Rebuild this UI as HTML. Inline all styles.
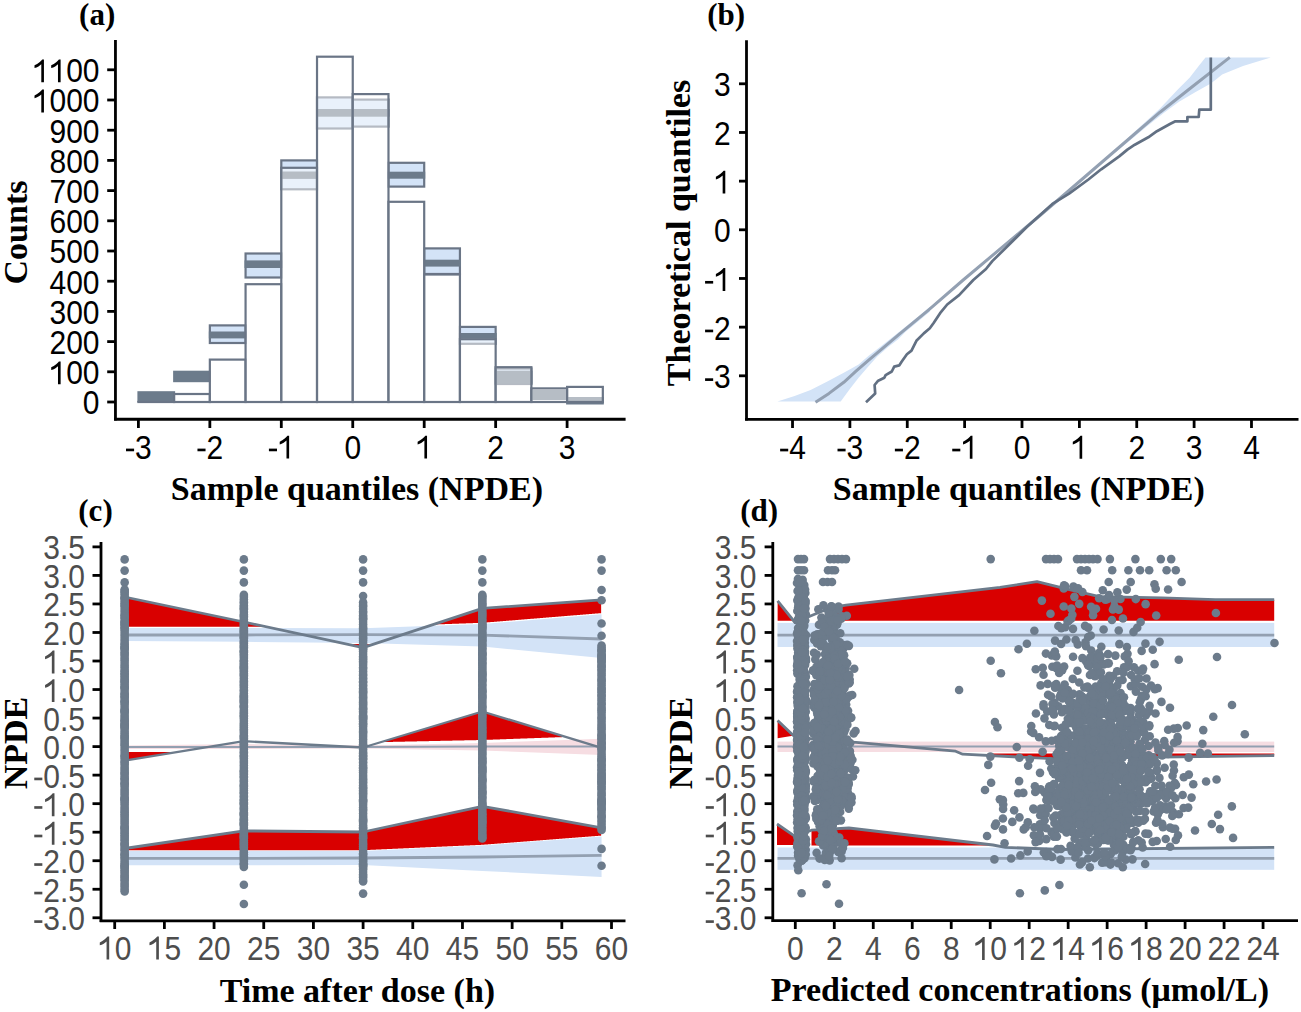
<!DOCTYPE html>
<html><head><meta charset="utf-8"><title>NPDE diagnostics</title>
<style>html,body{margin:0;padding:0;background:#fff;overflow:hidden}svg{display:block}</style>
</head><body>
<svg width="1301" height="1012" viewBox="0 0 1301 1012">
<rect width="1301" height="1012" fill="#fff"/>
<rect x="137.4" y="391.2" width="37.73" height="10.8" fill="#6c7b8b" />
<rect x="173.12" y="370.7" width="37.72" height="11.5" fill="#6c7b8b" />
<rect x="209.85" y="325.4" width="35.72" height="17.6" fill="#d3e3f7" stroke="#6a7586" stroke-width="2.2"/>
<rect x="208.85" y="331.5" width="37.72" height="6.9" fill="#6c7b8b" />
<rect x="245.57" y="253.5" width="35.73" height="24" fill="#d3e3f7" stroke="#6a7586" stroke-width="2.2"/>
<rect x="244.57" y="260.4" width="37.73" height="7.6" fill="#6c7b8b" />
<rect x="281.3" y="160.4" width="35.72" height="28.9" fill="#d3e3f7" stroke="#6a7586" stroke-width="2.2"/>
<rect x="280.3" y="171.5" width="37.72" height="7.4" fill="#6c7b8b" />
<rect x="317.02" y="97.4" width="35.73" height="31.1" fill="#d3e3f7" stroke="#6a7586" stroke-width="2.2"/>
<rect x="316.02" y="109" width="37.73" height="7.7" fill="#6c7b8b" />
<rect x="352.75" y="99.6" width="35.73" height="27" fill="#d3e3f7" stroke="#6a7586" stroke-width="2.2"/>
<rect x="351.75" y="109" width="37.73" height="7.7" fill="#6c7b8b" />
<rect x="388.48" y="162.8" width="35.72" height="23.8" fill="#d3e3f7" stroke="#6a7586" stroke-width="2.2"/>
<rect x="387.48" y="171.7" width="37.72" height="7" fill="#6c7b8b" />
<rect x="424.2" y="248.4" width="35.73" height="25.6" fill="#d3e3f7" stroke="#6a7586" stroke-width="2.2"/>
<rect x="423.2" y="259.7" width="37.73" height="6.9" fill="#6c7b8b" />
<rect x="459.93" y="326.9" width="35.72" height="16.9" fill="#d3e3f7" stroke="#6a7586" stroke-width="2.2"/>
<rect x="458.93" y="333" width="37.72" height="5.4" fill="#6c7b8b" />
<rect x="495.65" y="368.5" width="35.73" height="15.5" fill="#d3e3f7" stroke="#6a7586" stroke-width="2.2"/>
<rect x="494.65" y="370.7" width="37.73" height="13.1" fill="#6c7b8b" />
<rect x="530.38" y="390" width="37.73" height="10" fill="#6c7b8b" />
<rect x="566.1" y="397" width="37.73" height="7.5" fill="#6c7b8b" />
<rect x="138.4" y="402" width="35.73" height="0.01" fill="#fff" fill-opacity="0.5" stroke="#6a7586" stroke-width="2.2"/>
<rect x="174.12" y="394" width="35.72" height="8" fill="#fff" fill-opacity="0.5" stroke="#6a7586" stroke-width="2.2"/>
<rect x="209.85" y="359.6" width="35.72" height="42.4" fill="#fff" fill-opacity="0.5" stroke="#6a7586" stroke-width="2.2"/>
<rect x="245.57" y="284.2" width="35.73" height="117.8" fill="#fff" fill-opacity="0.5" stroke="#6a7586" stroke-width="2.2"/>
<rect x="281.3" y="167.8" width="35.72" height="234.2" fill="#fff" fill-opacity="0.5" stroke="#6a7586" stroke-width="2.2"/>
<rect x="317.02" y="56.7" width="35.73" height="345.3" fill="#fff" fill-opacity="0.5" stroke="#6a7586" stroke-width="2.2"/>
<rect x="352.75" y="94.1" width="35.73" height="307.9" fill="#fff" fill-opacity="0.5" stroke="#6a7586" stroke-width="2.2"/>
<rect x="388.48" y="201.8" width="35.72" height="200.2" fill="#fff" fill-opacity="0.5" stroke="#6a7586" stroke-width="2.2"/>
<rect x="424.2" y="274.5" width="35.73" height="127.5" fill="#fff" fill-opacity="0.5" stroke="#6a7586" stroke-width="2.2"/>
<rect x="459.93" y="339.2" width="35.72" height="62.8" fill="#fff" fill-opacity="0.5" stroke="#6a7586" stroke-width="2.2"/>
<rect x="495.65" y="367.2" width="35.73" height="34.8" fill="#fff" fill-opacity="0.5" stroke="#6a7586" stroke-width="2.2"/>
<rect x="531.38" y="388.4" width="35.73" height="13.6" fill="#fff" fill-opacity="0.5" stroke="#6a7586" stroke-width="2.2"/>
<rect x="567.1" y="386.9" width="35.73" height="15.1" fill="#fff" fill-opacity="0.5" stroke="#6a7586" stroke-width="2.2"/>
<line x1="115.45" y1="40" x2="115.45" y2="420.6" stroke="#000" stroke-width="2.8"/>
<line x1="114.1" y1="419.25" x2="625.6" y2="419.25" stroke="#000" stroke-width="2.8"/>
<line x1="107.2" y1="402" x2="115" y2="402" stroke="#000" stroke-width="2.8"/>
<g transform="translate(82.82,402.7) scale(1,1.1) translate(0,10.7)"><text x="0" y="0" font-family='"Liberation Sans", sans-serif' font-size="30" fill="#000">0</text></g>
<line x1="107.2" y1="371.8" x2="115" y2="371.8" stroke="#000" stroke-width="2.8"/>
<g transform="translate(49.45,372.5) scale(1,1.1) translate(0,10.7)"><path transform="translate(0,0) scale(0.014648,-0.014648)" d="M763,0L583,0L583,1120Q510,1050 390,985Q260,920 120,880L120,1050Q300,1120 460,1250Q590,1360 646,1420L763,1420Z" fill="#000"/><text x="16.68" y="0" font-family='"Liberation Sans", sans-serif' font-size="30" fill="#000">0</text><text x="33.37" y="0" font-family='"Liberation Sans", sans-serif' font-size="30" fill="#000">0</text></g>
<line x1="107.2" y1="341.6" x2="115" y2="341.6" stroke="#000" stroke-width="2.8"/>
<g transform="translate(49.45,342.3) scale(1,1.1) translate(0,10.7)"><text x="0" y="0" font-family='"Liberation Sans", sans-serif' font-size="30" fill="#000">2</text><text x="16.68" y="0" font-family='"Liberation Sans", sans-serif' font-size="30" fill="#000">0</text><text x="33.37" y="0" font-family='"Liberation Sans", sans-serif' font-size="30" fill="#000">0</text></g>
<line x1="107.2" y1="311.4" x2="115" y2="311.4" stroke="#000" stroke-width="2.8"/>
<g transform="translate(49.45,312.1) scale(1,1.1) translate(0,10.7)"><text x="0" y="0" font-family='"Liberation Sans", sans-serif' font-size="30" fill="#000">3</text><text x="16.68" y="0" font-family='"Liberation Sans", sans-serif' font-size="30" fill="#000">0</text><text x="33.37" y="0" font-family='"Liberation Sans", sans-serif' font-size="30" fill="#000">0</text></g>
<line x1="107.2" y1="281.2" x2="115" y2="281.2" stroke="#000" stroke-width="2.8"/>
<g transform="translate(49.45,281.9) scale(1,1.1) translate(0,10.7)"><text x="0" y="0" font-family='"Liberation Sans", sans-serif' font-size="30" fill="#000">4</text><text x="16.68" y="0" font-family='"Liberation Sans", sans-serif' font-size="30" fill="#000">0</text><text x="33.37" y="0" font-family='"Liberation Sans", sans-serif' font-size="30" fill="#000">0</text></g>
<line x1="107.2" y1="251" x2="115" y2="251" stroke="#000" stroke-width="2.8"/>
<g transform="translate(49.45,251.7) scale(1,1.1) translate(0,10.7)"><text x="0" y="0" font-family='"Liberation Sans", sans-serif' font-size="30" fill="#000">5</text><text x="16.68" y="0" font-family='"Liberation Sans", sans-serif' font-size="30" fill="#000">0</text><text x="33.37" y="0" font-family='"Liberation Sans", sans-serif' font-size="30" fill="#000">0</text></g>
<line x1="107.2" y1="220.8" x2="115" y2="220.8" stroke="#000" stroke-width="2.8"/>
<g transform="translate(49.45,221.5) scale(1,1.1) translate(0,10.7)"><text x="0" y="0" font-family='"Liberation Sans", sans-serif' font-size="30" fill="#000">6</text><text x="16.68" y="0" font-family='"Liberation Sans", sans-serif' font-size="30" fill="#000">0</text><text x="33.37" y="0" font-family='"Liberation Sans", sans-serif' font-size="30" fill="#000">0</text></g>
<line x1="107.2" y1="190.6" x2="115" y2="190.6" stroke="#000" stroke-width="2.8"/>
<g transform="translate(49.45,191.3) scale(1,1.1) translate(0,10.7)"><text x="0" y="0" font-family='"Liberation Sans", sans-serif' font-size="30" fill="#000">7</text><text x="16.68" y="0" font-family='"Liberation Sans", sans-serif' font-size="30" fill="#000">0</text><text x="33.37" y="0" font-family='"Liberation Sans", sans-serif' font-size="30" fill="#000">0</text></g>
<line x1="107.2" y1="160.4" x2="115" y2="160.4" stroke="#000" stroke-width="2.8"/>
<g transform="translate(49.45,161.1) scale(1,1.1) translate(0,10.7)"><text x="0" y="0" font-family='"Liberation Sans", sans-serif' font-size="30" fill="#000">8</text><text x="16.68" y="0" font-family='"Liberation Sans", sans-serif' font-size="30" fill="#000">0</text><text x="33.37" y="0" font-family='"Liberation Sans", sans-serif' font-size="30" fill="#000">0</text></g>
<line x1="107.2" y1="130.2" x2="115" y2="130.2" stroke="#000" stroke-width="2.8"/>
<g transform="translate(49.45,130.9) scale(1,1.1) translate(0,10.7)"><text x="0" y="0" font-family='"Liberation Sans", sans-serif' font-size="30" fill="#000">9</text><text x="16.68" y="0" font-family='"Liberation Sans", sans-serif' font-size="30" fill="#000">0</text><text x="33.37" y="0" font-family='"Liberation Sans", sans-serif' font-size="30" fill="#000">0</text></g>
<line x1="107.2" y1="100" x2="115" y2="100" stroke="#000" stroke-width="2.8"/>
<g transform="translate(32.76,100.7) scale(1,1.1) translate(0,10.7)"><path transform="translate(0,0) scale(0.014648,-0.014648)" d="M763,0L583,0L583,1120Q510,1050 390,985Q260,920 120,880L120,1050Q300,1120 460,1250Q590,1360 646,1420L763,1420Z" fill="#000"/><text x="16.68" y="0" font-family='"Liberation Sans", sans-serif' font-size="30" fill="#000">0</text><text x="33.37" y="0" font-family='"Liberation Sans", sans-serif' font-size="30" fill="#000">0</text><text x="50.05" y="0" font-family='"Liberation Sans", sans-serif' font-size="30" fill="#000">0</text></g>
<line x1="107.2" y1="69.8" x2="115" y2="69.8" stroke="#000" stroke-width="2.8"/>
<g transform="translate(32.76,70.5) scale(1,1.1) translate(0,10.7)"><path transform="translate(0,0) scale(0.014648,-0.014648)" d="M763,0L583,0L583,1120Q510,1050 390,985Q260,920 120,880L120,1050Q300,1120 460,1250Q590,1360 646,1420L763,1420Z" fill="#000"/><path transform="translate(16.68,0) scale(0.014648,-0.014648)" d="M763,0L583,0L583,1120Q510,1050 390,985Q260,920 120,880L120,1050Q300,1120 460,1250Q590,1360 646,1420L763,1420Z" fill="#000"/><text x="33.37" y="0" font-family='"Liberation Sans", sans-serif' font-size="30" fill="#000">0</text><text x="50.05" y="0" font-family='"Liberation Sans", sans-serif' font-size="30" fill="#000">0</text></g>
<line x1="138.4" y1="419" x2="138.4" y2="428" stroke="#000" stroke-width="2.8"/>
<g transform="translate(125.06,458.6) scale(1,1.1)"><path transform="translate(0,0) scale(0.014648,-0.014648)" d="M65,455L617,455L617,620L65,620Z" fill="#000"/><text x="9.99" y="0" font-family='"Liberation Sans", sans-serif' font-size="30" fill="#000">3</text></g>
<line x1="209.85" y1="419" x2="209.85" y2="428" stroke="#000" stroke-width="2.8"/>
<g transform="translate(196.51,458.6) scale(1,1.1)"><path transform="translate(0,0) scale(0.014648,-0.014648)" d="M65,455L617,455L617,620L65,620Z" fill="#000"/><text x="9.99" y="0" font-family='"Liberation Sans", sans-serif' font-size="30" fill="#000">2</text></g>
<line x1="281.3" y1="419" x2="281.3" y2="428" stroke="#000" stroke-width="2.8"/>
<g transform="translate(267.96,458.6) scale(1,1.1)"><path transform="translate(0,0) scale(0.014648,-0.014648)" d="M65,455L617,455L617,620L65,620Z" fill="#000"/><path transform="translate(9.99,0) scale(0.014648,-0.014648)" d="M763,0L583,0L583,1120Q510,1050 390,985Q260,920 120,880L120,1050Q300,1120 460,1250Q590,1360 646,1420L763,1420Z" fill="#000"/></g>
<line x1="352.75" y1="419" x2="352.75" y2="428" stroke="#000" stroke-width="2.8"/>
<g transform="translate(344.41,458.6) scale(1,1.1)"><text x="0" y="0" font-family='"Liberation Sans", sans-serif' font-size="30" fill="#000">0</text></g>
<line x1="424.2" y1="419" x2="424.2" y2="428" stroke="#000" stroke-width="2.8"/>
<g transform="translate(415.86,458.6) scale(1,1.1)"><path transform="translate(0,0) scale(0.014648,-0.014648)" d="M763,0L583,0L583,1120Q510,1050 390,985Q260,920 120,880L120,1050Q300,1120 460,1250Q590,1360 646,1420L763,1420Z" fill="#000"/></g>
<line x1="495.65" y1="419" x2="495.65" y2="428" stroke="#000" stroke-width="2.8"/>
<g transform="translate(487.31,458.6) scale(1,1.1)"><text x="0" y="0" font-family='"Liberation Sans", sans-serif' font-size="30" fill="#000">2</text></g>
<line x1="567.1" y1="419" x2="567.1" y2="428" stroke="#000" stroke-width="2.8"/>
<g transform="translate(558.76,458.6) scale(1,1.1)"><text x="0" y="0" font-family='"Liberation Sans", sans-serif' font-size="30" fill="#000">3</text></g>
<text x="356.9" y="499.8" text-anchor="middle" font-family='"Liberation Serif", serif' font-size="34" font-weight="bold" fill="#000">Sample quantiles (NPDE)</text>
<text transform="translate(26.9,232.5) rotate(-90)" text-anchor="middle" font-family='"Liberation Serif", serif' font-size="34" font-weight="bold" fill="#000">Counts</text>
<text x="79.1" y="25" text-anchor="start" font-family='"Liberation Serif", serif' font-size="31" font-weight="bold" fill="#000">(a)</text>
<polygon points="777.4,401.6 794.6,396.1 810.6,390 827.8,381.3 843.8,372.7 858.6,364.4 868.4,356 880.7,346.6 893,336.8 905.3,327 918,316.8 930,306.8 930,311.5 918,321.5 905.3,332 897.9,339.5 888.1,346.9 877,356.7 867.2,367.8 858.6,377.7 850,388.7 840.7,401.6" fill="#d3e3f7" />
<polygon points="1112,152.5 1120,145.5 1134.8,131.5 1150.8,117 1160,108.6 1177.8,89.6 1189.6,77.8 1198.7,66 1205.5,57.4 1270.7,57.4 1243,66 1222.1,74.6 1216,79.5 1210.4,83.7 1195.6,92 1179,101.7 1163,113.5 1147,126.3 1132.3,138.6 1120,148.5 1112,155" fill="#d3e3f7" />
<polyline points="815.5,402.3 829,393.4 843.8,382.3 856,371.2 868.4,360.4 900,333.6 928.7,309.8 962.6,280.5 1040,215.5 1116.6,149.5 1160,112.2 1190,88.5 1229.8,57.4" fill="none" stroke="#93a0b2" stroke-width="3.0" stroke-linejoin="round" />
<polyline points="866,402.3 875.2,393.6 874.6,385 878.2,380.7 884.4,377.7 885.6,375.2 891.8,371.5 894.2,366.6 899.2,365.4 901.6,361.7 906.9,354.3 911.5,350.6 916.4,340.8 923.8,333.4 929.8,328.3 933.8,322.7 940.1,313.2 947.2,304.5 959.1,295.1 973.3,280 986,269 992.3,261.1 1004.9,248.8 1026.8,227 1052.4,203.9 1069.1,193.6 1088.4,179.5 1101.2,169.3 1119.2,156.4 1127.4,149.6 1134.8,144.7 1148.3,137.3 1156.9,131.2 1170.4,123.8 1175.4,121.3 1187.4,121.3 1187.4,117 1198.7,117 1199.3,109.7 1210.8,109.7 1210.8,57.4" fill="none" stroke="#627083" stroke-width="2.7" stroke-linejoin="round" />
<line x1="746.5" y1="40.3" x2="746.5" y2="420.6" stroke="#000" stroke-width="2.8"/>
<line x1="745.1" y1="419.3" x2="1298.5" y2="419.3" stroke="#000" stroke-width="2.7"/>
<line x1="739" y1="375.81" x2="746" y2="375.81" stroke="#000" stroke-width="2.8"/>
<g transform="translate(704.13,376.51) scale(1,1.1) translate(0,10.7)"><path transform="translate(0,0) scale(0.014648,-0.014648)" d="M65,455L617,455L617,620L65,620Z" fill="#000"/><text x="9.99" y="0" font-family='"Liberation Sans", sans-serif' font-size="30" fill="#000">3</text></g>
<line x1="739" y1="327.14" x2="746" y2="327.14" stroke="#000" stroke-width="2.8"/>
<g transform="translate(704.13,327.84) scale(1,1.1) translate(0,10.7)"><path transform="translate(0,0) scale(0.014648,-0.014648)" d="M65,455L617,455L617,620L65,620Z" fill="#000"/><text x="9.99" y="0" font-family='"Liberation Sans", sans-serif' font-size="30" fill="#000">2</text></g>
<line x1="739" y1="278.47" x2="746" y2="278.47" stroke="#000" stroke-width="2.8"/>
<g transform="translate(704.13,279.17) scale(1,1.1) translate(0,10.7)"><path transform="translate(0,0) scale(0.014648,-0.014648)" d="M65,455L617,455L617,620L65,620Z" fill="#000"/><path transform="translate(9.99,0) scale(0.014648,-0.014648)" d="M763,0L583,0L583,1120Q510,1050 390,985Q260,920 120,880L120,1050Q300,1120 460,1250Q590,1360 646,1420L763,1420Z" fill="#000"/></g>
<line x1="739" y1="229.8" x2="746" y2="229.8" stroke="#000" stroke-width="2.8"/>
<g transform="translate(714.12,230.5) scale(1,1.1) translate(0,10.7)"><text x="0" y="0" font-family='"Liberation Sans", sans-serif' font-size="30" fill="#000">0</text></g>
<line x1="739" y1="181.13" x2="746" y2="181.13" stroke="#000" stroke-width="2.8"/>
<g transform="translate(714.12,181.83) scale(1,1.1) translate(0,10.7)"><path transform="translate(0,0) scale(0.014648,-0.014648)" d="M763,0L583,0L583,1120Q510,1050 390,985Q260,920 120,880L120,1050Q300,1120 460,1250Q590,1360 646,1420L763,1420Z" fill="#000"/></g>
<line x1="739" y1="132.46" x2="746" y2="132.46" stroke="#000" stroke-width="2.8"/>
<g transform="translate(714.12,133.16) scale(1,1.1) translate(0,10.7)"><text x="0" y="0" font-family='"Liberation Sans", sans-serif' font-size="30" fill="#000">2</text></g>
<line x1="739" y1="83.79" x2="746" y2="83.79" stroke="#000" stroke-width="2.8"/>
<g transform="translate(714.12,84.49) scale(1,1.1) translate(0,10.7)"><text x="0" y="0" font-family='"Liberation Sans", sans-serif' font-size="30" fill="#000">3</text></g>
<line x1="792.52" y1="419" x2="792.52" y2="428" stroke="#000" stroke-width="2.8"/>
<g transform="translate(779.18,458.7) scale(1,1.1)"><path transform="translate(0,0) scale(0.014648,-0.014648)" d="M65,455L617,455L617,620L65,620Z" fill="#000"/><text x="9.99" y="0" font-family='"Liberation Sans", sans-serif' font-size="30" fill="#000">4</text></g>
<line x1="849.89" y1="419" x2="849.89" y2="428" stroke="#000" stroke-width="2.8"/>
<g transform="translate(836.55,458.7) scale(1,1.1)"><path transform="translate(0,0) scale(0.014648,-0.014648)" d="M65,455L617,455L617,620L65,620Z" fill="#000"/><text x="9.99" y="0" font-family='"Liberation Sans", sans-serif' font-size="30" fill="#000">3</text></g>
<line x1="907.26" y1="419" x2="907.26" y2="428" stroke="#000" stroke-width="2.8"/>
<g transform="translate(893.92,458.7) scale(1,1.1)"><path transform="translate(0,0) scale(0.014648,-0.014648)" d="M65,455L617,455L617,620L65,620Z" fill="#000"/><text x="9.99" y="0" font-family='"Liberation Sans", sans-serif' font-size="30" fill="#000">2</text></g>
<line x1="964.63" y1="419" x2="964.63" y2="428" stroke="#000" stroke-width="2.8"/>
<g transform="translate(951.29,458.7) scale(1,1.1)"><path transform="translate(0,0) scale(0.014648,-0.014648)" d="M65,455L617,455L617,620L65,620Z" fill="#000"/><path transform="translate(9.99,0) scale(0.014648,-0.014648)" d="M763,0L583,0L583,1120Q510,1050 390,985Q260,920 120,880L120,1050Q300,1120 460,1250Q590,1360 646,1420L763,1420Z" fill="#000"/></g>
<line x1="1022" y1="419" x2="1022" y2="428" stroke="#000" stroke-width="2.8"/>
<g transform="translate(1013.66,458.7) scale(1,1.1)"><text x="0" y="0" font-family='"Liberation Sans", sans-serif' font-size="30" fill="#000">0</text></g>
<line x1="1079.37" y1="419" x2="1079.37" y2="428" stroke="#000" stroke-width="2.8"/>
<g transform="translate(1071.03,458.7) scale(1,1.1)"><path transform="translate(0,0) scale(0.014648,-0.014648)" d="M763,0L583,0L583,1120Q510,1050 390,985Q260,920 120,880L120,1050Q300,1120 460,1250Q590,1360 646,1420L763,1420Z" fill="#000"/></g>
<line x1="1136.74" y1="419" x2="1136.74" y2="428" stroke="#000" stroke-width="2.8"/>
<g transform="translate(1128.4,458.7) scale(1,1.1)"><text x="0" y="0" font-family='"Liberation Sans", sans-serif' font-size="30" fill="#000">2</text></g>
<line x1="1194.11" y1="419" x2="1194.11" y2="428" stroke="#000" stroke-width="2.8"/>
<g transform="translate(1185.77,458.7) scale(1,1.1)"><text x="0" y="0" font-family='"Liberation Sans", sans-serif' font-size="30" fill="#000">3</text></g>
<line x1="1251.48" y1="419" x2="1251.48" y2="428" stroke="#000" stroke-width="2.8"/>
<g transform="translate(1243.14,458.7) scale(1,1.1)"><text x="0" y="0" font-family='"Liberation Sans", sans-serif' font-size="30" fill="#000">4</text></g>
<text x="1018.8" y="500" text-anchor="middle" font-family='"Liberation Serif", serif' font-size="34" font-weight="bold" fill="#000">Sample quantiles (NPDE)</text>
<text transform="translate(689.5,233) rotate(-90)" text-anchor="middle" font-family='"Liberation Serif", serif' font-size="34" font-weight="bold" fill="#000">Theoretical quantiles</text>
<text x="707.3" y="24.8" text-anchor="start" font-family='"Liberation Serif", serif' font-size="31" font-weight="bold" fill="#000">(b)</text>
<polygon points="124.64,628 243.87,628 363.1,628.2 482.33,624 601.56,614.3 601.56,658 482.33,646.5 363.1,642.9 243.87,641.8 124.64,641" fill="#d3e3f7" />
<polygon points="124.64,745.5 243.87,744 363.1,745.5 482.33,743 601.56,738.7 601.56,754.9 482.33,750.6 363.1,748.5 243.87,749 124.64,749" fill="#f6dde2" />
<polygon points="124.64,851 243.87,851 363.1,851 482.33,845.6 601.56,836.4 601.56,876.9 482.33,871 363.1,865 243.87,865.3 124.64,865.3" fill="#d3e3f7" />
<polygon points="124.64,597 125.14,597.1 125.64,597.21 126.14,597.31 126.64,597.42 127.14,597.52 127.64,597.63 128.14,597.73 128.64,597.84 129.14,597.94 129.64,598.05 130.14,598.15 130.64,598.26 131.14,598.36 131.64,598.47 132.14,598.57 132.64,598.68 133.14,598.78 133.64,598.89 134.14,598.99 134.64,599.1 135.14,599.2 135.64,599.31 136.14,599.41 136.64,599.52 137.14,599.62 137.64,599.73 138.14,599.83 138.64,599.94 139.14,600.04 139.64,600.15 140.14,600.25 140.64,600.35 141.14,600.46 141.64,600.56 142.14,600.67 142.64,600.77 143.14,600.88 143.64,600.98 144.14,601.09 144.64,601.19 145.14,601.3 145.64,601.4 146.14,601.51 146.64,601.61 147.14,601.72 147.64,601.82 148.14,601.93 148.64,602.03 149.14,602.14 149.64,602.24 150.14,602.35 150.64,602.45 151.14,602.56 151.64,602.66 152.14,602.77 152.64,602.87 153.14,602.98 153.64,603.08 154.14,603.19 154.64,603.29 155.14,603.4 155.64,603.5 156.14,603.6 156.64,603.71 157.14,603.81 157.64,603.92 158.14,604.02 158.64,604.13 159.14,604.23 159.64,604.34 160.14,604.44 160.64,604.55 161.14,604.65 161.64,604.76 162.14,604.86 162.64,604.97 163.14,605.07 163.64,605.18 164.14,605.28 164.64,605.39 165.14,605.49 165.64,605.6 166.14,605.7 166.64,605.81 167.14,605.91 167.64,606.02 168.14,606.12 168.64,606.23 169.14,606.33 169.64,606.44 170.14,606.54 170.64,606.65 171.14,606.75 171.64,606.85 172.14,606.96 172.64,607.06 173.14,607.17 173.64,607.27 174.14,607.38 174.64,607.48 175.14,607.59 175.64,607.69 176.14,607.8 176.64,607.9 177.14,608.01 177.64,608.11 178.14,608.22 178.64,608.32 179.14,608.43 179.64,608.53 180.14,608.64 180.64,608.74 181.14,608.85 181.64,608.95 182.14,609.06 182.64,609.16 183.14,609.27 183.64,609.37 184.14,609.48 184.64,609.58 185.14,609.69 185.64,609.79 186.14,609.9 186.64,610 187.14,610.1 187.64,610.21 188.14,610.31 188.64,610.42 189.14,610.52 189.64,610.63 190.14,610.73 190.64,610.84 191.14,610.94 191.64,611.05 192.14,611.15 192.64,611.26 193.14,611.36 193.64,611.47 194.14,611.57 194.64,611.68 195.14,611.78 195.64,611.89 196.14,611.99 196.64,612.1 197.14,612.2 197.64,612.31 198.14,612.41 198.64,612.52 199.14,612.62 199.64,612.73 200.14,612.83 200.64,612.94 201.14,613.04 201.64,613.14 202.14,613.25 202.64,613.35 203.14,613.46 203.64,613.56 204.14,613.67 204.64,613.77 205.14,613.88 205.64,613.98 206.14,614.09 206.64,614.19 207.14,614.3 207.64,614.4 208.14,614.51 208.64,614.61 209.14,614.72 209.64,614.82 210.14,614.93 210.64,615.03 211.14,615.14 211.64,615.24 212.14,615.35 212.64,615.45 213.14,615.56 213.64,615.66 214.14,615.77 214.64,615.87 215.14,615.98 215.64,616.08 216.14,616.19 216.64,616.29 217.14,616.39 217.64,616.5 218.14,616.6 218.64,616.71 219.14,616.81 219.64,616.92 220.14,617.02 220.64,617.13 221.14,617.23 221.64,617.34 222.14,617.44 222.64,617.55 223.14,617.65 223.64,617.76 224.14,617.86 224.64,617.97 225.14,618.07 225.64,618.18 226.14,618.28 226.64,618.39 227.14,618.49 227.64,618.6 228.14,618.7 228.64,618.81 229.14,618.91 229.64,619.02 230.14,619.12 230.64,619.23 231.14,619.33 231.64,619.44 232.14,619.54 232.64,619.64 233.14,619.75 233.64,619.85 234.14,619.96 234.64,620.06 235.14,620.17 235.64,620.27 236.14,620.38 236.64,620.48 237.14,620.59 237.64,620.69 238.14,620.8 238.64,620.9 239.14,621.01 239.64,621.11 240.14,621.22 240.64,621.32 241.14,621.43 241.64,621.53 242.14,621.64 242.64,621.74 243.14,621.85 243.64,621.95 244.14,622.06 244.64,622.16 245.14,622.27 245.64,622.38 246.14,622.49 246.64,622.59 247.14,622.7 247.64,622.81 248.14,622.92 248.64,623.02 249.14,623.13 249.64,623.24 250.14,623.35 250.64,623.45 251.14,623.56 251.64,623.67 252.14,623.78 252.64,623.88 253.14,623.99 253.64,624.1 254.14,624.2 254.64,624.31 255.14,624.42 255.64,624.53 256.14,624.63 256.64,624.74 257.14,624.85 257.64,624.96 258.14,625.06 258.64,625.17 259.14,625.28 259.64,625.39 260.14,625.49 260.64,625.6 261.14,625.71 261.64,625.81 262.14,625.92 262.64,626.03 263.14,626.14 263.64,626.24 264.14,626.35 264.64,626.46 265.14,626.57 265.64,626.67 266.14,626.78 266.14,626.84 265.64,626.84 265.14,626.84 264.64,626.83 264.14,626.83 263.64,626.83 263.14,626.83 262.64,626.83 262.14,626.83 261.64,626.83 261.14,626.83 260.64,626.83 260.14,626.83 259.64,626.83 259.14,626.83 258.64,626.82 258.14,626.82 257.64,626.82 257.14,626.82 256.64,626.82 256.14,626.82 255.64,626.82 255.14,626.82 254.64,626.82 254.14,626.82 253.64,626.82 253.14,626.82 252.64,626.81 252.14,626.81 251.64,626.81 251.14,626.81 250.64,626.81 250.14,626.81 249.64,626.81 249.14,626.81 248.64,626.81 248.14,626.81 247.64,626.81 247.14,626.81 246.64,626.8 246.14,626.8 245.64,626.8 245.14,626.8 244.64,626.8 244.14,626.8 243.64,626.8 243.14,626.8 242.64,626.8 242.14,626.8 241.64,626.8 241.14,626.8 240.64,626.8 240.14,626.8 239.64,626.8 239.14,626.8 238.64,626.8 238.14,626.8 237.64,626.8 237.14,626.8 236.64,626.8 236.14,626.8 235.64,626.8 235.14,626.8 234.64,626.8 234.14,626.8 233.64,626.8 233.14,626.8 232.64,626.8 232.14,626.8 231.64,626.8 231.14,626.8 230.64,626.8 230.14,626.8 229.64,626.8 229.14,626.8 228.64,626.8 228.14,626.8 227.64,626.8 227.14,626.8 226.64,626.8 226.14,626.8 225.64,626.8 225.14,626.8 224.64,626.8 224.14,626.8 223.64,626.8 223.14,626.8 222.64,626.8 222.14,626.8 221.64,626.8 221.14,626.8 220.64,626.8 220.14,626.8 219.64,626.8 219.14,626.8 218.64,626.8 218.14,626.8 217.64,626.8 217.14,626.8 216.64,626.8 216.14,626.8 215.64,626.8 215.14,626.8 214.64,626.8 214.14,626.8 213.64,626.8 213.14,626.8 212.64,626.8 212.14,626.8 211.64,626.8 211.14,626.8 210.64,626.8 210.14,626.8 209.64,626.8 209.14,626.8 208.64,626.8 208.14,626.8 207.64,626.8 207.14,626.8 206.64,626.8 206.14,626.8 205.64,626.8 205.14,626.8 204.64,626.8 204.14,626.8 203.64,626.8 203.14,626.8 202.64,626.8 202.14,626.8 201.64,626.8 201.14,626.8 200.64,626.8 200.14,626.8 199.64,626.8 199.14,626.8 198.64,626.8 198.14,626.8 197.64,626.8 197.14,626.8 196.64,626.8 196.14,626.8 195.64,626.8 195.14,626.8 194.64,626.8 194.14,626.8 193.64,626.8 193.14,626.8 192.64,626.8 192.14,626.8 191.64,626.8 191.14,626.8 190.64,626.8 190.14,626.8 189.64,626.8 189.14,626.8 188.64,626.8 188.14,626.8 187.64,626.8 187.14,626.8 186.64,626.8 186.14,626.8 185.64,626.8 185.14,626.8 184.64,626.8 184.14,626.8 183.64,626.8 183.14,626.8 182.64,626.8 182.14,626.8 181.64,626.8 181.14,626.8 180.64,626.8 180.14,626.8 179.64,626.8 179.14,626.8 178.64,626.8 178.14,626.8 177.64,626.8 177.14,626.8 176.64,626.8 176.14,626.8 175.64,626.8 175.14,626.8 174.64,626.8 174.14,626.8 173.64,626.8 173.14,626.8 172.64,626.8 172.14,626.8 171.64,626.8 171.14,626.8 170.64,626.8 170.14,626.8 169.64,626.8 169.14,626.8 168.64,626.8 168.14,626.8 167.64,626.8 167.14,626.8 166.64,626.8 166.14,626.8 165.64,626.8 165.14,626.8 164.64,626.8 164.14,626.8 163.64,626.8 163.14,626.8 162.64,626.8 162.14,626.8 161.64,626.8 161.14,626.8 160.64,626.8 160.14,626.8 159.64,626.8 159.14,626.8 158.64,626.8 158.14,626.8 157.64,626.8 157.14,626.8 156.64,626.8 156.14,626.8 155.64,626.8 155.14,626.8 154.64,626.8 154.14,626.8 153.64,626.8 153.14,626.8 152.64,626.8 152.14,626.8 151.64,626.8 151.14,626.8 150.64,626.8 150.14,626.8 149.64,626.8 149.14,626.8 148.64,626.8 148.14,626.8 147.64,626.8 147.14,626.8 146.64,626.8 146.14,626.8 145.64,626.8 145.14,626.8 144.64,626.8 144.14,626.8 143.64,626.8 143.14,626.8 142.64,626.8 142.14,626.8 141.64,626.8 141.14,626.8 140.64,626.8 140.14,626.8 139.64,626.8 139.14,626.8 138.64,626.8 138.14,626.8 137.64,626.8 137.14,626.8 136.64,626.8 136.14,626.8 135.64,626.8 135.14,626.8 134.64,626.8 134.14,626.8 133.64,626.8 133.14,626.8 132.64,626.8 132.14,626.8 131.64,626.8 131.14,626.8 130.64,626.8 130.14,626.8 129.64,626.8 129.14,626.8 128.64,626.8 128.14,626.8 127.64,626.8 127.14,626.8 126.64,626.8 126.14,626.8 125.64,626.8 125.14,626.8 124.64,626.8" fill="#d90000" />
<polygon points="346.14,643.94 346.64,643.95 347.14,643.95 347.64,643.96 348.14,643.96 348.64,643.97 349.14,643.97 349.64,643.98 350.14,643.98 350.64,643.99 351.14,643.99 351.64,643.99 352.14,644 352.64,644 353.14,644.01 353.64,644.01 354.14,644.02 354.64,644.02 355.14,644.03 355.64,644.03 356.14,644.04 356.64,644.04 357.14,644.04 357.64,644.05 358.14,644.05 358.64,644.06 359.14,644.06 359.64,644.07 360.14,644.07 360.64,644.08 361.14,644.08 361.64,644.09 362.14,644.09 362.64,644.1 363.14,644.1 363.64,644.12 364.14,644.13 364.64,644.15 365.14,644.16 365.64,644.18 366.14,644.19 366.64,644.21 367.14,644.22 367.64,644.24 368.14,644.25 368.64,644.27 369.14,644.28 369.64,644.3 370.14,644.31 370.64,644.33 371.14,644.34 371.64,644.36 372.14,644.37 372.64,644.39 372.64,644.46 372.14,644.63 371.64,644.79 371.14,644.96 370.64,645.12 370.14,645.29 369.64,645.45 369.14,645.62 368.64,645.78 368.14,645.94 367.64,646.11 367.14,646.27 366.64,646.44 366.14,646.6 365.64,646.77 365.14,646.93 364.64,647.1 364.14,647.26 363.64,647.42 363.14,647.59 362.64,647.5 362.14,647.39 361.64,647.29 361.14,647.18 360.64,647.07 360.14,646.96 359.64,646.86 359.14,646.75 358.64,646.64 358.14,646.53 357.64,646.43 357.14,646.32 356.64,646.21 356.14,646.1 355.64,646 355.14,645.89 354.64,645.78 354.14,645.68 353.64,645.57 353.14,645.46 352.64,645.35 352.14,645.25 351.64,645.14 351.14,645.03 350.64,644.92 350.14,644.82 349.64,644.71 349.14,644.6 348.64,644.49 348.14,644.39 347.64,644.28 347.14,644.17 346.64,644.07 346.14,643.96" fill="#d90000" />
<polygon points="433.64,624.41 434.14,624.25 434.64,624.08 435.14,623.92 435.64,623.75 436.14,623.59 436.64,623.42 437.14,623.26 437.64,623.09 438.14,622.93 438.64,622.77 439.14,622.6 439.64,622.44 440.14,622.27 440.64,622.11 441.14,621.94 441.64,621.78 442.14,621.62 442.64,621.45 443.14,621.29 443.64,621.12 444.14,620.96 444.64,620.79 445.14,620.63 445.64,620.46 446.14,620.3 446.64,620.14 447.14,619.97 447.64,619.81 448.14,619.64 448.64,619.48 449.14,619.31 449.64,619.15 450.14,618.99 450.64,618.82 451.14,618.66 451.64,618.49 452.14,618.33 452.64,618.16 453.14,618 453.64,617.83 454.14,617.67 454.64,617.51 455.14,617.34 455.64,617.18 456.14,617.01 456.64,616.85 457.14,616.68 457.64,616.52 458.14,616.35 458.64,616.19 459.14,616.03 459.64,615.86 460.14,615.7 460.64,615.53 461.14,615.37 461.64,615.2 462.14,615.04 462.64,614.88 463.14,614.71 463.64,614.55 464.14,614.38 464.64,614.22 465.14,614.05 465.64,613.89 466.14,613.72 466.64,613.56 467.14,613.4 467.64,613.23 468.14,613.07 468.64,612.9 469.14,612.74 469.64,612.57 470.14,612.41 470.64,612.25 471.14,612.08 471.64,611.92 472.14,611.75 472.64,611.59 473.14,611.42 473.64,611.26 474.14,611.09 474.64,610.93 475.14,610.77 475.64,610.6 476.14,610.44 476.64,610.27 477.14,610.11 477.64,609.94 478.14,609.78 478.64,609.62 479.14,609.45 479.64,609.29 480.14,609.12 480.64,608.96 481.14,608.79 481.64,608.63 482.14,608.46 482.64,608.38 483.14,608.34 483.64,608.31 484.14,608.27 484.64,608.23 485.14,608.2 485.64,608.16 486.14,608.13 486.64,608.09 487.14,608.05 487.64,608.02 488.14,607.98 488.64,607.95 489.14,607.91 489.64,607.87 490.14,607.84 490.64,607.8 491.14,607.76 491.64,607.73 492.14,607.69 492.64,607.66 493.14,607.62 493.64,607.58 494.14,607.55 494.64,607.51 495.14,607.48 495.64,607.44 496.14,607.4 496.64,607.37 497.14,607.33 497.64,607.3 498.14,607.26 498.64,607.22 499.14,607.19 499.64,607.15 500.14,607.12 500.64,607.08 501.14,607.04 501.64,607.01 502.14,606.97 502.64,606.94 503.14,606.9 503.64,606.86 504.14,606.83 504.64,606.79 505.14,606.76 505.64,606.72 506.14,606.68 506.64,606.65 507.14,606.61 507.64,606.57 508.14,606.54 508.64,606.5 509.14,606.47 509.64,606.43 510.14,606.39 510.64,606.36 511.14,606.32 511.64,606.29 512.14,606.25 512.64,606.21 513.14,606.18 513.64,606.14 514.14,606.11 514.64,606.07 515.14,606.03 515.64,606 516.14,605.96 516.64,605.93 517.14,605.89 517.64,605.85 518.14,605.82 518.64,605.78 519.14,605.75 519.64,605.71 520.14,605.67 520.64,605.64 521.14,605.6 521.64,605.57 522.14,605.53 522.64,605.49 523.14,605.46 523.64,605.42 524.14,605.38 524.64,605.35 525.14,605.31 525.64,605.28 526.14,605.24 526.64,605.2 527.14,605.17 527.64,605.13 528.14,605.1 528.64,605.06 529.14,605.02 529.64,604.99 530.14,604.95 530.64,604.92 531.14,604.88 531.64,604.84 532.14,604.81 532.64,604.77 533.14,604.74 533.64,604.7 534.14,604.66 534.64,604.63 535.14,604.59 535.64,604.56 536.14,604.52 536.64,604.48 537.14,604.45 537.64,604.41 538.14,604.37 538.64,604.34 539.14,604.3 539.64,604.27 540.14,604.23 540.64,604.19 541.14,604.16 541.64,604.12 542.14,604.09 542.64,604.05 543.14,604.01 543.64,603.98 544.14,603.94 544.64,603.91 545.14,603.87 545.64,603.83 546.14,603.8 546.64,603.76 547.14,603.73 547.64,603.69 548.14,603.65 548.64,603.62 549.14,603.58 549.64,603.55 550.14,603.51 550.64,603.47 551.14,603.44 551.64,603.4 552.14,603.37 552.64,603.33 553.14,603.29 553.64,603.26 554.14,603.22 554.64,603.18 555.14,603.15 555.64,603.11 556.14,603.08 556.64,603.04 557.14,603 557.64,602.97 558.14,602.93 558.64,602.9 559.14,602.86 559.64,602.82 560.14,602.79 560.64,602.75 561.14,602.72 561.64,602.68 562.14,602.64 562.64,602.61 563.14,602.57 563.64,602.54 564.14,602.5 564.64,602.46 565.14,602.43 565.64,602.39 566.14,602.36 566.64,602.32 567.14,602.28 567.64,602.25 568.14,602.21 568.64,602.18 569.14,602.14 569.64,602.1 570.14,602.07 570.64,602.03 571.14,601.99 571.64,601.96 572.14,601.92 572.64,601.89 573.14,601.85 573.64,601.81 574.14,601.78 574.64,601.74 575.14,601.71 575.64,601.67 576.14,601.63 576.64,601.6 577.14,601.56 577.64,601.53 578.14,601.49 578.64,601.45 579.14,601.42 579.64,601.38 580.14,601.35 580.64,601.31 581.14,601.27 581.64,601.24 582.14,601.2 582.64,601.17 583.14,601.13 583.64,601.09 584.14,601.06 584.64,601.02 585.14,600.98 585.64,600.95 586.14,600.91 586.64,600.88 587.14,600.84 587.64,600.8 588.14,600.77 588.64,600.73 589.14,600.7 589.64,600.66 590.14,600.62 590.64,600.59 591.14,600.55 591.64,600.52 592.14,600.48 592.64,600.44 593.14,600.41 593.64,600.37 594.14,600.34 594.64,600.3 595.14,600.26 595.64,600.23 596.14,600.19 596.64,600.16 597.14,600.12 597.64,600.08 598.14,600.05 598.64,600.01 599.14,599.98 599.64,599.94 600.14,599.9 600.64,599.87 601.14,599.83 601.14,613.13 600.64,613.18 600.14,613.22 599.64,613.26 599.14,613.3 598.64,613.34 598.14,613.38 597.64,613.42 597.14,613.46 596.64,613.5 596.14,613.54 595.64,613.58 595.14,613.62 594.64,613.66 594.14,613.7 593.64,613.74 593.14,613.79 592.64,613.83 592.14,613.87 591.64,613.91 591.14,613.95 590.64,613.99 590.14,614.03 589.64,614.07 589.14,614.11 588.64,614.15 588.14,614.19 587.64,614.23 587.14,614.27 586.64,614.31 586.14,614.36 585.64,614.4 585.14,614.44 584.64,614.48 584.14,614.52 583.64,614.56 583.14,614.6 582.64,614.64 582.14,614.68 581.64,614.72 581.14,614.76 580.64,614.8 580.14,614.84 579.64,614.88 579.14,614.92 578.64,614.97 578.14,615.01 577.64,615.05 577.14,615.09 576.64,615.13 576.14,615.17 575.64,615.21 575.14,615.25 574.64,615.29 574.14,615.33 573.64,615.37 573.14,615.41 572.64,615.45 572.14,615.49 571.64,615.53 571.14,615.58 570.64,615.62 570.14,615.66 569.64,615.7 569.14,615.74 568.64,615.78 568.14,615.82 567.64,615.86 567.14,615.9 566.64,615.94 566.14,615.98 565.64,616.02 565.14,616.06 564.64,616.1 564.14,616.14 563.64,616.19 563.14,616.23 562.64,616.27 562.14,616.31 561.64,616.35 561.14,616.39 560.64,616.43 560.14,616.47 559.64,616.51 559.14,616.55 558.64,616.59 558.14,616.63 557.64,616.67 557.14,616.71 556.64,616.76 556.14,616.8 555.64,616.84 555.14,616.88 554.64,616.92 554.14,616.96 553.64,617 553.14,617.04 552.64,617.08 552.14,617.12 551.64,617.16 551.14,617.2 550.64,617.24 550.14,617.28 549.64,617.32 549.14,617.37 548.64,617.41 548.14,617.45 547.64,617.49 547.14,617.53 546.64,617.57 546.14,617.61 545.64,617.65 545.14,617.69 544.64,617.73 544.14,617.77 543.64,617.81 543.14,617.85 542.64,617.89 542.14,617.93 541.64,617.98 541.14,618.02 540.64,618.06 540.14,618.1 539.64,618.14 539.14,618.18 538.64,618.22 538.14,618.26 537.64,618.3 537.14,618.34 536.64,618.38 536.14,618.42 535.64,618.46 535.14,618.5 534.64,618.54 534.14,618.59 533.64,618.63 533.14,618.67 532.64,618.71 532.14,618.75 531.64,618.79 531.14,618.83 530.64,618.87 530.14,618.91 529.64,618.95 529.14,618.99 528.64,619.03 528.14,619.07 527.64,619.11 527.14,619.16 526.64,619.2 526.14,619.24 525.64,619.28 525.14,619.32 524.64,619.36 524.14,619.4 523.64,619.44 523.14,619.48 522.64,619.52 522.14,619.56 521.64,619.6 521.14,619.64 520.64,619.68 520.14,619.72 519.64,619.77 519.14,619.81 518.64,619.85 518.14,619.89 517.64,619.93 517.14,619.97 516.64,620.01 516.14,620.05 515.64,620.09 515.14,620.13 514.64,620.17 514.14,620.21 513.64,620.25 513.14,620.29 512.64,620.33 512.14,620.38 511.64,620.42 511.14,620.46 510.64,620.5 510.14,620.54 509.64,620.58 509.14,620.62 508.64,620.66 508.14,620.7 507.64,620.74 507.14,620.78 506.64,620.82 506.14,620.86 505.64,620.9 505.14,620.94 504.64,620.99 504.14,621.03 503.64,621.07 503.14,621.11 502.64,621.15 502.14,621.19 501.64,621.23 501.14,621.27 500.64,621.31 500.14,621.35 499.64,621.39 499.14,621.43 498.64,621.47 498.14,621.51 497.64,621.55 497.14,621.6 496.64,621.64 496.14,621.68 495.64,621.72 495.14,621.76 494.64,621.8 494.14,621.84 493.64,621.88 493.14,621.92 492.64,621.96 492.14,622 491.64,622.04 491.14,622.08 490.64,622.12 490.14,622.17 489.64,622.21 489.14,622.25 488.64,622.29 488.14,622.33 487.64,622.37 487.14,622.41 486.64,622.45 486.14,622.49 485.64,622.53 485.14,622.57 484.64,622.61 484.14,622.65 483.64,622.69 483.14,622.73 482.64,622.78 482.14,622.81 481.64,622.82 481.14,622.84 480.64,622.86 480.14,622.88 479.64,622.89 479.14,622.91 478.64,622.93 478.14,622.95 477.64,622.97 477.14,622.98 476.64,623 476.14,623.02 475.64,623.04 475.14,623.05 474.64,623.07 474.14,623.09 473.64,623.11 473.14,623.12 472.64,623.14 472.14,623.16 471.64,623.18 471.14,623.19 470.64,623.21 470.14,623.23 469.64,623.25 469.14,623.26 468.64,623.28 468.14,623.3 467.64,623.32 467.14,623.34 466.64,623.35 466.14,623.37 465.64,623.39 465.14,623.41 464.64,623.42 464.14,623.44 463.64,623.46 463.14,623.48 462.64,623.49 462.14,623.51 461.64,623.53 461.14,623.55 460.64,623.56 460.14,623.58 459.64,623.6 459.14,623.62 458.64,623.63 458.14,623.65 457.64,623.67 457.14,623.69 456.64,623.71 456.14,623.72 455.64,623.74 455.14,623.76 454.64,623.78 454.14,623.79 453.64,623.81 453.14,623.83 452.64,623.85 452.14,623.86 451.64,623.88 451.14,623.9 450.64,623.92 450.14,623.93 449.64,623.95 449.14,623.97 448.64,623.99 448.14,624 447.64,624.02 447.14,624.04 446.64,624.06 446.14,624.08 445.64,624.09 445.14,624.11 444.64,624.13 444.14,624.15 443.64,624.16 443.14,624.18 442.64,624.2 442.14,624.22 441.64,624.23 441.14,624.25 440.64,624.27 440.14,624.29 439.64,624.3 439.14,624.32 438.64,624.34 438.14,624.36 437.64,624.37 437.14,624.39 436.64,624.41 436.14,624.43 435.64,624.44 435.14,624.46 434.64,624.48 434.14,624.5 433.64,624.52" fill="#d90000" />
<polygon points="124.64,752 125.14,752 125.64,752 126.14,752 126.64,752 127.14,752 127.64,752 128.14,752 128.64,752 129.14,752 129.64,752 130.14,752 130.64,752 131.14,752 131.64,752 132.14,752 132.64,752 133.14,752 133.64,752 134.14,752 134.64,752 135.14,752 135.64,752 136.14,752 136.64,752 137.14,752 137.64,752 138.14,752 138.64,752 139.14,752 139.64,752 140.14,752 140.64,752 141.14,752 141.64,752 142.14,752 142.64,752 143.14,752 143.64,752 144.14,752 144.64,752 145.14,752 145.64,752 146.14,752 146.64,752 147.14,752 147.64,752 148.14,752 148.64,752 149.14,752 149.64,752 150.14,752 150.64,752 151.14,752 151.64,752 152.14,752 152.64,752 153.14,752 153.64,752 154.14,752 154.64,752 155.14,752 155.64,752 156.14,752 156.64,752 157.14,752 157.64,752 158.14,752 158.64,752 159.14,752 159.64,752 160.14,752 160.64,752 161.14,752 161.64,752 162.14,752 162.64,752 163.14,752 163.64,752 164.14,752 164.64,752 165.14,752 165.64,752 166.14,752 166.64,752 167.14,752 167.64,752 168.14,752 168.64,752 169.14,752 169.64,752 170.14,752 170.64,752 171.14,752 171.64,752 172.14,752 172.64,752 173.14,752 173.64,752 174.14,752 174.64,752 175.14,752 175.64,752 176.14,752 176.64,752 177.14,752 177.14,752.06 176.64,752.14 176.14,752.22 175.64,752.3 175.14,752.38 174.64,752.46 174.14,752.55 173.64,752.63 173.14,752.71 172.64,752.79 172.14,752.87 171.64,752.95 171.14,753.03 170.64,753.12 170.14,753.2 169.64,753.28 169.14,753.36 168.64,753.44 168.14,753.52 167.64,753.6 167.14,753.68 166.64,753.77 166.14,753.85 165.64,753.93 165.14,754.01 164.64,754.09 164.14,754.17 163.64,754.25 163.14,754.34 162.64,754.42 162.14,754.5 161.64,754.58 161.14,754.66 160.64,754.74 160.14,754.82 159.64,754.91 159.14,754.99 158.64,755.07 158.14,755.15 157.64,755.23 157.14,755.31 156.64,755.39 156.14,755.47 155.64,755.56 155.14,755.64 154.64,755.72 154.14,755.8 153.64,755.88 153.14,755.96 152.64,756.04 152.14,756.13 151.64,756.21 151.14,756.29 150.64,756.37 150.14,756.45 149.64,756.53 149.14,756.61 148.64,756.7 148.14,756.78 147.64,756.86 147.14,756.94 146.64,757.02 146.14,757.1 145.64,757.18 145.14,757.26 144.64,757.35 144.14,757.43 143.64,757.51 143.14,757.59 142.64,757.67 142.14,757.75 141.64,757.83 141.14,757.92 140.64,758 140.14,758.08 139.64,758.16 139.14,758.24 138.64,758.32 138.14,758.4 137.64,758.48 137.14,758.57 136.64,758.65 136.14,758.73 135.64,758.81 135.14,758.89 134.64,758.97 134.14,759.05 133.64,759.14 133.14,759.22 132.64,759.3 132.14,759.38 131.64,759.46 131.14,759.54 130.64,759.62 130.14,759.71 129.64,759.79 129.14,759.87 128.64,759.95 128.14,760.03 127.64,760.11 127.14,760.19 126.64,760.27 126.14,760.36 125.64,760.44 125.14,760.52 124.64,760.6" fill="#d90000" />
<polygon points="381.14,742.05 381.64,741.9 382.14,741.75 382.64,741.6 383.14,741.45 383.64,741.3 384.14,741.15 384.64,741 385.14,740.85 385.64,740.7 386.14,740.54 386.64,740.39 387.14,740.24 387.64,740.09 388.14,739.94 388.64,739.79 389.14,739.64 389.64,739.49 390.14,739.34 390.64,739.19 391.14,739.04 391.64,738.88 392.14,738.73 392.64,738.58 393.14,738.43 393.64,738.28 394.14,738.13 394.64,737.98 395.14,737.83 395.64,737.68 396.14,737.53 396.64,737.37 397.14,737.22 397.64,737.07 398.14,736.92 398.64,736.77 399.14,736.62 399.64,736.47 400.14,736.32 400.64,736.17 401.14,736.02 401.64,735.86 402.14,735.71 402.64,735.56 403.14,735.41 403.64,735.26 404.14,735.11 404.64,734.96 405.14,734.81 405.64,734.66 406.14,734.51 406.64,734.36 407.14,734.2 407.64,734.05 408.14,733.9 408.64,733.75 409.14,733.6 409.64,733.45 410.14,733.3 410.64,733.15 411.14,733 411.64,732.85 412.14,732.69 412.64,732.54 413.14,732.39 413.64,732.24 414.14,732.09 414.64,731.94 415.14,731.79 415.64,731.64 416.14,731.49 416.64,731.34 417.14,731.18 417.64,731.03 418.14,730.88 418.64,730.73 419.14,730.58 419.64,730.43 420.14,730.28 420.64,730.13 421.14,729.98 421.64,729.83 422.14,729.68 422.64,729.52 423.14,729.37 423.64,729.22 424.14,729.07 424.64,728.92 425.14,728.77 425.64,728.62 426.14,728.47 426.64,728.32 427.14,728.17 427.64,728.01 428.14,727.86 428.64,727.71 429.14,727.56 429.64,727.41 430.14,727.26 430.64,727.11 431.14,726.96 431.64,726.81 432.14,726.66 432.64,726.5 433.14,726.35 433.64,726.2 434.14,726.05 434.64,725.9 435.14,725.75 435.64,725.6 436.14,725.45 436.64,725.3 437.14,725.15 437.64,725 438.14,724.84 438.64,724.69 439.14,724.54 439.64,724.39 440.14,724.24 440.64,724.09 441.14,723.94 441.64,723.79 442.14,723.64 442.64,723.49 443.14,723.33 443.64,723.18 444.14,723.03 444.64,722.88 445.14,722.73 445.64,722.58 446.14,722.43 446.64,722.28 447.14,722.13 447.64,721.98 448.14,721.82 448.64,721.67 449.14,721.52 449.64,721.37 450.14,721.22 450.64,721.07 451.14,720.92 451.64,720.77 452.14,720.62 452.64,720.47 453.14,720.32 453.64,720.16 454.14,720.01 454.64,719.86 455.14,719.71 455.64,719.56 456.14,719.41 456.64,719.26 457.14,719.11 457.64,718.96 458.14,718.81 458.64,718.65 459.14,718.5 459.64,718.35 460.14,718.2 460.64,718.05 461.14,717.9 461.64,717.75 462.14,717.6 462.64,717.45 463.14,717.3 463.64,717.14 464.14,716.99 464.64,716.84 465.14,716.69 465.64,716.54 466.14,716.39 466.64,716.24 467.14,716.09 467.64,715.94 468.14,715.79 468.64,715.64 469.14,715.48 469.64,715.33 470.14,715.18 470.64,715.03 471.14,714.88 471.64,714.73 472.14,714.58 472.64,714.43 473.14,714.28 473.64,714.13 474.14,713.97 474.64,713.82 475.14,713.67 475.64,713.52 476.14,713.37 476.64,713.22 477.14,713.07 477.64,712.92 478.14,712.77 478.64,712.62 479.14,712.46 479.64,712.31 480.14,712.16 480.64,712.01 481.14,711.86 481.64,711.71 482.14,711.56 482.64,711.59 483.14,711.74 483.64,711.9 484.14,712.05 484.64,712.2 485.14,712.35 485.64,712.51 486.14,712.66 486.64,712.81 487.14,712.96 487.64,713.11 488.14,713.27 488.64,713.42 489.14,713.57 489.64,713.72 490.14,713.88 490.64,714.03 491.14,714.18 491.64,714.33 492.14,714.48 492.64,714.64 493.14,714.79 493.64,714.94 494.14,715.09 494.64,715.25 495.14,715.4 495.64,715.55 496.14,715.7 496.64,715.85 497.14,716.01 497.64,716.16 498.14,716.31 498.64,716.46 499.14,716.62 499.64,716.77 500.14,716.92 500.64,717.07 501.14,717.22 501.64,717.38 502.14,717.53 502.64,717.68 503.14,717.83 503.64,717.99 504.14,718.14 504.64,718.29 505.14,718.44 505.64,718.59 506.14,718.75 506.64,718.9 507.14,719.05 507.64,719.2 508.14,719.36 508.64,719.51 509.14,719.66 509.64,719.81 510.14,719.96 510.64,720.12 511.14,720.27 511.64,720.42 512.14,720.57 512.64,720.73 513.14,720.88 513.64,721.03 514.14,721.18 514.64,721.33 515.14,721.49 515.64,721.64 516.14,721.79 516.64,721.94 517.14,722.1 517.64,722.25 518.14,722.4 518.64,722.55 519.14,722.7 519.64,722.86 520.14,723.01 520.64,723.16 521.14,723.31 521.64,723.47 522.14,723.62 522.64,723.77 523.14,723.92 523.64,724.07 524.14,724.23 524.64,724.38 525.14,724.53 525.64,724.68 526.14,724.84 526.64,724.99 527.14,725.14 527.64,725.29 528.14,725.44 528.64,725.6 529.14,725.75 529.64,725.9 530.14,726.05 530.64,726.21 531.14,726.36 531.64,726.51 532.14,726.66 532.64,726.81 533.14,726.97 533.64,727.12 534.14,727.27 534.64,727.42 535.14,727.58 535.64,727.73 536.14,727.88 536.64,728.03 537.14,728.18 537.64,728.34 538.14,728.49 538.64,728.64 539.14,728.79 539.64,728.95 540.14,729.1 540.64,729.25 541.14,729.4 541.64,729.56 542.14,729.71 542.64,729.86 543.14,730.01 543.64,730.16 544.14,730.32 544.64,730.47 545.14,730.62 545.64,730.77 546.14,730.93 546.64,731.08 547.14,731.23 547.64,731.38 548.14,731.53 548.64,731.69 549.14,731.84 549.64,731.99 550.14,732.14 550.64,732.3 551.14,732.45 551.64,732.6 552.14,732.75 552.64,732.9 553.14,733.06 553.64,733.21 554.14,733.36 554.64,733.51 555.14,733.67 555.64,733.82 556.14,733.97 556.64,734.12 557.14,734.27 557.64,734.43 558.14,734.58 558.64,734.73 559.14,734.88 559.64,735.04 560.14,735.19 560.64,735.34 561.14,735.49 561.64,735.64 562.14,735.8 562.64,735.95 563.14,736.1 563.64,736.25 564.14,736.41 564.64,736.56 565.14,736.71 565.64,736.86 565.64,737 565.14,737.01 564.64,737.03 564.14,737.05 563.64,737.07 563.14,737.09 562.64,737.1 562.14,737.12 561.64,737.14 561.14,737.16 560.64,737.18 560.14,737.19 559.64,737.21 559.14,737.23 558.64,737.25 558.14,737.27 557.64,737.28 557.14,737.3 556.64,737.32 556.14,737.34 555.64,737.36 555.14,737.37 554.64,737.39 554.14,737.41 553.64,737.43 553.14,737.45 552.64,737.46 552.14,737.48 551.64,737.5 551.14,737.52 550.64,737.54 550.14,737.55 549.64,737.57 549.14,737.59 548.64,737.61 548.14,737.63 547.64,737.64 547.14,737.66 546.64,737.68 546.14,737.7 545.64,737.72 545.14,737.74 544.64,737.75 544.14,737.77 543.64,737.79 543.14,737.81 542.64,737.83 542.14,737.84 541.64,737.86 541.14,737.88 540.64,737.9 540.14,737.92 539.64,737.93 539.14,737.95 538.64,737.97 538.14,737.99 537.64,738.01 537.14,738.02 536.64,738.04 536.14,738.06 535.64,738.08 535.14,738.1 534.64,738.11 534.14,738.13 533.64,738.15 533.14,738.17 532.64,738.19 532.14,738.2 531.64,738.22 531.14,738.24 530.64,738.26 530.14,738.28 529.64,738.29 529.14,738.31 528.64,738.33 528.14,738.35 527.64,738.37 527.14,738.38 526.64,738.4 526.14,738.42 525.64,738.44 525.14,738.46 524.64,738.47 524.14,738.49 523.64,738.51 523.14,738.53 522.64,738.55 522.14,738.56 521.64,738.58 521.14,738.6 520.64,738.62 520.14,738.64 519.64,738.65 519.14,738.67 518.64,738.69 518.14,738.71 517.64,738.73 517.14,738.74 516.64,738.76 516.14,738.78 515.64,738.8 515.14,738.82 514.64,738.83 514.14,738.85 513.64,738.87 513.14,738.89 512.64,738.91 512.14,738.93 511.64,738.94 511.14,738.96 510.64,738.98 510.14,739 509.64,739.02 509.14,739.03 508.64,739.05 508.14,739.07 507.64,739.09 507.14,739.11 506.64,739.12 506.14,739.14 505.64,739.16 505.14,739.18 504.64,739.2 504.14,739.21 503.64,739.23 503.14,739.25 502.64,739.27 502.14,739.29 501.64,739.3 501.14,739.32 500.64,739.34 500.14,739.36 499.64,739.38 499.14,739.39 498.64,739.41 498.14,739.43 497.64,739.45 497.14,739.47 496.64,739.48 496.14,739.5 495.64,739.52 495.14,739.54 494.64,739.56 494.14,739.57 493.64,739.59 493.14,739.61 492.64,739.63 492.14,739.65 491.64,739.66 491.14,739.68 490.64,739.7 490.14,739.72 489.64,739.74 489.14,739.75 488.64,739.77 488.14,739.79 487.64,739.81 487.14,739.83 486.64,739.84 486.14,739.86 485.64,739.88 485.14,739.9 484.64,739.92 484.14,739.93 483.64,739.95 483.14,739.97 482.64,739.99 482.14,740 481.64,740.01 481.14,740.03 480.64,740.04 480.14,740.05 479.64,740.06 479.14,740.07 478.64,740.08 478.14,740.09 477.64,740.1 477.14,740.11 476.64,740.12 476.14,740.13 475.64,740.14 475.14,740.15 474.64,740.16 474.14,740.17 473.64,740.18 473.14,740.19 472.64,740.2 472.14,740.21 471.64,740.22 471.14,740.23 470.64,740.25 470.14,740.26 469.64,740.27 469.14,740.28 468.64,740.29 468.14,740.3 467.64,740.31 467.14,740.32 466.64,740.33 466.14,740.34 465.64,740.35 465.14,740.36 464.64,740.37 464.14,740.38 463.64,740.39 463.14,740.4 462.64,740.41 462.14,740.42 461.64,740.43 461.14,740.44 460.64,740.45 460.14,740.47 459.64,740.48 459.14,740.49 458.64,740.5 458.14,740.51 457.64,740.52 457.14,740.53 456.64,740.54 456.14,740.55 455.64,740.56 455.14,740.57 454.64,740.58 454.14,740.59 453.64,740.6 453.14,740.61 452.64,740.62 452.14,740.63 451.64,740.64 451.14,740.65 450.64,740.66 450.14,740.68 449.64,740.69 449.14,740.7 448.64,740.71 448.14,740.72 447.64,740.73 447.14,740.74 446.64,740.75 446.14,740.76 445.64,740.77 445.14,740.78 444.64,740.79 444.14,740.8 443.64,740.81 443.14,740.82 442.64,740.83 442.14,740.84 441.64,740.85 441.14,740.86 440.64,740.87 440.14,740.88 439.64,740.9 439.14,740.91 438.64,740.92 438.14,740.93 437.64,740.94 437.14,740.95 436.64,740.96 436.14,740.97 435.64,740.98 435.14,740.99 434.64,741 434.14,741.01 433.64,741.02 433.14,741.03 432.64,741.04 432.14,741.05 431.64,741.06 431.14,741.07 430.64,741.08 430.14,741.09 429.64,741.1 429.14,741.12 428.64,741.13 428.14,741.14 427.64,741.15 427.14,741.16 426.64,741.17 426.14,741.18 425.64,741.19 425.14,741.2 424.64,741.21 424.14,741.22 423.64,741.23 423.14,741.24 422.64,741.25 422.14,741.26 421.64,741.27 421.14,741.28 420.64,741.29 420.14,741.3 419.64,741.31 419.14,741.33 418.64,741.34 418.14,741.35 417.64,741.36 417.14,741.37 416.64,741.38 416.14,741.39 415.64,741.4 415.14,741.41 414.64,741.42 414.14,741.43 413.64,741.44 413.14,741.45 412.64,741.46 412.14,741.47 411.64,741.48 411.14,741.49 410.64,741.5 410.14,741.51 409.64,741.52 409.14,741.53 408.64,741.55 408.14,741.56 407.64,741.57 407.14,741.58 406.64,741.59 406.14,741.6 405.64,741.61 405.14,741.62 404.64,741.63 404.14,741.64 403.64,741.65 403.14,741.66 402.64,741.67 402.14,741.68 401.64,741.69 401.14,741.7 400.64,741.71 400.14,741.72 399.64,741.73 399.14,741.74 398.64,741.75 398.14,741.77 397.64,741.78 397.14,741.79 396.64,741.8 396.14,741.81 395.64,741.82 395.14,741.83 394.64,741.84 394.14,741.85 393.64,741.86 393.14,741.87 392.64,741.88 392.14,741.89 391.64,741.9 391.14,741.91 390.64,741.92 390.14,741.93 389.64,741.94 389.14,741.95 388.64,741.96 388.14,741.98 387.64,741.99 387.14,742 386.64,742.01 386.14,742.02 385.64,742.03 385.14,742.04 384.64,742.05 384.14,742.06 383.64,742.07 383.14,742.08 382.64,742.09 382.14,742.1 381.64,742.11 381.14,742.12" fill="#d90000" />
<polygon points="124.64,848.5 125.14,848.43 125.64,848.35 126.14,848.28 126.64,848.2 127.14,848.13 127.64,848.06 128.14,847.98 128.64,847.91 129.14,847.84 129.64,847.76 130.14,847.69 130.64,847.61 131.14,847.54 131.64,847.47 132.14,847.39 132.64,847.32 133.14,847.25 133.64,847.17 134.14,847.1 134.64,847.02 135.14,846.95 135.64,846.88 136.14,846.8 136.64,846.73 137.14,846.65 137.64,846.58 138.14,846.51 138.64,846.43 139.14,846.36 139.64,846.29 140.14,846.21 140.64,846.14 141.14,846.06 141.64,845.99 142.14,845.92 142.64,845.84 143.14,845.77 143.64,845.7 144.14,845.62 144.64,845.55 145.14,845.47 145.64,845.4 146.14,845.33 146.64,845.25 147.14,845.18 147.64,845.1 148.14,845.03 148.64,844.96 149.14,844.88 149.64,844.81 150.14,844.74 150.64,844.66 151.14,844.59 151.64,844.51 152.14,844.44 152.64,844.37 153.14,844.29 153.64,844.22 154.14,844.15 154.64,844.07 155.14,844 155.64,843.92 156.14,843.85 156.64,843.78 157.14,843.7 157.64,843.63 158.14,843.56 158.64,843.48 159.14,843.41 159.64,843.33 160.14,843.26 160.64,843.19 161.14,843.11 161.64,843.04 162.14,842.96 162.64,842.89 163.14,842.82 163.64,842.74 164.14,842.67 164.64,842.6 165.14,842.52 165.64,842.45 166.14,842.37 166.64,842.3 167.14,842.23 167.64,842.15 168.14,842.08 168.64,842.01 169.14,841.93 169.64,841.86 170.14,841.78 170.64,841.71 171.14,841.64 171.64,841.56 172.14,841.49 172.64,841.41 173.14,841.34 173.64,841.27 174.14,841.19 174.64,841.12 175.14,841.05 175.64,840.97 176.14,840.9 176.64,840.82 177.14,840.75 177.64,840.68 178.14,840.6 178.64,840.53 179.14,840.46 179.64,840.38 180.14,840.31 180.64,840.23 181.14,840.16 181.64,840.09 182.14,840.01 182.64,839.94 183.14,839.86 183.64,839.79 184.14,839.72 184.64,839.64 185.14,839.57 185.64,839.5 186.14,839.42 186.64,839.35 187.14,839.27 187.64,839.2 188.14,839.13 188.64,839.05 189.14,838.98 189.64,838.91 190.14,838.83 190.64,838.76 191.14,838.68 191.64,838.61 192.14,838.54 192.64,838.46 193.14,838.39 193.64,838.31 194.14,838.24 194.64,838.17 195.14,838.09 195.64,838.02 196.14,837.95 196.64,837.87 197.14,837.8 197.64,837.72 198.14,837.65 198.64,837.58 199.14,837.5 199.64,837.43 200.14,837.36 200.64,837.28 201.14,837.21 201.64,837.13 202.14,837.06 202.64,836.99 203.14,836.91 203.64,836.84 204.14,836.76 204.64,836.69 205.14,836.62 205.64,836.54 206.14,836.47 206.64,836.4 207.14,836.32 207.64,836.25 208.14,836.17 208.64,836.1 209.14,836.03 209.64,835.95 210.14,835.88 210.64,835.81 211.14,835.73 211.64,835.66 212.14,835.58 212.64,835.51 213.14,835.44 213.64,835.36 214.14,835.29 214.64,835.21 215.14,835.14 215.64,835.07 216.14,834.99 216.64,834.92 217.14,834.85 217.64,834.77 218.14,834.7 218.64,834.62 219.14,834.55 219.64,834.48 220.14,834.4 220.64,834.33 221.14,834.26 221.64,834.18 222.14,834.11 222.64,834.03 223.14,833.96 223.64,833.89 224.14,833.81 224.64,833.74 225.14,833.67 225.64,833.59 226.14,833.52 226.64,833.44 227.14,833.37 227.64,833.3 228.14,833.22 228.64,833.15 229.14,833.07 229.64,833 230.14,832.93 230.64,832.85 231.14,832.78 231.64,832.71 232.14,832.63 232.64,832.56 233.14,832.48 233.64,832.41 234.14,832.34 234.64,832.26 235.14,832.19 235.64,832.12 236.14,832.04 236.64,831.97 237.14,831.89 237.64,831.82 238.14,831.75 238.64,831.67 239.14,831.6 239.64,831.52 240.14,831.45 240.64,831.38 241.14,831.3 241.64,831.23 242.14,831.16 242.64,831.08 243.14,831.01 243.64,830.93 244.14,830.9 244.64,830.91 245.14,830.91 245.64,830.92 246.14,830.92 246.64,830.93 247.14,830.93 247.64,830.93 248.14,830.94 248.64,830.94 249.14,830.95 249.64,830.95 250.14,830.96 250.64,830.96 251.14,830.97 251.64,830.97 252.14,830.98 252.64,830.98 253.14,830.99 253.64,830.99 254.14,830.99 254.64,831 255.14,831 255.64,831.01 256.14,831.01 256.64,831.02 257.14,831.02 257.64,831.03 258.14,831.03 258.64,831.04 259.14,831.04 259.64,831.05 260.14,831.05 260.64,831.05 261.14,831.06 261.64,831.06 262.14,831.07 262.64,831.07 263.14,831.08 263.64,831.08 264.14,831.09 264.64,831.09 265.14,831.1 265.64,831.1 266.14,831.11 266.64,831.11 267.14,831.11 267.64,831.12 268.14,831.12 268.64,831.13 269.14,831.13 269.64,831.14 270.14,831.14 270.64,831.15 271.14,831.15 271.64,831.16 272.14,831.16 272.64,831.17 273.14,831.17 273.64,831.17 274.14,831.18 274.64,831.18 275.14,831.19 275.64,831.19 276.14,831.2 276.64,831.2 277.14,831.21 277.64,831.21 278.14,831.22 278.64,831.22 279.14,831.23 279.64,831.23 280.14,831.23 280.64,831.24 281.14,831.24 281.64,831.25 282.14,831.25 282.64,831.26 283.14,831.26 283.64,831.27 284.14,831.27 284.64,831.28 285.14,831.28 285.64,831.29 286.14,831.29 286.64,831.29 287.14,831.3 287.64,831.3 288.14,831.31 288.64,831.31 289.14,831.32 289.64,831.32 290.14,831.33 290.64,831.33 291.14,831.34 291.64,831.34 292.14,831.35 292.64,831.35 293.14,831.35 293.64,831.36 294.14,831.36 294.64,831.37 295.14,831.37 295.64,831.38 296.14,831.38 296.64,831.39 297.14,831.39 297.64,831.4 298.14,831.4 298.64,831.41 299.14,831.41 299.64,831.41 300.14,831.42 300.64,831.42 301.14,831.43 301.64,831.43 302.14,831.44 302.64,831.44 303.14,831.45 303.64,831.45 304.14,831.46 304.64,831.46 305.14,831.47 305.64,831.47 306.14,831.47 306.64,831.48 307.14,831.48 307.64,831.49 308.14,831.49 308.64,831.5 309.14,831.5 309.64,831.51 310.14,831.51 310.64,831.52 311.14,831.52 311.64,831.53 312.14,831.53 312.64,831.53 313.14,831.54 313.64,831.54 314.14,831.55 314.64,831.55 315.14,831.56 315.64,831.56 316.14,831.57 316.64,831.57 317.14,831.58 317.64,831.58 318.14,831.59 318.64,831.59 319.14,831.59 319.64,831.6 320.14,831.6 320.64,831.61 321.14,831.61 321.64,831.62 322.14,831.62 322.64,831.63 323.14,831.63 323.64,831.64 324.14,831.64 324.64,831.65 325.14,831.65 325.64,831.65 326.14,831.66 326.64,831.66 327.14,831.67 327.64,831.67 328.14,831.68 328.64,831.68 329.14,831.69 329.64,831.69 330.14,831.7 330.64,831.7 331.14,831.71 331.64,831.71 332.14,831.71 332.64,831.72 333.14,831.72 333.64,831.73 334.14,831.73 334.64,831.74 335.14,831.74 335.64,831.75 336.14,831.75 336.64,831.76 337.14,831.76 337.64,831.77 338.14,831.77 338.64,831.77 339.14,831.78 339.64,831.78 340.14,831.79 340.64,831.79 341.14,831.8 341.64,831.8 342.14,831.81 342.64,831.81 343.14,831.82 343.64,831.82 344.14,831.83 344.64,831.83 345.14,831.83 345.64,831.84 346.14,831.84 346.64,831.85 347.14,831.85 347.64,831.86 348.14,831.86 348.64,831.87 349.14,831.87 349.64,831.88 350.14,831.88 350.64,831.89 351.14,831.89 351.64,831.89 352.14,831.9 352.64,831.9 353.14,831.91 353.64,831.91 354.14,831.92 354.64,831.92 355.14,831.93 355.64,831.93 356.14,831.94 356.64,831.94 357.14,831.94 357.64,831.95 358.14,831.95 358.64,831.96 359.14,831.96 359.64,831.97 360.14,831.97 360.64,831.98 361.14,831.98 361.64,831.99 362.14,831.99 362.64,832 363.14,831.99 363.64,831.88 364.14,831.78 364.64,831.67 365.14,831.56 365.64,831.45 366.14,831.35 366.64,831.24 367.14,831.13 367.64,831.02 368.14,830.91 368.64,830.81 369.14,830.7 369.64,830.59 370.14,830.48 370.64,830.38 371.14,830.27 371.64,830.16 372.14,830.05 372.64,829.94 373.14,829.84 373.64,829.73 374.14,829.62 374.64,829.51 375.14,829.41 375.64,829.3 376.14,829.19 376.64,829.08 377.14,828.97 377.64,828.87 378.14,828.76 378.64,828.65 379.14,828.54 379.64,828.44 380.14,828.33 380.64,828.22 381.14,828.11 381.64,828 382.14,827.9 382.64,827.79 383.14,827.68 383.64,827.57 384.14,827.47 384.64,827.36 385.14,827.25 385.64,827.14 386.14,827.03 386.64,826.93 387.14,826.82 387.64,826.71 388.14,826.6 388.64,826.5 389.14,826.39 389.64,826.28 390.14,826.17 390.64,826.06 391.14,825.96 391.64,825.85 392.14,825.74 392.64,825.63 393.14,825.53 393.64,825.42 394.14,825.31 394.64,825.2 395.14,825.09 395.64,824.99 396.14,824.88 396.64,824.77 397.14,824.66 397.64,824.56 398.14,824.45 398.64,824.34 399.14,824.23 399.64,824.12 400.14,824.02 400.64,823.91 401.14,823.8 401.64,823.69 402.14,823.59 402.64,823.48 403.14,823.37 403.64,823.26 404.14,823.15 404.64,823.05 405.14,822.94 405.64,822.83 406.14,822.72 406.64,822.62 407.14,822.51 407.64,822.4 408.14,822.29 408.64,822.18 409.14,822.08 409.64,821.97 410.14,821.86 410.64,821.75 411.14,821.65 411.64,821.54 412.14,821.43 412.64,821.32 413.14,821.21 413.64,821.11 414.14,821 414.64,820.89 415.14,820.78 415.64,820.68 416.14,820.57 416.64,820.46 417.14,820.35 417.64,820.24 418.14,820.14 418.64,820.03 419.14,819.92 419.64,819.81 420.14,819.71 420.64,819.6 421.14,819.49 421.64,819.38 422.14,819.28 422.64,819.17 423.14,819.06 423.64,818.95 424.14,818.84 424.64,818.74 425.14,818.63 425.64,818.52 426.14,818.41 426.64,818.31 427.14,818.2 427.64,818.09 428.14,817.98 428.64,817.87 429.14,817.77 429.64,817.66 430.14,817.55 430.64,817.44 431.14,817.34 431.64,817.23 432.14,817.12 432.64,817.01 433.14,816.9 433.64,816.8 434.14,816.69 434.64,816.58 435.14,816.47 435.64,816.37 436.14,816.26 436.64,816.15 437.14,816.04 437.64,815.93 438.14,815.83 438.64,815.72 439.14,815.61 439.64,815.5 440.14,815.4 440.64,815.29 441.14,815.18 441.64,815.07 442.14,814.96 442.64,814.86 443.14,814.75 443.64,814.64 444.14,814.53 444.64,814.43 445.14,814.32 445.64,814.21 446.14,814.1 446.64,813.99 447.14,813.89 447.64,813.78 448.14,813.67 448.64,813.56 449.14,813.46 449.64,813.35 450.14,813.24 450.64,813.13 451.14,813.02 451.64,812.92 452.14,812.81 452.64,812.7 453.14,812.59 453.64,812.49 454.14,812.38 454.64,812.27 455.14,812.16 455.64,812.05 456.14,811.95 456.64,811.84 457.14,811.73 457.64,811.62 458.14,811.52 458.64,811.41 459.14,811.3 459.64,811.19 460.14,811.08 460.64,810.98 461.14,810.87 461.64,810.76 462.14,810.65 462.64,810.55 463.14,810.44 463.64,810.33 464.14,810.22 464.64,810.11 465.14,810.01 465.64,809.9 466.14,809.79 466.64,809.68 467.14,809.58 467.64,809.47 468.14,809.36 468.64,809.25 469.14,809.14 469.64,809.04 470.14,808.93 470.64,808.82 471.14,808.71 471.64,808.61 472.14,808.5 472.64,808.39 473.14,808.28 473.64,808.17 474.14,808.07 474.64,807.96 475.14,807.85 475.64,807.74 476.14,807.64 476.64,807.53 477.14,807.42 477.64,807.31 478.14,807.2 478.64,807.1 479.14,806.99 479.64,806.88 480.14,806.77 480.64,806.67 481.14,806.56 481.64,806.45 482.14,806.34 482.64,806.35 483.14,806.44 483.64,806.54 484.14,806.63 484.64,806.72 485.14,806.81 485.64,806.9 486.14,806.99 486.64,807.08 487.14,807.17 487.64,807.26 488.14,807.35 488.64,807.44 489.14,807.53 489.64,807.62 490.14,807.71 490.64,807.8 491.14,807.89 491.64,807.98 492.14,808.07 492.64,808.16 493.14,808.25 493.64,808.34 494.14,808.43 494.64,808.52 495.14,808.61 495.64,808.7 496.14,808.79 496.64,808.88 497.14,808.97 497.64,809.06 498.14,809.15 498.64,809.24 499.14,809.33 499.64,809.42 500.14,809.51 500.64,809.6 501.14,809.69 501.64,809.78 502.14,809.87 502.64,809.96 503.14,810.05 503.64,810.14 504.14,810.23 504.64,810.32 505.14,810.41 505.64,810.5 506.14,810.59 506.64,810.68 507.14,810.77 507.64,810.86 508.14,810.95 508.64,811.04 509.14,811.13 509.64,811.22 510.14,811.31 510.64,811.4 511.14,811.49 511.64,811.58 512.14,811.67 512.64,811.76 513.14,811.85 513.64,811.94 514.14,812.03 514.64,812.13 515.14,812.22 515.64,812.31 516.14,812.4 516.64,812.49 517.14,812.58 517.64,812.67 518.14,812.76 518.64,812.85 519.14,812.94 519.64,813.03 520.14,813.12 520.64,813.21 521.14,813.3 521.64,813.39 522.14,813.48 522.64,813.57 523.14,813.66 523.64,813.75 524.14,813.84 524.64,813.93 525.14,814.02 525.64,814.11 526.14,814.2 526.64,814.29 527.14,814.38 527.64,814.47 528.14,814.56 528.64,814.65 529.14,814.74 529.64,814.83 530.14,814.92 530.64,815.01 531.14,815.1 531.64,815.19 532.14,815.28 532.64,815.37 533.14,815.46 533.64,815.55 534.14,815.64 534.64,815.73 535.14,815.82 535.64,815.91 536.14,816 536.64,816.09 537.14,816.18 537.64,816.27 538.14,816.36 538.64,816.45 539.14,816.54 539.64,816.63 540.14,816.72 540.64,816.81 541.14,816.9 541.64,816.99 542.14,817.08 542.64,817.17 543.14,817.26 543.64,817.35 544.14,817.44 544.64,817.53 545.14,817.62 545.64,817.72 546.14,817.81 546.64,817.9 547.14,817.99 547.64,818.08 548.14,818.17 548.64,818.26 549.14,818.35 549.64,818.44 550.14,818.53 550.64,818.62 551.14,818.71 551.64,818.8 552.14,818.89 552.64,818.98 553.14,819.07 553.64,819.16 554.14,819.25 554.64,819.34 555.14,819.43 555.64,819.52 556.14,819.61 556.64,819.7 557.14,819.79 557.64,819.88 558.14,819.97 558.64,820.06 559.14,820.15 559.64,820.24 560.14,820.33 560.64,820.42 561.14,820.51 561.64,820.6 562.14,820.69 562.64,820.78 563.14,820.87 563.64,820.96 564.14,821.05 564.64,821.14 565.14,821.23 565.64,821.32 566.14,821.41 566.64,821.5 567.14,821.59 567.64,821.68 568.14,821.77 568.64,821.86 569.14,821.95 569.64,822.04 570.14,822.13 570.64,822.22 571.14,822.31 571.64,822.4 572.14,822.49 572.64,822.58 573.14,822.67 573.64,822.76 574.14,822.85 574.64,822.94 575.14,823.03 575.64,823.12 576.14,823.21 576.64,823.3 577.14,823.4 577.64,823.49 578.14,823.58 578.64,823.67 579.14,823.76 579.64,823.85 580.14,823.94 580.64,824.03 581.14,824.12 581.64,824.21 582.14,824.3 582.64,824.39 583.14,824.48 583.64,824.57 584.14,824.66 584.64,824.75 585.14,824.84 585.64,824.93 586.14,825.02 586.64,825.11 587.14,825.2 587.64,825.29 588.14,825.38 588.64,825.47 589.14,825.56 589.64,825.65 590.14,825.74 590.64,825.83 591.14,825.92 591.64,826.01 592.14,826.1 592.64,826.19 593.14,826.28 593.64,826.37 594.14,826.46 594.64,826.55 595.14,826.64 595.64,826.73 596.14,826.82 596.64,826.91 597.14,827 597.64,827.09 598.14,827.18 598.64,827.27 599.14,827.36 599.64,827.45 600.14,827.54 600.64,827.63 601.14,827.72 601.14,835.63 600.64,835.67 600.14,835.71 599.64,835.75 599.14,835.79 598.64,835.83 598.14,835.86 597.64,835.9 597.14,835.94 596.64,835.98 596.14,836.02 595.64,836.06 595.14,836.1 594.64,836.13 594.14,836.17 593.64,836.21 593.14,836.25 592.64,836.29 592.14,836.33 591.64,836.37 591.14,836.4 590.64,836.44 590.14,836.48 589.64,836.52 589.14,836.56 588.64,836.6 588.14,836.64 587.64,836.67 587.14,836.71 586.64,836.75 586.14,836.79 585.64,836.83 585.14,836.87 584.64,836.91 584.14,836.94 583.64,836.98 583.14,837.02 582.64,837.06 582.14,837.1 581.64,837.14 581.14,837.18 580.64,837.21 580.14,837.25 579.64,837.29 579.14,837.33 578.64,837.37 578.14,837.41 577.64,837.45 577.14,837.48 576.64,837.52 576.14,837.56 575.64,837.6 575.14,837.64 574.64,837.68 574.14,837.72 573.64,837.75 573.14,837.79 572.64,837.83 572.14,837.87 571.64,837.91 571.14,837.95 570.64,837.99 570.14,838.03 569.64,838.06 569.14,838.1 568.64,838.14 568.14,838.18 567.64,838.22 567.14,838.26 566.64,838.3 566.14,838.33 565.64,838.37 565.14,838.41 564.64,838.45 564.14,838.49 563.64,838.53 563.14,838.57 562.64,838.6 562.14,838.64 561.64,838.68 561.14,838.72 560.64,838.76 560.14,838.8 559.64,838.84 559.14,838.87 558.64,838.91 558.14,838.95 557.64,838.99 557.14,839.03 556.64,839.07 556.14,839.11 555.64,839.14 555.14,839.18 554.64,839.22 554.14,839.26 553.64,839.3 553.14,839.34 552.64,839.38 552.14,839.41 551.64,839.45 551.14,839.49 550.64,839.53 550.14,839.57 549.64,839.61 549.14,839.65 548.64,839.68 548.14,839.72 547.64,839.76 547.14,839.8 546.64,839.84 546.14,839.88 545.64,839.92 545.14,839.95 544.64,839.99 544.14,840.03 543.64,840.07 543.14,840.11 542.64,840.15 542.14,840.19 541.64,840.22 541.14,840.26 540.64,840.3 540.14,840.34 539.64,840.38 539.14,840.42 538.64,840.46 538.14,840.49 537.64,840.53 537.14,840.57 536.64,840.61 536.14,840.65 535.64,840.69 535.14,840.73 534.64,840.76 534.14,840.8 533.64,840.84 533.14,840.88 532.64,840.92 532.14,840.96 531.64,841 531.14,841.03 530.64,841.07 530.14,841.11 529.64,841.15 529.14,841.19 528.64,841.23 528.14,841.27 527.64,841.3 527.14,841.34 526.64,841.38 526.14,841.42 525.64,841.46 525.14,841.5 524.64,841.54 524.14,841.57 523.64,841.61 523.14,841.65 522.64,841.69 522.14,841.73 521.64,841.77 521.14,841.81 520.64,841.84 520.14,841.88 519.64,841.92 519.14,841.96 518.64,842 518.14,842.04 517.64,842.08 517.14,842.11 516.64,842.15 516.14,842.19 515.64,842.23 515.14,842.27 514.64,842.31 514.14,842.35 513.64,842.38 513.14,842.42 512.64,842.46 512.14,842.5 511.64,842.54 511.14,842.58 510.64,842.62 510.14,842.65 509.64,842.69 509.14,842.73 508.64,842.77 508.14,842.81 507.64,842.85 507.14,842.89 506.64,842.92 506.14,842.96 505.64,843 505.14,843.04 504.64,843.08 504.14,843.12 503.64,843.16 503.14,843.19 502.64,843.23 502.14,843.27 501.64,843.31 501.14,843.35 500.64,843.39 500.14,843.43 499.64,843.46 499.14,843.5 498.64,843.54 498.14,843.58 497.64,843.62 497.14,843.66 496.64,843.7 496.14,843.73 495.64,843.77 495.14,843.81 494.64,843.85 494.14,843.89 493.64,843.93 493.14,843.97 492.64,844 492.14,844.04 491.64,844.08 491.14,844.12 490.64,844.16 490.14,844.2 489.64,844.24 489.14,844.28 488.64,844.31 488.14,844.35 487.64,844.39 487.14,844.43 486.64,844.47 486.14,844.51 485.64,844.55 485.14,844.58 484.64,844.62 484.14,844.66 483.64,844.7 483.14,844.74 482.64,844.78 482.14,844.81 481.64,844.83 481.14,844.85 480.64,844.88 480.14,844.9 479.64,844.92 479.14,844.94 478.64,844.97 478.14,844.99 477.64,845.01 477.14,845.04 476.64,845.06 476.14,845.08 475.64,845.1 475.14,845.13 474.64,845.15 474.14,845.17 473.64,845.19 473.14,845.22 472.64,845.24 472.14,845.26 471.64,845.28 471.14,845.31 470.64,845.33 470.14,845.35 469.64,845.38 469.14,845.4 468.64,845.42 468.14,845.44 467.64,845.47 467.14,845.49 466.64,845.51 466.14,845.53 465.64,845.56 465.14,845.58 464.64,845.6 464.14,845.62 463.64,845.65 463.14,845.67 462.64,845.69 462.14,845.71 461.64,845.74 461.14,845.76 460.64,845.78 460.14,845.81 459.64,845.83 459.14,845.85 458.64,845.87 458.14,845.9 457.64,845.92 457.14,845.94 456.64,845.96 456.14,845.99 455.64,846.01 455.14,846.03 454.64,846.05 454.14,846.08 453.64,846.1 453.14,846.12 452.64,846.14 452.14,846.17 451.64,846.19 451.14,846.21 450.64,846.24 450.14,846.26 449.64,846.28 449.14,846.3 448.64,846.33 448.14,846.35 447.64,846.37 447.14,846.39 446.64,846.42 446.14,846.44 445.64,846.46 445.14,846.48 444.64,846.51 444.14,846.53 443.64,846.55 443.14,846.58 442.64,846.6 442.14,846.62 441.64,846.64 441.14,846.67 440.64,846.69 440.14,846.71 439.64,846.73 439.14,846.76 438.64,846.78 438.14,846.8 437.64,846.82 437.14,846.85 436.64,846.87 436.14,846.89 435.64,846.91 435.14,846.94 434.64,846.96 434.14,846.98 433.64,847.01 433.14,847.03 432.64,847.05 432.14,847.07 431.64,847.1 431.14,847.12 430.64,847.14 430.14,847.16 429.64,847.19 429.14,847.21 428.64,847.23 428.14,847.25 427.64,847.28 427.14,847.3 426.64,847.32 426.14,847.35 425.64,847.37 425.14,847.39 424.64,847.41 424.14,847.44 423.64,847.46 423.14,847.48 422.64,847.5 422.14,847.53 421.64,847.55 421.14,847.57 420.64,847.59 420.14,847.62 419.64,847.64 419.14,847.66 418.64,847.68 418.14,847.71 417.64,847.73 417.14,847.75 416.64,847.78 416.14,847.8 415.64,847.82 415.14,847.84 414.64,847.87 414.14,847.89 413.64,847.91 413.14,847.93 412.64,847.96 412.14,847.98 411.64,848 411.14,848.02 410.64,848.05 410.14,848.07 409.64,848.09 409.14,848.12 408.64,848.14 408.14,848.16 407.64,848.18 407.14,848.21 406.64,848.23 406.14,848.25 405.64,848.27 405.14,848.3 404.64,848.32 404.14,848.34 403.64,848.36 403.14,848.39 402.64,848.41 402.14,848.43 401.64,848.45 401.14,848.48 400.64,848.5 400.14,848.52 399.64,848.55 399.14,848.57 398.64,848.59 398.14,848.61 397.64,848.64 397.14,848.66 396.64,848.68 396.14,848.7 395.64,848.73 395.14,848.75 394.64,848.77 394.14,848.79 393.64,848.82 393.14,848.84 392.64,848.86 392.14,848.88 391.64,848.91 391.14,848.93 390.64,848.95 390.14,848.98 389.64,849 389.14,849.02 388.64,849.04 388.14,849.07 387.64,849.09 387.14,849.11 386.64,849.13 386.14,849.16 385.64,849.18 385.14,849.2 384.64,849.22 384.14,849.25 383.64,849.27 383.14,849.29 382.64,849.32 382.14,849.34 381.64,849.36 381.14,849.38 380.64,849.41 380.14,849.43 379.64,849.45 379.14,849.47 378.64,849.5 378.14,849.52 377.64,849.54 377.14,849.56 376.64,849.59 376.14,849.61 375.64,849.63 375.14,849.65 374.64,849.68 374.14,849.7 373.64,849.72 373.14,849.75 372.64,849.77 372.14,849.79 371.64,849.81 371.14,849.84 370.64,849.86 370.14,849.88 369.64,849.9 369.14,849.93 368.64,849.95 368.14,849.97 367.64,849.99 367.14,850.02 366.64,850.04 366.14,850.06 365.64,850.09 365.14,850.11 364.64,850.13 364.14,850.15 363.64,850.18 363.14,850.2 362.64,850.2 362.14,850.2 361.64,850.2 361.14,850.2 360.64,850.2 360.14,850.2 359.64,850.2 359.14,850.2 358.64,850.2 358.14,850.2 357.64,850.2 357.14,850.2 356.64,850.2 356.14,850.2 355.64,850.2 355.14,850.2 354.64,850.2 354.14,850.2 353.64,850.2 353.14,850.2 352.64,850.2 352.14,850.2 351.64,850.2 351.14,850.2 350.64,850.2 350.14,850.2 349.64,850.2 349.14,850.2 348.64,850.2 348.14,850.2 347.64,850.2 347.14,850.2 346.64,850.2 346.14,850.2 345.64,850.2 345.14,850.2 344.64,850.2 344.14,850.2 343.64,850.2 343.14,850.2 342.64,850.2 342.14,850.2 341.64,850.2 341.14,850.2 340.64,850.2 340.14,850.2 339.64,850.2 339.14,850.2 338.64,850.2 338.14,850.2 337.64,850.2 337.14,850.2 336.64,850.2 336.14,850.2 335.64,850.2 335.14,850.2 334.64,850.2 334.14,850.2 333.64,850.2 333.14,850.2 332.64,850.2 332.14,850.2 331.64,850.2 331.14,850.2 330.64,850.2 330.14,850.2 329.64,850.2 329.14,850.2 328.64,850.2 328.14,850.2 327.64,850.2 327.14,850.2 326.64,850.2 326.14,850.2 325.64,850.2 325.14,850.2 324.64,850.2 324.14,850.2 323.64,850.2 323.14,850.2 322.64,850.2 322.14,850.2 321.64,850.2 321.14,850.2 320.64,850.2 320.14,850.2 319.64,850.2 319.14,850.2 318.64,850.2 318.14,850.2 317.64,850.2 317.14,850.2 316.64,850.2 316.14,850.2 315.64,850.2 315.14,850.2 314.64,850.2 314.14,850.2 313.64,850.2 313.14,850.2 312.64,850.2 312.14,850.2 311.64,850.2 311.14,850.2 310.64,850.2 310.14,850.2 309.64,850.2 309.14,850.2 308.64,850.2 308.14,850.2 307.64,850.2 307.14,850.2 306.64,850.2 306.14,850.2 305.64,850.2 305.14,850.2 304.64,850.2 304.14,850.2 303.64,850.2 303.14,850.2 302.64,850.2 302.14,850.2 301.64,850.2 301.14,850.2 300.64,850.2 300.14,850.2 299.64,850.2 299.14,850.2 298.64,850.2 298.14,850.2 297.64,850.2 297.14,850.2 296.64,850.2 296.14,850.2 295.64,850.2 295.14,850.2 294.64,850.2 294.14,850.2 293.64,850.2 293.14,850.2 292.64,850.2 292.14,850.2 291.64,850.2 291.14,850.2 290.64,850.2 290.14,850.2 289.64,850.2 289.14,850.2 288.64,850.2 288.14,850.2 287.64,850.2 287.14,850.2 286.64,850.2 286.14,850.2 285.64,850.2 285.14,850.2 284.64,850.2 284.14,850.2 283.64,850.2 283.14,850.2 282.64,850.2 282.14,850.2 281.64,850.2 281.14,850.2 280.64,850.2 280.14,850.2 279.64,850.2 279.14,850.2 278.64,850.2 278.14,850.2 277.64,850.2 277.14,850.2 276.64,850.2 276.14,850.2 275.64,850.2 275.14,850.2 274.64,850.2 274.14,850.2 273.64,850.2 273.14,850.2 272.64,850.2 272.14,850.2 271.64,850.2 271.14,850.2 270.64,850.2 270.14,850.2 269.64,850.2 269.14,850.2 268.64,850.2 268.14,850.2 267.64,850.2 267.14,850.2 266.64,850.2 266.14,850.2 265.64,850.2 265.14,850.2 264.64,850.2 264.14,850.2 263.64,850.2 263.14,850.2 262.64,850.2 262.14,850.2 261.64,850.2 261.14,850.2 260.64,850.2 260.14,850.2 259.64,850.2 259.14,850.2 258.64,850.2 258.14,850.2 257.64,850.2 257.14,850.2 256.64,850.2 256.14,850.2 255.64,850.2 255.14,850.2 254.64,850.2 254.14,850.2 253.64,850.2 253.14,850.2 252.64,850.2 252.14,850.2 251.64,850.2 251.14,850.2 250.64,850.2 250.14,850.2 249.64,850.2 249.14,850.2 248.64,850.2 248.14,850.2 247.64,850.2 247.14,850.2 246.64,850.2 246.14,850.2 245.64,850.2 245.14,850.2 244.64,850.2 244.14,850.2 243.64,850.2 243.14,850.2 242.64,850.2 242.14,850.2 241.64,850.2 241.14,850.2 240.64,850.2 240.14,850.2 239.64,850.2 239.14,850.2 238.64,850.2 238.14,850.2 237.64,850.2 237.14,850.2 236.64,850.2 236.14,850.2 235.64,850.2 235.14,850.2 234.64,850.2 234.14,850.2 233.64,850.2 233.14,850.2 232.64,850.2 232.14,850.2 231.64,850.2 231.14,850.2 230.64,850.2 230.14,850.2 229.64,850.2 229.14,850.2 228.64,850.2 228.14,850.2 227.64,850.2 227.14,850.2 226.64,850.2 226.14,850.2 225.64,850.2 225.14,850.2 224.64,850.2 224.14,850.2 223.64,850.2 223.14,850.2 222.64,850.2 222.14,850.2 221.64,850.2 221.14,850.2 220.64,850.2 220.14,850.2 219.64,850.2 219.14,850.2 218.64,850.2 218.14,850.2 217.64,850.2 217.14,850.2 216.64,850.2 216.14,850.2 215.64,850.2 215.14,850.2 214.64,850.2 214.14,850.2 213.64,850.2 213.14,850.2 212.64,850.2 212.14,850.2 211.64,850.2 211.14,850.2 210.64,850.2 210.14,850.2 209.64,850.2 209.14,850.2 208.64,850.2 208.14,850.2 207.64,850.2 207.14,850.2 206.64,850.2 206.14,850.2 205.64,850.2 205.14,850.2 204.64,850.2 204.14,850.2 203.64,850.2 203.14,850.2 202.64,850.2 202.14,850.2 201.64,850.2 201.14,850.2 200.64,850.2 200.14,850.2 199.64,850.2 199.14,850.2 198.64,850.2 198.14,850.2 197.64,850.2 197.14,850.2 196.64,850.2 196.14,850.2 195.64,850.2 195.14,850.2 194.64,850.2 194.14,850.2 193.64,850.2 193.14,850.2 192.64,850.2 192.14,850.2 191.64,850.2 191.14,850.2 190.64,850.2 190.14,850.2 189.64,850.2 189.14,850.2 188.64,850.2 188.14,850.2 187.64,850.2 187.14,850.2 186.64,850.2 186.14,850.2 185.64,850.2 185.14,850.2 184.64,850.2 184.14,850.2 183.64,850.2 183.14,850.2 182.64,850.2 182.14,850.2 181.64,850.2 181.14,850.2 180.64,850.2 180.14,850.2 179.64,850.2 179.14,850.2 178.64,850.2 178.14,850.2 177.64,850.2 177.14,850.2 176.64,850.2 176.14,850.2 175.64,850.2 175.14,850.2 174.64,850.2 174.14,850.2 173.64,850.2 173.14,850.2 172.64,850.2 172.14,850.2 171.64,850.2 171.14,850.2 170.64,850.2 170.14,850.2 169.64,850.2 169.14,850.2 168.64,850.2 168.14,850.2 167.64,850.2 167.14,850.2 166.64,850.2 166.14,850.2 165.64,850.2 165.14,850.2 164.64,850.2 164.14,850.2 163.64,850.2 163.14,850.2 162.64,850.2 162.14,850.2 161.64,850.2 161.14,850.2 160.64,850.2 160.14,850.2 159.64,850.2 159.14,850.2 158.64,850.2 158.14,850.2 157.64,850.2 157.14,850.2 156.64,850.2 156.14,850.2 155.64,850.2 155.14,850.2 154.64,850.2 154.14,850.2 153.64,850.2 153.14,850.2 152.64,850.2 152.14,850.2 151.64,850.2 151.14,850.2 150.64,850.2 150.14,850.2 149.64,850.2 149.14,850.2 148.64,850.2 148.14,850.2 147.64,850.2 147.14,850.2 146.64,850.2 146.14,850.2 145.64,850.2 145.14,850.2 144.64,850.2 144.14,850.2 143.64,850.2 143.14,850.2 142.64,850.2 142.14,850.2 141.64,850.2 141.14,850.2 140.64,850.2 140.14,850.2 139.64,850.2 139.14,850.2 138.64,850.2 138.14,850.2 137.64,850.2 137.14,850.2 136.64,850.2 136.14,850.2 135.64,850.2 135.14,850.2 134.64,850.2 134.14,850.2 133.64,850.2 133.14,850.2 132.64,850.2 132.14,850.2 131.64,850.2 131.14,850.2 130.64,850.2 130.14,850.2 129.64,850.2 129.14,850.2 128.64,850.2 128.14,850.2 127.64,850.2 127.14,850.2 126.64,850.2 126.14,850.2 125.64,850.2 125.14,850.2 124.64,850.2" fill="#d90000" />
<polyline points="124.64,635 243.87,635 363.1,634.7 482.33,635.1 601.56,639" fill="none" stroke="#93a0b1" stroke-width="2.8" stroke-linejoin="round" />
<polyline points="124.64,747 243.87,747 363.1,747 482.33,746.5 601.56,746.5" fill="none" stroke="#93a0b1" stroke-width="2.0" stroke-linejoin="round" />
<polyline points="124.64,858.4 243.87,858.4 363.1,858 482.33,857 601.56,855.3" fill="none" stroke="#93a0b1" stroke-width="2.8" stroke-linejoin="round" />
<polyline points="124.64,597 243.87,622 363.1,647.6 482.33,608.4 601.56,599.8" fill="none" stroke="#6c7b8b" stroke-width="2.8" stroke-linejoin="round" />
<polyline points="124.64,760.6 243.87,741.2 363.1,747.5 482.33,711.5 601.56,747.8" fill="none" stroke="#6c7b8b" stroke-width="2.3" stroke-linejoin="round" />
<polyline points="124.64,848.5 243.87,830.9 363.1,832 482.33,806.3 601.56,827.8" fill="none" stroke="#6c7b8b" stroke-width="2.8" stroke-linejoin="round" />
<g fill="#6c7b8b">
<circle cx="124.64" cy="559.4" r="4.3"/>
<circle cx="124.64" cy="570.6" r="4.3"/>
<circle cx="124.64" cy="582.4" r="4.3"/>
<circle cx="124.64" cy="589.5" r="4.3"/>
<circle cx="124.64" cy="591" r="4.3"/>
<circle cx="124.64" cy="592.5" r="4.3"/>
<circle cx="124.64" cy="594.5" r="4.3"/>
<circle cx="124.64" cy="597" r="4.3"/>
<circle cx="124.64" cy="598" r="4.3"/>
<circle cx="124.64" cy="599" r="4.3"/>
<circle cx="124.64" cy="601.5" r="4.3"/>
<circle cx="124.64" cy="603.5" r="4.3"/>
<circle cx="124.64" cy="605" r="4.3"/>
<circle cx="124.64" cy="606.5" r="4.3"/>
<circle cx="124.64" cy="609" r="4.3"/>
<circle cx="124.64" cy="611.5" r="4.3"/>
<circle cx="124.64" cy="614" r="4.3"/>
<circle cx="124.64" cy="615.5" r="4.3"/>
<circle cx="124.64" cy="617" r="4.3"/>
<circle cx="124.64" cy="618.5" r="4.3"/>
<circle cx="124.64" cy="621" r="4.3"/>
<circle cx="124.64" cy="622" r="4.3"/>
<circle cx="124.64" cy="623" r="4.3"/>
<circle cx="124.64" cy="624.5" r="4.3"/>
<circle cx="124.64" cy="625.5" r="4.3"/>
<circle cx="124.64" cy="627.5" r="4.3"/>
<circle cx="124.64" cy="628.5" r="4.3"/>
<circle cx="124.64" cy="630.5" r="4.3"/>
<circle cx="124.64" cy="633" r="4.3"/>
<circle cx="124.64" cy="635.5" r="4.3"/>
<circle cx="124.64" cy="638" r="4.3"/>
<circle cx="124.64" cy="640.5" r="4.3"/>
<circle cx="124.64" cy="643" r="4.3"/>
<circle cx="124.64" cy="644.5" r="4.3"/>
<circle cx="124.64" cy="646.5" r="4.3"/>
<circle cx="124.64" cy="647.5" r="4.3"/>
<circle cx="124.64" cy="648.5" r="4.3"/>
<circle cx="124.64" cy="650" r="4.3"/>
<circle cx="124.64" cy="652.5" r="4.3"/>
<circle cx="124.64" cy="654" r="4.3"/>
<circle cx="124.64" cy="656" r="4.3"/>
<circle cx="124.64" cy="658.5" r="4.3"/>
<circle cx="124.64" cy="660.5" r="4.3"/>
<circle cx="124.64" cy="663" r="4.3"/>
<circle cx="124.64" cy="665.5" r="4.3"/>
<circle cx="124.64" cy="667.5" r="4.3"/>
<circle cx="124.64" cy="670" r="4.3"/>
<circle cx="124.64" cy="671.5" r="4.3"/>
<circle cx="124.64" cy="673.5" r="4.3"/>
<circle cx="124.64" cy="674.5" r="4.3"/>
<circle cx="124.64" cy="676.5" r="4.3"/>
<circle cx="124.64" cy="678" r="4.3"/>
<circle cx="124.64" cy="680" r="4.3"/>
<circle cx="124.64" cy="681" r="4.3"/>
<circle cx="124.64" cy="682.5" r="4.3"/>
<circle cx="124.64" cy="684.5" r="4.3"/>
<circle cx="124.64" cy="686.5" r="4.3"/>
<circle cx="124.64" cy="687.5" r="4.3"/>
<circle cx="124.64" cy="688.5" r="4.3"/>
<circle cx="124.64" cy="691" r="4.3"/>
<circle cx="124.64" cy="693.5" r="4.3"/>
<circle cx="124.64" cy="694.5" r="4.3"/>
<circle cx="124.64" cy="696.5" r="4.3"/>
<circle cx="124.64" cy="697.5" r="4.3"/>
<circle cx="124.64" cy="700" r="4.3"/>
<circle cx="124.64" cy="701.5" r="4.3"/>
<circle cx="124.64" cy="702.5" r="4.3"/>
<circle cx="124.64" cy="704.5" r="4.3"/>
<circle cx="124.64" cy="707" r="4.3"/>
<circle cx="124.64" cy="709.5" r="4.3"/>
<circle cx="124.64" cy="710.5" r="4.3"/>
<circle cx="124.64" cy="711.5" r="4.3"/>
<circle cx="124.64" cy="712.5" r="4.3"/>
<circle cx="124.64" cy="715" r="4.3"/>
<circle cx="124.64" cy="717" r="4.3"/>
<circle cx="124.64" cy="719" r="4.3"/>
<circle cx="124.64" cy="720.5" r="4.3"/>
<circle cx="124.64" cy="721.5" r="4.3"/>
<circle cx="124.64" cy="723.5" r="4.3"/>
<circle cx="124.64" cy="724.5" r="4.3"/>
<circle cx="124.64" cy="725.5" r="4.3"/>
<circle cx="124.64" cy="726.5" r="4.3"/>
<circle cx="124.64" cy="727.5" r="4.3"/>
<circle cx="124.64" cy="729" r="4.3"/>
<circle cx="124.64" cy="731.5" r="4.3"/>
<circle cx="124.64" cy="733.5" r="4.3"/>
<circle cx="124.64" cy="735.5" r="4.3"/>
<circle cx="124.64" cy="737" r="4.3"/>
<circle cx="124.64" cy="738" r="4.3"/>
<circle cx="124.64" cy="740" r="4.3"/>
<circle cx="124.64" cy="742" r="4.3"/>
<circle cx="124.64" cy="744" r="4.3"/>
<circle cx="124.64" cy="745.5" r="4.3"/>
<circle cx="124.64" cy="748" r="4.3"/>
<circle cx="124.64" cy="750.5" r="4.3"/>
<circle cx="124.64" cy="753" r="4.3"/>
<circle cx="124.64" cy="755.5" r="4.3"/>
<circle cx="124.64" cy="756.5" r="4.3"/>
<circle cx="124.64" cy="758.5" r="4.3"/>
<circle cx="124.64" cy="761" r="4.3"/>
<circle cx="124.64" cy="762.5" r="4.3"/>
<circle cx="124.64" cy="764.5" r="4.3"/>
<circle cx="124.64" cy="767" r="4.3"/>
<circle cx="124.64" cy="769" r="4.3"/>
<circle cx="124.64" cy="771" r="4.3"/>
<circle cx="124.64" cy="773" r="4.3"/>
<circle cx="124.64" cy="774" r="4.3"/>
<circle cx="124.64" cy="776.5" r="4.3"/>
<circle cx="124.64" cy="778.5" r="4.3"/>
<circle cx="124.64" cy="779.5" r="4.3"/>
<circle cx="124.64" cy="782" r="4.3"/>
<circle cx="124.64" cy="783.5" r="4.3"/>
<circle cx="124.64" cy="784.5" r="4.3"/>
<circle cx="124.64" cy="786.5" r="4.3"/>
<circle cx="124.64" cy="789" r="4.3"/>
<circle cx="124.64" cy="791" r="4.3"/>
<circle cx="124.64" cy="793" r="4.3"/>
<circle cx="124.64" cy="795" r="4.3"/>
<circle cx="124.64" cy="797.5" r="4.3"/>
<circle cx="124.64" cy="798.5" r="4.3"/>
<circle cx="124.64" cy="799.5" r="4.3"/>
<circle cx="124.64" cy="800.5" r="4.3"/>
<circle cx="124.64" cy="802.5" r="4.3"/>
<circle cx="124.64" cy="804.5" r="4.3"/>
<circle cx="124.64" cy="807" r="4.3"/>
<circle cx="124.64" cy="809" r="4.3"/>
<circle cx="124.64" cy="811" r="4.3"/>
<circle cx="124.64" cy="812.5" r="4.3"/>
<circle cx="124.64" cy="814.5" r="4.3"/>
<circle cx="124.64" cy="816" r="4.3"/>
<circle cx="124.64" cy="818" r="4.3"/>
<circle cx="124.64" cy="820" r="4.3"/>
<circle cx="124.64" cy="822" r="4.3"/>
<circle cx="124.64" cy="824" r="4.3"/>
<circle cx="124.64" cy="826.5" r="4.3"/>
<circle cx="124.64" cy="827.5" r="4.3"/>
<circle cx="124.64" cy="828.5" r="4.3"/>
<circle cx="124.64" cy="830" r="4.3"/>
<circle cx="124.64" cy="832" r="4.3"/>
<circle cx="124.64" cy="833.5" r="4.3"/>
<circle cx="124.64" cy="835.5" r="4.3"/>
<circle cx="124.64" cy="837" r="4.3"/>
<circle cx="124.64" cy="839" r="4.3"/>
<circle cx="124.64" cy="840.5" r="4.3"/>
<circle cx="124.64" cy="843" r="4.3"/>
<circle cx="124.64" cy="844" r="4.3"/>
<circle cx="124.64" cy="845" r="4.3"/>
<circle cx="124.64" cy="847" r="4.3"/>
<circle cx="124.64" cy="849" r="4.3"/>
<circle cx="124.64" cy="850.5" r="4.3"/>
<circle cx="124.64" cy="853" r="4.3"/>
<circle cx="124.64" cy="854.5" r="4.3"/>
<circle cx="124.64" cy="855.5" r="4.3"/>
<circle cx="124.64" cy="857.5" r="4.3"/>
<circle cx="124.64" cy="859" r="4.3"/>
<circle cx="124.64" cy="861.5" r="4.3"/>
<circle cx="124.64" cy="863.5" r="4.3"/>
<circle cx="124.64" cy="865" r="4.3"/>
<circle cx="124.64" cy="866" r="4.3"/>
<circle cx="124.64" cy="867" r="4.3"/>
<circle cx="124.64" cy="868.5" r="4.3"/>
<circle cx="124.64" cy="870.5" r="4.3"/>
<circle cx="124.64" cy="872" r="4.3"/>
<circle cx="124.64" cy="874" r="4.3"/>
<circle cx="124.64" cy="876" r="4.3"/>
<circle cx="124.64" cy="877" r="4.3"/>
<circle cx="124.64" cy="879" r="4.3"/>
<circle cx="124.64" cy="880.5" r="4.3"/>
<circle cx="124.64" cy="883" r="4.3"/>
<circle cx="124.64" cy="885" r="4.3"/>
<circle cx="124.64" cy="887" r="4.3"/>
<circle cx="124.64" cy="889.5" r="4.3"/>
<circle cx="124.64" cy="891.5" r="4.3"/>
<circle cx="243.87" cy="559.4" r="4.3"/>
<circle cx="243.87" cy="570.6" r="4.3"/>
<circle cx="243.87" cy="582.4" r="4.3"/>
<circle cx="243.87" cy="884.7" r="4.3"/>
<circle cx="243.87" cy="904" r="4.3"/>
<circle cx="243.87" cy="594.9" r="4.3"/>
<circle cx="243.87" cy="596.9" r="4.3"/>
<circle cx="243.87" cy="599.4" r="4.3"/>
<circle cx="243.87" cy="601.9" r="4.3"/>
<circle cx="243.87" cy="602.9" r="4.3"/>
<circle cx="243.87" cy="605.4" r="4.3"/>
<circle cx="243.87" cy="606.9" r="4.3"/>
<circle cx="243.87" cy="608.4" r="4.3"/>
<circle cx="243.87" cy="609.4" r="4.3"/>
<circle cx="243.87" cy="611.9" r="4.3"/>
<circle cx="243.87" cy="614.4" r="4.3"/>
<circle cx="243.87" cy="615.9" r="4.3"/>
<circle cx="243.87" cy="616.9" r="4.3"/>
<circle cx="243.87" cy="619.4" r="4.3"/>
<circle cx="243.87" cy="621.4" r="4.3"/>
<circle cx="243.87" cy="623.4" r="4.3"/>
<circle cx="243.87" cy="624.9" r="4.3"/>
<circle cx="243.87" cy="625.9" r="4.3"/>
<circle cx="243.87" cy="627.9" r="4.3"/>
<circle cx="243.87" cy="628.9" r="4.3"/>
<circle cx="243.87" cy="630.4" r="4.3"/>
<circle cx="243.87" cy="631.4" r="4.3"/>
<circle cx="243.87" cy="632.4" r="4.3"/>
<circle cx="243.87" cy="633.9" r="4.3"/>
<circle cx="243.87" cy="636.4" r="4.3"/>
<circle cx="243.87" cy="637.4" r="4.3"/>
<circle cx="243.87" cy="638.4" r="4.3"/>
<circle cx="243.87" cy="640.9" r="4.3"/>
<circle cx="243.87" cy="641.9" r="4.3"/>
<circle cx="243.87" cy="643.4" r="4.3"/>
<circle cx="243.87" cy="645.4" r="4.3"/>
<circle cx="243.87" cy="646.9" r="4.3"/>
<circle cx="243.87" cy="647.9" r="4.3"/>
<circle cx="243.87" cy="650.4" r="4.3"/>
<circle cx="243.87" cy="651.4" r="4.3"/>
<circle cx="243.87" cy="652.4" r="4.3"/>
<circle cx="243.87" cy="654.4" r="4.3"/>
<circle cx="243.87" cy="655.9" r="4.3"/>
<circle cx="243.87" cy="657.9" r="4.3"/>
<circle cx="243.87" cy="660.4" r="4.3"/>
<circle cx="243.87" cy="661.4" r="4.3"/>
<circle cx="243.87" cy="663.4" r="4.3"/>
<circle cx="243.87" cy="664.9" r="4.3"/>
<circle cx="243.87" cy="666.4" r="4.3"/>
<circle cx="243.87" cy="667.4" r="4.3"/>
<circle cx="243.87" cy="668.4" r="4.3"/>
<circle cx="243.87" cy="669.9" r="4.3"/>
<circle cx="243.87" cy="671.4" r="4.3"/>
<circle cx="243.87" cy="673.4" r="4.3"/>
<circle cx="243.87" cy="674.9" r="4.3"/>
<circle cx="243.87" cy="675.9" r="4.3"/>
<circle cx="243.87" cy="678.4" r="4.3"/>
<circle cx="243.87" cy="680.9" r="4.3"/>
<circle cx="243.87" cy="681.9" r="4.3"/>
<circle cx="243.87" cy="683.9" r="4.3"/>
<circle cx="243.87" cy="685.4" r="4.3"/>
<circle cx="243.87" cy="687.4" r="4.3"/>
<circle cx="243.87" cy="689.9" r="4.3"/>
<circle cx="243.87" cy="690.9" r="4.3"/>
<circle cx="243.87" cy="693.4" r="4.3"/>
<circle cx="243.87" cy="695.4" r="4.3"/>
<circle cx="243.87" cy="696.4" r="4.3"/>
<circle cx="243.87" cy="697.4" r="4.3"/>
<circle cx="243.87" cy="698.9" r="4.3"/>
<circle cx="243.87" cy="699.9" r="4.3"/>
<circle cx="243.87" cy="700.9" r="4.3"/>
<circle cx="243.87" cy="701.9" r="4.3"/>
<circle cx="243.87" cy="702.9" r="4.3"/>
<circle cx="243.87" cy="705.4" r="4.3"/>
<circle cx="243.87" cy="706.4" r="4.3"/>
<circle cx="243.87" cy="707.4" r="4.3"/>
<circle cx="243.87" cy="709.9" r="4.3"/>
<circle cx="243.87" cy="711.9" r="4.3"/>
<circle cx="243.87" cy="713.4" r="4.3"/>
<circle cx="243.87" cy="715.4" r="4.3"/>
<circle cx="243.87" cy="716.4" r="4.3"/>
<circle cx="243.87" cy="718.4" r="4.3"/>
<circle cx="243.87" cy="720.9" r="4.3"/>
<circle cx="243.87" cy="723.4" r="4.3"/>
<circle cx="243.87" cy="725.4" r="4.3"/>
<circle cx="243.87" cy="727.4" r="4.3"/>
<circle cx="243.87" cy="729.4" r="4.3"/>
<circle cx="243.87" cy="730.9" r="4.3"/>
<circle cx="243.87" cy="732.9" r="4.3"/>
<circle cx="243.87" cy="735.4" r="4.3"/>
<circle cx="243.87" cy="736.4" r="4.3"/>
<circle cx="243.87" cy="737.9" r="4.3"/>
<circle cx="243.87" cy="738.9" r="4.3"/>
<circle cx="243.87" cy="741.4" r="4.3"/>
<circle cx="243.87" cy="742.4" r="4.3"/>
<circle cx="243.87" cy="743.9" r="4.3"/>
<circle cx="243.87" cy="744.9" r="4.3"/>
<circle cx="243.87" cy="746.9" r="4.3"/>
<circle cx="243.87" cy="749.4" r="4.3"/>
<circle cx="243.87" cy="751.9" r="4.3"/>
<circle cx="243.87" cy="752.9" r="4.3"/>
<circle cx="243.87" cy="755.4" r="4.3"/>
<circle cx="243.87" cy="756.4" r="4.3"/>
<circle cx="243.87" cy="758.4" r="4.3"/>
<circle cx="243.87" cy="760.9" r="4.3"/>
<circle cx="243.87" cy="762.9" r="4.3"/>
<circle cx="243.87" cy="765.4" r="4.3"/>
<circle cx="243.87" cy="767.9" r="4.3"/>
<circle cx="243.87" cy="770.4" r="4.3"/>
<circle cx="243.87" cy="771.4" r="4.3"/>
<circle cx="243.87" cy="772.9" r="4.3"/>
<circle cx="243.87" cy="774.4" r="4.3"/>
<circle cx="243.87" cy="776.4" r="4.3"/>
<circle cx="243.87" cy="777.4" r="4.3"/>
<circle cx="243.87" cy="779.9" r="4.3"/>
<circle cx="243.87" cy="781.4" r="4.3"/>
<circle cx="243.87" cy="783.9" r="4.3"/>
<circle cx="243.87" cy="785.4" r="4.3"/>
<circle cx="243.87" cy="786.4" r="4.3"/>
<circle cx="243.87" cy="788.4" r="4.3"/>
<circle cx="243.87" cy="790.4" r="4.3"/>
<circle cx="243.87" cy="792.4" r="4.3"/>
<circle cx="243.87" cy="793.4" r="4.3"/>
<circle cx="243.87" cy="795.9" r="4.3"/>
<circle cx="243.87" cy="796.9" r="4.3"/>
<circle cx="243.87" cy="799.4" r="4.3"/>
<circle cx="243.87" cy="800.4" r="4.3"/>
<circle cx="243.87" cy="802.4" r="4.3"/>
<circle cx="243.87" cy="803.4" r="4.3"/>
<circle cx="243.87" cy="804.4" r="4.3"/>
<circle cx="243.87" cy="806.9" r="4.3"/>
<circle cx="243.87" cy="808.4" r="4.3"/>
<circle cx="243.87" cy="809.9" r="4.3"/>
<circle cx="243.87" cy="812.4" r="4.3"/>
<circle cx="243.87" cy="813.4" r="4.3"/>
<circle cx="243.87" cy="814.4" r="4.3"/>
<circle cx="243.87" cy="815.4" r="4.3"/>
<circle cx="243.87" cy="817.9" r="4.3"/>
<circle cx="243.87" cy="819.4" r="4.3"/>
<circle cx="243.87" cy="820.4" r="4.3"/>
<circle cx="243.87" cy="822.4" r="4.3"/>
<circle cx="243.87" cy="823.4" r="4.3"/>
<circle cx="243.87" cy="824.4" r="4.3"/>
<circle cx="243.87" cy="825.4" r="4.3"/>
<circle cx="243.87" cy="827.9" r="4.3"/>
<circle cx="243.87" cy="829.9" r="4.3"/>
<circle cx="243.87" cy="831.9" r="4.3"/>
<circle cx="243.87" cy="832.9" r="4.3"/>
<circle cx="243.87" cy="833.9" r="4.3"/>
<circle cx="243.87" cy="835.4" r="4.3"/>
<circle cx="243.87" cy="836.4" r="4.3"/>
<circle cx="243.87" cy="837.4" r="4.3"/>
<circle cx="243.87" cy="838.4" r="4.3"/>
<circle cx="243.87" cy="840.4" r="4.3"/>
<circle cx="243.87" cy="841.9" r="4.3"/>
<circle cx="243.87" cy="842.9" r="4.3"/>
<circle cx="243.87" cy="844.4" r="4.3"/>
<circle cx="243.87" cy="845.9" r="4.3"/>
<circle cx="243.87" cy="847.4" r="4.3"/>
<circle cx="243.87" cy="849.9" r="4.3"/>
<circle cx="243.87" cy="852.4" r="4.3"/>
<circle cx="243.87" cy="854.4" r="4.3"/>
<circle cx="243.87" cy="856.4" r="4.3"/>
<circle cx="243.87" cy="858.9" r="4.3"/>
<circle cx="243.87" cy="860.9" r="4.3"/>
<circle cx="243.87" cy="863.4" r="4.3"/>
<circle cx="243.87" cy="864.4" r="4.3"/>
<circle cx="243.87" cy="866.9" r="4.3"/>
<circle cx="363.1" cy="559.4" r="4.3"/>
<circle cx="363.1" cy="570.6" r="4.3"/>
<circle cx="363.1" cy="582.4" r="4.3"/>
<circle cx="363.1" cy="596" r="4.3"/>
<circle cx="363.1" cy="893.6" r="4.3"/>
<circle cx="363.1" cy="602.4" r="4.3"/>
<circle cx="363.1" cy="604.9" r="4.3"/>
<circle cx="363.1" cy="606.4" r="4.3"/>
<circle cx="363.1" cy="608.9" r="4.3"/>
<circle cx="363.1" cy="611.4" r="4.3"/>
<circle cx="363.1" cy="612.9" r="4.3"/>
<circle cx="363.1" cy="615.4" r="4.3"/>
<circle cx="363.1" cy="616.9" r="4.3"/>
<circle cx="363.1" cy="618.4" r="4.3"/>
<circle cx="363.1" cy="619.4" r="4.3"/>
<circle cx="363.1" cy="621.9" r="4.3"/>
<circle cx="363.1" cy="624.4" r="4.3"/>
<circle cx="363.1" cy="626.9" r="4.3"/>
<circle cx="363.1" cy="628.4" r="4.3"/>
<circle cx="363.1" cy="629.9" r="4.3"/>
<circle cx="363.1" cy="631.9" r="4.3"/>
<circle cx="363.1" cy="633.4" r="4.3"/>
<circle cx="363.1" cy="634.9" r="4.3"/>
<circle cx="363.1" cy="636.9" r="4.3"/>
<circle cx="363.1" cy="638.4" r="4.3"/>
<circle cx="363.1" cy="640.4" r="4.3"/>
<circle cx="363.1" cy="642.9" r="4.3"/>
<circle cx="363.1" cy="644.9" r="4.3"/>
<circle cx="363.1" cy="646.4" r="4.3"/>
<circle cx="363.1" cy="648.4" r="4.3"/>
<circle cx="363.1" cy="649.4" r="4.3"/>
<circle cx="363.1" cy="651.4" r="4.3"/>
<circle cx="363.1" cy="653.9" r="4.3"/>
<circle cx="363.1" cy="656.4" r="4.3"/>
<circle cx="363.1" cy="657.9" r="4.3"/>
<circle cx="363.1" cy="659.4" r="4.3"/>
<circle cx="363.1" cy="661.4" r="4.3"/>
<circle cx="363.1" cy="662.9" r="4.3"/>
<circle cx="363.1" cy="664.9" r="4.3"/>
<circle cx="363.1" cy="667.4" r="4.3"/>
<circle cx="363.1" cy="668.9" r="4.3"/>
<circle cx="363.1" cy="671.4" r="4.3"/>
<circle cx="363.1" cy="673.9" r="4.3"/>
<circle cx="363.1" cy="675.4" r="4.3"/>
<circle cx="363.1" cy="677.9" r="4.3"/>
<circle cx="363.1" cy="678.9" r="4.3"/>
<circle cx="363.1" cy="681.4" r="4.3"/>
<circle cx="363.1" cy="682.4" r="4.3"/>
<circle cx="363.1" cy="684.9" r="4.3"/>
<circle cx="363.1" cy="685.9" r="4.3"/>
<circle cx="363.1" cy="688.4" r="4.3"/>
<circle cx="363.1" cy="689.9" r="4.3"/>
<circle cx="363.1" cy="691.4" r="4.3"/>
<circle cx="363.1" cy="692.4" r="4.3"/>
<circle cx="363.1" cy="693.9" r="4.3"/>
<circle cx="363.1" cy="695.9" r="4.3"/>
<circle cx="363.1" cy="697.4" r="4.3"/>
<circle cx="363.1" cy="698.9" r="4.3"/>
<circle cx="363.1" cy="700.9" r="4.3"/>
<circle cx="363.1" cy="702.4" r="4.3"/>
<circle cx="363.1" cy="703.9" r="4.3"/>
<circle cx="363.1" cy="704.9" r="4.3"/>
<circle cx="363.1" cy="706.9" r="4.3"/>
<circle cx="363.1" cy="708.4" r="4.3"/>
<circle cx="363.1" cy="709.4" r="4.3"/>
<circle cx="363.1" cy="711.4" r="4.3"/>
<circle cx="363.1" cy="712.9" r="4.3"/>
<circle cx="363.1" cy="715.4" r="4.3"/>
<circle cx="363.1" cy="716.4" r="4.3"/>
<circle cx="363.1" cy="717.4" r="4.3"/>
<circle cx="363.1" cy="718.4" r="4.3"/>
<circle cx="363.1" cy="719.4" r="4.3"/>
<circle cx="363.1" cy="721.4" r="4.3"/>
<circle cx="363.1" cy="723.4" r="4.3"/>
<circle cx="363.1" cy="724.4" r="4.3"/>
<circle cx="363.1" cy="726.4" r="4.3"/>
<circle cx="363.1" cy="728.9" r="4.3"/>
<circle cx="363.1" cy="730.9" r="4.3"/>
<circle cx="363.1" cy="731.9" r="4.3"/>
<circle cx="363.1" cy="732.9" r="4.3"/>
<circle cx="363.1" cy="734.9" r="4.3"/>
<circle cx="363.1" cy="736.9" r="4.3"/>
<circle cx="363.1" cy="739.4" r="4.3"/>
<circle cx="363.1" cy="741.9" r="4.3"/>
<circle cx="363.1" cy="744.4" r="4.3"/>
<circle cx="363.1" cy="745.4" r="4.3"/>
<circle cx="363.1" cy="746.9" r="4.3"/>
<circle cx="363.1" cy="749.4" r="4.3"/>
<circle cx="363.1" cy="751.9" r="4.3"/>
<circle cx="363.1" cy="753.4" r="4.3"/>
<circle cx="363.1" cy="755.4" r="4.3"/>
<circle cx="363.1" cy="756.4" r="4.3"/>
<circle cx="363.1" cy="758.4" r="4.3"/>
<circle cx="363.1" cy="759.4" r="4.3"/>
<circle cx="363.1" cy="761.9" r="4.3"/>
<circle cx="363.1" cy="762.9" r="4.3"/>
<circle cx="363.1" cy="765.4" r="4.3"/>
<circle cx="363.1" cy="767.4" r="4.3"/>
<circle cx="363.1" cy="768.4" r="4.3"/>
<circle cx="363.1" cy="770.4" r="4.3"/>
<circle cx="363.1" cy="772.4" r="4.3"/>
<circle cx="363.1" cy="774.9" r="4.3"/>
<circle cx="363.1" cy="776.9" r="4.3"/>
<circle cx="363.1" cy="778.9" r="4.3"/>
<circle cx="363.1" cy="779.9" r="4.3"/>
<circle cx="363.1" cy="781.9" r="4.3"/>
<circle cx="363.1" cy="782.9" r="4.3"/>
<circle cx="363.1" cy="785.4" r="4.3"/>
<circle cx="363.1" cy="787.4" r="4.3"/>
<circle cx="363.1" cy="788.4" r="4.3"/>
<circle cx="363.1" cy="790.4" r="4.3"/>
<circle cx="363.1" cy="791.9" r="4.3"/>
<circle cx="363.1" cy="793.4" r="4.3"/>
<circle cx="363.1" cy="794.9" r="4.3"/>
<circle cx="363.1" cy="796.9" r="4.3"/>
<circle cx="363.1" cy="799.4" r="4.3"/>
<circle cx="363.1" cy="800.4" r="4.3"/>
<circle cx="363.1" cy="801.4" r="4.3"/>
<circle cx="363.1" cy="802.9" r="4.3"/>
<circle cx="363.1" cy="804.9" r="4.3"/>
<circle cx="363.1" cy="807.4" r="4.3"/>
<circle cx="363.1" cy="809.4" r="4.3"/>
<circle cx="363.1" cy="810.9" r="4.3"/>
<circle cx="363.1" cy="813.4" r="4.3"/>
<circle cx="363.1" cy="815.9" r="4.3"/>
<circle cx="363.1" cy="817.9" r="4.3"/>
<circle cx="363.1" cy="819.4" r="4.3"/>
<circle cx="363.1" cy="820.4" r="4.3"/>
<circle cx="363.1" cy="821.4" r="4.3"/>
<circle cx="363.1" cy="822.9" r="4.3"/>
<circle cx="363.1" cy="825.4" r="4.3"/>
<circle cx="363.1" cy="827.4" r="4.3"/>
<circle cx="363.1" cy="828.4" r="4.3"/>
<circle cx="363.1" cy="830.4" r="4.3"/>
<circle cx="363.1" cy="832.4" r="4.3"/>
<circle cx="363.1" cy="834.9" r="4.3"/>
<circle cx="363.1" cy="835.9" r="4.3"/>
<circle cx="363.1" cy="837.4" r="4.3"/>
<circle cx="363.1" cy="838.4" r="4.3"/>
<circle cx="363.1" cy="840.9" r="4.3"/>
<circle cx="363.1" cy="842.9" r="4.3"/>
<circle cx="363.1" cy="844.4" r="4.3"/>
<circle cx="363.1" cy="846.4" r="4.3"/>
<circle cx="363.1" cy="848.4" r="4.3"/>
<circle cx="363.1" cy="850.9" r="4.3"/>
<circle cx="363.1" cy="853.4" r="4.3"/>
<circle cx="363.1" cy="854.4" r="4.3"/>
<circle cx="363.1" cy="856.4" r="4.3"/>
<circle cx="363.1" cy="858.9" r="4.3"/>
<circle cx="363.1" cy="859.9" r="4.3"/>
<circle cx="363.1" cy="861.4" r="4.3"/>
<circle cx="363.1" cy="863.4" r="4.3"/>
<circle cx="363.1" cy="864.4" r="4.3"/>
<circle cx="363.1" cy="865.4" r="4.3"/>
<circle cx="363.1" cy="866.4" r="4.3"/>
<circle cx="363.1" cy="867.9" r="4.3"/>
<circle cx="363.1" cy="869.4" r="4.3"/>
<circle cx="363.1" cy="871.9" r="4.3"/>
<circle cx="363.1" cy="874.4" r="4.3"/>
<circle cx="363.1" cy="875.9" r="4.3"/>
<circle cx="363.1" cy="877.4" r="4.3"/>
<circle cx="363.1" cy="879.9" r="4.3"/>
<circle cx="363.1" cy="881.4" r="4.3"/>
<circle cx="482.33" cy="559.4" r="4.3"/>
<circle cx="482.33" cy="570.6" r="4.3"/>
<circle cx="482.33" cy="582.4" r="4.3"/>
<circle cx="482.33" cy="594.9" r="4.3"/>
<circle cx="482.33" cy="596.4" r="4.3"/>
<circle cx="482.33" cy="597.9" r="4.3"/>
<circle cx="482.33" cy="599.9" r="4.3"/>
<circle cx="482.33" cy="601.9" r="4.3"/>
<circle cx="482.33" cy="603.9" r="4.3"/>
<circle cx="482.33" cy="604.9" r="4.3"/>
<circle cx="482.33" cy="607.4" r="4.3"/>
<circle cx="482.33" cy="609.9" r="4.3"/>
<circle cx="482.33" cy="612.4" r="4.3"/>
<circle cx="482.33" cy="614.4" r="4.3"/>
<circle cx="482.33" cy="616.4" r="4.3"/>
<circle cx="482.33" cy="618.9" r="4.3"/>
<circle cx="482.33" cy="620.9" r="4.3"/>
<circle cx="482.33" cy="623.4" r="4.3"/>
<circle cx="482.33" cy="624.4" r="4.3"/>
<circle cx="482.33" cy="625.9" r="4.3"/>
<circle cx="482.33" cy="626.9" r="4.3"/>
<circle cx="482.33" cy="627.9" r="4.3"/>
<circle cx="482.33" cy="629.4" r="4.3"/>
<circle cx="482.33" cy="631.9" r="4.3"/>
<circle cx="482.33" cy="633.4" r="4.3"/>
<circle cx="482.33" cy="635.9" r="4.3"/>
<circle cx="482.33" cy="637.4" r="4.3"/>
<circle cx="482.33" cy="638.9" r="4.3"/>
<circle cx="482.33" cy="640.4" r="4.3"/>
<circle cx="482.33" cy="641.4" r="4.3"/>
<circle cx="482.33" cy="643.9" r="4.3"/>
<circle cx="482.33" cy="644.9" r="4.3"/>
<circle cx="482.33" cy="646.9" r="4.3"/>
<circle cx="482.33" cy="648.4" r="4.3"/>
<circle cx="482.33" cy="649.9" r="4.3"/>
<circle cx="482.33" cy="652.4" r="4.3"/>
<circle cx="482.33" cy="653.4" r="4.3"/>
<circle cx="482.33" cy="654.4" r="4.3"/>
<circle cx="482.33" cy="655.4" r="4.3"/>
<circle cx="482.33" cy="657.4" r="4.3"/>
<circle cx="482.33" cy="658.9" r="4.3"/>
<circle cx="482.33" cy="659.9" r="4.3"/>
<circle cx="482.33" cy="662.4" r="4.3"/>
<circle cx="482.33" cy="663.4" r="4.3"/>
<circle cx="482.33" cy="665.4" r="4.3"/>
<circle cx="482.33" cy="667.4" r="4.3"/>
<circle cx="482.33" cy="669.4" r="4.3"/>
<circle cx="482.33" cy="671.4" r="4.3"/>
<circle cx="482.33" cy="672.9" r="4.3"/>
<circle cx="482.33" cy="673.9" r="4.3"/>
<circle cx="482.33" cy="674.9" r="4.3"/>
<circle cx="482.33" cy="675.9" r="4.3"/>
<circle cx="482.33" cy="677.9" r="4.3"/>
<circle cx="482.33" cy="679.4" r="4.3"/>
<circle cx="482.33" cy="680.4" r="4.3"/>
<circle cx="482.33" cy="681.9" r="4.3"/>
<circle cx="482.33" cy="684.4" r="4.3"/>
<circle cx="482.33" cy="685.9" r="4.3"/>
<circle cx="482.33" cy="688.4" r="4.3"/>
<circle cx="482.33" cy="690.4" r="4.3"/>
<circle cx="482.33" cy="691.4" r="4.3"/>
<circle cx="482.33" cy="692.4" r="4.3"/>
<circle cx="482.33" cy="694.9" r="4.3"/>
<circle cx="482.33" cy="695.9" r="4.3"/>
<circle cx="482.33" cy="697.4" r="4.3"/>
<circle cx="482.33" cy="698.9" r="4.3"/>
<circle cx="482.33" cy="701.4" r="4.3"/>
<circle cx="482.33" cy="703.9" r="4.3"/>
<circle cx="482.33" cy="706.4" r="4.3"/>
<circle cx="482.33" cy="707.4" r="4.3"/>
<circle cx="482.33" cy="709.9" r="4.3"/>
<circle cx="482.33" cy="711.4" r="4.3"/>
<circle cx="482.33" cy="713.9" r="4.3"/>
<circle cx="482.33" cy="715.9" r="4.3"/>
<circle cx="482.33" cy="716.9" r="4.3"/>
<circle cx="482.33" cy="719.4" r="4.3"/>
<circle cx="482.33" cy="721.9" r="4.3"/>
<circle cx="482.33" cy="724.4" r="4.3"/>
<circle cx="482.33" cy="726.9" r="4.3"/>
<circle cx="482.33" cy="728.4" r="4.3"/>
<circle cx="482.33" cy="730.9" r="4.3"/>
<circle cx="482.33" cy="731.9" r="4.3"/>
<circle cx="482.33" cy="733.9" r="4.3"/>
<circle cx="482.33" cy="735.9" r="4.3"/>
<circle cx="482.33" cy="737.9" r="4.3"/>
<circle cx="482.33" cy="740.4" r="4.3"/>
<circle cx="482.33" cy="742.4" r="4.3"/>
<circle cx="482.33" cy="744.9" r="4.3"/>
<circle cx="482.33" cy="746.4" r="4.3"/>
<circle cx="482.33" cy="747.4" r="4.3"/>
<circle cx="482.33" cy="748.9" r="4.3"/>
<circle cx="482.33" cy="750.9" r="4.3"/>
<circle cx="482.33" cy="752.9" r="4.3"/>
<circle cx="482.33" cy="754.4" r="4.3"/>
<circle cx="482.33" cy="756.9" r="4.3"/>
<circle cx="482.33" cy="758.4" r="4.3"/>
<circle cx="482.33" cy="759.9" r="4.3"/>
<circle cx="482.33" cy="761.4" r="4.3"/>
<circle cx="482.33" cy="762.4" r="4.3"/>
<circle cx="482.33" cy="763.9" r="4.3"/>
<circle cx="482.33" cy="766.4" r="4.3"/>
<circle cx="482.33" cy="767.9" r="4.3"/>
<circle cx="482.33" cy="768.9" r="4.3"/>
<circle cx="482.33" cy="770.4" r="4.3"/>
<circle cx="482.33" cy="771.4" r="4.3"/>
<circle cx="482.33" cy="772.9" r="4.3"/>
<circle cx="482.33" cy="775.4" r="4.3"/>
<circle cx="482.33" cy="777.9" r="4.3"/>
<circle cx="482.33" cy="779.4" r="4.3"/>
<circle cx="482.33" cy="780.4" r="4.3"/>
<circle cx="482.33" cy="781.4" r="4.3"/>
<circle cx="482.33" cy="783.9" r="4.3"/>
<circle cx="482.33" cy="786.4" r="4.3"/>
<circle cx="482.33" cy="788.4" r="4.3"/>
<circle cx="482.33" cy="790.9" r="4.3"/>
<circle cx="482.33" cy="791.9" r="4.3"/>
<circle cx="482.33" cy="792.9" r="4.3"/>
<circle cx="482.33" cy="794.4" r="4.3"/>
<circle cx="482.33" cy="796.9" r="4.3"/>
<circle cx="482.33" cy="797.9" r="4.3"/>
<circle cx="482.33" cy="800.4" r="4.3"/>
<circle cx="482.33" cy="802.9" r="4.3"/>
<circle cx="482.33" cy="803.9" r="4.3"/>
<circle cx="482.33" cy="805.4" r="4.3"/>
<circle cx="482.33" cy="806.9" r="4.3"/>
<circle cx="482.33" cy="807.9" r="4.3"/>
<circle cx="482.33" cy="810.4" r="4.3"/>
<circle cx="482.33" cy="812.9" r="4.3"/>
<circle cx="482.33" cy="814.4" r="4.3"/>
<circle cx="482.33" cy="815.9" r="4.3"/>
<circle cx="482.33" cy="817.9" r="4.3"/>
<circle cx="482.33" cy="818.9" r="4.3"/>
<circle cx="482.33" cy="820.9" r="4.3"/>
<circle cx="482.33" cy="821.9" r="4.3"/>
<circle cx="482.33" cy="822.9" r="4.3"/>
<circle cx="482.33" cy="824.9" r="4.3"/>
<circle cx="482.33" cy="826.9" r="4.3"/>
<circle cx="482.33" cy="829.4" r="4.3"/>
<circle cx="482.33" cy="831.4" r="4.3"/>
<circle cx="482.33" cy="833.9" r="4.3"/>
<circle cx="482.33" cy="835.4" r="4.3"/>
<circle cx="482.33" cy="837.4" r="4.3"/>
<circle cx="482.33" cy="838.4" r="4.3"/>
<circle cx="601.56" cy="559.4" r="4.3"/>
<circle cx="601.56" cy="570.6" r="4.3"/>
<circle cx="601.56" cy="590" r="4.3"/>
<circle cx="601.56" cy="600.3" r="4.3"/>
<circle cx="601.56" cy="623.5" r="4.3"/>
<circle cx="601.56" cy="635.8" r="4.3"/>
<circle cx="601.56" cy="848.9" r="4.3"/>
<circle cx="601.56" cy="865.7" r="4.3"/>
<circle cx="601.56" cy="645.5" r="4.3"/>
<circle cx="601.56" cy="647.5" r="4.3"/>
<circle cx="601.56" cy="649.5" r="4.3"/>
<circle cx="601.56" cy="650.5" r="4.3"/>
<circle cx="601.56" cy="651.5" r="4.3"/>
<circle cx="601.56" cy="654" r="4.3"/>
<circle cx="601.56" cy="655" r="4.3"/>
<circle cx="601.56" cy="656" r="4.3"/>
<circle cx="601.56" cy="657" r="4.3"/>
<circle cx="601.56" cy="658" r="4.3"/>
<circle cx="601.56" cy="659" r="4.3"/>
<circle cx="601.56" cy="660" r="4.3"/>
<circle cx="601.56" cy="661.5" r="4.3"/>
<circle cx="601.56" cy="662.5" r="4.3"/>
<circle cx="601.56" cy="665" r="4.3"/>
<circle cx="601.56" cy="666" r="4.3"/>
<circle cx="601.56" cy="667.5" r="4.3"/>
<circle cx="601.56" cy="669.5" r="4.3"/>
<circle cx="601.56" cy="671" r="4.3"/>
<circle cx="601.56" cy="673.5" r="4.3"/>
<circle cx="601.56" cy="675.5" r="4.3"/>
<circle cx="601.56" cy="678" r="4.3"/>
<circle cx="601.56" cy="680" r="4.3"/>
<circle cx="601.56" cy="681" r="4.3"/>
<circle cx="601.56" cy="683.5" r="4.3"/>
<circle cx="601.56" cy="685.5" r="4.3"/>
<circle cx="601.56" cy="688" r="4.3"/>
<circle cx="601.56" cy="689" r="4.3"/>
<circle cx="601.56" cy="691" r="4.3"/>
<circle cx="601.56" cy="692.5" r="4.3"/>
<circle cx="601.56" cy="695" r="4.3"/>
<circle cx="601.56" cy="696" r="4.3"/>
<circle cx="601.56" cy="698.5" r="4.3"/>
<circle cx="601.56" cy="700.5" r="4.3"/>
<circle cx="601.56" cy="703" r="4.3"/>
<circle cx="601.56" cy="704.5" r="4.3"/>
<circle cx="601.56" cy="707" r="4.3"/>
<circle cx="601.56" cy="709" r="4.3"/>
<circle cx="601.56" cy="710.5" r="4.3"/>
<circle cx="601.56" cy="712.5" r="4.3"/>
<circle cx="601.56" cy="715" r="4.3"/>
<circle cx="601.56" cy="717.5" r="4.3"/>
<circle cx="601.56" cy="719" r="4.3"/>
<circle cx="601.56" cy="721.5" r="4.3"/>
<circle cx="601.56" cy="724" r="4.3"/>
<circle cx="601.56" cy="726" r="4.3"/>
<circle cx="601.56" cy="728" r="4.3"/>
<circle cx="601.56" cy="729.5" r="4.3"/>
<circle cx="601.56" cy="732" r="4.3"/>
<circle cx="601.56" cy="734.5" r="4.3"/>
<circle cx="601.56" cy="735.5" r="4.3"/>
<circle cx="601.56" cy="737" r="4.3"/>
<circle cx="601.56" cy="738.5" r="4.3"/>
<circle cx="601.56" cy="739.5" r="4.3"/>
<circle cx="601.56" cy="742" r="4.3"/>
<circle cx="601.56" cy="743" r="4.3"/>
<circle cx="601.56" cy="744" r="4.3"/>
<circle cx="601.56" cy="746" r="4.3"/>
<circle cx="601.56" cy="747.5" r="4.3"/>
<circle cx="601.56" cy="748.5" r="4.3"/>
<circle cx="601.56" cy="749.5" r="4.3"/>
<circle cx="601.56" cy="752" r="4.3"/>
<circle cx="601.56" cy="754.5" r="4.3"/>
<circle cx="601.56" cy="756.5" r="4.3"/>
<circle cx="601.56" cy="758.5" r="4.3"/>
<circle cx="601.56" cy="759.5" r="4.3"/>
<circle cx="601.56" cy="760.5" r="4.3"/>
<circle cx="601.56" cy="762" r="4.3"/>
<circle cx="601.56" cy="764.5" r="4.3"/>
<circle cx="601.56" cy="765.5" r="4.3"/>
<circle cx="601.56" cy="767.5" r="4.3"/>
<circle cx="601.56" cy="769.5" r="4.3"/>
<circle cx="601.56" cy="770.5" r="4.3"/>
<circle cx="601.56" cy="773" r="4.3"/>
<circle cx="601.56" cy="774" r="4.3"/>
<circle cx="601.56" cy="775.5" r="4.3"/>
<circle cx="601.56" cy="777" r="4.3"/>
<circle cx="601.56" cy="778" r="4.3"/>
<circle cx="601.56" cy="779.5" r="4.3"/>
<circle cx="601.56" cy="781" r="4.3"/>
<circle cx="601.56" cy="782" r="4.3"/>
<circle cx="601.56" cy="783" r="4.3"/>
<circle cx="601.56" cy="784.5" r="4.3"/>
<circle cx="601.56" cy="786.5" r="4.3"/>
<circle cx="601.56" cy="788" r="4.3"/>
<circle cx="601.56" cy="789.5" r="4.3"/>
<circle cx="601.56" cy="792" r="4.3"/>
<circle cx="601.56" cy="794" r="4.3"/>
<circle cx="601.56" cy="795.5" r="4.3"/>
<circle cx="601.56" cy="798" r="4.3"/>
<circle cx="601.56" cy="799.5" r="4.3"/>
<circle cx="601.56" cy="800.5" r="4.3"/>
<circle cx="601.56" cy="801.5" r="4.3"/>
<circle cx="601.56" cy="802.5" r="4.3"/>
<circle cx="601.56" cy="803.5" r="4.3"/>
<circle cx="601.56" cy="804.5" r="4.3"/>
<circle cx="601.56" cy="806" r="4.3"/>
<circle cx="601.56" cy="808" r="4.3"/>
<circle cx="601.56" cy="809" r="4.3"/>
<circle cx="601.56" cy="810" r="4.3"/>
<circle cx="601.56" cy="812.5" r="4.3"/>
<circle cx="601.56" cy="815" r="4.3"/>
<circle cx="601.56" cy="816.5" r="4.3"/>
<circle cx="601.56" cy="817.5" r="4.3"/>
<circle cx="601.56" cy="820" r="4.3"/>
<circle cx="601.56" cy="822" r="4.3"/>
<circle cx="601.56" cy="824.5" r="4.3"/>
<circle cx="601.56" cy="827" r="4.3"/>
<circle cx="601.56" cy="828" r="4.3"/>
<circle cx="601.56" cy="830" r="4.3"/>
</g>
<line x1="101" y1="541.9" x2="101" y2="922" stroke="#000" stroke-width="2.8"/>
<line x1="99.7" y1="920.8" x2="625.5" y2="920.8" stroke="#000" stroke-width="2.8"/>
<line x1="92.5" y1="917.78" x2="100" y2="917.78" stroke="#000" stroke-width="2.8"/>
<g transform="translate(33.31,918.48) scale(1,1.1) translate(0,10.7)"><path transform="translate(0,0) scale(0.014648,-0.014648)" d="M65,455L617,455L617,620L65,620Z" fill="#4d4d4d"/><text x="9.99" y="0" font-family='"Liberation Sans", sans-serif' font-size="30" fill="#4d4d4d">3</text><text x="26.67" y="0" font-family='"Liberation Sans", sans-serif' font-size="30" fill="#4d4d4d">.</text><text x="35.01" y="0" font-family='"Liberation Sans", sans-serif' font-size="30" fill="#4d4d4d">0</text></g>
<line x1="92.5" y1="889.25" x2="100" y2="889.25" stroke="#000" stroke-width="2.8"/>
<g transform="translate(33.31,889.95) scale(1,1.1) translate(0,10.7)"><path transform="translate(0,0) scale(0.014648,-0.014648)" d="M65,455L617,455L617,620L65,620Z" fill="#4d4d4d"/><text x="9.99" y="0" font-family='"Liberation Sans", sans-serif' font-size="30" fill="#4d4d4d">2</text><text x="26.67" y="0" font-family='"Liberation Sans", sans-serif' font-size="30" fill="#4d4d4d">.</text><text x="35.01" y="0" font-family='"Liberation Sans", sans-serif' font-size="30" fill="#4d4d4d">5</text></g>
<line x1="92.5" y1="860.72" x2="100" y2="860.72" stroke="#000" stroke-width="2.8"/>
<g transform="translate(33.31,861.42) scale(1,1.1) translate(0,10.7)"><path transform="translate(0,0) scale(0.014648,-0.014648)" d="M65,455L617,455L617,620L65,620Z" fill="#4d4d4d"/><text x="9.99" y="0" font-family='"Liberation Sans", sans-serif' font-size="30" fill="#4d4d4d">2</text><text x="26.67" y="0" font-family='"Liberation Sans", sans-serif' font-size="30" fill="#4d4d4d">.</text><text x="35.01" y="0" font-family='"Liberation Sans", sans-serif' font-size="30" fill="#4d4d4d">0</text></g>
<line x1="92.5" y1="832.19" x2="100" y2="832.19" stroke="#000" stroke-width="2.8"/>
<g transform="translate(33.31,832.89) scale(1,1.1) translate(0,10.7)"><path transform="translate(0,0) scale(0.014648,-0.014648)" d="M65,455L617,455L617,620L65,620Z" fill="#4d4d4d"/><path transform="translate(9.99,0) scale(0.014648,-0.014648)" d="M763,0L583,0L583,1120Q510,1050 390,985Q260,920 120,880L120,1050Q300,1120 460,1250Q590,1360 646,1420L763,1420Z" fill="#4d4d4d"/><text x="26.67" y="0" font-family='"Liberation Sans", sans-serif' font-size="30" fill="#4d4d4d">.</text><text x="35.01" y="0" font-family='"Liberation Sans", sans-serif' font-size="30" fill="#4d4d4d">5</text></g>
<line x1="92.5" y1="803.66" x2="100" y2="803.66" stroke="#000" stroke-width="2.8"/>
<g transform="translate(33.31,804.36) scale(1,1.1) translate(0,10.7)"><path transform="translate(0,0) scale(0.014648,-0.014648)" d="M65,455L617,455L617,620L65,620Z" fill="#4d4d4d"/><path transform="translate(9.99,0) scale(0.014648,-0.014648)" d="M763,0L583,0L583,1120Q510,1050 390,985Q260,920 120,880L120,1050Q300,1120 460,1250Q590,1360 646,1420L763,1420Z" fill="#4d4d4d"/><text x="26.67" y="0" font-family='"Liberation Sans", sans-serif' font-size="30" fill="#4d4d4d">.</text><text x="35.01" y="0" font-family='"Liberation Sans", sans-serif' font-size="30" fill="#4d4d4d">0</text></g>
<line x1="92.5" y1="775.13" x2="100" y2="775.13" stroke="#000" stroke-width="2.8"/>
<g transform="translate(33.31,775.83) scale(1,1.1) translate(0,10.7)"><path transform="translate(0,0) scale(0.014648,-0.014648)" d="M65,455L617,455L617,620L65,620Z" fill="#4d4d4d"/><text x="9.99" y="0" font-family='"Liberation Sans", sans-serif' font-size="30" fill="#4d4d4d">0</text><text x="26.67" y="0" font-family='"Liberation Sans", sans-serif' font-size="30" fill="#4d4d4d">.</text><text x="35.01" y="0" font-family='"Liberation Sans", sans-serif' font-size="30" fill="#4d4d4d">5</text></g>
<line x1="92.5" y1="746.6" x2="100" y2="746.6" stroke="#000" stroke-width="2.8"/>
<g transform="translate(43.3,747.3) scale(1,1.1) translate(0,10.7)"><text x="0" y="0" font-family='"Liberation Sans", sans-serif' font-size="30" fill="#4d4d4d">0</text><text x="16.68" y="0" font-family='"Liberation Sans", sans-serif' font-size="30" fill="#4d4d4d">.</text><text x="25.02" y="0" font-family='"Liberation Sans", sans-serif' font-size="30" fill="#4d4d4d">0</text></g>
<line x1="92.5" y1="718.07" x2="100" y2="718.07" stroke="#000" stroke-width="2.8"/>
<g transform="translate(43.3,718.77) scale(1,1.1) translate(0,10.7)"><text x="0" y="0" font-family='"Liberation Sans", sans-serif' font-size="30" fill="#4d4d4d">0</text><text x="16.68" y="0" font-family='"Liberation Sans", sans-serif' font-size="30" fill="#4d4d4d">.</text><text x="25.02" y="0" font-family='"Liberation Sans", sans-serif' font-size="30" fill="#4d4d4d">5</text></g>
<line x1="92.5" y1="689.54" x2="100" y2="689.54" stroke="#000" stroke-width="2.8"/>
<g transform="translate(43.3,690.24) scale(1,1.1) translate(0,10.7)"><path transform="translate(0,0) scale(0.014648,-0.014648)" d="M763,0L583,0L583,1120Q510,1050 390,985Q260,920 120,880L120,1050Q300,1120 460,1250Q590,1360 646,1420L763,1420Z" fill="#4d4d4d"/><text x="16.68" y="0" font-family='"Liberation Sans", sans-serif' font-size="30" fill="#4d4d4d">.</text><text x="25.02" y="0" font-family='"Liberation Sans", sans-serif' font-size="30" fill="#4d4d4d">0</text></g>
<line x1="92.5" y1="661.01" x2="100" y2="661.01" stroke="#000" stroke-width="2.8"/>
<g transform="translate(43.3,661.71) scale(1,1.1) translate(0,10.7)"><path transform="translate(0,0) scale(0.014648,-0.014648)" d="M763,0L583,0L583,1120Q510,1050 390,985Q260,920 120,880L120,1050Q300,1120 460,1250Q590,1360 646,1420L763,1420Z" fill="#4d4d4d"/><text x="16.68" y="0" font-family='"Liberation Sans", sans-serif' font-size="30" fill="#4d4d4d">.</text><text x="25.02" y="0" font-family='"Liberation Sans", sans-serif' font-size="30" fill="#4d4d4d">5</text></g>
<line x1="92.5" y1="632.48" x2="100" y2="632.48" stroke="#000" stroke-width="2.8"/>
<g transform="translate(43.3,633.18) scale(1,1.1) translate(0,10.7)"><text x="0" y="0" font-family='"Liberation Sans", sans-serif' font-size="30" fill="#4d4d4d">2</text><text x="16.68" y="0" font-family='"Liberation Sans", sans-serif' font-size="30" fill="#4d4d4d">.</text><text x="25.02" y="0" font-family='"Liberation Sans", sans-serif' font-size="30" fill="#4d4d4d">0</text></g>
<line x1="92.5" y1="603.95" x2="100" y2="603.95" stroke="#000" stroke-width="2.8"/>
<g transform="translate(43.3,604.65) scale(1,1.1) translate(0,10.7)"><text x="0" y="0" font-family='"Liberation Sans", sans-serif' font-size="30" fill="#4d4d4d">2</text><text x="16.68" y="0" font-family='"Liberation Sans", sans-serif' font-size="30" fill="#4d4d4d">.</text><text x="25.02" y="0" font-family='"Liberation Sans", sans-serif' font-size="30" fill="#4d4d4d">5</text></g>
<line x1="92.5" y1="575.42" x2="100" y2="575.42" stroke="#000" stroke-width="2.8"/>
<g transform="translate(43.3,576.12) scale(1,1.1) translate(0,10.7)"><text x="0" y="0" font-family='"Liberation Sans", sans-serif' font-size="30" fill="#4d4d4d">3</text><text x="16.68" y="0" font-family='"Liberation Sans", sans-serif' font-size="30" fill="#4d4d4d">.</text><text x="25.02" y="0" font-family='"Liberation Sans", sans-serif' font-size="30" fill="#4d4d4d">0</text></g>
<line x1="92.5" y1="546.89" x2="100" y2="546.89" stroke="#000" stroke-width="2.8"/>
<g transform="translate(43.3,547.59) scale(1,1.1) translate(0,10.7)"><text x="0" y="0" font-family='"Liberation Sans", sans-serif' font-size="30" fill="#4d4d4d">3</text><text x="16.68" y="0" font-family='"Liberation Sans", sans-serif' font-size="30" fill="#4d4d4d">.</text><text x="25.02" y="0" font-family='"Liberation Sans", sans-serif' font-size="30" fill="#4d4d4d">5</text></g>
<line x1="114.7" y1="920" x2="114.7" y2="929" stroke="#000" stroke-width="2.8"/>
<g transform="translate(98.02,959.5) scale(1,1.1)"><path transform="translate(0,0) scale(0.014648,-0.014648)" d="M763,0L583,0L583,1120Q510,1050 390,985Q260,920 120,880L120,1050Q300,1120 460,1250Q590,1360 646,1420L763,1420Z" fill="#4d4d4d"/><text x="16.68" y="0" font-family='"Liberation Sans", sans-serif' font-size="30" fill="#4d4d4d">0</text></g>
<line x1="164.38" y1="920" x2="164.38" y2="929" stroke="#000" stroke-width="2.8"/>
<g transform="translate(147.7,959.5) scale(1,1.1)"><path transform="translate(0,0) scale(0.014648,-0.014648)" d="M763,0L583,0L583,1120Q510,1050 390,985Q260,920 120,880L120,1050Q300,1120 460,1250Q590,1360 646,1420L763,1420Z" fill="#4d4d4d"/><text x="16.68" y="0" font-family='"Liberation Sans", sans-serif' font-size="30" fill="#4d4d4d">5</text></g>
<line x1="214.06" y1="920" x2="214.06" y2="929" stroke="#000" stroke-width="2.8"/>
<g transform="translate(197.38,959.5) scale(1,1.1)"><text x="0" y="0" font-family='"Liberation Sans", sans-serif' font-size="30" fill="#4d4d4d">2</text><text x="16.68" y="0" font-family='"Liberation Sans", sans-serif' font-size="30" fill="#4d4d4d">0</text></g>
<line x1="263.74" y1="920" x2="263.74" y2="929" stroke="#000" stroke-width="2.8"/>
<g transform="translate(247.06,959.5) scale(1,1.1)"><text x="0" y="0" font-family='"Liberation Sans", sans-serif' font-size="30" fill="#4d4d4d">2</text><text x="16.68" y="0" font-family='"Liberation Sans", sans-serif' font-size="30" fill="#4d4d4d">5</text></g>
<line x1="313.42" y1="920" x2="313.42" y2="929" stroke="#000" stroke-width="2.8"/>
<g transform="translate(296.74,959.5) scale(1,1.1)"><text x="0" y="0" font-family='"Liberation Sans", sans-serif' font-size="30" fill="#4d4d4d">3</text><text x="16.68" y="0" font-family='"Liberation Sans", sans-serif' font-size="30" fill="#4d4d4d">0</text></g>
<line x1="363.1" y1="920" x2="363.1" y2="929" stroke="#000" stroke-width="2.8"/>
<g transform="translate(346.42,959.5) scale(1,1.1)"><text x="0" y="0" font-family='"Liberation Sans", sans-serif' font-size="30" fill="#4d4d4d">3</text><text x="16.68" y="0" font-family='"Liberation Sans", sans-serif' font-size="30" fill="#4d4d4d">5</text></g>
<line x1="412.78" y1="920" x2="412.78" y2="929" stroke="#000" stroke-width="2.8"/>
<g transform="translate(396.1,959.5) scale(1,1.1)"><text x="0" y="0" font-family='"Liberation Sans", sans-serif' font-size="30" fill="#4d4d4d">4</text><text x="16.68" y="0" font-family='"Liberation Sans", sans-serif' font-size="30" fill="#4d4d4d">0</text></g>
<line x1="462.46" y1="920" x2="462.46" y2="929" stroke="#000" stroke-width="2.8"/>
<g transform="translate(445.78,959.5) scale(1,1.1)"><text x="0" y="0" font-family='"Liberation Sans", sans-serif' font-size="30" fill="#4d4d4d">4</text><text x="16.68" y="0" font-family='"Liberation Sans", sans-serif' font-size="30" fill="#4d4d4d">5</text></g>
<line x1="512.14" y1="920" x2="512.14" y2="929" stroke="#000" stroke-width="2.8"/>
<g transform="translate(495.46,959.5) scale(1,1.1)"><text x="0" y="0" font-family='"Liberation Sans", sans-serif' font-size="30" fill="#4d4d4d">5</text><text x="16.68" y="0" font-family='"Liberation Sans", sans-serif' font-size="30" fill="#4d4d4d">0</text></g>
<line x1="561.82" y1="920" x2="561.82" y2="929" stroke="#000" stroke-width="2.8"/>
<g transform="translate(545.14,959.5) scale(1,1.1)"><text x="0" y="0" font-family='"Liberation Sans", sans-serif' font-size="30" fill="#4d4d4d">5</text><text x="16.68" y="0" font-family='"Liberation Sans", sans-serif' font-size="30" fill="#4d4d4d">5</text></g>
<line x1="611.5" y1="920" x2="611.5" y2="929" stroke="#000" stroke-width="2.8"/>
<g transform="translate(594.82,959.5) scale(1,1.1)"><text x="0" y="0" font-family='"Liberation Sans", sans-serif' font-size="30" fill="#4d4d4d">6</text><text x="16.68" y="0" font-family='"Liberation Sans", sans-serif' font-size="30" fill="#4d4d4d">0</text></g>
<text x="357.4" y="1002" text-anchor="middle" font-family='"Liberation Serif", serif' font-size="34" font-weight="bold" fill="#000">Time after dose (h)</text>
<text transform="translate(26.8,743) rotate(-90)" text-anchor="middle" font-family='"Liberation Serif", serif' font-size="34" font-weight="bold" fill="#000">NPDE</text>
<text x="78.3" y="521" text-anchor="start" font-family='"Liberation Serif", serif' font-size="31" font-weight="bold" fill="#000">(c)</text>
<rect x="777.5" y="622.9" width="496.7" height="24.1" fill="#d3e3f7" />
<rect x="777.5" y="741.6" width="496.7" height="10.4" fill="#f6dde2" />
<rect x="777.5" y="847.5" width="496.7" height="22.3" fill="#d3e3f7" />
<polygon points="777.6,600.9 792.8,620.8 777.6,620.8" fill="#d90000" />
<polygon points="835,606.8 846,605.2 1000,587.4 1037,581.6 1069.4,589.7 1099.5,596.7 1162,597.8 1215.2,599.7 1274.2,599.7 1274.2,620.8 835,620.8" fill="#d90000" />
<polygon points="777.6,720.4 792.8,735.7 777.6,738.3" fill="#d90000" />
<polygon points="987.6,754.8 1051.6,758.7 1274.2,755.5 1274.2,753.6 987.6,753.6" fill="#d90000" />
<polygon points="777,824 795,836.4 795,844.9 777,844.9" fill="#d90000" />
<polygon points="811.5,830.2 848.9,828 993,845 993,845.6 811.5,845.6" fill="#d90000" />
<polyline points="777.5,635.2 1274.2,635.2" fill="none" stroke="#93a0b1" stroke-width="2.8" stroke-linejoin="round" />
<polyline points="777.5,746.6 1274.2,746.6" fill="none" stroke="#93a0b1" stroke-width="2.0" stroke-linejoin="round" />
<polyline points="777.5,858.3 1274.2,858.3" fill="none" stroke="#93a0b1" stroke-width="2.8" stroke-linejoin="round" />
<polyline points="777.6,600.9 795,622.5 820,612 835,606.8 835,606.8 846,605.2 1000,587.4 1037,581.6 1069.4,589.7 1099.5,596.7 1162,597.8 1215.2,599.7 1274.2,599.7" fill="none" stroke="#6c7b8b" stroke-width="2.8" stroke-linejoin="round" />
<polyline points="777.6,720.4 795,737 830,741 856,742.3 955.6,751.2 962.7,754.2 1051.6,758.7 1274.2,755.5" fill="none" stroke="#6c7b8b" stroke-width="2.8" stroke-linejoin="round" />
<polyline points="777,824 795,836.4 811.5,830.2 848.9,828 993,845 1005.4,847.3 1060,849.5 1274.2,847.4" fill="none" stroke="#6c7b8b" stroke-width="2.8" stroke-linejoin="round" />
<g fill="#6c7b8b">
<circle cx="799.91" cy="792.72" r="4.3"/>
<circle cx="797.65" cy="819.26" r="4.3"/>
<circle cx="801.82" cy="706.62" r="4.3"/>
<circle cx="801.57" cy="745.66" r="4.3"/>
<circle cx="797.34" cy="697.16" r="4.3"/>
<circle cx="797.82" cy="737.33" r="4.3"/>
<circle cx="800.82" cy="744.1" r="4.3"/>
<circle cx="799.01" cy="688.57" r="4.3"/>
<circle cx="802.65" cy="824.34" r="4.3"/>
<circle cx="800.57" cy="691.13" r="4.3"/>
<circle cx="805.79" cy="770.64" r="4.3"/>
<circle cx="799.61" cy="749.7" r="4.3"/>
<circle cx="799.78" cy="756.53" r="4.3"/>
<circle cx="804.35" cy="769.53" r="4.3"/>
<circle cx="802.75" cy="820.76" r="4.3"/>
<circle cx="800.35" cy="697.48" r="4.3"/>
<circle cx="797.54" cy="716.49" r="4.3"/>
<circle cx="798.85" cy="689.21" r="4.3"/>
<circle cx="799.83" cy="648.45" r="4.3"/>
<circle cx="802.27" cy="660.36" r="4.3"/>
<circle cx="804.15" cy="744.58" r="4.3"/>
<circle cx="803.29" cy="728.88" r="4.3"/>
<circle cx="801.73" cy="829.5" r="4.3"/>
<circle cx="804.88" cy="716.51" r="4.3"/>
<circle cx="805.82" cy="659.62" r="4.3"/>
<circle cx="798.06" cy="607.83" r="4.3"/>
<circle cx="798.37" cy="791.23" r="4.3"/>
<circle cx="801.4" cy="840.25" r="4.3"/>
<circle cx="803.88" cy="753.98" r="4.3"/>
<circle cx="802.16" cy="774.24" r="4.3"/>
<circle cx="803.26" cy="676.06" r="4.3"/>
<circle cx="802.35" cy="647.59" r="4.3"/>
<circle cx="804.56" cy="682.51" r="4.3"/>
<circle cx="805.5" cy="608.38" r="4.3"/>
<circle cx="797.55" cy="744.15" r="4.3"/>
<circle cx="803.31" cy="753.59" r="4.3"/>
<circle cx="800.47" cy="666.1" r="4.3"/>
<circle cx="803.02" cy="813.14" r="4.3"/>
<circle cx="798.51" cy="737.58" r="4.3"/>
<circle cx="798.05" cy="852.52" r="4.3"/>
<circle cx="798.16" cy="774.52" r="4.3"/>
<circle cx="799.23" cy="599.54" r="4.3"/>
<circle cx="797.73" cy="827.54" r="4.3"/>
<circle cx="801.04" cy="674.31" r="4.3"/>
<circle cx="804.37" cy="767.43" r="4.3"/>
<circle cx="800.74" cy="676.25" r="4.3"/>
<circle cx="800.23" cy="591.16" r="4.3"/>
<circle cx="798.36" cy="750.99" r="4.3"/>
<circle cx="799.1" cy="776.99" r="4.3"/>
<circle cx="801.36" cy="672.08" r="4.3"/>
<circle cx="797.04" cy="691.82" r="4.3"/>
<circle cx="800.77" cy="654.56" r="4.3"/>
<circle cx="805.58" cy="800.72" r="4.3"/>
<circle cx="803.21" cy="614.6" r="4.3"/>
<circle cx="803.09" cy="714.22" r="4.3"/>
<circle cx="797.49" cy="837.38" r="4.3"/>
<circle cx="804.87" cy="642.85" r="4.3"/>
<circle cx="804.18" cy="662.04" r="4.3"/>
<circle cx="797.93" cy="775.52" r="4.3"/>
<circle cx="802.71" cy="752.62" r="4.3"/>
<circle cx="798.88" cy="736.39" r="4.3"/>
<circle cx="798.46" cy="710.9" r="4.3"/>
<circle cx="797" cy="747.19" r="4.3"/>
<circle cx="798.36" cy="786.12" r="4.3"/>
<circle cx="797.23" cy="770.27" r="4.3"/>
<circle cx="804.87" cy="690.79" r="4.3"/>
<circle cx="799.27" cy="695.2" r="4.3"/>
<circle cx="800.13" cy="698.07" r="4.3"/>
<circle cx="804.64" cy="755.87" r="4.3"/>
<circle cx="805.94" cy="635.09" r="4.3"/>
<circle cx="797.77" cy="744.51" r="4.3"/>
<circle cx="797.92" cy="690.51" r="4.3"/>
<circle cx="804.46" cy="777.41" r="4.3"/>
<circle cx="798.45" cy="753.41" r="4.3"/>
<circle cx="801.75" cy="785.58" r="4.3"/>
<circle cx="797.24" cy="804.74" r="4.3"/>
<circle cx="801.75" cy="703.51" r="4.3"/>
<circle cx="803.27" cy="719.66" r="4.3"/>
<circle cx="798.5" cy="801.28" r="4.3"/>
<circle cx="803.95" cy="588.89" r="4.3"/>
<circle cx="799.97" cy="696.73" r="4.3"/>
<circle cx="799.01" cy="812.34" r="4.3"/>
<circle cx="804.67" cy="775.99" r="4.3"/>
<circle cx="803.66" cy="586.32" r="4.3"/>
<circle cx="799.04" cy="650.47" r="4.3"/>
<circle cx="797.26" cy="716.71" r="4.3"/>
<circle cx="797.25" cy="713.61" r="4.3"/>
<circle cx="803.23" cy="785.91" r="4.3"/>
<circle cx="805.61" cy="786.24" r="4.3"/>
<circle cx="805.89" cy="798.17" r="4.3"/>
<circle cx="798.98" cy="703.74" r="4.3"/>
<circle cx="799.04" cy="742.78" r="4.3"/>
<circle cx="802.62" cy="776.09" r="4.3"/>
<circle cx="805.1" cy="774.2" r="4.3"/>
<circle cx="802.88" cy="647.95" r="4.3"/>
<circle cx="804.2" cy="826.31" r="4.3"/>
<circle cx="805.19" cy="784.72" r="4.3"/>
<circle cx="804.04" cy="725.08" r="4.3"/>
<circle cx="798.61" cy="633.78" r="4.3"/>
<circle cx="804.1" cy="653.78" r="4.3"/>
<circle cx="805.74" cy="849.83" r="4.3"/>
<circle cx="800.56" cy="837.53" r="4.3"/>
<circle cx="803.52" cy="745.09" r="4.3"/>
<circle cx="798.36" cy="761.54" r="4.3"/>
<circle cx="805.14" cy="740.63" r="4.3"/>
<circle cx="804.44" cy="682.83" r="4.3"/>
<circle cx="805.82" cy="684.11" r="4.3"/>
<circle cx="801.94" cy="662.95" r="4.3"/>
<circle cx="798.18" cy="744.02" r="4.3"/>
<circle cx="802.85" cy="694.02" r="4.3"/>
<circle cx="800.9" cy="828.63" r="4.3"/>
<circle cx="798.9" cy="617.04" r="4.3"/>
<circle cx="799.27" cy="709.17" r="4.3"/>
<circle cx="802.28" cy="782.2" r="4.3"/>
<circle cx="799.33" cy="687.97" r="4.3"/>
<circle cx="805.19" cy="745.66" r="4.3"/>
<circle cx="800.18" cy="622.78" r="4.3"/>
<circle cx="805.14" cy="752.51" r="4.3"/>
<circle cx="800.79" cy="807.08" r="4.3"/>
<circle cx="801.79" cy="678.33" r="4.3"/>
<circle cx="801.71" cy="810.57" r="4.3"/>
<circle cx="798.65" cy="735.1" r="4.3"/>
<circle cx="797.04" cy="739.96" r="4.3"/>
<circle cx="801.26" cy="678.12" r="4.3"/>
<circle cx="803.53" cy="658.37" r="4.3"/>
<circle cx="801.67" cy="700.31" r="4.3"/>
<circle cx="802" cy="733.1" r="4.3"/>
<circle cx="802.04" cy="687.98" r="4.3"/>
<circle cx="799.24" cy="701.84" r="4.3"/>
<circle cx="801.57" cy="860.65" r="4.3"/>
<circle cx="802.06" cy="736.08" r="4.3"/>
<circle cx="800.99" cy="652.81" r="4.3"/>
<circle cx="801.61" cy="663.32" r="4.3"/>
<circle cx="803.23" cy="630.63" r="4.3"/>
<circle cx="801.3" cy="754.13" r="4.3"/>
<circle cx="805.47" cy="673.67" r="4.3"/>
<circle cx="805.48" cy="718.83" r="4.3"/>
<circle cx="805.49" cy="827.26" r="4.3"/>
<circle cx="804.56" cy="751.53" r="4.3"/>
<circle cx="800.98" cy="755.92" r="4.3"/>
<circle cx="797.65" cy="726.83" r="4.3"/>
<circle cx="803.03" cy="756.12" r="4.3"/>
<circle cx="804.06" cy="761.97" r="4.3"/>
<circle cx="803.45" cy="697.07" r="4.3"/>
<circle cx="802.94" cy="828.19" r="4.3"/>
<circle cx="805.71" cy="854.6" r="4.3"/>
<circle cx="798.98" cy="802.07" r="4.3"/>
<circle cx="801.39" cy="701.29" r="4.3"/>
<circle cx="805.91" cy="748.51" r="4.3"/>
<circle cx="800.88" cy="683.75" r="4.3"/>
<circle cx="801.64" cy="696.95" r="4.3"/>
<circle cx="799.87" cy="769.74" r="4.3"/>
<circle cx="803.5" cy="825.91" r="4.3"/>
<circle cx="800.96" cy="737.41" r="4.3"/>
<circle cx="797.16" cy="670.18" r="4.3"/>
<circle cx="801.61" cy="822.53" r="4.3"/>
<circle cx="797.58" cy="865.37" r="4.3"/>
<circle cx="805.75" cy="711.81" r="4.3"/>
<circle cx="797.94" cy="722.78" r="4.3"/>
<circle cx="804.01" cy="747.63" r="4.3"/>
<circle cx="799.43" cy="782.54" r="4.3"/>
<circle cx="805.2" cy="785.93" r="4.3"/>
<circle cx="804.37" cy="722.54" r="4.3"/>
<circle cx="805.27" cy="770.44" r="4.3"/>
<circle cx="802.14" cy="714.38" r="4.3"/>
<circle cx="797.52" cy="692.03" r="4.3"/>
<circle cx="803.19" cy="697.33" r="4.3"/>
<circle cx="805.45" cy="739.03" r="4.3"/>
<circle cx="802.71" cy="735.66" r="4.3"/>
<circle cx="804.71" cy="693.29" r="4.3"/>
<circle cx="797.6" cy="782.25" r="4.3"/>
<circle cx="800.05" cy="658.2" r="4.3"/>
<circle cx="801.98" cy="781.59" r="4.3"/>
<circle cx="798.16" cy="696.91" r="4.3"/>
<circle cx="801.74" cy="727.8" r="4.3"/>
<circle cx="798.45" cy="763.42" r="4.3"/>
<circle cx="797.45" cy="745.65" r="4.3"/>
<circle cx="799.75" cy="791.03" r="4.3"/>
<circle cx="803.84" cy="701.59" r="4.3"/>
<circle cx="798.6" cy="816.25" r="4.3"/>
<circle cx="800.12" cy="785.35" r="4.3"/>
<circle cx="797.14" cy="731.92" r="4.3"/>
<circle cx="803.6" cy="675.79" r="4.3"/>
<circle cx="801.27" cy="708.65" r="4.3"/>
<circle cx="805.41" cy="841.13" r="4.3"/>
<circle cx="800.89" cy="816.58" r="4.3"/>
<circle cx="801.46" cy="765.53" r="4.3"/>
<circle cx="801.56" cy="656.09" r="4.3"/>
<circle cx="803.19" cy="797.84" r="4.3"/>
<circle cx="804.49" cy="716.93" r="4.3"/>
<circle cx="803.36" cy="671.49" r="4.3"/>
<circle cx="800.13" cy="663.55" r="4.3"/>
<circle cx="797.49" cy="746" r="4.3"/>
<circle cx="803.67" cy="747.31" r="4.3"/>
<circle cx="799.3" cy="742.43" r="4.3"/>
<circle cx="804.57" cy="753.74" r="4.3"/>
<circle cx="804.83" cy="693.83" r="4.3"/>
<circle cx="799.18" cy="667.84" r="4.3"/>
<circle cx="799.64" cy="679.67" r="4.3"/>
<circle cx="801.01" cy="736.81" r="4.3"/>
<circle cx="799.37" cy="673.97" r="4.3"/>
<circle cx="801.92" cy="732.25" r="4.3"/>
<circle cx="799.79" cy="722.7" r="4.3"/>
<circle cx="800.43" cy="727.9" r="4.3"/>
<circle cx="801.27" cy="671.42" r="4.3"/>
<circle cx="801.54" cy="724.07" r="4.3"/>
<circle cx="797.04" cy="721.92" r="4.3"/>
<circle cx="800.6" cy="759.56" r="4.3"/>
<circle cx="797.38" cy="792.46" r="4.3"/>
<circle cx="799.1" cy="734.6" r="4.3"/>
<circle cx="802.27" cy="593.92" r="4.3"/>
<circle cx="802.92" cy="700.69" r="4.3"/>
<circle cx="803.44" cy="782.63" r="4.3"/>
<circle cx="799.94" cy="670.26" r="4.3"/>
<circle cx="805.86" cy="800.82" r="4.3"/>
<circle cx="802.79" cy="828.62" r="4.3"/>
<circle cx="797.39" cy="811.17" r="4.3"/>
<circle cx="802.65" cy="579.89" r="4.3"/>
<circle cx="803.6" cy="741.7" r="4.3"/>
<circle cx="801.71" cy="684.49" r="4.3"/>
<circle cx="801.54" cy="798.55" r="4.3"/>
<circle cx="804.44" cy="600.52" r="4.3"/>
<circle cx="802.26" cy="819.78" r="4.3"/>
<circle cx="803.24" cy="649.39" r="4.3"/>
<circle cx="799.07" cy="766.94" r="4.3"/>
<circle cx="800.25" cy="733.32" r="4.3"/>
<circle cx="797.94" cy="777.53" r="4.3"/>
<circle cx="802.65" cy="637.21" r="4.3"/>
<circle cx="802.64" cy="685.86" r="4.3"/>
<circle cx="797.03" cy="640.92" r="4.3"/>
<circle cx="804.18" cy="723.97" r="4.3"/>
<circle cx="801.82" cy="630.41" r="4.3"/>
<circle cx="802.93" cy="844.62" r="4.3"/>
<circle cx="799.27" cy="777.7" r="4.3"/>
<circle cx="797.67" cy="712.38" r="4.3"/>
<circle cx="798.85" cy="853.72" r="4.3"/>
<circle cx="803.66" cy="817.29" r="4.3"/>
<circle cx="800.44" cy="710.82" r="4.3"/>
<circle cx="801.31" cy="669.75" r="4.3"/>
<circle cx="802.55" cy="600.13" r="4.3"/>
<circle cx="802.78" cy="764.94" r="4.3"/>
<circle cx="799.29" cy="746.14" r="4.3"/>
<circle cx="803.69" cy="690.26" r="4.3"/>
<circle cx="797.11" cy="822.62" r="4.3"/>
<circle cx="797.55" cy="710.94" r="4.3"/>
<circle cx="803.23" cy="843.62" r="4.3"/>
<circle cx="803.08" cy="700.51" r="4.3"/>
<circle cx="801.18" cy="818.29" r="4.3"/>
<circle cx="801.2" cy="849.55" r="4.3"/>
<circle cx="798.79" cy="839.78" r="4.3"/>
<circle cx="805.8" cy="738.84" r="4.3"/>
<circle cx="801.13" cy="719.14" r="4.3"/>
<circle cx="804.38" cy="810.66" r="4.3"/>
<circle cx="799.42" cy="707.6" r="4.3"/>
<circle cx="798.89" cy="776.85" r="4.3"/>
<circle cx="802.23" cy="706.55" r="4.3"/>
<circle cx="798.28" cy="695.23" r="4.3"/>
<circle cx="798.19" cy="765.73" r="4.3"/>
<circle cx="804.98" cy="638.75" r="4.3"/>
<circle cx="803.33" cy="744.94" r="4.3"/>
<circle cx="801.38" cy="731.7" r="4.3"/>
<circle cx="801.43" cy="726.05" r="4.3"/>
<circle cx="801.06" cy="710.87" r="4.3"/>
<circle cx="800.1" cy="766.73" r="4.3"/>
<circle cx="799.84" cy="727.54" r="4.3"/>
<circle cx="803.76" cy="721.02" r="4.3"/>
<circle cx="804.55" cy="858.18" r="4.3"/>
<circle cx="803.42" cy="850.13" r="4.3"/>
<circle cx="805.11" cy="705.88" r="4.3"/>
<circle cx="800.54" cy="799.79" r="4.3"/>
<circle cx="805.99" cy="660.9" r="4.3"/>
<circle cx="800.85" cy="684.78" r="4.3"/>
<circle cx="799.48" cy="760.36" r="4.3"/>
<circle cx="804.51" cy="736.07" r="4.3"/>
<circle cx="799.57" cy="780.69" r="4.3"/>
<circle cx="799.39" cy="701.14" r="4.3"/>
<circle cx="801.6" cy="753.54" r="4.3"/>
<circle cx="805.61" cy="796.89" r="4.3"/>
<circle cx="804.96" cy="767.87" r="4.3"/>
<circle cx="805.22" cy="620.5" r="4.3"/>
<circle cx="805.47" cy="603.48" r="4.3"/>
<circle cx="797.45" cy="686.17" r="4.3"/>
<circle cx="803.59" cy="597.6" r="4.3"/>
<circle cx="802.8" cy="765.63" r="4.3"/>
<circle cx="799.58" cy="780.41" r="4.3"/>
<circle cx="798.15" cy="652.7" r="4.3"/>
<circle cx="799.68" cy="737.77" r="4.3"/>
<circle cx="803.65" cy="786.42" r="4.3"/>
<circle cx="802.9" cy="715.78" r="4.3"/>
<circle cx="799.71" cy="650.02" r="4.3"/>
<circle cx="798.51" cy="696.76" r="4.3"/>
<circle cx="798.45" cy="770.51" r="4.3"/>
<circle cx="801.47" cy="757.59" r="4.3"/>
<circle cx="805.97" cy="683.28" r="4.3"/>
<circle cx="798.73" cy="738.57" r="4.3"/>
<circle cx="797.82" cy="705.9" r="4.3"/>
<circle cx="799.15" cy="754.29" r="4.3"/>
<circle cx="799.33" cy="654.2" r="4.3"/>
<circle cx="803.75" cy="654.42" r="4.3"/>
<circle cx="801.72" cy="768.08" r="4.3"/>
<circle cx="800.39" cy="709.93" r="4.3"/>
<circle cx="799.5" cy="749.35" r="4.3"/>
<circle cx="805.71" cy="791.56" r="4.3"/>
<circle cx="802.67" cy="792.3" r="4.3"/>
<circle cx="804.77" cy="738.5" r="4.3"/>
<circle cx="799.24" cy="787.16" r="4.3"/>
<circle cx="800.6" cy="791.23" r="4.3"/>
<circle cx="804.64" cy="736.72" r="4.3"/>
<circle cx="797.29" cy="712.96" r="4.3"/>
<circle cx="803.39" cy="796.82" r="4.3"/>
<circle cx="802.28" cy="669.79" r="4.3"/>
<circle cx="797" cy="582.93" r="4.3"/>
<circle cx="804.43" cy="840.26" r="4.3"/>
<circle cx="804.7" cy="784.55" r="4.3"/>
<circle cx="797.98" cy="714.51" r="4.3"/>
<circle cx="798.39" cy="605.08" r="4.3"/>
<circle cx="805.47" cy="708.04" r="4.3"/>
<circle cx="803.5" cy="643.17" r="4.3"/>
<circle cx="801.12" cy="616.23" r="4.3"/>
<circle cx="801.96" cy="860.41" r="4.3"/>
<circle cx="799.09" cy="759.36" r="4.3"/>
<circle cx="805.28" cy="683.44" r="4.3"/>
<circle cx="798.15" cy="671.07" r="4.3"/>
<circle cx="799.27" cy="643.82" r="4.3"/>
<circle cx="798.01" cy="631.4" r="4.3"/>
<circle cx="797.63" cy="620.45" r="4.3"/>
<circle cx="800.49" cy="708.82" r="4.3"/>
<circle cx="799.01" cy="715.66" r="4.3"/>
<circle cx="799.71" cy="718.12" r="4.3"/>
<circle cx="801.15" cy="836.26" r="4.3"/>
<circle cx="804.95" cy="695.64" r="4.3"/>
<circle cx="801.28" cy="730.76" r="4.3"/>
<circle cx="805.65" cy="784.99" r="4.3"/>
<circle cx="803.34" cy="719.07" r="4.3"/>
<circle cx="801.48" cy="740.71" r="4.3"/>
<circle cx="803.07" cy="670.93" r="4.3"/>
<circle cx="803.01" cy="754.72" r="4.3"/>
<circle cx="805.33" cy="728.06" r="4.3"/>
<circle cx="800.04" cy="745.85" r="4.3"/>
<circle cx="800.79" cy="703.15" r="4.3"/>
<circle cx="804.17" cy="676.54" r="4.3"/>
<circle cx="803.65" cy="670.8" r="4.3"/>
<circle cx="805.73" cy="723.34" r="4.3"/>
<circle cx="799.81" cy="749.68" r="4.3"/>
<circle cx="798.99" cy="672.56" r="4.3"/>
<circle cx="803.84" cy="670.09" r="4.3"/>
<circle cx="801.46" cy="746.83" r="4.3"/>
<circle cx="800.75" cy="777.52" r="4.3"/>
<circle cx="802.99" cy="767.7" r="4.3"/>
<circle cx="800.54" cy="710.76" r="4.3"/>
<circle cx="798.92" cy="768.68" r="4.3"/>
<circle cx="797.47" cy="717.83" r="4.3"/>
<circle cx="797.54" cy="591" r="4.3"/>
<circle cx="804.95" cy="831.23" r="4.3"/>
<circle cx="803.59" cy="722.12" r="4.3"/>
<circle cx="799.96" cy="798.92" r="4.3"/>
<circle cx="803.72" cy="840.86" r="4.3"/>
<circle cx="800.41" cy="748.53" r="4.3"/>
<circle cx="800.36" cy="701.08" r="4.3"/>
<circle cx="797.03" cy="767.44" r="4.3"/>
<circle cx="799.52" cy="606.19" r="4.3"/>
<circle cx="798.11" cy="778.18" r="4.3"/>
<circle cx="800.21" cy="712.86" r="4.3"/>
<circle cx="804.39" cy="762.22" r="4.3"/>
<circle cx="797.44" cy="648.42" r="4.3"/>
<circle cx="801.26" cy="599.85" r="4.3"/>
<circle cx="798.74" cy="853.8" r="4.3"/>
<circle cx="800.28" cy="740.83" r="4.3"/>
<circle cx="800.7" cy="713.04" r="4.3"/>
<circle cx="804.31" cy="727.41" r="4.3"/>
<circle cx="797.31" cy="702.08" r="4.3"/>
<circle cx="797.56" cy="779.05" r="4.3"/>
<circle cx="803.73" cy="695.32" r="4.3"/>
<circle cx="805.09" cy="691.14" r="4.3"/>
<circle cx="805.62" cy="779.06" r="4.3"/>
<circle cx="802.55" cy="715.29" r="4.3"/>
<circle cx="799.85" cy="851.68" r="4.3"/>
<circle cx="799.48" cy="859.27" r="4.3"/>
<circle cx="805.25" cy="728.18" r="4.3"/>
<circle cx="802.71" cy="741.61" r="4.3"/>
<circle cx="799.1" cy="718.81" r="4.3"/>
<circle cx="801.28" cy="671.76" r="4.3"/>
<circle cx="800.48" cy="724.44" r="4.3"/>
<circle cx="801.44" cy="809.81" r="4.3"/>
<circle cx="805.35" cy="783.94" r="4.3"/>
<circle cx="803.65" cy="856.5" r="4.3"/>
<circle cx="804.4" cy="740.62" r="4.3"/>
<circle cx="799.95" cy="616.75" r="4.3"/>
<circle cx="799.88" cy="634.71" r="4.3"/>
<circle cx="797.71" cy="831.58" r="4.3"/>
<circle cx="798.78" cy="726.09" r="4.3"/>
<circle cx="797.58" cy="664.71" r="4.3"/>
<circle cx="797.3" cy="657.81" r="4.3"/>
<circle cx="805.82" cy="701.95" r="4.3"/>
<circle cx="804.95" cy="787.58" r="4.3"/>
<circle cx="797.76" cy="720.2" r="4.3"/>
<circle cx="797.87" cy="599.17" r="4.3"/>
<circle cx="801.02" cy="726.21" r="4.3"/>
<circle cx="799.11" cy="628.52" r="4.3"/>
<circle cx="803.07" cy="780.56" r="4.3"/>
<circle cx="803.73" cy="792.67" r="4.3"/>
<circle cx="798.09" cy="628.06" r="4.3"/>
<circle cx="804.57" cy="696.89" r="4.3"/>
<circle cx="800.36" cy="824.6" r="4.3"/>
<circle cx="803.64" cy="743.93" r="4.3"/>
<circle cx="799.21" cy="782.27" r="4.3"/>
<circle cx="798.38" cy="803.49" r="4.3"/>
<circle cx="799.94" cy="655.07" r="4.3"/>
<circle cx="800.56" cy="820.08" r="4.3"/>
<circle cx="799.08" cy="720.49" r="4.3"/>
<circle cx="804.28" cy="584.93" r="4.3"/>
<circle cx="797.92" cy="578.92" r="4.3"/>
<circle cx="804.57" cy="748.36" r="4.3"/>
<circle cx="805.23" cy="789.58" r="4.3"/>
<circle cx="798.07" cy="741.74" r="4.3"/>
<circle cx="798.71" cy="829.31" r="4.3"/>
<circle cx="805.37" cy="707.11" r="4.3"/>
<circle cx="800.35" cy="783.23" r="4.3"/>
<circle cx="799.34" cy="659.88" r="4.3"/>
<circle cx="804" cy="760.65" r="4.3"/>
<circle cx="802.37" cy="712.34" r="4.3"/>
<circle cx="802.58" cy="740.49" r="4.3"/>
<circle cx="798.27" cy="800.15" r="4.3"/>
<circle cx="798.84" cy="721.66" r="4.3"/>
<circle cx="802.86" cy="833.16" r="4.3"/>
<circle cx="798.83" cy="796.05" r="4.3"/>
<circle cx="803.1" cy="730.09" r="4.3"/>
<circle cx="798.67" cy="704.45" r="4.3"/>
<circle cx="804.16" cy="774.89" r="4.3"/>
<circle cx="801.93" cy="759.11" r="4.3"/>
<circle cx="800.56" cy="739.32" r="4.3"/>
<circle cx="801.95" cy="702.57" r="4.3"/>
<circle cx="798.47" cy="698.16" r="4.3"/>
<circle cx="803.26" cy="669.91" r="4.3"/>
<circle cx="799.77" cy="760.06" r="4.3"/>
<circle cx="805.58" cy="685.5" r="4.3"/>
<circle cx="800.21" cy="820.6" r="4.3"/>
<circle cx="800.75" cy="690.24" r="4.3"/>
<circle cx="803.55" cy="765.04" r="4.3"/>
<circle cx="798.83" cy="731.36" r="4.3"/>
<circle cx="800.81" cy="759.95" r="4.3"/>
<circle cx="804.95" cy="651.17" r="4.3"/>
<circle cx="801.15" cy="732.22" r="4.3"/>
<circle cx="801.96" cy="736.8" r="4.3"/>
<circle cx="802.77" cy="754.15" r="4.3"/>
<circle cx="802.6" cy="706.45" r="4.3"/>
<circle cx="800.34" cy="680.09" r="4.3"/>
<circle cx="799.55" cy="723.74" r="4.3"/>
<circle cx="801.69" cy="759.27" r="4.3"/>
<circle cx="801.41" cy="707.68" r="4.3"/>
<circle cx="804.24" cy="776.9" r="4.3"/>
<circle cx="798.14" cy="714.04" r="4.3"/>
<circle cx="805.49" cy="815.78" r="4.3"/>
<circle cx="797.48" cy="710.94" r="4.3"/>
<circle cx="805.34" cy="592.96" r="4.3"/>
<circle cx="802.58" cy="837.21" r="4.3"/>
<circle cx="804.42" cy="800.05" r="4.3"/>
<circle cx="799" cy="843.71" r="4.3"/>
<circle cx="800.64" cy="810.59" r="4.3"/>
<circle cx="798.65" cy="601.33" r="4.3"/>
<circle cx="798.96" cy="646.91" r="4.3"/>
<circle cx="800.45" cy="781.93" r="4.3"/>
<circle cx="798.11" cy="727.37" r="4.3"/>
<circle cx="805.08" cy="853.5" r="4.3"/>
<circle cx="797.37" cy="600.54" r="4.3"/>
<circle cx="797.34" cy="673.59" r="4.3"/>
<circle cx="804.54" cy="804.94" r="4.3"/>
<circle cx="801.95" cy="797.95" r="4.3"/>
<circle cx="802.64" cy="696.11" r="4.3"/>
<circle cx="802.24" cy="803.36" r="4.3"/>
<circle cx="800.83" cy="677.82" r="4.3"/>
<circle cx="800.95" cy="651.84" r="4.3"/>
<circle cx="797.21" cy="656.93" r="4.3"/>
<circle cx="799.12" cy="661.97" r="4.3"/>
<circle cx="803.87" cy="741.58" r="4.3"/>
<circle cx="798.62" cy="637.98" r="4.3"/>
<circle cx="801.26" cy="757.81" r="4.3"/>
<circle cx="800.88" cy="751.14" r="4.3"/>
<circle cx="797.83" cy="635.71" r="4.3"/>
<circle cx="797.37" cy="759.08" r="4.3"/>
<circle cx="802.73" cy="838.11" r="4.3"/>
<circle cx="804" cy="789.27" r="4.3"/>
<circle cx="801.6" cy="814.27" r="4.3"/>
<circle cx="800.4" cy="756.68" r="4.3"/>
<circle cx="805.56" cy="828.47" r="4.3"/>
<circle cx="805.97" cy="844.14" r="4.3"/>
<circle cx="803.59" cy="745.85" r="4.3"/>
<circle cx="805.84" cy="676.82" r="4.3"/>
<circle cx="801.43" cy="677.08" r="4.3"/>
<circle cx="798.49" cy="769.13" r="4.3"/>
<circle cx="797.59" cy="645.39" r="4.3"/>
<circle cx="798.43" cy="833.29" r="4.3"/>
<circle cx="805.07" cy="701.99" r="4.3"/>
<circle cx="798.29" cy="870.3" r="4.3"/>
<circle cx="801.52" cy="772.9" r="4.3"/>
<circle cx="799.37" cy="698.63" r="4.3"/>
<circle cx="801.55" cy="715.78" r="4.3"/>
<circle cx="798.64" cy="744.89" r="4.3"/>
<circle cx="798.45" cy="836.2" r="4.3"/>
<circle cx="805.06" cy="678.04" r="4.3"/>
<circle cx="798.52" cy="733.6" r="4.3"/>
<circle cx="801.78" cy="686.39" r="4.3"/>
<circle cx="802.73" cy="621.59" r="4.3"/>
<circle cx="802" cy="850.36" r="4.3"/>
<circle cx="802.22" cy="752.82" r="4.3"/>
<circle cx="805.94" cy="699.7" r="4.3"/>
<circle cx="802.67" cy="612.41" r="4.3"/>
<circle cx="799.38" cy="813.18" r="4.3"/>
<circle cx="805.91" cy="658.14" r="4.3"/>
<circle cx="803.88" cy="689.68" r="4.3"/>
<circle cx="800.98" cy="783.62" r="4.3"/>
<circle cx="797.43" cy="843.26" r="4.3"/>
<circle cx="804.38" cy="722.38" r="4.3"/>
<circle cx="805.86" cy="839.21" r="4.3"/>
<circle cx="802.27" cy="689.25" r="4.3"/>
<circle cx="797.02" cy="665.66" r="4.3"/>
<circle cx="797.3" cy="790.42" r="4.3"/>
<circle cx="800.89" cy="814.29" r="4.3"/>
<circle cx="801.61" cy="758.73" r="4.3"/>
<circle cx="799.05" cy="699.02" r="4.3"/>
<circle cx="802.88" cy="730.73" r="4.3"/>
<circle cx="800.19" cy="725.81" r="4.3"/>
<circle cx="797.96" cy="689.45" r="4.3"/>
<circle cx="802.25" cy="769.57" r="4.3"/>
<circle cx="802.3" cy="756.76" r="4.3"/>
<circle cx="801.27" cy="832.28" r="4.3"/>
<circle cx="798.21" cy="780.1" r="4.3"/>
<circle cx="798.34" cy="701.81" r="4.3"/>
<circle cx="797.86" cy="620.34" r="4.3"/>
<circle cx="804.04" cy="601.35" r="4.3"/>
<circle cx="800.62" cy="723.91" r="4.3"/>
<circle cx="802.8" cy="737.12" r="4.3"/>
<circle cx="802.06" cy="657.07" r="4.3"/>
<circle cx="800.99" cy="818.08" r="4.3"/>
<circle cx="805.43" cy="718.75" r="4.3"/>
<circle cx="805.13" cy="664.85" r="4.3"/>
<circle cx="797.4" cy="644.95" r="4.3"/>
<circle cx="799.14" cy="708.93" r="4.3"/>
<circle cx="797.53" cy="727.28" r="4.3"/>
<circle cx="801.96" cy="712.59" r="4.3"/>
<circle cx="805.47" cy="758.43" r="4.3"/>
<circle cx="802.47" cy="766.6" r="4.3"/>
<circle cx="801.56" cy="632.68" r="4.3"/>
<circle cx="798.57" cy="611.14" r="4.3"/>
<circle cx="799.78" cy="717.17" r="4.3"/>
<circle cx="805" cy="748.98" r="4.3"/>
<circle cx="804.05" cy="723.05" r="4.3"/>
<circle cx="804.6" cy="716.18" r="4.3"/>
<circle cx="803.71" cy="596.48" r="4.3"/>
<circle cx="801.07" cy="753.5" r="4.3"/>
<circle cx="799.03" cy="770.9" r="4.3"/>
<circle cx="797.35" cy="760.73" r="4.3"/>
<circle cx="800.02" cy="724.73" r="4.3"/>
<circle cx="804.61" cy="601.7" r="4.3"/>
<circle cx="803.41" cy="714.81" r="4.3"/>
<circle cx="800.92" cy="826.12" r="4.3"/>
<circle cx="804.1" cy="662.85" r="4.3"/>
<circle cx="802.78" cy="715.86" r="4.3"/>
<circle cx="805.69" cy="758.92" r="4.3"/>
<circle cx="797.14" cy="721.18" r="4.3"/>
<circle cx="803.69" cy="783.59" r="4.3"/>
<circle cx="805.5" cy="723.28" r="4.3"/>
<circle cx="804.92" cy="653.84" r="4.3"/>
<circle cx="799.96" cy="736.87" r="4.3"/>
<circle cx="802.68" cy="683.4" r="4.3"/>
<circle cx="805.81" cy="614.2" r="4.3"/>
<circle cx="801.23" cy="791.11" r="4.3"/>
<circle cx="804.72" cy="620.41" r="4.3"/>
<circle cx="800.93" cy="708.49" r="4.3"/>
<circle cx="799.77" cy="622.33" r="4.3"/>
<circle cx="798.91" cy="701.89" r="4.3"/>
<circle cx="805.2" cy="702.57" r="4.3"/>
<circle cx="798.3" cy="762.46" r="4.3"/>
<circle cx="805.36" cy="731.39" r="4.3"/>
<circle cx="800.1" cy="737.14" r="4.3"/>
<circle cx="797.37" cy="740.03" r="4.3"/>
<circle cx="803.23" cy="642.59" r="4.3"/>
<circle cx="803.63" cy="632.84" r="4.3"/>
<circle cx="797.59" cy="660.93" r="4.3"/>
<circle cx="804.36" cy="684.07" r="4.3"/>
<circle cx="804.38" cy="747.92" r="4.3"/>
<circle cx="804.81" cy="706.35" r="4.3"/>
<circle cx="805.23" cy="760.78" r="4.3"/>
<circle cx="798.85" cy="711.95" r="4.3"/>
<circle cx="798.01" cy="758.31" r="4.3"/>
<circle cx="804.31" cy="625.63" r="4.3"/>
<circle cx="802.68" cy="613.46" r="4.3"/>
<circle cx="799.59" cy="754.39" r="4.3"/>
<circle cx="803.82" cy="746.32" r="4.3"/>
<circle cx="798.84" cy="689.65" r="4.3"/>
<circle cx="797.19" cy="801.2" r="4.3"/>
<circle cx="799.31" cy="699.2" r="4.3"/>
<circle cx="800.31" cy="849.24" r="4.3"/>
<circle cx="799.89" cy="817.29" r="4.3"/>
<circle cx="804.66" cy="703.76" r="4.3"/>
<circle cx="802.56" cy="806.01" r="4.3"/>
<circle cx="800.93" cy="740.97" r="4.3"/>
<circle cx="803.96" cy="653.62" r="4.3"/>
<circle cx="801.84" cy="827.55" r="4.3"/>
<circle cx="798.95" cy="747.64" r="4.3"/>
<circle cx="804.38" cy="698.41" r="4.3"/>
<circle cx="798.53" cy="778.75" r="4.3"/>
<circle cx="803.86" cy="725.44" r="4.3"/>
<circle cx="805.8" cy="817.91" r="4.3"/>
<circle cx="801.42" cy="727.55" r="4.3"/>
<circle cx="804.17" cy="762.38" r="4.3"/>
<circle cx="800.12" cy="810.66" r="4.3"/>
<circle cx="804.49" cy="712.25" r="4.3"/>
<circle cx="799.55" cy="752.28" r="4.3"/>
<circle cx="801.48" cy="846.01" r="4.3"/>
<circle cx="797.99" cy="703.51" r="4.3"/>
<circle cx="804.09" cy="700.15" r="4.3"/>
<circle cx="803.27" cy="750.87" r="4.3"/>
<circle cx="800.2" cy="615.52" r="4.3"/>
<circle cx="800.61" cy="592.33" r="4.3"/>
<circle cx="797.78" cy="828.44" r="4.3"/>
<circle cx="805" cy="778.68" r="4.3"/>
<circle cx="799.37" cy="733.56" r="4.3"/>
<circle cx="805.11" cy="646.87" r="4.3"/>
<circle cx="804.96" cy="724.42" r="4.3"/>
<circle cx="799.1" cy="629.44" r="4.3"/>
<circle cx="803.79" cy="748.96" r="4.3"/>
<circle cx="803.78" cy="680.09" r="4.3"/>
<circle cx="799.94" cy="666.12" r="4.3"/>
<circle cx="798.4" cy="790.08" r="4.3"/>
<circle cx="803.68" cy="626.75" r="4.3"/>
<circle cx="798.53" cy="597.21" r="4.3"/>
<circle cx="802.21" cy="776.71" r="4.3"/>
<circle cx="798.13" cy="764.34" r="4.3"/>
<circle cx="799.14" cy="749.32" r="4.3"/>
<circle cx="803.33" cy="788.26" r="4.3"/>
<circle cx="804.59" cy="751.29" r="4.3"/>
<circle cx="799.23" cy="763.47" r="4.3"/>
<circle cx="799.94" cy="678.07" r="4.3"/>
<circle cx="799.95" cy="718.42" r="4.3"/>
<circle cx="798.7" cy="852.65" r="4.3"/>
<circle cx="797.92" cy="704.9" r="4.3"/>
<circle cx="805.66" cy="788.26" r="4.3"/>
<circle cx="805.85" cy="771.96" r="4.3"/>
<circle cx="804.15" cy="716.04" r="4.3"/>
<circle cx="798.77" cy="639.99" r="4.3"/>
<circle cx="802.74" cy="767.59" r="4.3"/>
<circle cx="800.5" cy="758.85" r="4.3"/>
<circle cx="797.31" cy="610.99" r="4.3"/>
<circle cx="803.24" cy="808.91" r="4.3"/>
<circle cx="801.5" cy="664.88" r="4.3"/>
<circle cx="798.28" cy="659.04" r="4.3"/>
<circle cx="802.43" cy="616.38" r="4.3"/>
<circle cx="805.17" cy="799.1" r="4.3"/>
<circle cx="800.87" cy="606.08" r="4.3"/>
<circle cx="800.79" cy="644" r="4.3"/>
<circle cx="803.5" cy="826.42" r="4.3"/>
<circle cx="803.97" cy="776.02" r="4.3"/>
<circle cx="804.67" cy="770.29" r="4.3"/>
<circle cx="802.77" cy="707.09" r="4.3"/>
<circle cx="799.82" cy="755.92" r="4.3"/>
<circle cx="797.88" cy="697.48" r="4.3"/>
<circle cx="804.04" cy="779.68" r="4.3"/>
<circle cx="802.67" cy="650.02" r="4.3"/>
<circle cx="800.81" cy="707.45" r="4.3"/>
<circle cx="802.59" cy="694.62" r="4.3"/>
<circle cx="803.08" cy="840.46" r="4.3"/>
<circle cx="798.65" cy="763.26" r="4.3"/>
<circle cx="804" cy="688.84" r="4.3"/>
<circle cx="801.41" cy="852.89" r="4.3"/>
<circle cx="797.34" cy="732.14" r="4.3"/>
<circle cx="798.45" cy="798.9" r="4.3"/>
<circle cx="805.47" cy="725.38" r="4.3"/>
<circle cx="797.91" cy="740.88" r="4.3"/>
<circle cx="801.87" cy="780.84" r="4.3"/>
<circle cx="801.61" cy="758.99" r="4.3"/>
<circle cx="804.46" cy="726.07" r="4.3"/>
<circle cx="800.69" cy="845.43" r="4.3"/>
<circle cx="798.89" cy="771.62" r="4.3"/>
<circle cx="800.53" cy="793.56" r="4.3"/>
<circle cx="798.1" cy="855.65" r="4.3"/>
<circle cx="800.2" cy="595.85" r="4.3"/>
<circle cx="799.47" cy="691.91" r="4.3"/>
<circle cx="797.12" cy="697.2" r="4.3"/>
<circle cx="800.78" cy="775.51" r="4.3"/>
<circle cx="800.17" cy="654.24" r="4.3"/>
<circle cx="799.02" cy="787.61" r="4.3"/>
<circle cx="805.46" cy="727.58" r="4.3"/>
<circle cx="798.97" cy="804.42" r="4.3"/>
<circle cx="800.53" cy="639.36" r="4.3"/>
<circle cx="798.16" cy="797.45" r="4.3"/>
<circle cx="804.29" cy="757.6" r="4.3"/>
<circle cx="801.22" cy="737.38" r="4.3"/>
<circle cx="799.03" cy="849.88" r="4.3"/>
<circle cx="800.18" cy="758.86" r="4.3"/>
<circle cx="804.37" cy="808.53" r="4.3"/>
<circle cx="801.21" cy="662.42" r="4.3"/>
<circle cx="801.93" cy="615.05" r="4.3"/>
<circle cx="804.5" cy="679.33" r="4.3"/>
<circle cx="804.66" cy="654.88" r="4.3"/>
<circle cx="800.39" cy="650.99" r="4.3"/>
<circle cx="800.83" cy="632.05" r="4.3"/>
<circle cx="797.02" cy="782.1" r="4.3"/>
<circle cx="799.53" cy="648.59" r="4.3"/>
<circle cx="799.72" cy="714.27" r="4.3"/>
<circle cx="800.86" cy="758.44" r="4.3"/>
<circle cx="802.93" cy="681.48" r="4.3"/>
<circle cx="805.36" cy="819.24" r="4.3"/>
<circle cx="797.51" cy="811.81" r="4.3"/>
<circle cx="805.15" cy="799.53" r="4.3"/>
<circle cx="798.26" cy="812.77" r="4.3"/>
<circle cx="802.7" cy="584.2" r="4.3"/>
<circle cx="797.1" cy="846.5" r="4.3"/>
<circle cx="802.9" cy="650.01" r="4.3"/>
<circle cx="797.91" cy="619.97" r="4.3"/>
<circle cx="799.1" cy="797.37" r="4.3"/>
<circle cx="800.12" cy="622.75" r="4.3"/>
<circle cx="805.14" cy="801.67" r="4.3"/>
<circle cx="798.51" cy="829.52" r="4.3"/>
<circle cx="802.48" cy="798.76" r="4.3"/>
<circle cx="803.02" cy="830.3" r="4.3"/>
<circle cx="804.09" cy="814.86" r="4.3"/>
<circle cx="798.78" cy="773.98" r="4.3"/>
<circle cx="801.78" cy="787.74" r="4.3"/>
<circle cx="800.95" cy="827.15" r="4.3"/>
<circle cx="802" cy="654.06" r="4.3"/>
<circle cx="799.11" cy="619.01" r="4.3"/>
<circle cx="801.44" cy="596.37" r="4.3"/>
<circle cx="801.2" cy="620.44" r="4.3"/>
<circle cx="801.42" cy="719.49" r="4.3"/>
<circle cx="801.86" cy="821.61" r="4.3"/>
<circle cx="797.06" cy="815.41" r="4.3"/>
<circle cx="801.21" cy="737.52" r="4.3"/>
<circle cx="802.99" cy="815.36" r="4.3"/>
<circle cx="800.37" cy="697.27" r="4.3"/>
<circle cx="805.65" cy="601.11" r="4.3"/>
<circle cx="802.73" cy="758.12" r="4.3"/>
<circle cx="797.26" cy="750.71" r="4.3"/>
<circle cx="803.14" cy="840.82" r="4.3"/>
<circle cx="799.97" cy="854.88" r="4.3"/>
<circle cx="801.6" cy="715.71" r="4.3"/>
<circle cx="805.08" cy="589.49" r="4.3"/>
<circle cx="803.46" cy="755.08" r="4.3"/>
<circle cx="800.05" cy="821.27" r="4.3"/>
<circle cx="800.3" cy="712.87" r="4.3"/>
<circle cx="801.73" cy="795.76" r="4.3"/>
<circle cx="798.9" cy="701.85" r="4.3"/>
<circle cx="800.8" cy="735.13" r="4.3"/>
<circle cx="804.44" cy="662.01" r="4.3"/>
<circle cx="804.45" cy="693.04" r="4.3"/>
<circle cx="801.53" cy="656.08" r="4.3"/>
<circle cx="801.56" cy="853" r="4.3"/>
<circle cx="802.89" cy="801.75" r="4.3"/>
<circle cx="799.98" cy="668.79" r="4.3"/>
<circle cx="799.69" cy="744.21" r="4.3"/>
<circle cx="802.71" cy="799.58" r="4.3"/>
<circle cx="797.36" cy="782.35" r="4.3"/>
<circle cx="804.97" cy="732.71" r="4.3"/>
<circle cx="797.45" cy="664.11" r="4.3"/>
<circle cx="797.06" cy="633.18" r="4.3"/>
<circle cx="805.29" cy="750.43" r="4.3"/>
<circle cx="802.92" cy="800.93" r="4.3"/>
<circle cx="805.19" cy="751.29" r="4.3"/>
<circle cx="802.55" cy="755.51" r="4.3"/>
<circle cx="803.27" cy="746.97" r="4.3"/>
<circle cx="803.13" cy="639.5" r="4.3"/>
<circle cx="803" cy="708.21" r="4.3"/>
<circle cx="803.86" cy="608.38" r="4.3"/>
<circle cx="798.63" cy="590.35" r="4.3"/>
<circle cx="803.97" cy="835.94" r="4.3"/>
<circle cx="802.9" cy="683.28" r="4.3"/>
<circle cx="804.4" cy="800.23" r="4.3"/>
<circle cx="802.06" cy="652.24" r="4.3"/>
<circle cx="799.72" cy="698.1" r="4.3"/>
<circle cx="799.87" cy="700.59" r="4.3"/>
<circle cx="817.08" cy="688.78" r="4.3"/>
<circle cx="837.53" cy="622.65" r="4.3"/>
<circle cx="835.63" cy="762.01" r="4.3"/>
<circle cx="835.6" cy="742.64" r="4.3"/>
<circle cx="840.01" cy="659.62" r="4.3"/>
<circle cx="840.36" cy="702.01" r="4.3"/>
<circle cx="818.77" cy="740.44" r="4.3"/>
<circle cx="829.7" cy="804.92" r="4.3"/>
<circle cx="833.3" cy="710.48" r="4.3"/>
<circle cx="825.83" cy="708.64" r="4.3"/>
<circle cx="832.37" cy="741.35" r="4.3"/>
<circle cx="829.32" cy="829.04" r="4.3"/>
<circle cx="841.62" cy="851.55" r="4.3"/>
<circle cx="836.43" cy="841.43" r="4.3"/>
<circle cx="832.3" cy="743.09" r="4.3"/>
<circle cx="824.05" cy="726.16" r="4.3"/>
<circle cx="824.91" cy="730.88" r="4.3"/>
<circle cx="832.74" cy="836.67" r="4.3"/>
<circle cx="830.49" cy="707.32" r="4.3"/>
<circle cx="820.68" cy="709.19" r="4.3"/>
<circle cx="836.41" cy="664.54" r="4.3"/>
<circle cx="855.52" cy="730.93" r="4.3"/>
<circle cx="829.59" cy="733.08" r="4.3"/>
<circle cx="829.94" cy="824.54" r="4.3"/>
<circle cx="827.47" cy="745.37" r="4.3"/>
<circle cx="845.24" cy="697.47" r="4.3"/>
<circle cx="847.3" cy="797.03" r="4.3"/>
<circle cx="831.29" cy="713.31" r="4.3"/>
<circle cx="840.19" cy="680.39" r="4.3"/>
<circle cx="836.36" cy="648.63" r="4.3"/>
<circle cx="844.41" cy="802.95" r="4.3"/>
<circle cx="841.35" cy="676.73" r="4.3"/>
<circle cx="823.81" cy="690.76" r="4.3"/>
<circle cx="841.98" cy="652.97" r="4.3"/>
<circle cx="824.84" cy="837.2" r="4.3"/>
<circle cx="827.78" cy="687.91" r="4.3"/>
<circle cx="825.85" cy="797.27" r="4.3"/>
<circle cx="824.29" cy="623.76" r="4.3"/>
<circle cx="848.74" cy="808.61" r="4.3"/>
<circle cx="824.43" cy="718.48" r="4.3"/>
<circle cx="813.09" cy="703.38" r="4.3"/>
<circle cx="820.68" cy="791.31" r="4.3"/>
<circle cx="814.78" cy="800.92" r="4.3"/>
<circle cx="833.74" cy="656.25" r="4.3"/>
<circle cx="838.42" cy="687.66" r="4.3"/>
<circle cx="819.84" cy="735.51" r="4.3"/>
<circle cx="839" cy="773.56" r="4.3"/>
<circle cx="841.78" cy="616.39" r="4.3"/>
<circle cx="838.22" cy="765.82" r="4.3"/>
<circle cx="823.96" cy="619.67" r="4.3"/>
<circle cx="841.23" cy="713.34" r="4.3"/>
<circle cx="822.6" cy="644.51" r="4.3"/>
<circle cx="827.31" cy="609.16" r="4.3"/>
<circle cx="814.98" cy="756.45" r="4.3"/>
<circle cx="835.85" cy="698.34" r="4.3"/>
<circle cx="833.65" cy="833.3" r="4.3"/>
<circle cx="819.81" cy="716.17" r="4.3"/>
<circle cx="824.69" cy="676.94" r="4.3"/>
<circle cx="830.53" cy="744.12" r="4.3"/>
<circle cx="831.01" cy="838.36" r="4.3"/>
<circle cx="845.67" cy="668.55" r="4.3"/>
<circle cx="831.96" cy="793.84" r="4.3"/>
<circle cx="813.23" cy="690.29" r="4.3"/>
<circle cx="839.66" cy="671.62" r="4.3"/>
<circle cx="818.46" cy="685.23" r="4.3"/>
<circle cx="833.32" cy="747.12" r="4.3"/>
<circle cx="837.23" cy="772.6" r="4.3"/>
<circle cx="823.12" cy="822.36" r="4.3"/>
<circle cx="821.62" cy="795.68" r="4.3"/>
<circle cx="832.7" cy="778.03" r="4.3"/>
<circle cx="840.19" cy="750.08" r="4.3"/>
<circle cx="841.57" cy="733.92" r="4.3"/>
<circle cx="832.29" cy="789.27" r="4.3"/>
<circle cx="823.84" cy="699.86" r="4.3"/>
<circle cx="829.08" cy="702.29" r="4.3"/>
<circle cx="837.06" cy="733.46" r="4.3"/>
<circle cx="822.82" cy="782.69" r="4.3"/>
<circle cx="827.97" cy="690.95" r="4.3"/>
<circle cx="821.16" cy="746.91" r="4.3"/>
<circle cx="825.06" cy="834.94" r="4.3"/>
<circle cx="830.93" cy="801.85" r="4.3"/>
<circle cx="832.82" cy="752.22" r="4.3"/>
<circle cx="833.66" cy="772.31" r="4.3"/>
<circle cx="813.02" cy="745.07" r="4.3"/>
<circle cx="836.97" cy="690.76" r="4.3"/>
<circle cx="829.14" cy="754.06" r="4.3"/>
<circle cx="825.47" cy="684.07" r="4.3"/>
<circle cx="841.12" cy="849.42" r="4.3"/>
<circle cx="843.24" cy="731.39" r="4.3"/>
<circle cx="815.45" cy="636.55" r="4.3"/>
<circle cx="822.69" cy="705.05" r="4.3"/>
<circle cx="832.79" cy="700.33" r="4.3"/>
<circle cx="831.47" cy="694.03" r="4.3"/>
<circle cx="830.67" cy="752.13" r="4.3"/>
<circle cx="847.87" cy="792.72" r="4.3"/>
<circle cx="832.54" cy="657.9" r="4.3"/>
<circle cx="834.38" cy="718.57" r="4.3"/>
<circle cx="814.3" cy="640.03" r="4.3"/>
<circle cx="832.82" cy="767.57" r="4.3"/>
<circle cx="827.45" cy="739.57" r="4.3"/>
<circle cx="817.57" cy="688.18" r="4.3"/>
<circle cx="837.63" cy="678.24" r="4.3"/>
<circle cx="830.78" cy="768.74" r="4.3"/>
<circle cx="825.27" cy="766.89" r="4.3"/>
<circle cx="831.38" cy="739.41" r="4.3"/>
<circle cx="830.34" cy="769.37" r="4.3"/>
<circle cx="829.72" cy="726.12" r="4.3"/>
<circle cx="852.22" cy="695.01" r="4.3"/>
<circle cx="835.07" cy="766.88" r="4.3"/>
<circle cx="818.1" cy="821.99" r="4.3"/>
<circle cx="838.96" cy="778.11" r="4.3"/>
<circle cx="838.21" cy="851.86" r="4.3"/>
<circle cx="819.82" cy="782.78" r="4.3"/>
<circle cx="833.55" cy="681.02" r="4.3"/>
<circle cx="821.3" cy="766.3" r="4.3"/>
<circle cx="827.2" cy="711.16" r="4.3"/>
<circle cx="834.2" cy="738.75" r="4.3"/>
<circle cx="819.25" cy="717.21" r="4.3"/>
<circle cx="840.17" cy="812.05" r="4.3"/>
<circle cx="840.74" cy="728.43" r="4.3"/>
<circle cx="837.27" cy="762.54" r="4.3"/>
<circle cx="823.75" cy="764.85" r="4.3"/>
<circle cx="840.6" cy="770.58" r="4.3"/>
<circle cx="849.68" cy="679.43" r="4.3"/>
<circle cx="842.92" cy="848.03" r="4.3"/>
<circle cx="827.79" cy="781.03" r="4.3"/>
<circle cx="823.28" cy="697.8" r="4.3"/>
<circle cx="830.69" cy="742.19" r="4.3"/>
<circle cx="852.96" cy="776.56" r="4.3"/>
<circle cx="837.42" cy="733.3" r="4.3"/>
<circle cx="833.6" cy="764.49" r="4.3"/>
<circle cx="829.83" cy="722.05" r="4.3"/>
<circle cx="832.69" cy="683.88" r="4.3"/>
<circle cx="834.04" cy="733.51" r="4.3"/>
<circle cx="831.38" cy="681.98" r="4.3"/>
<circle cx="836.74" cy="737.97" r="4.3"/>
<circle cx="834.99" cy="669.08" r="4.3"/>
<circle cx="836.67" cy="795.96" r="4.3"/>
<circle cx="826.33" cy="712.15" r="4.3"/>
<circle cx="837.93" cy="720.35" r="4.3"/>
<circle cx="827.89" cy="831.28" r="4.3"/>
<circle cx="834.57" cy="695.15" r="4.3"/>
<circle cx="822.37" cy="747.67" r="4.3"/>
<circle cx="830.04" cy="689.28" r="4.3"/>
<circle cx="819.66" cy="776.64" r="4.3"/>
<circle cx="835.74" cy="671.87" r="4.3"/>
<circle cx="832.03" cy="659.07" r="4.3"/>
<circle cx="829.95" cy="756.84" r="4.3"/>
<circle cx="830.43" cy="671.88" r="4.3"/>
<circle cx="834.19" cy="714.4" r="4.3"/>
<circle cx="841.37" cy="682.99" r="4.3"/>
<circle cx="827.77" cy="631.14" r="4.3"/>
<circle cx="840.14" cy="735.48" r="4.3"/>
<circle cx="836.19" cy="697.28" r="4.3"/>
<circle cx="838.01" cy="699.86" r="4.3"/>
<circle cx="826.19" cy="842.71" r="4.3"/>
<circle cx="822.19" cy="762.46" r="4.3"/>
<circle cx="842.5" cy="795.34" r="4.3"/>
<circle cx="820.22" cy="737.19" r="4.3"/>
<circle cx="841.92" cy="759.95" r="4.3"/>
<circle cx="838.73" cy="802.56" r="4.3"/>
<circle cx="824.24" cy="621.51" r="4.3"/>
<circle cx="820.42" cy="823.16" r="4.3"/>
<circle cx="848.88" cy="805.14" r="4.3"/>
<circle cx="841.64" cy="782.24" r="4.3"/>
<circle cx="819.36" cy="714.37" r="4.3"/>
<circle cx="829.11" cy="728.63" r="4.3"/>
<circle cx="837.62" cy="732.05" r="4.3"/>
<circle cx="832.82" cy="726.03" r="4.3"/>
<circle cx="830.95" cy="761.3" r="4.3"/>
<circle cx="832.1" cy="849.29" r="4.3"/>
<circle cx="829.03" cy="740.25" r="4.3"/>
<circle cx="843.77" cy="696.24" r="4.3"/>
<circle cx="820.75" cy="744.3" r="4.3"/>
<circle cx="829.7" cy="700.13" r="4.3"/>
<circle cx="841.3" cy="707.38" r="4.3"/>
<circle cx="835.67" cy="662.98" r="4.3"/>
<circle cx="819.81" cy="743.9" r="4.3"/>
<circle cx="830.1" cy="737.94" r="4.3"/>
<circle cx="826.72" cy="766.09" r="4.3"/>
<circle cx="815.18" cy="753.8" r="4.3"/>
<circle cx="838.46" cy="667.81" r="4.3"/>
<circle cx="830.88" cy="799.58" r="4.3"/>
<circle cx="841.29" cy="697.86" r="4.3"/>
<circle cx="823.4" cy="605.31" r="4.3"/>
<circle cx="837.2" cy="776.67" r="4.3"/>
<circle cx="813.07" cy="671" r="4.3"/>
<circle cx="830.07" cy="825.02" r="4.3"/>
<circle cx="831.52" cy="679.43" r="4.3"/>
<circle cx="841.55" cy="790.91" r="4.3"/>
<circle cx="838.32" cy="780.88" r="4.3"/>
<circle cx="836.98" cy="624.64" r="4.3"/>
<circle cx="852.4" cy="759.71" r="4.3"/>
<circle cx="831.04" cy="697.14" r="4.3"/>
<circle cx="824.92" cy="799.93" r="4.3"/>
<circle cx="827.47" cy="691.29" r="4.3"/>
<circle cx="820.72" cy="730.48" r="4.3"/>
<circle cx="836.16" cy="765.02" r="4.3"/>
<circle cx="847.15" cy="739.43" r="4.3"/>
<circle cx="843.41" cy="714.69" r="4.3"/>
<circle cx="838.18" cy="701.11" r="4.3"/>
<circle cx="830.39" cy="615.04" r="4.3"/>
<circle cx="826.3" cy="724.13" r="4.3"/>
<circle cx="827.7" cy="697.14" r="4.3"/>
<circle cx="825.34" cy="690.37" r="4.3"/>
<circle cx="826.02" cy="700.93" r="4.3"/>
<circle cx="829.71" cy="669.42" r="4.3"/>
<circle cx="828.62" cy="783.64" r="4.3"/>
<circle cx="843.9" cy="704.45" r="4.3"/>
<circle cx="839.76" cy="795.57" r="4.3"/>
<circle cx="827.89" cy="806.64" r="4.3"/>
<circle cx="841.58" cy="726.98" r="4.3"/>
<circle cx="829.86" cy="700.65" r="4.3"/>
<circle cx="834.54" cy="758.42" r="4.3"/>
<circle cx="840.34" cy="717.87" r="4.3"/>
<circle cx="837.89" cy="723.96" r="4.3"/>
<circle cx="837.26" cy="801.37" r="4.3"/>
<circle cx="819.98" cy="780.47" r="4.3"/>
<circle cx="825.12" cy="653.71" r="4.3"/>
<circle cx="845.26" cy="764.46" r="4.3"/>
<circle cx="833.91" cy="659.21" r="4.3"/>
<circle cx="824.04" cy="682.04" r="4.3"/>
<circle cx="837.57" cy="717.86" r="4.3"/>
<circle cx="842.21" cy="748.2" r="4.3"/>
<circle cx="839.45" cy="673.89" r="4.3"/>
<circle cx="831.66" cy="792.66" r="4.3"/>
<circle cx="825.65" cy="764.59" r="4.3"/>
<circle cx="827.15" cy="667.42" r="4.3"/>
<circle cx="826.39" cy="695.16" r="4.3"/>
<circle cx="830.41" cy="837.3" r="4.3"/>
<circle cx="838.06" cy="754.35" r="4.3"/>
<circle cx="839.71" cy="686.7" r="4.3"/>
<circle cx="816.6" cy="758.34" r="4.3"/>
<circle cx="836.25" cy="772.28" r="4.3"/>
<circle cx="846.06" cy="763.07" r="4.3"/>
<circle cx="835.86" cy="709.31" r="4.3"/>
<circle cx="822.45" cy="781.4" r="4.3"/>
<circle cx="817.22" cy="809.39" r="4.3"/>
<circle cx="835.96" cy="654.4" r="4.3"/>
<circle cx="829.9" cy="667.49" r="4.3"/>
<circle cx="829.48" cy="633.01" r="4.3"/>
<circle cx="834.25" cy="664.72" r="4.3"/>
<circle cx="832.14" cy="639.98" r="4.3"/>
<circle cx="831.61" cy="718.48" r="4.3"/>
<circle cx="832.24" cy="730.81" r="4.3"/>
<circle cx="831.32" cy="653.08" r="4.3"/>
<circle cx="826.68" cy="676.98" r="4.3"/>
<circle cx="823.75" cy="761.45" r="4.3"/>
<circle cx="820.96" cy="697.17" r="4.3"/>
<circle cx="829.67" cy="755.26" r="4.3"/>
<circle cx="821.65" cy="684.12" r="4.3"/>
<circle cx="824.74" cy="785.05" r="4.3"/>
<circle cx="835.27" cy="771.27" r="4.3"/>
<circle cx="821.42" cy="617.58" r="4.3"/>
<circle cx="834.25" cy="735.19" r="4.3"/>
<circle cx="838.62" cy="783.34" r="4.3"/>
<circle cx="827.45" cy="799.12" r="4.3"/>
<circle cx="838.37" cy="721.95" r="4.3"/>
<circle cx="841.04" cy="708.62" r="4.3"/>
<circle cx="833.57" cy="636.47" r="4.3"/>
<circle cx="840.31" cy="724.26" r="4.3"/>
<circle cx="831.2" cy="754.29" r="4.3"/>
<circle cx="826.58" cy="668.25" r="4.3"/>
<circle cx="823.21" cy="828.73" r="4.3"/>
<circle cx="819.6" cy="681.89" r="4.3"/>
<circle cx="827.26" cy="726.81" r="4.3"/>
<circle cx="823" cy="678.43" r="4.3"/>
<circle cx="817.3" cy="799.96" r="4.3"/>
<circle cx="825.19" cy="856.31" r="4.3"/>
<circle cx="838.48" cy="667.25" r="4.3"/>
<circle cx="821.09" cy="769.98" r="4.3"/>
<circle cx="813.52" cy="781.42" r="4.3"/>
<circle cx="841.7" cy="677.73" r="4.3"/>
<circle cx="818.63" cy="719.15" r="4.3"/>
<circle cx="839.71" cy="766.87" r="4.3"/>
<circle cx="813.84" cy="733.62" r="4.3"/>
<circle cx="834.97" cy="713.53" r="4.3"/>
<circle cx="848.6" cy="782.66" r="4.3"/>
<circle cx="826.42" cy="719.33" r="4.3"/>
<circle cx="842.46" cy="732.63" r="4.3"/>
<circle cx="843.4" cy="676.62" r="4.3"/>
<circle cx="824.58" cy="784.45" r="4.3"/>
<circle cx="837.54" cy="763.46" r="4.3"/>
<circle cx="830.18" cy="661.68" r="4.3"/>
<circle cx="836.58" cy="749.92" r="4.3"/>
<circle cx="821.58" cy="677.34" r="4.3"/>
<circle cx="846.78" cy="615.72" r="4.3"/>
<circle cx="828.89" cy="723.07" r="4.3"/>
<circle cx="839.83" cy="642.33" r="4.3"/>
<circle cx="844.64" cy="701.85" r="4.3"/>
<circle cx="831.2" cy="787.82" r="4.3"/>
<circle cx="820.44" cy="780.07" r="4.3"/>
<circle cx="825.53" cy="714.81" r="4.3"/>
<circle cx="831.16" cy="656.3" r="4.3"/>
<circle cx="844.64" cy="726.01" r="4.3"/>
<circle cx="822.27" cy="693.33" r="4.3"/>
<circle cx="835.01" cy="706.22" r="4.3"/>
<circle cx="831.27" cy="760.03" r="4.3"/>
<circle cx="835.7" cy="705.61" r="4.3"/>
<circle cx="813.49" cy="757.31" r="4.3"/>
<circle cx="817.94" cy="718.74" r="4.3"/>
<circle cx="832.39" cy="661.74" r="4.3"/>
<circle cx="832.08" cy="738.74" r="4.3"/>
<circle cx="829.09" cy="680.71" r="4.3"/>
<circle cx="834.63" cy="678.42" r="4.3"/>
<circle cx="847.67" cy="777.7" r="4.3"/>
<circle cx="823.36" cy="813.5" r="4.3"/>
<circle cx="822.08" cy="706.62" r="4.3"/>
<circle cx="849.81" cy="753.97" r="4.3"/>
<circle cx="819.05" cy="778.93" r="4.3"/>
<circle cx="835.89" cy="654.86" r="4.3"/>
<circle cx="833.85" cy="735.08" r="4.3"/>
<circle cx="823.21" cy="845.46" r="4.3"/>
<circle cx="849.67" cy="682.45" r="4.3"/>
<circle cx="823.6" cy="756.22" r="4.3"/>
<circle cx="818.33" cy="609.22" r="4.3"/>
<circle cx="831.42" cy="739.24" r="4.3"/>
<circle cx="829.68" cy="796.56" r="4.3"/>
<circle cx="823.96" cy="692" r="4.3"/>
<circle cx="816.64" cy="852.87" r="4.3"/>
<circle cx="831.24" cy="745.77" r="4.3"/>
<circle cx="827.16" cy="773.24" r="4.3"/>
<circle cx="838.75" cy="765.95" r="4.3"/>
<circle cx="826.65" cy="725.86" r="4.3"/>
<circle cx="821.83" cy="723.45" r="4.3"/>
<circle cx="828.13" cy="722.12" r="4.3"/>
<circle cx="843.69" cy="748.04" r="4.3"/>
<circle cx="825.88" cy="816.08" r="4.3"/>
<circle cx="833.8" cy="772.38" r="4.3"/>
<circle cx="831.2" cy="782.22" r="4.3"/>
<circle cx="826.55" cy="751.48" r="4.3"/>
<circle cx="839.28" cy="686.36" r="4.3"/>
<circle cx="833.64" cy="815.53" r="4.3"/>
<circle cx="833.53" cy="762.02" r="4.3"/>
<circle cx="814.06" cy="707.09" r="4.3"/>
<circle cx="832.89" cy="776.13" r="4.3"/>
<circle cx="821.84" cy="700.64" r="4.3"/>
<circle cx="816.37" cy="814.23" r="4.3"/>
<circle cx="833.48" cy="844.23" r="4.3"/>
<circle cx="830.79" cy="690.5" r="4.3"/>
<circle cx="832.47" cy="703.59" r="4.3"/>
<circle cx="823.89" cy="721.98" r="4.3"/>
<circle cx="823.54" cy="801.64" r="4.3"/>
<circle cx="836.27" cy="703.52" r="4.3"/>
<circle cx="826.87" cy="701.67" r="4.3"/>
<circle cx="827.51" cy="757.07" r="4.3"/>
<circle cx="830.03" cy="657.71" r="4.3"/>
<circle cx="847.2" cy="721.37" r="4.3"/>
<circle cx="840.21" cy="666.99" r="4.3"/>
<circle cx="827.62" cy="686.27" r="4.3"/>
<circle cx="833.57" cy="714.74" r="4.3"/>
<circle cx="847.62" cy="788.53" r="4.3"/>
<circle cx="843.63" cy="695.54" r="4.3"/>
<circle cx="838.72" cy="796.71" r="4.3"/>
<circle cx="839.56" cy="687.92" r="4.3"/>
<circle cx="834.36" cy="728.34" r="4.3"/>
<circle cx="837.31" cy="718.32" r="4.3"/>
<circle cx="841.74" cy="804.13" r="4.3"/>
<circle cx="840.46" cy="722.27" r="4.3"/>
<circle cx="822.45" cy="825.03" r="4.3"/>
<circle cx="819.65" cy="826.28" r="4.3"/>
<circle cx="836.64" cy="768.65" r="4.3"/>
<circle cx="830.95" cy="826.94" r="4.3"/>
<circle cx="823.43" cy="705.2" r="4.3"/>
<circle cx="838.28" cy="657.43" r="4.3"/>
<circle cx="824.18" cy="720.31" r="4.3"/>
<circle cx="823.73" cy="767.98" r="4.3"/>
<circle cx="826.65" cy="707.92" r="4.3"/>
<circle cx="839.24" cy="837.57" r="4.3"/>
<circle cx="816.07" cy="725.21" r="4.3"/>
<circle cx="831.68" cy="752.15" r="4.3"/>
<circle cx="836.37" cy="756.63" r="4.3"/>
<circle cx="839.79" cy="715.13" r="4.3"/>
<circle cx="833" cy="786.89" r="4.3"/>
<circle cx="826.43" cy="709.81" r="4.3"/>
<circle cx="820.55" cy="777.94" r="4.3"/>
<circle cx="823.88" cy="725.11" r="4.3"/>
<circle cx="836.74" cy="648.61" r="4.3"/>
<circle cx="831.34" cy="733.41" r="4.3"/>
<circle cx="816.81" cy="789.21" r="4.3"/>
<circle cx="833.74" cy="730.84" r="4.3"/>
<circle cx="820.69" cy="786.6" r="4.3"/>
<circle cx="833.09" cy="779.38" r="4.3"/>
<circle cx="836.97" cy="819.06" r="4.3"/>
<circle cx="851.41" cy="769.08" r="4.3"/>
<circle cx="826.97" cy="734.92" r="4.3"/>
<circle cx="822.07" cy="713.87" r="4.3"/>
<circle cx="813.16" cy="733.22" r="4.3"/>
<circle cx="835.05" cy="729.76" r="4.3"/>
<circle cx="827.7" cy="796.46" r="4.3"/>
<circle cx="824.44" cy="821.1" r="4.3"/>
<circle cx="813.16" cy="726.65" r="4.3"/>
<circle cx="823.48" cy="687.81" r="4.3"/>
<circle cx="832.63" cy="825.44" r="4.3"/>
<circle cx="835.95" cy="668.14" r="4.3"/>
<circle cx="828.83" cy="764.15" r="4.3"/>
<circle cx="828.17" cy="736.39" r="4.3"/>
<circle cx="814.56" cy="702.16" r="4.3"/>
<circle cx="842.92" cy="729.52" r="4.3"/>
<circle cx="827.1" cy="821.7" r="4.3"/>
<circle cx="829.04" cy="689.78" r="4.3"/>
<circle cx="834.26" cy="789.34" r="4.3"/>
<circle cx="834.36" cy="699.66" r="4.3"/>
<circle cx="835.78" cy="722.52" r="4.3"/>
<circle cx="817.36" cy="710.33" r="4.3"/>
<circle cx="838.05" cy="738.51" r="4.3"/>
<circle cx="830.01" cy="668.03" r="4.3"/>
<circle cx="827.53" cy="788.07" r="4.3"/>
<circle cx="849.8" cy="695.66" r="4.3"/>
<circle cx="840.51" cy="785.14" r="4.3"/>
<circle cx="846.11" cy="677.87" r="4.3"/>
<circle cx="825.47" cy="634.96" r="4.3"/>
<circle cx="843.3" cy="779.66" r="4.3"/>
<circle cx="824.86" cy="678.89" r="4.3"/>
<circle cx="813.17" cy="746.85" r="4.3"/>
<circle cx="836.17" cy="773.55" r="4.3"/>
<circle cx="835.97" cy="708.03" r="4.3"/>
<circle cx="833.85" cy="781.77" r="4.3"/>
<circle cx="844.97" cy="766.46" r="4.3"/>
<circle cx="832.49" cy="706.24" r="4.3"/>
<circle cx="840.54" cy="703.55" r="4.3"/>
<circle cx="835.37" cy="710.49" r="4.3"/>
<circle cx="831.61" cy="743.23" r="4.3"/>
<circle cx="828.42" cy="838.18" r="4.3"/>
<circle cx="834.6" cy="820.13" r="4.3"/>
<circle cx="827.88" cy="814.23" r="4.3"/>
<circle cx="837.95" cy="790.69" r="4.3"/>
<circle cx="833.47" cy="698.16" r="4.3"/>
<circle cx="830.67" cy="727.29" r="4.3"/>
<circle cx="824.13" cy="813.02" r="4.3"/>
<circle cx="817.22" cy="634.21" r="4.3"/>
<circle cx="825.08" cy="707.9" r="4.3"/>
<circle cx="836.19" cy="735.85" r="4.3"/>
<circle cx="831.09" cy="840.39" r="4.3"/>
<circle cx="824.26" cy="762.74" r="4.3"/>
<circle cx="843.46" cy="769.73" r="4.3"/>
<circle cx="815.81" cy="815.2" r="4.3"/>
<circle cx="845.51" cy="788.26" r="4.3"/>
<circle cx="817.31" cy="784.41" r="4.3"/>
<circle cx="836.38" cy="716.65" r="4.3"/>
<circle cx="823.57" cy="759.83" r="4.3"/>
<circle cx="839.84" cy="681.81" r="4.3"/>
<circle cx="844.12" cy="655.31" r="4.3"/>
<circle cx="833.75" cy="736.2" r="4.3"/>
<circle cx="825.55" cy="655.37" r="4.3"/>
<circle cx="817.55" cy="776.14" r="4.3"/>
<circle cx="819.54" cy="858.58" r="4.3"/>
<circle cx="831.39" cy="662.1" r="4.3"/>
<circle cx="837.7" cy="763.73" r="4.3"/>
<circle cx="829.1" cy="712.87" r="4.3"/>
<circle cx="825.75" cy="720.92" r="4.3"/>
<circle cx="833.29" cy="792.32" r="4.3"/>
<circle cx="825.26" cy="744.45" r="4.3"/>
<circle cx="830.88" cy="749.97" r="4.3"/>
<circle cx="841.09" cy="730.42" r="4.3"/>
<circle cx="830.69" cy="632.4" r="4.3"/>
<circle cx="828.1" cy="671.48" r="4.3"/>
<circle cx="821.71" cy="824.29" r="4.3"/>
<circle cx="825.6" cy="729.05" r="4.3"/>
<circle cx="822.06" cy="791.56" r="4.3"/>
<circle cx="832.46" cy="634.78" r="4.3"/>
<circle cx="828.09" cy="713.92" r="4.3"/>
<circle cx="822.9" cy="799.34" r="4.3"/>
<circle cx="832.35" cy="712.76" r="4.3"/>
<circle cx="826.29" cy="759.62" r="4.3"/>
<circle cx="851.45" cy="796.62" r="4.3"/>
<circle cx="848.06" cy="710.67" r="4.3"/>
<circle cx="838.46" cy="609.4" r="4.3"/>
<circle cx="832.25" cy="714.51" r="4.3"/>
<circle cx="825.19" cy="714.78" r="4.3"/>
<circle cx="827.4" cy="658.93" r="4.3"/>
<circle cx="836.66" cy="812.18" r="4.3"/>
<circle cx="826.18" cy="714.26" r="4.3"/>
<circle cx="820.06" cy="693.21" r="4.3"/>
<circle cx="833.46" cy="842.39" r="4.3"/>
<circle cx="826.52" cy="741.98" r="4.3"/>
<circle cx="843.01" cy="674.14" r="4.3"/>
<circle cx="822.31" cy="781.49" r="4.3"/>
<circle cx="820.9" cy="793.88" r="4.3"/>
<circle cx="822.24" cy="773.21" r="4.3"/>
<circle cx="835.51" cy="710.33" r="4.3"/>
<circle cx="840.23" cy="760.73" r="4.3"/>
<circle cx="845.4" cy="685.19" r="4.3"/>
<circle cx="828.93" cy="815.03" r="4.3"/>
<circle cx="823.9" cy="762.69" r="4.3"/>
<circle cx="818.95" cy="725.93" r="4.3"/>
<circle cx="832.82" cy="740.3" r="4.3"/>
<circle cx="835.37" cy="814.98" r="4.3"/>
<circle cx="827.7" cy="783.5" r="4.3"/>
<circle cx="827.89" cy="721.62" r="4.3"/>
<circle cx="813.39" cy="748.23" r="4.3"/>
<circle cx="816.71" cy="780.89" r="4.3"/>
<circle cx="831.2" cy="704.33" r="4.3"/>
<circle cx="846.17" cy="704.44" r="4.3"/>
<circle cx="845.33" cy="729.18" r="4.3"/>
<circle cx="826.47" cy="804.86" r="4.3"/>
<circle cx="842.84" cy="758.86" r="4.3"/>
<circle cx="831.81" cy="715.18" r="4.3"/>
<circle cx="831.54" cy="701.78" r="4.3"/>
<circle cx="831.75" cy="713.94" r="4.3"/>
<circle cx="843.7" cy="794.64" r="4.3"/>
<circle cx="832.84" cy="742.93" r="4.3"/>
<circle cx="828.35" cy="785.96" r="4.3"/>
<circle cx="841.13" cy="672" r="4.3"/>
<circle cx="839.49" cy="679.36" r="4.3"/>
<circle cx="847.69" cy="677.58" r="4.3"/>
<circle cx="838.74" cy="672.86" r="4.3"/>
<circle cx="822.54" cy="824.25" r="4.3"/>
<circle cx="823.47" cy="823.41" r="4.3"/>
<circle cx="833.85" cy="629.99" r="4.3"/>
<circle cx="829.15" cy="776.75" r="4.3"/>
<circle cx="828.21" cy="731.74" r="4.3"/>
<circle cx="828.36" cy="712.42" r="4.3"/>
<circle cx="825.19" cy="628.46" r="4.3"/>
<circle cx="839.39" cy="842.13" r="4.3"/>
<circle cx="824.51" cy="713.48" r="4.3"/>
<circle cx="840.68" cy="758.59" r="4.3"/>
<circle cx="820.34" cy="778.04" r="4.3"/>
<circle cx="832.28" cy="744.65" r="4.3"/>
<circle cx="837.04" cy="820.61" r="4.3"/>
<circle cx="842.09" cy="766.18" r="4.3"/>
<circle cx="845.03" cy="711.47" r="4.3"/>
<circle cx="834.61" cy="709.65" r="4.3"/>
<circle cx="822.67" cy="789.65" r="4.3"/>
<circle cx="814.97" cy="693.21" r="4.3"/>
<circle cx="830.5" cy="744.81" r="4.3"/>
<circle cx="835.54" cy="715.55" r="4.3"/>
<circle cx="828.84" cy="609.04" r="4.3"/>
<circle cx="828.57" cy="740.19" r="4.3"/>
<circle cx="846.98" cy="782.26" r="4.3"/>
<circle cx="822.43" cy="708.47" r="4.3"/>
<circle cx="831.85" cy="699.02" r="4.3"/>
<circle cx="823.15" cy="769.88" r="4.3"/>
<circle cx="821.66" cy="794.48" r="4.3"/>
<circle cx="834.9" cy="784.23" r="4.3"/>
<circle cx="850.68" cy="762.59" r="4.3"/>
<circle cx="829.49" cy="719.31" r="4.3"/>
<circle cx="838.87" cy="763.36" r="4.3"/>
<circle cx="833.51" cy="655.33" r="4.3"/>
<circle cx="836.75" cy="690.86" r="4.3"/>
<circle cx="829.35" cy="816.51" r="4.3"/>
<circle cx="832.67" cy="728.66" r="4.3"/>
<circle cx="836.12" cy="780.86" r="4.3"/>
<circle cx="827.39" cy="744.79" r="4.3"/>
<circle cx="829.37" cy="691.5" r="4.3"/>
<circle cx="830.07" cy="807.22" r="4.3"/>
<circle cx="825.91" cy="815.2" r="4.3"/>
<circle cx="830.88" cy="751.32" r="4.3"/>
<circle cx="824.53" cy="636.19" r="4.3"/>
<circle cx="819.22" cy="809.39" r="4.3"/>
<circle cx="820.99" cy="676.03" r="4.3"/>
<circle cx="836.86" cy="702.15" r="4.3"/>
<circle cx="844.31" cy="770.37" r="4.3"/>
<circle cx="825.63" cy="699.74" r="4.3"/>
<circle cx="828.45" cy="834.26" r="4.3"/>
<circle cx="825.17" cy="661.22" r="4.3"/>
<circle cx="821.79" cy="691.75" r="4.3"/>
<circle cx="839" cy="715.17" r="4.3"/>
<circle cx="818.41" cy="755.85" r="4.3"/>
<circle cx="832.06" cy="676.08" r="4.3"/>
<circle cx="837.94" cy="736.87" r="4.3"/>
<circle cx="835.16" cy="715.46" r="4.3"/>
<circle cx="829.64" cy="860.34" r="4.3"/>
<circle cx="833.99" cy="670.57" r="4.3"/>
<circle cx="827.63" cy="687.21" r="4.3"/>
<circle cx="834.07" cy="746.2" r="4.3"/>
<circle cx="838.74" cy="718.07" r="4.3"/>
<circle cx="819.1" cy="723.53" r="4.3"/>
<circle cx="827.68" cy="787.25" r="4.3"/>
<circle cx="825.03" cy="807.2" r="4.3"/>
<circle cx="833.87" cy="769.09" r="4.3"/>
<circle cx="820.79" cy="646.12" r="4.3"/>
<circle cx="816.31" cy="818.72" r="4.3"/>
<circle cx="840.96" cy="789.38" r="4.3"/>
<circle cx="837.15" cy="764.47" r="4.3"/>
<circle cx="830.9" cy="705.49" r="4.3"/>
<circle cx="834.84" cy="748.38" r="4.3"/>
<circle cx="829.12" cy="777.09" r="4.3"/>
<circle cx="825.87" cy="693.26" r="4.3"/>
<circle cx="815.85" cy="759.46" r="4.3"/>
<circle cx="827.24" cy="660.38" r="4.3"/>
<circle cx="828.53" cy="702.09" r="4.3"/>
<circle cx="828.71" cy="714.7" r="4.3"/>
<circle cx="828.21" cy="781.2" r="4.3"/>
<circle cx="835.46" cy="763.25" r="4.3"/>
<circle cx="840.63" cy="806.2" r="4.3"/>
<circle cx="836.81" cy="672.52" r="4.3"/>
<circle cx="823.67" cy="715.05" r="4.3"/>
<circle cx="824.77" cy="826.37" r="4.3"/>
<circle cx="827.28" cy="684.11" r="4.3"/>
<circle cx="840.19" cy="684.22" r="4.3"/>
<circle cx="843.79" cy="757.65" r="4.3"/>
<circle cx="825.38" cy="759.51" r="4.3"/>
<circle cx="825.02" cy="797.43" r="4.3"/>
<circle cx="829.47" cy="707.43" r="4.3"/>
<circle cx="841.92" cy="737.34" r="4.3"/>
<circle cx="834.22" cy="698.85" r="4.3"/>
<circle cx="819.5" cy="733.35" r="4.3"/>
<circle cx="828.99" cy="669.68" r="4.3"/>
<circle cx="833.93" cy="759.14" r="4.3"/>
<circle cx="831.44" cy="763.6" r="4.3"/>
<circle cx="834.9" cy="708.25" r="4.3"/>
<circle cx="818.71" cy="675.15" r="4.3"/>
<circle cx="817.92" cy="715.13" r="4.3"/>
<circle cx="824.16" cy="704.26" r="4.3"/>
<circle cx="830.59" cy="701.89" r="4.3"/>
<circle cx="827.13" cy="687.2" r="4.3"/>
<circle cx="829.98" cy="632.82" r="4.3"/>
<circle cx="834.7" cy="682.38" r="4.3"/>
<circle cx="833.23" cy="687.08" r="4.3"/>
<circle cx="831.87" cy="713.47" r="4.3"/>
<circle cx="817.29" cy="741.16" r="4.3"/>
<circle cx="832.36" cy="748.73" r="4.3"/>
<circle cx="837.82" cy="676.85" r="4.3"/>
<circle cx="831.17" cy="732.07" r="4.3"/>
<circle cx="836.02" cy="708.11" r="4.3"/>
<circle cx="841.42" cy="740.81" r="4.3"/>
<circle cx="825.34" cy="762.02" r="4.3"/>
<circle cx="839.42" cy="721.64" r="4.3"/>
<circle cx="834.51" cy="713.14" r="4.3"/>
<circle cx="829.35" cy="766.25" r="4.3"/>
<circle cx="832.96" cy="742.9" r="4.3"/>
<circle cx="824.03" cy="743.12" r="4.3"/>
<circle cx="829.76" cy="807.44" r="4.3"/>
<circle cx="824.41" cy="697.64" r="4.3"/>
<circle cx="820.98" cy="756.49" r="4.3"/>
<circle cx="849.37" cy="675.01" r="4.3"/>
<circle cx="836.13" cy="813.56" r="4.3"/>
<circle cx="833.03" cy="816.84" r="4.3"/>
<circle cx="837.09" cy="633.95" r="4.3"/>
<circle cx="835.51" cy="809.3" r="4.3"/>
<circle cx="837.42" cy="617.63" r="4.3"/>
<circle cx="825.67" cy="816.93" r="4.3"/>
<circle cx="838.14" cy="742.66" r="4.3"/>
<circle cx="841.1" cy="729.89" r="4.3"/>
<circle cx="837.36" cy="739.88" r="4.3"/>
<circle cx="817.39" cy="740.12" r="4.3"/>
<circle cx="833.57" cy="675.23" r="4.3"/>
<circle cx="836.72" cy="813.73" r="4.3"/>
<circle cx="832.76" cy="838" r="4.3"/>
<circle cx="831.17" cy="699.2" r="4.3"/>
<circle cx="827.72" cy="619.66" r="4.3"/>
<circle cx="832.81" cy="789.48" r="4.3"/>
<circle cx="843.23" cy="784.54" r="4.3"/>
<circle cx="824.99" cy="679.3" r="4.3"/>
<circle cx="822.08" cy="622.18" r="4.3"/>
<circle cx="850.08" cy="767.12" r="4.3"/>
<circle cx="843.71" cy="666.06" r="4.3"/>
<circle cx="826.44" cy="760.71" r="4.3"/>
<circle cx="833.02" cy="730.94" r="4.3"/>
<circle cx="844.39" cy="843.22" r="4.3"/>
<circle cx="840.05" cy="743.08" r="4.3"/>
<circle cx="832.48" cy="817.16" r="4.3"/>
<circle cx="829.31" cy="756.68" r="4.3"/>
<circle cx="819.65" cy="710.41" r="4.3"/>
<circle cx="825.96" cy="852.44" r="4.3"/>
<circle cx="830.8" cy="609.69" r="4.3"/>
<circle cx="832.63" cy="732.95" r="4.3"/>
<circle cx="828.28" cy="844.38" r="4.3"/>
<circle cx="824.11" cy="719" r="4.3"/>
<circle cx="826.95" cy="733.65" r="4.3"/>
<circle cx="834.63" cy="747.34" r="4.3"/>
<circle cx="848.83" cy="683.34" r="4.3"/>
<circle cx="838.54" cy="787.1" r="4.3"/>
<circle cx="838.57" cy="778.12" r="4.3"/>
<circle cx="844.03" cy="775.69" r="4.3"/>
<circle cx="843.46" cy="795.72" r="4.3"/>
<circle cx="830.98" cy="704.73" r="4.3"/>
<circle cx="839.85" cy="691.02" r="4.3"/>
<circle cx="826.69" cy="785.15" r="4.3"/>
<circle cx="855.28" cy="770.27" r="4.3"/>
<circle cx="820.68" cy="809.63" r="4.3"/>
<circle cx="836.87" cy="729.43" r="4.3"/>
<circle cx="834.58" cy="732.85" r="4.3"/>
<circle cx="834.04" cy="806.22" r="4.3"/>
<circle cx="837.61" cy="668.74" r="4.3"/>
<circle cx="832.05" cy="729.12" r="4.3"/>
<circle cx="818.21" cy="700.81" r="4.3"/>
<circle cx="827.73" cy="659.74" r="4.3"/>
<circle cx="841.62" cy="670.44" r="4.3"/>
<circle cx="824.29" cy="664.86" r="4.3"/>
<circle cx="843.42" cy="767.1" r="4.3"/>
<circle cx="837.11" cy="688.59" r="4.3"/>
<circle cx="833.83" cy="705.92" r="4.3"/>
<circle cx="830.99" cy="741.36" r="4.3"/>
<circle cx="818.98" cy="624.69" r="4.3"/>
<circle cx="844.05" cy="732.5" r="4.3"/>
<circle cx="835.92" cy="702.06" r="4.3"/>
<circle cx="835.48" cy="744.81" r="4.3"/>
<circle cx="817.13" cy="794.91" r="4.3"/>
<circle cx="829.35" cy="751.58" r="4.3"/>
<circle cx="823.1" cy="716.14" r="4.3"/>
<circle cx="821.47" cy="687.52" r="4.3"/>
<circle cx="854.23" cy="668.69" r="4.3"/>
<circle cx="829.07" cy="837.67" r="4.3"/>
<circle cx="821.97" cy="779.83" r="4.3"/>
<circle cx="829.96" cy="624.92" r="4.3"/>
<circle cx="828.71" cy="821.95" r="4.3"/>
<circle cx="828.76" cy="674.55" r="4.3"/>
<circle cx="818.09" cy="674.74" r="4.3"/>
<circle cx="827.3" cy="720.97" r="4.3"/>
<circle cx="822.8" cy="685.95" r="4.3"/>
<circle cx="833.19" cy="678.8" r="4.3"/>
<circle cx="827.57" cy="819.17" r="4.3"/>
<circle cx="830.87" cy="637.25" r="4.3"/>
<circle cx="829.51" cy="665.12" r="4.3"/>
<circle cx="836.17" cy="741.17" r="4.3"/>
<circle cx="825.86" cy="803.26" r="4.3"/>
<circle cx="829.26" cy="659.94" r="4.3"/>
<circle cx="824.53" cy="752.75" r="4.3"/>
<circle cx="846.59" cy="788.99" r="4.3"/>
<circle cx="834.35" cy="649.06" r="4.3"/>
<circle cx="813.21" cy="796.43" r="4.3"/>
<circle cx="828.91" cy="747.43" r="4.3"/>
<circle cx="843.18" cy="648.98" r="4.3"/>
<circle cx="826.57" cy="748.12" r="4.3"/>
<circle cx="836.95" cy="761.81" r="4.3"/>
<circle cx="836.37" cy="781.5" r="4.3"/>
<circle cx="820.11" cy="759.7" r="4.3"/>
<circle cx="832.19" cy="709.55" r="4.3"/>
<circle cx="821.24" cy="712.07" r="4.3"/>
<circle cx="830.7" cy="625.09" r="4.3"/>
<circle cx="825.59" cy="736.95" r="4.3"/>
<circle cx="822.78" cy="709.82" r="4.3"/>
<circle cx="830.09" cy="689.71" r="4.3"/>
<circle cx="837.29" cy="696.1" r="4.3"/>
<circle cx="832.22" cy="726.39" r="4.3"/>
<circle cx="842.77" cy="759.5" r="4.3"/>
<circle cx="833.11" cy="771.34" r="4.3"/>
<circle cx="823.54" cy="725.13" r="4.3"/>
<circle cx="837.32" cy="714.31" r="4.3"/>
<circle cx="827.41" cy="748.69" r="4.3"/>
<circle cx="816.81" cy="654.52" r="4.3"/>
<circle cx="840.51" cy="754.44" r="4.3"/>
<circle cx="818.29" cy="757.6" r="4.3"/>
<circle cx="833.06" cy="722.15" r="4.3"/>
<circle cx="834.21" cy="679.51" r="4.3"/>
<circle cx="823.27" cy="722.9" r="4.3"/>
<circle cx="838.51" cy="659.97" r="4.3"/>
<circle cx="822.78" cy="756.55" r="4.3"/>
<circle cx="839.24" cy="673.73" r="4.3"/>
<circle cx="828.18" cy="771.01" r="4.3"/>
<circle cx="827.02" cy="831.23" r="4.3"/>
<circle cx="841.11" cy="671.2" r="4.3"/>
<circle cx="834.2" cy="723.63" r="4.3"/>
<circle cx="821.73" cy="737.3" r="4.3"/>
<circle cx="829.2" cy="663.31" r="4.3"/>
<circle cx="822.16" cy="819.88" r="4.3"/>
<circle cx="830.5" cy="817.04" r="4.3"/>
<circle cx="833.47" cy="667.85" r="4.3"/>
<circle cx="822.68" cy="769.25" r="4.3"/>
<circle cx="831.43" cy="606.43" r="4.3"/>
<circle cx="835.08" cy="668.01" r="4.3"/>
<circle cx="828.03" cy="619.62" r="4.3"/>
<circle cx="817.31" cy="686.16" r="4.3"/>
<circle cx="832.58" cy="720.45" r="4.3"/>
<circle cx="820.08" cy="701.39" r="4.3"/>
<circle cx="814.83" cy="747.81" r="4.3"/>
<circle cx="835.53" cy="767.27" r="4.3"/>
<circle cx="835.02" cy="836.18" r="4.3"/>
<circle cx="833.44" cy="756.39" r="4.3"/>
<circle cx="818.75" cy="736.66" r="4.3"/>
<circle cx="832.58" cy="823.18" r="4.3"/>
<circle cx="820.42" cy="717.75" r="4.3"/>
<circle cx="832.62" cy="824.45" r="4.3"/>
<circle cx="837.2" cy="663.57" r="4.3"/>
<circle cx="828.85" cy="849.23" r="4.3"/>
<circle cx="827.16" cy="759.11" r="4.3"/>
<circle cx="840.91" cy="697.13" r="4.3"/>
<circle cx="829.86" cy="742.03" r="4.3"/>
<circle cx="828.19" cy="782.79" r="4.3"/>
<circle cx="838.65" cy="778.89" r="4.3"/>
<circle cx="821.1" cy="673.8" r="4.3"/>
<circle cx="838.68" cy="730.54" r="4.3"/>
<circle cx="842.45" cy="751.69" r="4.3"/>
<circle cx="835.55" cy="652.13" r="4.3"/>
<circle cx="831.92" cy="697.54" r="4.3"/>
<circle cx="822.05" cy="754.37" r="4.3"/>
<circle cx="820.27" cy="721.23" r="4.3"/>
<circle cx="823.16" cy="751.01" r="4.3"/>
<circle cx="833.02" cy="705.28" r="4.3"/>
<circle cx="841.59" cy="695.7" r="4.3"/>
<circle cx="838.83" cy="696.66" r="4.3"/>
<circle cx="821.47" cy="752.02" r="4.3"/>
<circle cx="823.29" cy="721.88" r="4.3"/>
<circle cx="828.5" cy="713.25" r="4.3"/>
<circle cx="826.16" cy="844.36" r="4.3"/>
<circle cx="832.03" cy="829.32" r="4.3"/>
<circle cx="837.25" cy="656.44" r="4.3"/>
<circle cx="833.87" cy="615.36" r="4.3"/>
<circle cx="834.59" cy="796.82" r="4.3"/>
<circle cx="828.69" cy="722.41" r="4.3"/>
<circle cx="828.21" cy="750.57" r="4.3"/>
<circle cx="827.59" cy="702.86" r="4.3"/>
<circle cx="825.29" cy="805.29" r="4.3"/>
<circle cx="820.4" cy="757.8" r="4.3"/>
<circle cx="818.36" cy="692.2" r="4.3"/>
<circle cx="837.28" cy="723.12" r="4.3"/>
<circle cx="826.47" cy="753.33" r="4.3"/>
<circle cx="827.81" cy="771.72" r="4.3"/>
<circle cx="833.52" cy="757.35" r="4.3"/>
<circle cx="819.02" cy="767.5" r="4.3"/>
<circle cx="830.02" cy="781.44" r="4.3"/>
<circle cx="825.93" cy="720.91" r="4.3"/>
<circle cx="832.76" cy="824.64" r="4.3"/>
<circle cx="832.45" cy="848.88" r="4.3"/>
<circle cx="837.66" cy="722.78" r="4.3"/>
<circle cx="826.9" cy="687.74" r="4.3"/>
<circle cx="828.96" cy="701.71" r="4.3"/>
<circle cx="826.58" cy="781.71" r="4.3"/>
<circle cx="826.42" cy="754.32" r="4.3"/>
<circle cx="829.09" cy="787.97" r="4.3"/>
<circle cx="821.09" cy="745.11" r="4.3"/>
<circle cx="832.99" cy="795.74" r="4.3"/>
<circle cx="835.51" cy="811.8" r="4.3"/>
<circle cx="829.63" cy="773.44" r="4.3"/>
<circle cx="828.98" cy="669.89" r="4.3"/>
<circle cx="833.3" cy="707.44" r="4.3"/>
<circle cx="816.33" cy="707.13" r="4.3"/>
<circle cx="826.69" cy="805.37" r="4.3"/>
<circle cx="839.5" cy="720.48" r="4.3"/>
<circle cx="819.87" cy="735.17" r="4.3"/>
<circle cx="829.21" cy="759.77" r="4.3"/>
<circle cx="830.34" cy="611.72" r="4.3"/>
<circle cx="824.17" cy="671.8" r="4.3"/>
<circle cx="833.75" cy="763.9" r="4.3"/>
<circle cx="850.91" cy="717.61" r="4.3"/>
<circle cx="825.37" cy="760.11" r="4.3"/>
<circle cx="829.89" cy="749.16" r="4.3"/>
<circle cx="818.25" cy="640.66" r="4.3"/>
<circle cx="827.76" cy="858.64" r="4.3"/>
<circle cx="825.82" cy="718.46" r="4.3"/>
<circle cx="831.26" cy="793.72" r="4.3"/>
<circle cx="834.33" cy="837.09" r="4.3"/>
<circle cx="828.21" cy="833.43" r="4.3"/>
<circle cx="827.03" cy="757.45" r="4.3"/>
<circle cx="815.14" cy="724.9" r="4.3"/>
<circle cx="822.28" cy="700.23" r="4.3"/>
<circle cx="842.15" cy="696.02" r="4.3"/>
<circle cx="842.23" cy="750.65" r="4.3"/>
<circle cx="839.43" cy="786.31" r="4.3"/>
<circle cx="825.46" cy="795.05" r="4.3"/>
<circle cx="828.05" cy="782.96" r="4.3"/>
<circle cx="841.94" cy="703.29" r="4.3"/>
<circle cx="846.91" cy="676.53" r="4.3"/>
<circle cx="823.24" cy="784.66" r="4.3"/>
<circle cx="834.4" cy="751.33" r="4.3"/>
<circle cx="827.73" cy="757.43" r="4.3"/>
<circle cx="831.29" cy="658.19" r="4.3"/>
<circle cx="838.19" cy="786.48" r="4.3"/>
<circle cx="841.09" cy="774.49" r="4.3"/>
<circle cx="830.61" cy="675.77" r="4.3"/>
<circle cx="840.14" cy="755.34" r="4.3"/>
<circle cx="835.74" cy="744.32" r="4.3"/>
<circle cx="850.21" cy="742.98" r="4.3"/>
<circle cx="853.66" cy="733.53" r="4.3"/>
<circle cx="814.23" cy="749.08" r="4.3"/>
<circle cx="817.88" cy="742.99" r="4.3"/>
<circle cx="833.06" cy="694.43" r="4.3"/>
<circle cx="832.12" cy="837.37" r="4.3"/>
<circle cx="840.32" cy="774.93" r="4.3"/>
<circle cx="823.16" cy="746.97" r="4.3"/>
<circle cx="834.08" cy="729.15" r="4.3"/>
<circle cx="824.89" cy="718.48" r="4.3"/>
<circle cx="817.26" cy="713.57" r="4.3"/>
<circle cx="830.17" cy="673.82" r="4.3"/>
<circle cx="831.34" cy="713.46" r="4.3"/>
<circle cx="831.02" cy="818.81" r="4.3"/>
<circle cx="820.27" cy="733.08" r="4.3"/>
<circle cx="834.43" cy="670.65" r="4.3"/>
<circle cx="834.93" cy="682.88" r="4.3"/>
<circle cx="832.23" cy="670.92" r="4.3"/>
<circle cx="840.11" cy="730.65" r="4.3"/>
<circle cx="827.6" cy="711.59" r="4.3"/>
<circle cx="831.5" cy="749.67" r="4.3"/>
<circle cx="827.27" cy="835.81" r="4.3"/>
<circle cx="828.08" cy="702.99" r="4.3"/>
<circle cx="833.14" cy="763.29" r="4.3"/>
<circle cx="818.35" cy="776.37" r="4.3"/>
<circle cx="828.79" cy="844.79" r="4.3"/>
<circle cx="832.42" cy="662.87" r="4.3"/>
<circle cx="831.12" cy="759.77" r="4.3"/>
<circle cx="835.19" cy="646.81" r="4.3"/>
<circle cx="835.96" cy="817.44" r="4.3"/>
<circle cx="843.63" cy="645.15" r="4.3"/>
<circle cx="827.7" cy="789.06" r="4.3"/>
<circle cx="844.87" cy="764.95" r="4.3"/>
<circle cx="830.86" cy="715.21" r="4.3"/>
<circle cx="841.57" cy="701.63" r="4.3"/>
<circle cx="838.56" cy="606.51" r="4.3"/>
<circle cx="839.47" cy="677.28" r="4.3"/>
<circle cx="822.69" cy="638.04" r="4.3"/>
<circle cx="838.57" cy="699.35" r="4.3"/>
<circle cx="833.06" cy="638.28" r="4.3"/>
<circle cx="842.35" cy="697.09" r="4.3"/>
<circle cx="835.44" cy="716.44" r="4.3"/>
<circle cx="847.39" cy="724.75" r="4.3"/>
<circle cx="830.77" cy="713.52" r="4.3"/>
<circle cx="829.52" cy="853.36" r="4.3"/>
<circle cx="824.26" cy="775.93" r="4.3"/>
<circle cx="831.96" cy="746.91" r="4.3"/>
<circle cx="817.26" cy="696.42" r="4.3"/>
<circle cx="841.44" cy="650.52" r="4.3"/>
<circle cx="817.14" cy="760.45" r="4.3"/>
<circle cx="824.31" cy="843.22" r="4.3"/>
<circle cx="833.25" cy="712.99" r="4.3"/>
<circle cx="816.22" cy="667.17" r="4.3"/>
<circle cx="841.8" cy="690.52" r="4.3"/>
<circle cx="816.56" cy="791.78" r="4.3"/>
<circle cx="831.31" cy="806.82" r="4.3"/>
<circle cx="831.47" cy="764.86" r="4.3"/>
<circle cx="821.86" cy="759.67" r="4.3"/>
<circle cx="824.57" cy="680.76" r="4.3"/>
<circle cx="836.66" cy="713.02" r="4.3"/>
<circle cx="845.57" cy="662.45" r="4.3"/>
<circle cx="825.62" cy="697.27" r="4.3"/>
<circle cx="834.97" cy="776.95" r="4.3"/>
<circle cx="821.22" cy="714.78" r="4.3"/>
<circle cx="816.39" cy="675.33" r="4.3"/>
<circle cx="840.9" cy="803.22" r="4.3"/>
<circle cx="832.36" cy="846.46" r="4.3"/>
<circle cx="837.92" cy="754.85" r="4.3"/>
<circle cx="828.63" cy="791.75" r="4.3"/>
<circle cx="850.69" cy="756.02" r="4.3"/>
<circle cx="819.53" cy="633.94" r="4.3"/>
<circle cx="837.89" cy="677.53" r="4.3"/>
<circle cx="827.9" cy="805.89" r="4.3"/>
<circle cx="830.56" cy="775.08" r="4.3"/>
<circle cx="826.06" cy="752.9" r="4.3"/>
<circle cx="830.96" cy="733.38" r="4.3"/>
<circle cx="851.41" cy="802.5" r="4.3"/>
<circle cx="832.59" cy="626.68" r="4.3"/>
<circle cx="839.85" cy="734.71" r="4.3"/>
<circle cx="838.14" cy="798.36" r="4.3"/>
<circle cx="822.31" cy="783.27" r="4.3"/>
<circle cx="840.25" cy="633.21" r="4.3"/>
<circle cx="822.29" cy="807.16" r="4.3"/>
<circle cx="833.49" cy="812.04" r="4.3"/>
<circle cx="821.97" cy="788.68" r="4.3"/>
<circle cx="824.77" cy="804.61" r="4.3"/>
<circle cx="816.86" cy="690.62" r="4.3"/>
<circle cx="840.31" cy="722.06" r="4.3"/>
<circle cx="813.98" cy="694.91" r="4.3"/>
<circle cx="833.65" cy="845.2" r="4.3"/>
<circle cx="819.91" cy="702.89" r="4.3"/>
<circle cx="832.77" cy="637.13" r="4.3"/>
<circle cx="821.85" cy="812.62" r="4.3"/>
<circle cx="828.46" cy="734.98" r="4.3"/>
<circle cx="835.59" cy="719.68" r="4.3"/>
<circle cx="824.7" cy="859.99" r="4.3"/>
<circle cx="840.97" cy="785.77" r="4.3"/>
<circle cx="829.64" cy="718.02" r="4.3"/>
<circle cx="840.87" cy="654.85" r="4.3"/>
<circle cx="825.01" cy="703.27" r="4.3"/>
<circle cx="823.14" cy="739.02" r="4.3"/>
<circle cx="828.27" cy="672.71" r="4.3"/>
<circle cx="827.61" cy="823.85" r="4.3"/>
<circle cx="817.57" cy="766.5" r="4.3"/>
<circle cx="841.27" cy="618.6" r="4.3"/>
<circle cx="816.91" cy="711.2" r="4.3"/>
<circle cx="836.56" cy="728.67" r="4.3"/>
<circle cx="823.05" cy="631.76" r="4.3"/>
<circle cx="822.55" cy="750.51" r="4.3"/>
<circle cx="839.81" cy="782.65" r="4.3"/>
<circle cx="827.06" cy="761.47" r="4.3"/>
<circle cx="825.2" cy="732.22" r="4.3"/>
<circle cx="833.91" cy="727.2" r="4.3"/>
<circle cx="839.92" cy="717.04" r="4.3"/>
<circle cx="834.15" cy="702.27" r="4.3"/>
<circle cx="836.91" cy="784.24" r="4.3"/>
<circle cx="826.6" cy="720.76" r="4.3"/>
<circle cx="836.73" cy="795.09" r="4.3"/>
<circle cx="823.63" cy="765.32" r="4.3"/>
<circle cx="838.29" cy="772.81" r="4.3"/>
<circle cx="836.93" cy="723.92" r="4.3"/>
<circle cx="833.1" cy="622.61" r="4.3"/>
<circle cx="818.48" cy="664.87" r="4.3"/>
<circle cx="836.01" cy="720.91" r="4.3"/>
<circle cx="820.3" cy="738.11" r="4.3"/>
<circle cx="825.89" cy="648.82" r="4.3"/>
<circle cx="823.38" cy="735.82" r="4.3"/>
<circle cx="847.12" cy="644.9" r="4.3"/>
<circle cx="829.56" cy="684.72" r="4.3"/>
<circle cx="825.62" cy="702.13" r="4.3"/>
<circle cx="828.26" cy="737.41" r="4.3"/>
<circle cx="820.11" cy="772.13" r="4.3"/>
<circle cx="848.92" cy="645.87" r="4.3"/>
<circle cx="838.06" cy="730.49" r="4.3"/>
<circle cx="836.09" cy="805.78" r="4.3"/>
<circle cx="816.7" cy="737.19" r="4.3"/>
<circle cx="835.63" cy="638.91" r="4.3"/>
<circle cx="836.24" cy="775.64" r="4.3"/>
<circle cx="814.55" cy="635.43" r="4.3"/>
<circle cx="820.13" cy="671.59" r="4.3"/>
<circle cx="821.6" cy="744.57" r="4.3"/>
<circle cx="824.78" cy="830.03" r="4.3"/>
<circle cx="838.95" cy="701.26" r="4.3"/>
<circle cx="822.72" cy="754.73" r="4.3"/>
<circle cx="848.7" cy="784.36" r="4.3"/>
<circle cx="828.71" cy="661.25" r="4.3"/>
<circle cx="813.11" cy="670.26" r="4.3"/>
<circle cx="837.43" cy="772.67" r="4.3"/>
<circle cx="834.95" cy="793.6" r="4.3"/>
<circle cx="828.82" cy="613.83" r="4.3"/>
<circle cx="820.15" cy="694.8" r="4.3"/>
<circle cx="838.06" cy="668.42" r="4.3"/>
<circle cx="849.13" cy="717.16" r="4.3"/>
<circle cx="813.39" cy="763.34" r="4.3"/>
<circle cx="842.53" cy="788.84" r="4.3"/>
<circle cx="819.81" cy="736.89" r="4.3"/>
<circle cx="820.07" cy="841.54" r="4.3"/>
<circle cx="813.4" cy="729.95" r="4.3"/>
<circle cx="815.3" cy="659.4" r="4.3"/>
<circle cx="841.89" cy="800.67" r="4.3"/>
<circle cx="818.47" cy="710.56" r="4.3"/>
<circle cx="834.5" cy="731.37" r="4.3"/>
<circle cx="820.29" cy="642.92" r="4.3"/>
<circle cx="837.51" cy="728.81" r="4.3"/>
<circle cx="835.16" cy="739.5" r="4.3"/>
<circle cx="833.89" cy="659.57" r="4.3"/>
<circle cx="829.85" cy="679.56" r="4.3"/>
<circle cx="835.45" cy="712.2" r="4.3"/>
<circle cx="844.38" cy="688.32" r="4.3"/>
<circle cx="835.9" cy="736.88" r="4.3"/>
<circle cx="840.62" cy="773.07" r="4.3"/>
<circle cx="814.77" cy="759.44" r="4.3"/>
<circle cx="848.26" cy="696.94" r="4.3"/>
<circle cx="836.2" cy="763.62" r="4.3"/>
<circle cx="825.05" cy="763.3" r="4.3"/>
<circle cx="825" cy="693.93" r="4.3"/>
<circle cx="834.38" cy="805.18" r="4.3"/>
<circle cx="832.41" cy="842.88" r="4.3"/>
<circle cx="832.13" cy="849.66" r="4.3"/>
<circle cx="847.18" cy="663.23" r="4.3"/>
<circle cx="842.08" cy="755.48" r="4.3"/>
<circle cx="827.96" cy="748.03" r="4.3"/>
<circle cx="820.56" cy="745.3" r="4.3"/>
<circle cx="822.73" cy="662.42" r="4.3"/>
<circle cx="818.37" cy="703.12" r="4.3"/>
<circle cx="833.84" cy="728.73" r="4.3"/>
<circle cx="841.64" cy="858.31" r="4.3"/>
<circle cx="839.24" cy="731.97" r="4.3"/>
<circle cx="834.64" cy="721.67" r="4.3"/>
<circle cx="825.96" cy="732.94" r="4.3"/>
<circle cx="817.2" cy="739.6" r="4.3"/>
<circle cx="828.3" cy="761.79" r="4.3"/>
<circle cx="827.64" cy="669.04" r="4.3"/>
<circle cx="824.66" cy="768.75" r="4.3"/>
<circle cx="836.32" cy="763.96" r="4.3"/>
<circle cx="821.52" cy="830.03" r="4.3"/>
<circle cx="835.78" cy="728.23" r="4.3"/>
<circle cx="830.81" cy="826.53" r="4.3"/>
<circle cx="817.28" cy="781.01" r="4.3"/>
<circle cx="846.54" cy="699.37" r="4.3"/>
<circle cx="851.23" cy="717.64" r="4.3"/>
<circle cx="828.4" cy="690.54" r="4.3"/>
<circle cx="833.39" cy="637.61" r="4.3"/>
<circle cx="849.9" cy="751.16" r="4.3"/>
<circle cx="828.65" cy="745.11" r="4.3"/>
<circle cx="830.23" cy="648.9" r="4.3"/>
<circle cx="837.94" cy="792.88" r="4.3"/>
<circle cx="834.97" cy="810.1" r="4.3"/>
<circle cx="836.67" cy="732.16" r="4.3"/>
<circle cx="818.51" cy="745.56" r="4.3"/>
<circle cx="831.59" cy="839.77" r="4.3"/>
<circle cx="834.61" cy="670.65" r="4.3"/>
<circle cx="840.35" cy="752.63" r="4.3"/>
<circle cx="832.84" cy="823.47" r="4.3"/>
<circle cx="822.44" cy="828.79" r="4.3"/>
<circle cx="830.93" cy="621.11" r="4.3"/>
<circle cx="834.29" cy="755.61" r="4.3"/>
<circle cx="826.61" cy="666.95" r="4.3"/>
<circle cx="838" cy="746.95" r="4.3"/>
<circle cx="825.33" cy="753.04" r="4.3"/>
<circle cx="829.76" cy="800.94" r="4.3"/>
<circle cx="821.7" cy="728.27" r="4.3"/>
<circle cx="814.13" cy="780.09" r="4.3"/>
<circle cx="832.14" cy="741.66" r="4.3"/>
<circle cx="843.28" cy="753.44" r="4.3"/>
<circle cx="831.89" cy="728.92" r="4.3"/>
<circle cx="816.4" cy="787.64" r="4.3"/>
<circle cx="831.64" cy="717.04" r="4.3"/>
<circle cx="823.46" cy="793.75" r="4.3"/>
<circle cx="834.62" cy="784.44" r="4.3"/>
<circle cx="817.06" cy="643.52" r="4.3"/>
<circle cx="832.32" cy="646.86" r="4.3"/>
<circle cx="837.82" cy="747.72" r="4.3"/>
<circle cx="825.79" cy="785.53" r="4.3"/>
<circle cx="838.73" cy="800.84" r="4.3"/>
<circle cx="835.52" cy="764.05" r="4.3"/>
<circle cx="834.41" cy="655.78" r="4.3"/>
<circle cx="819.75" cy="671.39" r="4.3"/>
<circle cx="832.32" cy="713.46" r="4.3"/>
<circle cx="827.88" cy="731.71" r="4.3"/>
<circle cx="832.76" cy="673.37" r="4.3"/>
<circle cx="817.7" cy="689.33" r="4.3"/>
<circle cx="844.73" cy="740.76" r="4.3"/>
<circle cx="820.97" cy="710.05" r="4.3"/>
<circle cx="840.92" cy="820.36" r="4.3"/>
<circle cx="829.01" cy="716.87" r="4.3"/>
<circle cx="832.26" cy="748.06" r="4.3"/>
<circle cx="835.19" cy="796.33" r="4.3"/>
<circle cx="821.32" cy="622.75" r="4.3"/>
<circle cx="835.09" cy="658.96" r="4.3"/>
<circle cx="847.92" cy="741.56" r="4.3"/>
<circle cx="833.92" cy="718.32" r="4.3"/>
<circle cx="832.32" cy="739.64" r="4.3"/>
<circle cx="844.92" cy="752.58" r="4.3"/>
<circle cx="824.77" cy="815.13" r="4.3"/>
<circle cx="827.4" cy="777.34" r="4.3"/>
<circle cx="832.5" cy="741.78" r="4.3"/>
<circle cx="826.56" cy="736.3" r="4.3"/>
<circle cx="827.15" cy="831.17" r="4.3"/>
<circle cx="846.9" cy="778.41" r="4.3"/>
<circle cx="840.72" cy="773.69" r="4.3"/>
<circle cx="836.59" cy="820.82" r="4.3"/>
<circle cx="819.04" cy="841.23" r="4.3"/>
<circle cx="829.19" cy="856.06" r="4.3"/>
<circle cx="824.53" cy="626.95" r="4.3"/>
<circle cx="830.79" cy="648.78" r="4.3"/>
<circle cx="821.47" cy="642.9" r="4.3"/>
<circle cx="832.49" cy="753.29" r="4.3"/>
<circle cx="828.78" cy="685.67" r="4.3"/>
<circle cx="831.71" cy="728.88" r="4.3"/>
<circle cx="828.9" cy="734.57" r="4.3"/>
<circle cx="815.77" cy="789.36" r="4.3"/>
<circle cx="832.27" cy="704.45" r="4.3"/>
<circle cx="825.76" cy="710.18" r="4.3"/>
<circle cx="832.98" cy="707.94" r="4.3"/>
<circle cx="827.7" cy="812.08" r="4.3"/>
<circle cx="834.38" cy="718.45" r="4.3"/>
<circle cx="833.54" cy="720" r="4.3"/>
<circle cx="825.57" cy="711.63" r="4.3"/>
<circle cx="831.42" cy="773.92" r="4.3"/>
<circle cx="814.67" cy="700.04" r="4.3"/>
<circle cx="829.89" cy="735.86" r="4.3"/>
<circle cx="833.12" cy="762.14" r="4.3"/>
<circle cx="818.99" cy="705.36" r="4.3"/>
<circle cx="829.68" cy="667.17" r="4.3"/>
<circle cx="838.17" cy="663.82" r="4.3"/>
<circle cx="813.99" cy="652.81" r="4.3"/>
<circle cx="814.15" cy="722.99" r="4.3"/>
<circle cx="822.06" cy="835.87" r="4.3"/>
<circle cx="828.68" cy="731.79" r="4.3"/>
<circle cx="814.21" cy="684.17" r="4.3"/>
<circle cx="835.05" cy="619.64" r="4.3"/>
<circle cx="851.55" cy="798.3" r="4.3"/>
<circle cx="836.32" cy="644.35" r="4.3"/>
<circle cx="839.03" cy="734.13" r="4.3"/>
<circle cx="837.85" cy="703.15" r="4.3"/>
<circle cx="836.76" cy="790.53" r="4.3"/>
<circle cx="827.78" cy="824.68" r="4.3"/>
<circle cx="824.1" cy="830.71" r="4.3"/>
<circle cx="829.09" cy="838.36" r="4.3"/>
<circle cx="831.02" cy="685.37" r="4.3"/>
<circle cx="837.82" cy="798.94" r="4.3"/>
<circle cx="847.17" cy="740.89" r="4.3"/>
<circle cx="823.26" cy="643.49" r="4.3"/>
<circle cx="831.3" cy="828.62" r="4.3"/>
<circle cx="831.39" cy="606.38" r="4.3"/>
<circle cx="845.04" cy="661.58" r="4.3"/>
<circle cx="825.8" cy="805.92" r="4.3"/>
<circle cx="823.17" cy="815.2" r="4.3"/>
<circle cx="836.5" cy="792.05" r="4.3"/>
<circle cx="817.49" cy="727.13" r="4.3"/>
<circle cx="825.65" cy="717.66" r="4.3"/>
<circle cx="837.51" cy="620.27" r="4.3"/>
<circle cx="836.55" cy="675.08" r="4.3"/>
<circle cx="826.19" cy="757.87" r="4.3"/>
<circle cx="831.63" cy="782.96" r="4.3"/>
<circle cx="835.56" cy="695.01" r="4.3"/>
<circle cx="825.38" cy="794.55" r="4.3"/>
<circle cx="830.6" cy="647.4" r="4.3"/>
<circle cx="829.05" cy="631.33" r="4.3"/>
<circle cx="845.34" cy="782.8" r="4.3"/>
<circle cx="832.87" cy="751.44" r="4.3"/>
<circle cx="844.3" cy="781.49" r="4.3"/>
<circle cx="819.33" cy="715.21" r="4.3"/>
<circle cx="819.04" cy="685.92" r="4.3"/>
<circle cx="829.85" cy="679.89" r="4.3"/>
<circle cx="832.48" cy="756.26" r="4.3"/>
<circle cx="827.61" cy="739.33" r="4.3"/>
<circle cx="839.41" cy="761.25" r="4.3"/>
<circle cx="845.23" cy="782.1" r="4.3"/>
<circle cx="828.61" cy="717.01" r="4.3"/>
<circle cx="830.41" cy="840.06" r="4.3"/>
<circle cx="827.81" cy="760.6" r="4.3"/>
<circle cx="827.18" cy="795.07" r="4.3"/>
<circle cx="830.42" cy="672.53" r="4.3"/>
<circle cx="838.92" cy="707.58" r="4.3"/>
<circle cx="832.17" cy="711.58" r="4.3"/>
<circle cx="834.23" cy="721.54" r="4.3"/>
<circle cx="841.49" cy="695.92" r="4.3"/>
<circle cx="827.34" cy="646.72" r="4.3"/>
<circle cx="837.15" cy="691.07" r="4.3"/>
<circle cx="835.61" cy="737.48" r="4.3"/>
<circle cx="824.18" cy="714.54" r="4.3"/>
<circle cx="827.83" cy="665.59" r="4.3"/>
<circle cx="833.66" cy="701.8" r="4.3"/>
<circle cx="840.28" cy="757" r="4.3"/>
<circle cx="1096.12" cy="779.5" r="4.3"/>
<circle cx="1108.74" cy="663.35" r="4.3"/>
<circle cx="1149.58" cy="705.86" r="4.3"/>
<circle cx="1135.33" cy="802.91" r="4.3"/>
<circle cx="1097.11" cy="768.95" r="4.3"/>
<circle cx="1149.67" cy="793.38" r="4.3"/>
<circle cx="1116.82" cy="812.14" r="4.3"/>
<circle cx="1054.4" cy="822.94" r="4.3"/>
<circle cx="1055" cy="802.04" r="4.3"/>
<circle cx="1104.06" cy="755.19" r="4.3"/>
<circle cx="1106.51" cy="788.88" r="4.3"/>
<circle cx="1127.87" cy="812.59" r="4.3"/>
<circle cx="1144.82" cy="739.94" r="4.3"/>
<circle cx="1107.32" cy="663.42" r="4.3"/>
<circle cx="1003" cy="829.4" r="4.3"/>
<circle cx="1087.59" cy="801.9" r="4.3"/>
<circle cx="1084.98" cy="823.14" r="4.3"/>
<circle cx="1085.22" cy="817.11" r="4.3"/>
<circle cx="1105.87" cy="761.44" r="4.3"/>
<circle cx="1120.1" cy="779.38" r="4.3"/>
<circle cx="1102.61" cy="707.41" r="4.3"/>
<circle cx="1103.66" cy="775.65" r="4.3"/>
<circle cx="1130.59" cy="707.99" r="4.3"/>
<circle cx="1174.15" cy="742.75" r="4.3"/>
<circle cx="1061.11" cy="791.49" r="4.3"/>
<circle cx="1169.46" cy="785.91" r="4.3"/>
<circle cx="1106.15" cy="807.54" r="4.3"/>
<circle cx="1140.89" cy="699.41" r="4.3"/>
<circle cx="1122.51" cy="775.43" r="4.3"/>
<circle cx="1129.57" cy="773.16" r="4.3"/>
<circle cx="1108.12" cy="743.95" r="4.3"/>
<circle cx="1109.22" cy="816.49" r="4.3"/>
<circle cx="1132.45" cy="823.02" r="4.3"/>
<circle cx="1142.13" cy="779.98" r="4.3"/>
<circle cx="1128.67" cy="750.75" r="4.3"/>
<circle cx="1114.24" cy="761.67" r="4.3"/>
<circle cx="1110.82" cy="765.96" r="4.3"/>
<circle cx="1092.95" cy="821.34" r="4.3"/>
<circle cx="1083.82" cy="712.14" r="4.3"/>
<circle cx="1012.32" cy="821.89" r="4.3"/>
<circle cx="1089.15" cy="773.48" r="4.3"/>
<circle cx="1102.09" cy="862.7" r="4.3"/>
<circle cx="1087.73" cy="711.43" r="4.3"/>
<circle cx="1059.16" cy="745.64" r="4.3"/>
<circle cx="1112.5" cy="737.47" r="4.3"/>
<circle cx="994.39" cy="859.41" r="4.3"/>
<circle cx="1125.49" cy="794.61" r="4.3"/>
<circle cx="1079.61" cy="843.1" r="4.3"/>
<circle cx="1092.93" cy="728.74" r="4.3"/>
<circle cx="1077.53" cy="706.06" r="4.3"/>
<circle cx="1100.85" cy="757.77" r="4.3"/>
<circle cx="1073.78" cy="775.9" r="4.3"/>
<circle cx="1154.87" cy="689.2" r="4.3"/>
<circle cx="1096.64" cy="719.31" r="4.3"/>
<circle cx="1125.67" cy="804.05" r="4.3"/>
<circle cx="1113.23" cy="788.49" r="4.3"/>
<circle cx="1130.5" cy="741.2" r="4.3"/>
<circle cx="1073.02" cy="832.8" r="4.3"/>
<circle cx="1093.94" cy="782.21" r="4.3"/>
<circle cx="1051.73" cy="655.57" r="4.3"/>
<circle cx="1053.72" cy="708.02" r="4.3"/>
<circle cx="1129.35" cy="847.94" r="4.3"/>
<circle cx="1114.91" cy="700.08" r="4.3"/>
<circle cx="1070.67" cy="797.75" r="4.3"/>
<circle cx="1095.71" cy="815.17" r="4.3"/>
<circle cx="1118.33" cy="838.28" r="4.3"/>
<circle cx="1094.96" cy="676.27" r="4.3"/>
<circle cx="1146.5" cy="678.52" r="4.3"/>
<circle cx="1082.23" cy="825.43" r="4.3"/>
<circle cx="1078.3" cy="787.78" r="4.3"/>
<circle cx="1105.18" cy="758.13" r="4.3"/>
<circle cx="1095.11" cy="662.8" r="4.3"/>
<circle cx="1081.58" cy="781.41" r="4.3"/>
<circle cx="1113.81" cy="771.16" r="4.3"/>
<circle cx="1094.99" cy="735.31" r="4.3"/>
<circle cx="1157.33" cy="813.3" r="4.3"/>
<circle cx="1114.91" cy="850.36" r="4.3"/>
<circle cx="1080.98" cy="827.79" r="4.3"/>
<circle cx="1087.79" cy="767.48" r="4.3"/>
<circle cx="1097.48" cy="711.93" r="4.3"/>
<circle cx="1141.53" cy="796.06" r="4.3"/>
<circle cx="1072.57" cy="702.9" r="4.3"/>
<circle cx="1112.62" cy="726.96" r="4.3"/>
<circle cx="1109.63" cy="742.72" r="4.3"/>
<circle cx="1072.39" cy="614.68" r="4.3"/>
<circle cx="1081.75" cy="842.2" r="4.3"/>
<circle cx="1106.26" cy="772.15" r="4.3"/>
<circle cx="1149.29" cy="725.3" r="4.3"/>
<circle cx="1122.46" cy="728.11" r="4.3"/>
<circle cx="1092.04" cy="701.51" r="4.3"/>
<circle cx="1123.17" cy="754.82" r="4.3"/>
<circle cx="1089.63" cy="808.36" r="4.3"/>
<circle cx="1088.14" cy="850.29" r="4.3"/>
<circle cx="1155.53" cy="713.53" r="4.3"/>
<circle cx="1062.05" cy="799.3" r="4.3"/>
<circle cx="1157.79" cy="794.04" r="4.3"/>
<circle cx="1082.31" cy="806.68" r="4.3"/>
<circle cx="1107.25" cy="826.16" r="4.3"/>
<circle cx="1156.7" cy="840.95" r="4.3"/>
<circle cx="1100.63" cy="805.07" r="4.3"/>
<circle cx="1116.12" cy="711.35" r="4.3"/>
<circle cx="1120.2" cy="844" r="4.3"/>
<circle cx="1113.39" cy="747.97" r="4.3"/>
<circle cx="1096.33" cy="671.4" r="4.3"/>
<circle cx="1122.16" cy="765.24" r="4.3"/>
<circle cx="1128.32" cy="752.86" r="4.3"/>
<circle cx="1124.82" cy="797.79" r="4.3"/>
<circle cx="1076.36" cy="807.14" r="4.3"/>
<circle cx="1086.14" cy="745.67" r="4.3"/>
<circle cx="1109.75" cy="717.82" r="4.3"/>
<circle cx="1093.29" cy="779.2" r="4.3"/>
<circle cx="1152.69" cy="841.85" r="4.3"/>
<circle cx="1117.16" cy="812.2" r="4.3"/>
<circle cx="1083.15" cy="814.77" r="4.3"/>
<circle cx="1122.4" cy="745.79" r="4.3"/>
<circle cx="1101.37" cy="732.46" r="4.3"/>
<circle cx="1183.77" cy="777.2" r="4.3"/>
<circle cx="1098.46" cy="842.02" r="4.3"/>
<circle cx="1143.23" cy="820.69" r="4.3"/>
<circle cx="1043.53" cy="674.68" r="4.3"/>
<circle cx="1178.76" cy="659.77" r="4.3"/>
<circle cx="1094.13" cy="766.12" r="4.3"/>
<circle cx="1075.36" cy="766.56" r="4.3"/>
<circle cx="1124.69" cy="803.92" r="4.3"/>
<circle cx="1118.41" cy="804.66" r="4.3"/>
<circle cx="1102.85" cy="798.82" r="4.3"/>
<circle cx="1108.57" cy="825.85" r="4.3"/>
<circle cx="1142.93" cy="766.9" r="4.3"/>
<circle cx="990.4" cy="756.6" r="4.3"/>
<circle cx="1123.75" cy="820.79" r="4.3"/>
<circle cx="1114.59" cy="710.95" r="4.3"/>
<circle cx="1128.21" cy="824.03" r="4.3"/>
<circle cx="1054.48" cy="652.81" r="4.3"/>
<circle cx="1105.18" cy="774.33" r="4.3"/>
<circle cx="1093.2" cy="825.11" r="4.3"/>
<circle cx="1119.39" cy="847.35" r="4.3"/>
<circle cx="1097.42" cy="855.5" r="4.3"/>
<circle cx="1155.37" cy="785.71" r="4.3"/>
<circle cx="1115.39" cy="795.14" r="4.3"/>
<circle cx="1097.06" cy="739.93" r="4.3"/>
<circle cx="1091.64" cy="750.5" r="4.3"/>
<circle cx="1014.13" cy="810.33" r="4.3"/>
<circle cx="1016.75" cy="747.01" r="4.3"/>
<circle cx="1115.35" cy="796.21" r="4.3"/>
<circle cx="1145.63" cy="696.24" r="4.3"/>
<circle cx="1130.54" cy="804.71" r="4.3"/>
<circle cx="1108.34" cy="715.79" r="4.3"/>
<circle cx="1094.41" cy="713.14" r="4.3"/>
<circle cx="1101.41" cy="786.02" r="4.3"/>
<circle cx="1098.79" cy="813.07" r="4.3"/>
<circle cx="1115.57" cy="700.65" r="4.3"/>
<circle cx="1061.95" cy="727.71" r="4.3"/>
<circle cx="1093.72" cy="730.73" r="4.3"/>
<circle cx="1218.15" cy="814.8" r="4.3"/>
<circle cx="1142.67" cy="731.89" r="4.3"/>
<circle cx="1061.68" cy="759.37" r="4.3"/>
<circle cx="1101.11" cy="813.48" r="4.3"/>
<circle cx="1067.35" cy="813.35" r="4.3"/>
<circle cx="1101.24" cy="800.19" r="4.3"/>
<circle cx="1081.81" cy="782.44" r="4.3"/>
<circle cx="1129.71" cy="770.34" r="4.3"/>
<circle cx="1110.61" cy="834.34" r="4.3"/>
<circle cx="1136.6" cy="736.38" r="4.3"/>
<circle cx="1081.71" cy="817.05" r="4.3"/>
<circle cx="1086.92" cy="758.96" r="4.3"/>
<circle cx="1151.5" cy="778.32" r="4.3"/>
<circle cx="1057.42" cy="849.15" r="4.3"/>
<circle cx="1088.76" cy="700.61" r="4.3"/>
<circle cx="1113.37" cy="790.7" r="4.3"/>
<circle cx="1117.7" cy="695.27" r="4.3"/>
<circle cx="1131.06" cy="800.82" r="4.3"/>
<circle cx="1142.13" cy="686.75" r="4.3"/>
<circle cx="1085.3" cy="713.56" r="4.3"/>
<circle cx="1118.81" cy="744.79" r="4.3"/>
<circle cx="1062.03" cy="818.57" r="4.3"/>
<circle cx="1062.31" cy="828.1" r="4.3"/>
<circle cx="1079.48" cy="741.53" r="4.3"/>
<circle cx="1095.08" cy="722.95" r="4.3"/>
<circle cx="1096.91" cy="791.48" r="4.3"/>
<circle cx="1104.21" cy="804.84" r="4.3"/>
<circle cx="1095.19" cy="672.77" r="4.3"/>
<circle cx="1162.17" cy="755.34" r="4.3"/>
<circle cx="1124.68" cy="803.01" r="4.3"/>
<circle cx="1115.81" cy="814.29" r="4.3"/>
<circle cx="1101.56" cy="691.4" r="4.3"/>
<circle cx="1112.06" cy="790.77" r="4.3"/>
<circle cx="1089.98" cy="797.91" r="4.3"/>
<circle cx="1067.8" cy="718.84" r="4.3"/>
<circle cx="1127.58" cy="789.3" r="4.3"/>
<circle cx="1106.96" cy="599.2" r="4.3"/>
<circle cx="1106.71" cy="806.11" r="4.3"/>
<circle cx="1098.24" cy="759.9" r="4.3"/>
<circle cx="1127.41" cy="768.27" r="4.3"/>
<circle cx="1045.81" cy="741.34" r="4.3"/>
<circle cx="1047.65" cy="683.89" r="4.3"/>
<circle cx="1073.25" cy="791.95" r="4.3"/>
<circle cx="1098.06" cy="777.56" r="4.3"/>
<circle cx="1094.51" cy="783.01" r="4.3"/>
<circle cx="1081.97" cy="705.93" r="4.3"/>
<circle cx="1164.24" cy="741.15" r="4.3"/>
<circle cx="1088.37" cy="819.19" r="4.3"/>
<circle cx="1124.01" cy="667.28" r="4.3"/>
<circle cx="1082.72" cy="728.24" r="4.3"/>
<circle cx="1086.84" cy="757.88" r="4.3"/>
<circle cx="1089.4" cy="781.99" r="4.3"/>
<circle cx="1070.48" cy="707.72" r="4.3"/>
<circle cx="1079.24" cy="682.45" r="4.3"/>
<circle cx="1123.38" cy="844.79" r="4.3"/>
<circle cx="1134.82" cy="779.09" r="4.3"/>
<circle cx="1142.67" cy="847.53" r="4.3"/>
<circle cx="1100.67" cy="772.2" r="4.3"/>
<circle cx="1149.26" cy="711.46" r="4.3"/>
<circle cx="1098.62" cy="779.64" r="4.3"/>
<circle cx="1042.68" cy="826.67" r="4.3"/>
<circle cx="1089.56" cy="720.32" r="4.3"/>
<circle cx="1131.17" cy="674.94" r="4.3"/>
<circle cx="1087.72" cy="746.69" r="4.3"/>
<circle cx="1127.57" cy="800.56" r="4.3"/>
<circle cx="1103.07" cy="708.94" r="4.3"/>
<circle cx="1105.47" cy="775.48" r="4.3"/>
<circle cx="1052.73" cy="831.62" r="4.3"/>
<circle cx="1136.52" cy="819.86" r="4.3"/>
<circle cx="1098.98" cy="665.09" r="4.3"/>
<circle cx="1106.74" cy="756.82" r="4.3"/>
<circle cx="1156.81" cy="770.87" r="4.3"/>
<circle cx="1061.22" cy="754.47" r="4.3"/>
<circle cx="1108.22" cy="736.8" r="4.3"/>
<circle cx="1058.39" cy="706.24" r="4.3"/>
<circle cx="1142.08" cy="695.78" r="4.3"/>
<circle cx="1106.25" cy="751.36" r="4.3"/>
<circle cx="1096.11" cy="718.54" r="4.3"/>
<circle cx="1073.82" cy="762" r="4.3"/>
<circle cx="1172.93" cy="811.93" r="4.3"/>
<circle cx="1125.05" cy="769.71" r="4.3"/>
<circle cx="1116.97" cy="788.53" r="4.3"/>
<circle cx="1075.13" cy="719.66" r="4.3"/>
<circle cx="1056.22" cy="656.37" r="4.3"/>
<circle cx="1125.12" cy="828.89" r="4.3"/>
<circle cx="1076.86" cy="774.84" r="4.3"/>
<circle cx="1100.49" cy="803.7" r="4.3"/>
<circle cx="1098.78" cy="720.84" r="4.3"/>
<circle cx="991.13" cy="782.75" r="4.3"/>
<circle cx="1097.43" cy="817.65" r="4.3"/>
<circle cx="1094.48" cy="858.08" r="4.3"/>
<circle cx="1128.42" cy="737.75" r="4.3"/>
<circle cx="1100.49" cy="656.2" r="4.3"/>
<circle cx="1136.33" cy="723.44" r="4.3"/>
<circle cx="1095.51" cy="788.52" r="4.3"/>
<circle cx="1081.64" cy="696.54" r="4.3"/>
<circle cx="1127.61" cy="822.37" r="4.3"/>
<circle cx="1157.68" cy="688.09" r="4.3"/>
<circle cx="1097.48" cy="791.26" r="4.3"/>
<circle cx="1065.2" cy="782.48" r="4.3"/>
<circle cx="1113.92" cy="844.63" r="4.3"/>
<circle cx="1073.39" cy="705.32" r="4.3"/>
<circle cx="1083.39" cy="760.11" r="4.3"/>
<circle cx="1099.89" cy="784.96" r="4.3"/>
<circle cx="1061.33" cy="821.71" r="4.3"/>
<circle cx="1115.9" cy="786.37" r="4.3"/>
<circle cx="1079.94" cy="706.27" r="4.3"/>
<circle cx="1118.04" cy="772.76" r="4.3"/>
<circle cx="1108.3" cy="832.7" r="4.3"/>
<circle cx="1119.69" cy="790.85" r="4.3"/>
<circle cx="1090.85" cy="726.69" r="4.3"/>
<circle cx="1084.33" cy="794.09" r="4.3"/>
<circle cx="1121.44" cy="830.91" r="4.3"/>
<circle cx="1128.97" cy="800.73" r="4.3"/>
<circle cx="1096.98" cy="675.05" r="4.3"/>
<circle cx="1085.07" cy="719.83" r="4.3"/>
<circle cx="1100.87" cy="785.63" r="4.3"/>
<circle cx="1102.69" cy="755.86" r="4.3"/>
<circle cx="1079.18" cy="737.31" r="4.3"/>
<circle cx="1065.53" cy="819.31" r="4.3"/>
<circle cx="1129.53" cy="746.98" r="4.3"/>
<circle cx="1149.72" cy="736.19" r="4.3"/>
<circle cx="1083.75" cy="713.53" r="4.3"/>
<circle cx="1144.35" cy="732.97" r="4.3"/>
<circle cx="1085" cy="780.03" r="4.3"/>
<circle cx="1033.86" cy="835.21" r="4.3"/>
<circle cx="1103.15" cy="802.25" r="4.3"/>
<circle cx="1061.49" cy="815.57" r="4.3"/>
<circle cx="1070.47" cy="830.52" r="4.3"/>
<circle cx="1095.92" cy="784.98" r="4.3"/>
<circle cx="1124.36" cy="826.39" r="4.3"/>
<circle cx="1094.68" cy="803.02" r="4.3"/>
<circle cx="1106.94" cy="783.96" r="4.3"/>
<circle cx="1145.51" cy="782.32" r="4.3"/>
<circle cx="1145.85" cy="715.31" r="4.3"/>
<circle cx="1132.02" cy="800.3" r="4.3"/>
<circle cx="1074.64" cy="787.56" r="4.3"/>
<circle cx="1082.7" cy="798.58" r="4.3"/>
<circle cx="1070.88" cy="781.95" r="4.3"/>
<circle cx="1077.74" cy="772.76" r="4.3"/>
<circle cx="1105.31" cy="830.99" r="4.3"/>
<circle cx="1049.69" cy="786.32" r="4.3"/>
<circle cx="1086.19" cy="661.42" r="4.3"/>
<circle cx="1105.84" cy="826.32" r="4.3"/>
<circle cx="1070.26" cy="694.99" r="4.3"/>
<circle cx="1103.8" cy="664.36" r="4.3"/>
<circle cx="1071.59" cy="829.83" r="4.3"/>
<circle cx="1094.56" cy="770.2" r="4.3"/>
<circle cx="1065.18" cy="627.18" r="4.3"/>
<circle cx="1092.28" cy="755.64" r="4.3"/>
<circle cx="1073.16" cy="786.66" r="4.3"/>
<circle cx="1085.45" cy="642.31" r="4.3"/>
<circle cx="1049.53" cy="799.25" r="4.3"/>
<circle cx="1112.39" cy="805.08" r="4.3"/>
<circle cx="1128.07" cy="734.6" r="4.3"/>
<circle cx="1069.51" cy="763.93" r="4.3"/>
<circle cx="1141.66" cy="842.46" r="4.3"/>
<circle cx="1081.87" cy="800.97" r="4.3"/>
<circle cx="1096.07" cy="787.79" r="4.3"/>
<circle cx="1060.94" cy="694.1" r="4.3"/>
<circle cx="1139.11" cy="770.59" r="4.3"/>
<circle cx="1115.35" cy="655.59" r="4.3"/>
<circle cx="1068.73" cy="810.55" r="4.3"/>
<circle cx="1081.3" cy="696.05" r="4.3"/>
<circle cx="1112.43" cy="802.9" r="4.3"/>
<circle cx="1060.98" cy="848.95" r="4.3"/>
<circle cx="1106.19" cy="862.26" r="4.3"/>
<circle cx="1093.62" cy="770.41" r="4.3"/>
<circle cx="1089.18" cy="666.08" r="4.3"/>
<circle cx="1147.93" cy="796.78" r="4.3"/>
<circle cx="1108.06" cy="654.14" r="4.3"/>
<circle cx="1102.9" cy="801.56" r="4.3"/>
<circle cx="1159.89" cy="810.51" r="4.3"/>
<circle cx="1103.43" cy="815.92" r="4.3"/>
<circle cx="1113.02" cy="757.65" r="4.3"/>
<circle cx="1139.74" cy="743.91" r="4.3"/>
<circle cx="1127.21" cy="801.31" r="4.3"/>
<circle cx="1072.7" cy="811.92" r="4.3"/>
<circle cx="1131.05" cy="834.07" r="4.3"/>
<circle cx="1080.56" cy="824.66" r="4.3"/>
<circle cx="1112.8" cy="813.73" r="4.3"/>
<circle cx="1066.17" cy="814.76" r="4.3"/>
<circle cx="1084.02" cy="821.04" r="4.3"/>
<circle cx="1106.42" cy="710.36" r="4.3"/>
<circle cx="1098.33" cy="793.29" r="4.3"/>
<circle cx="1067.81" cy="690.08" r="4.3"/>
<circle cx="1104.39" cy="743.76" r="4.3"/>
<circle cx="1096.87" cy="841.05" r="4.3"/>
<circle cx="1114.23" cy="825.7" r="4.3"/>
<circle cx="1119.67" cy="724.98" r="4.3"/>
<circle cx="1084.34" cy="687.45" r="4.3"/>
<circle cx="1105.57" cy="834.77" r="4.3"/>
<circle cx="1115.85" cy="706.13" r="4.3"/>
<circle cx="1031.28" cy="726.06" r="4.3"/>
<circle cx="1128.14" cy="817.78" r="4.3"/>
<circle cx="1182.63" cy="794.95" r="4.3"/>
<circle cx="1143.08" cy="668.45" r="4.3"/>
<circle cx="1121.43" cy="736.78" r="4.3"/>
<circle cx="1046.36" cy="799.94" r="4.3"/>
<circle cx="1093.67" cy="791.47" r="4.3"/>
<circle cx="1132.96" cy="808.16" r="4.3"/>
<circle cx="1093.23" cy="730.31" r="4.3"/>
<circle cx="1207.85" cy="753.47" r="4.3"/>
<circle cx="1216.58" cy="779.49" r="4.3"/>
<circle cx="1122.55" cy="679.98" r="4.3"/>
<circle cx="1064.14" cy="666.5" r="4.3"/>
<circle cx="1109.63" cy="814.93" r="4.3"/>
<circle cx="1093.06" cy="782.22" r="4.3"/>
<circle cx="1140.61" cy="803.93" r="4.3"/>
<circle cx="1164.6" cy="767.8" r="4.3"/>
<circle cx="1099.9" cy="737.93" r="4.3"/>
<circle cx="1081.16" cy="790.22" r="4.3"/>
<circle cx="1059.7" cy="696.77" r="4.3"/>
<circle cx="1148.82" cy="773.22" r="4.3"/>
<circle cx="1081.55" cy="790.49" r="4.3"/>
<circle cx="1087.89" cy="717.5" r="4.3"/>
<circle cx="1101.9" cy="785.96" r="4.3"/>
<circle cx="1101.23" cy="808.28" r="4.3"/>
<circle cx="1069.08" cy="700.02" r="4.3"/>
<circle cx="1132.18" cy="760.34" r="4.3"/>
<circle cx="1023.73" cy="829.41" r="4.3"/>
<circle cx="1039.87" cy="824.25" r="4.3"/>
<circle cx="1115.94" cy="810.15" r="4.3"/>
<circle cx="1079.1" cy="806.6" r="4.3"/>
<circle cx="1090.8" cy="708.39" r="4.3"/>
<circle cx="1122.78" cy="807.78" r="4.3"/>
<circle cx="1091.33" cy="706.69" r="4.3"/>
<circle cx="1084.73" cy="745.41" r="4.3"/>
<circle cx="1139.8" cy="744.3" r="4.3"/>
<circle cx="1078.12" cy="821.72" r="4.3"/>
<circle cx="1066.56" cy="780.33" r="4.3"/>
<circle cx="1076.13" cy="734.52" r="4.3"/>
<circle cx="1105.37" cy="823.36" r="4.3"/>
<circle cx="1115.15" cy="821.07" r="4.3"/>
<circle cx="1112" cy="746.97" r="4.3"/>
<circle cx="1111.62" cy="831.72" r="4.3"/>
<circle cx="1150.51" cy="778.92" r="4.3"/>
<circle cx="1113.74" cy="819.88" r="4.3"/>
<circle cx="1087.69" cy="829" r="4.3"/>
<circle cx="1088.6" cy="792.47" r="4.3"/>
<circle cx="1048.45" cy="853.67" r="4.3"/>
<circle cx="1130.58" cy="712.82" r="4.3"/>
<circle cx="1087.99" cy="858.44" r="4.3"/>
<circle cx="1079.94" cy="864.55" r="4.3"/>
<circle cx="1048.07" cy="694.72" r="4.3"/>
<circle cx="1060.67" cy="803.27" r="4.3"/>
<circle cx="1139.54" cy="820.18" r="4.3"/>
<circle cx="1068.17" cy="816.75" r="4.3"/>
<circle cx="1107.58" cy="824.92" r="4.3"/>
<circle cx="1128" cy="754.18" r="4.3"/>
<circle cx="1161.37" cy="785.46" r="4.3"/>
<circle cx="1080.6" cy="789.91" r="4.3"/>
<circle cx="1073.45" cy="825.04" r="4.3"/>
<circle cx="1098.77" cy="728.25" r="4.3"/>
<circle cx="1166.13" cy="798.15" r="4.3"/>
<circle cx="1169.43" cy="749.75" r="4.3"/>
<circle cx="1054.86" cy="792.75" r="4.3"/>
<circle cx="1104.04" cy="762.23" r="4.3"/>
<circle cx="1153.62" cy="811.45" r="4.3"/>
<circle cx="1125.75" cy="743.33" r="4.3"/>
<circle cx="1087.03" cy="826.01" r="4.3"/>
<circle cx="1111.9" cy="837.58" r="4.3"/>
<circle cx="1077.11" cy="738.8" r="4.3"/>
<circle cx="1113.49" cy="798.43" r="4.3"/>
<circle cx="1108.91" cy="800.18" r="4.3"/>
<circle cx="1114.57" cy="800.18" r="4.3"/>
<circle cx="1129.64" cy="738.48" r="4.3"/>
<circle cx="1109.26" cy="675.81" r="4.3"/>
<circle cx="1111.91" cy="706.23" r="4.3"/>
<circle cx="1138.26" cy="840.22" r="4.3"/>
<circle cx="1115.25" cy="769.73" r="4.3"/>
<circle cx="1130.17" cy="794.16" r="4.3"/>
<circle cx="1134.14" cy="794.25" r="4.3"/>
<circle cx="1082.84" cy="779.21" r="4.3"/>
<circle cx="1112.22" cy="771.07" r="4.3"/>
<circle cx="1073.35" cy="754.95" r="4.3"/>
<circle cx="1244.82" cy="734.21" r="4.3"/>
<circle cx="1086.01" cy="716.1" r="4.3"/>
<circle cx="1188.63" cy="757.65" r="4.3"/>
<circle cx="1092.45" cy="786.85" r="4.3"/>
<circle cx="1136.31" cy="776.71" r="4.3"/>
<circle cx="1087.19" cy="840.85" r="4.3"/>
<circle cx="1104.96" cy="820.37" r="4.3"/>
<circle cx="1162.91" cy="827.18" r="4.3"/>
<circle cx="1128.54" cy="711" r="4.3"/>
<circle cx="1119.18" cy="728.33" r="4.3"/>
<circle cx="1002.92" cy="800.07" r="4.3"/>
<circle cx="1085.08" cy="625.85" r="4.3"/>
<circle cx="1089.86" cy="663.93" r="4.3"/>
<circle cx="1066.24" cy="693.48" r="4.3"/>
<circle cx="1084.6" cy="805.04" r="4.3"/>
<circle cx="1104.78" cy="818.85" r="4.3"/>
<circle cx="1095.05" cy="736.01" r="4.3"/>
<circle cx="1112.34" cy="811.27" r="4.3"/>
<circle cx="1127.79" cy="786.93" r="4.3"/>
<circle cx="1115.88" cy="813.3" r="4.3"/>
<circle cx="1105.37" cy="813.92" r="4.3"/>
<circle cx="1090.08" cy="696.12" r="4.3"/>
<circle cx="1082.63" cy="756.94" r="4.3"/>
<circle cx="1082.47" cy="801.33" r="4.3"/>
<circle cx="1051.29" cy="768.43" r="4.3"/>
<circle cx="1084.57" cy="804.67" r="4.3"/>
<circle cx="1109.42" cy="766.1" r="4.3"/>
<circle cx="1061.66" cy="749.82" r="4.3"/>
<circle cx="1066.73" cy="761.77" r="4.3"/>
<circle cx="1108.08" cy="694.1" r="4.3"/>
<circle cx="1082.73" cy="770.73" r="4.3"/>
<circle cx="1070.13" cy="770.06" r="4.3"/>
<circle cx="1110.86" cy="782.53" r="4.3"/>
<circle cx="1178.89" cy="814.31" r="4.3"/>
<circle cx="1122.7" cy="709.33" r="4.3"/>
<circle cx="1098.83" cy="699.05" r="4.3"/>
<circle cx="1162.94" cy="790.93" r="4.3"/>
<circle cx="1100.5" cy="823.27" r="4.3"/>
<circle cx="1084.79" cy="740.46" r="4.3"/>
<circle cx="1088.73" cy="705.73" r="4.3"/>
<circle cx="1122.82" cy="867.31" r="4.3"/>
<circle cx="1110.95" cy="785.03" r="4.3"/>
<circle cx="1120.6" cy="693.04" r="4.3"/>
<circle cx="1041.2" cy="810.73" r="4.3"/>
<circle cx="1096.25" cy="839.16" r="4.3"/>
<circle cx="1076.7" cy="816.44" r="4.3"/>
<circle cx="1093.38" cy="661.6" r="4.3"/>
<circle cx="1054.62" cy="702.84" r="4.3"/>
<circle cx="1202.38" cy="743.82" r="4.3"/>
<circle cx="1143.27" cy="722.04" r="4.3"/>
<circle cx="1075.67" cy="801.81" r="4.3"/>
<circle cx="1065.27" cy="742.59" r="4.3"/>
<circle cx="994.91" cy="722.01" r="4.3"/>
<circle cx="1156.76" cy="769.85" r="4.3"/>
<circle cx="1136" cy="765.01" r="4.3"/>
<circle cx="1057.74" cy="761.4" r="4.3"/>
<circle cx="1075.37" cy="857.5" r="4.3"/>
<circle cx="1173.75" cy="764.6" r="4.3"/>
<circle cx="1084.8" cy="750.38" r="4.3"/>
<circle cx="1080.12" cy="746.26" r="4.3"/>
<circle cx="1123.36" cy="736.17" r="4.3"/>
<circle cx="1131.54" cy="847.97" r="4.3"/>
<circle cx="1067.76" cy="789.73" r="4.3"/>
<circle cx="1160.1" cy="805.39" r="4.3"/>
<circle cx="1076.14" cy="727.39" r="4.3"/>
<circle cx="1108.48" cy="804.19" r="4.3"/>
<circle cx="1138.58" cy="798.79" r="4.3"/>
<circle cx="1068.54" cy="763.1" r="4.3"/>
<circle cx="1067.19" cy="783.29" r="4.3"/>
<circle cx="1102.31" cy="688.19" r="4.3"/>
<circle cx="1151.03" cy="685.51" r="4.3"/>
<circle cx="1031.14" cy="731.47" r="4.3"/>
<circle cx="1087.84" cy="732.15" r="4.3"/>
<circle cx="1070.59" cy="804.46" r="4.3"/>
<circle cx="1092.55" cy="778.56" r="4.3"/>
<circle cx="1140.69" cy="795.78" r="4.3"/>
<circle cx="1053.69" cy="797.33" r="4.3"/>
<circle cx="1144.48" cy="766.21" r="4.3"/>
<circle cx="1109.8" cy="769.63" r="4.3"/>
<circle cx="1117.27" cy="791.93" r="4.3"/>
<circle cx="1089.2" cy="734.46" r="4.3"/>
<circle cx="1079.24" cy="799.73" r="4.3"/>
<circle cx="1132.6" cy="765.61" r="4.3"/>
<circle cx="1066.51" cy="808.64" r="4.3"/>
<circle cx="1113.86" cy="770.12" r="4.3"/>
<circle cx="1122.35" cy="733.16" r="4.3"/>
<circle cx="1075.37" cy="714.22" r="4.3"/>
<circle cx="1088.03" cy="781.56" r="4.3"/>
<circle cx="1119.87" cy="779.07" r="4.3"/>
<circle cx="1083.35" cy="716.94" r="4.3"/>
<circle cx="1106.02" cy="758.66" r="4.3"/>
<circle cx="1108.74" cy="694.58" r="4.3"/>
<circle cx="1080.6" cy="766.19" r="4.3"/>
<circle cx="1127.52" cy="653.84" r="4.3"/>
<circle cx="1064.63" cy="684.54" r="4.3"/>
<circle cx="1145.62" cy="604.14" r="4.3"/>
<circle cx="1141.87" cy="755.66" r="4.3"/>
<circle cx="1054.37" cy="784.4" r="4.3"/>
<circle cx="1068.65" cy="803.72" r="4.3"/>
<circle cx="1057.4" cy="771.77" r="4.3"/>
<circle cx="1124.76" cy="656.38" r="4.3"/>
<circle cx="1057.62" cy="795.46" r="4.3"/>
<circle cx="1105.37" cy="599.59" r="4.3"/>
<circle cx="1124" cy="805.03" r="4.3"/>
<circle cx="1115.71" cy="714.15" r="4.3"/>
<circle cx="1091.45" cy="827.08" r="4.3"/>
<circle cx="1102.28" cy="777.62" r="4.3"/>
<circle cx="1107.64" cy="800.67" r="4.3"/>
<circle cx="1043.54" cy="704.31" r="4.3"/>
<circle cx="1111.02" cy="837.91" r="4.3"/>
<circle cx="1115.19" cy="848.29" r="4.3"/>
<circle cx="1074.65" cy="838.67" r="4.3"/>
<circle cx="1086.06" cy="794.19" r="4.3"/>
<circle cx="1099.58" cy="770.13" r="4.3"/>
<circle cx="1127.84" cy="814.36" r="4.3"/>
<circle cx="1144.12" cy="712.25" r="4.3"/>
<circle cx="1139.05" cy="714.97" r="4.3"/>
<circle cx="1120.65" cy="744.03" r="4.3"/>
<circle cx="1069.61" cy="798.33" r="4.3"/>
<circle cx="1132.48" cy="859.34" r="4.3"/>
<circle cx="1135.71" cy="767.85" r="4.3"/>
<circle cx="1117.61" cy="789.93" r="4.3"/>
<circle cx="1052.42" cy="703.97" r="4.3"/>
<circle cx="1026.89" cy="643.71" r="4.3"/>
<circle cx="1102.46" cy="694.07" r="4.3"/>
<circle cx="1128.89" cy="794.42" r="4.3"/>
<circle cx="1035.76" cy="669.19" r="4.3"/>
<circle cx="1109.57" cy="730.67" r="4.3"/>
<circle cx="1099.07" cy="735.19" r="4.3"/>
<circle cx="1076.91" cy="760.56" r="4.3"/>
<circle cx="1131.15" cy="764.64" r="4.3"/>
<circle cx="1121.05" cy="821.16" r="4.3"/>
<circle cx="1134.57" cy="785.98" r="4.3"/>
<circle cx="1074.26" cy="808.69" r="4.3"/>
<circle cx="1110.71" cy="854.06" r="4.3"/>
<circle cx="1056.57" cy="754.23" r="4.3"/>
<circle cx="1066.35" cy="772.97" r="4.3"/>
<circle cx="1097.81" cy="797.17" r="4.3"/>
<circle cx="1152.29" cy="801.31" r="4.3"/>
<circle cx="1079.08" cy="777.08" r="4.3"/>
<circle cx="1117.46" cy="802.06" r="4.3"/>
<circle cx="1110.6" cy="728.58" r="4.3"/>
<circle cx="1106.64" cy="773.49" r="4.3"/>
<circle cx="1052.92" cy="711.68" r="4.3"/>
<circle cx="1087.39" cy="824.84" r="4.3"/>
<circle cx="1074.65" cy="770.11" r="4.3"/>
<circle cx="1094.4" cy="857.52" r="4.3"/>
<circle cx="1087.64" cy="760.97" r="4.3"/>
<circle cx="1083.79" cy="809.29" r="4.3"/>
<circle cx="1097.09" cy="786.71" r="4.3"/>
<circle cx="1112.36" cy="727.99" r="4.3"/>
<circle cx="1141.74" cy="760.81" r="4.3"/>
<circle cx="1088.23" cy="627.62" r="4.3"/>
<circle cx="1110.65" cy="819.06" r="4.3"/>
<circle cx="1087.42" cy="757.25" r="4.3"/>
<circle cx="1162.17" cy="823.76" r="4.3"/>
<circle cx="1061.11" cy="643.99" r="4.3"/>
<circle cx="1139.01" cy="773.67" r="4.3"/>
<circle cx="1075.74" cy="783.74" r="4.3"/>
<circle cx="1084.52" cy="798.49" r="4.3"/>
<circle cx="1044.52" cy="792.36" r="4.3"/>
<circle cx="1097.29" cy="821.75" r="4.3"/>
<circle cx="1067.58" cy="621.61" r="4.3"/>
<circle cx="1076.78" cy="770.55" r="4.3"/>
<circle cx="1062.52" cy="698.41" r="4.3"/>
<circle cx="1126.33" cy="800.22" r="4.3"/>
<circle cx="1156.23" cy="615.51" r="4.3"/>
<circle cx="1133.91" cy="667.32" r="4.3"/>
<circle cx="1117.94" cy="731.79" r="4.3"/>
<circle cx="1090.92" cy="772.27" r="4.3"/>
<circle cx="1148.62" cy="746.03" r="4.3"/>
<circle cx="1088.42" cy="708.53" r="4.3"/>
<circle cx="1050.55" cy="789.21" r="4.3"/>
<circle cx="1064.16" cy="798.84" r="4.3"/>
<circle cx="1077.94" cy="712.57" r="4.3"/>
<circle cx="1018.24" cy="793.18" r="4.3"/>
<circle cx="1087.92" cy="814.19" r="4.3"/>
<circle cx="1158.37" cy="750.39" r="4.3"/>
<circle cx="1072.75" cy="678.88" r="4.3"/>
<circle cx="1096.6" cy="737.57" r="4.3"/>
<circle cx="1101.62" cy="807.58" r="4.3"/>
<circle cx="1148.27" cy="833.91" r="4.3"/>
<circle cx="1125.89" cy="768.47" r="4.3"/>
<circle cx="1067.03" cy="724.02" r="4.3"/>
<circle cx="1067.34" cy="779.85" r="4.3"/>
<circle cx="1063.83" cy="821.1" r="4.3"/>
<circle cx="1112.63" cy="816.35" r="4.3"/>
<circle cx="1117" cy="773.02" r="4.3"/>
<circle cx="1101.68" cy="834.43" r="4.3"/>
<circle cx="1110.41" cy="864.58" r="4.3"/>
<circle cx="1110.19" cy="818.18" r="4.3"/>
<circle cx="1104.18" cy="757.4" r="4.3"/>
<circle cx="1081.83" cy="761.37" r="4.3"/>
<circle cx="1069.89" cy="807.49" r="4.3"/>
<circle cx="1000.95" cy="673.27" r="4.3"/>
<circle cx="1104.84" cy="764.56" r="4.3"/>
<circle cx="1113.47" cy="689.21" r="4.3"/>
<circle cx="1165.65" cy="806.41" r="4.3"/>
<circle cx="1081.01" cy="758.96" r="4.3"/>
<circle cx="1113.05" cy="803.63" r="4.3"/>
<circle cx="1085.85" cy="717.98" r="4.3"/>
<circle cx="1094.48" cy="723.41" r="4.3"/>
<circle cx="1066.8" cy="831.88" r="4.3"/>
<circle cx="1071.49" cy="823.53" r="4.3"/>
<circle cx="1123.6" cy="819.73" r="4.3"/>
<circle cx="1056.29" cy="684.04" r="4.3"/>
<circle cx="1080.4" cy="755.43" r="4.3"/>
<circle cx="1096.81" cy="710.32" r="4.3"/>
<circle cx="1104.08" cy="803.54" r="4.3"/>
<circle cx="1062.96" cy="824.99" r="4.3"/>
<circle cx="1061.94" cy="712.13" r="4.3"/>
<circle cx="1117.05" cy="759" r="4.3"/>
<circle cx="1088.03" cy="819.31" r="4.3"/>
<circle cx="1118.16" cy="741.04" r="4.3"/>
<circle cx="1080.87" cy="788.22" r="4.3"/>
<circle cx="1084.9" cy="829.14" r="4.3"/>
<circle cx="1089.68" cy="789.85" r="4.3"/>
<circle cx="1114.08" cy="828.97" r="4.3"/>
<circle cx="1093.4" cy="814.99" r="4.3"/>
<circle cx="1119.29" cy="680.8" r="4.3"/>
<circle cx="1105.16" cy="791.58" r="4.3"/>
<circle cx="1049.62" cy="761.18" r="4.3"/>
<circle cx="1102.77" cy="590.21" r="4.3"/>
<circle cx="1172.31" cy="815.92" r="4.3"/>
<circle cx="1156.03" cy="822.74" r="4.3"/>
<circle cx="1093.01" cy="801.3" r="4.3"/>
<circle cx="1173.96" cy="770.52" r="4.3"/>
<circle cx="1097.38" cy="754.81" r="4.3"/>
<circle cx="1079.93" cy="807.74" r="4.3"/>
<circle cx="1117.48" cy="796.39" r="4.3"/>
<circle cx="1081.2" cy="823.53" r="4.3"/>
<circle cx="1124.67" cy="799.54" r="4.3"/>
<circle cx="1065.09" cy="770.82" r="4.3"/>
<circle cx="1085.08" cy="779.73" r="4.3"/>
<circle cx="1092.78" cy="749.06" r="4.3"/>
<circle cx="1129.96" cy="742.3" r="4.3"/>
<circle cx="1130.94" cy="718" r="4.3"/>
<circle cx="1121.2" cy="832.21" r="4.3"/>
<circle cx="1112.99" cy="818.54" r="4.3"/>
<circle cx="1066.55" cy="799.76" r="4.3"/>
<circle cx="1139.61" cy="751.57" r="4.3"/>
<circle cx="1177.79" cy="728.04" r="4.3"/>
<circle cx="1076.65" cy="792.48" r="4.3"/>
<circle cx="1115.85" cy="808.57" r="4.3"/>
<circle cx="1133.03" cy="720.25" r="4.3"/>
<circle cx="1133.32" cy="807.41" r="4.3"/>
<circle cx="1082.49" cy="819.76" r="4.3"/>
<circle cx="1113.76" cy="717.45" r="4.3"/>
<circle cx="1084.99" cy="709.61" r="4.3"/>
<circle cx="1051.69" cy="832.63" r="4.3"/>
<circle cx="1104.19" cy="834.43" r="4.3"/>
<circle cx="1135.38" cy="831.16" r="4.3"/>
<circle cx="1122.57" cy="698.11" r="4.3"/>
<circle cx="1092.8" cy="799.92" r="4.3"/>
<circle cx="1092.04" cy="822.09" r="4.3"/>
<circle cx="1129.88" cy="727.87" r="4.3"/>
<circle cx="1040.63" cy="789.39" r="4.3"/>
<circle cx="1145.75" cy="778.6" r="4.3"/>
<circle cx="1083.39" cy="782.59" r="4.3"/>
<circle cx="1071.8" cy="851.34" r="4.3"/>
<circle cx="1087.44" cy="788.95" r="4.3"/>
<circle cx="1040.33" cy="828.33" r="4.3"/>
<circle cx="1071.22" cy="755.28" r="4.3"/>
<circle cx="1039.93" cy="834.18" r="4.3"/>
<circle cx="1073.29" cy="746.78" r="4.3"/>
<circle cx="1118.72" cy="630.52" r="4.3"/>
<circle cx="1161.01" cy="795.08" r="4.3"/>
<circle cx="1106.52" cy="786.72" r="4.3"/>
<circle cx="1128.35" cy="737.59" r="4.3"/>
<circle cx="1069.64" cy="813.13" r="4.3"/>
<circle cx="1071.12" cy="765.02" r="4.3"/>
<circle cx="1049.05" cy="795.41" r="4.3"/>
<circle cx="1110.57" cy="696.2" r="4.3"/>
<circle cx="1040.2" cy="815.29" r="4.3"/>
<circle cx="1102.16" cy="751.66" r="4.3"/>
<circle cx="1137.39" cy="749.31" r="4.3"/>
<circle cx="1140.85" cy="708.49" r="4.3"/>
<circle cx="1104.44" cy="837.71" r="4.3"/>
<circle cx="1106.92" cy="686.42" r="4.3"/>
<circle cx="1029.76" cy="759.19" r="4.3"/>
<circle cx="1118.18" cy="777.82" r="4.3"/>
<circle cx="1100.95" cy="799.63" r="4.3"/>
<circle cx="1085.38" cy="813.66" r="4.3"/>
<circle cx="1085.89" cy="835.75" r="4.3"/>
<circle cx="1085.16" cy="846.26" r="4.3"/>
<circle cx="1077.49" cy="731.11" r="4.3"/>
<circle cx="1130.53" cy="733.24" r="4.3"/>
<circle cx="1093.48" cy="776.09" r="4.3"/>
<circle cx="1133.5" cy="631.92" r="4.3"/>
<circle cx="1049.11" cy="787.01" r="4.3"/>
<circle cx="1094.31" cy="781.81" r="4.3"/>
<circle cx="1124.82" cy="798.7" r="4.3"/>
<circle cx="1061.08" cy="688.44" r="4.3"/>
<circle cx="1117.11" cy="671.2" r="4.3"/>
<circle cx="1118.75" cy="609.6" r="4.3"/>
<circle cx="1093.91" cy="701.92" r="4.3"/>
<circle cx="1073.91" cy="850.98" r="4.3"/>
<circle cx="1109.46" cy="746.56" r="4.3"/>
<circle cx="1064.64" cy="795.74" r="4.3"/>
<circle cx="1069.12" cy="793.19" r="4.3"/>
<circle cx="1097.14" cy="785.01" r="4.3"/>
<circle cx="1113.02" cy="744.93" r="4.3"/>
<circle cx="1123.7" cy="800.44" r="4.3"/>
<circle cx="1059.74" cy="805.83" r="4.3"/>
<circle cx="1101.9" cy="692.81" r="4.3"/>
<circle cx="1136.04" cy="811.63" r="4.3"/>
<circle cx="1025.75" cy="827.23" r="4.3"/>
<circle cx="1083.12" cy="787.38" r="4.3"/>
<circle cx="1077.4" cy="847.38" r="4.3"/>
<circle cx="1078.32" cy="729.79" r="4.3"/>
<circle cx="1098.05" cy="843.13" r="4.3"/>
<circle cx="1064.28" cy="709.1" r="4.3"/>
<circle cx="1084.45" cy="834.05" r="4.3"/>
<circle cx="1065.77" cy="764.09" r="4.3"/>
<circle cx="1056.51" cy="796.14" r="4.3"/>
<circle cx="1097.52" cy="732.15" r="4.3"/>
<circle cx="1004.55" cy="843.18" r="4.3"/>
<circle cx="1111.18" cy="803.71" r="4.3"/>
<circle cx="1140.78" cy="760.35" r="4.3"/>
<circle cx="1056.56" cy="668.25" r="4.3"/>
<circle cx="1105.64" cy="788.41" r="4.3"/>
<circle cx="1061.3" cy="792.88" r="4.3"/>
<circle cx="987.05" cy="836.03" r="4.3"/>
<circle cx="1078.63" cy="769.78" r="4.3"/>
<circle cx="1099.06" cy="723.47" r="4.3"/>
<circle cx="1121.16" cy="770.56" r="4.3"/>
<circle cx="1169.99" cy="827.63" r="4.3"/>
<circle cx="1073.48" cy="748.72" r="4.3"/>
<circle cx="1173.8" cy="728.61" r="4.3"/>
<circle cx="1148.66" cy="755.32" r="4.3"/>
<circle cx="1090.83" cy="733.85" r="4.3"/>
<circle cx="1123.45" cy="788.21" r="4.3"/>
<circle cx="1156.76" cy="763.37" r="4.3"/>
<circle cx="1087.59" cy="767.19" r="4.3"/>
<circle cx="1122.56" cy="852.29" r="4.3"/>
<circle cx="1142.32" cy="711.18" r="4.3"/>
<circle cx="1104.14" cy="862.09" r="4.3"/>
<circle cx="1176" cy="785.05" r="4.3"/>
<circle cx="1121.83" cy="698.07" r="4.3"/>
<circle cx="1219.95" cy="829.12" r="4.3"/>
<circle cx="1106.84" cy="818.68" r="4.3"/>
<circle cx="1151.62" cy="799.47" r="4.3"/>
<circle cx="1019.12" cy="781.1" r="4.3"/>
<circle cx="1072.2" cy="723.17" r="4.3"/>
<circle cx="1116.68" cy="745.49" r="4.3"/>
<circle cx="1074.22" cy="752.54" r="4.3"/>
<circle cx="1118.11" cy="803.46" r="4.3"/>
<circle cx="1089.95" cy="675.07" r="4.3"/>
<circle cx="1090.17" cy="657.65" r="4.3"/>
<circle cx="1074.14" cy="799.5" r="4.3"/>
<circle cx="1124.23" cy="710.97" r="4.3"/>
<circle cx="1096.13" cy="831.16" r="4.3"/>
<circle cx="1069.02" cy="764.13" r="4.3"/>
<circle cx="1075.74" cy="714.62" r="4.3"/>
<circle cx="1174.76" cy="782.95" r="4.3"/>
<circle cx="1113.61" cy="752.3" r="4.3"/>
<circle cx="1130.27" cy="789.53" r="4.3"/>
<circle cx="1085.49" cy="801.95" r="4.3"/>
<circle cx="1099.94" cy="819.02" r="4.3"/>
<circle cx="1096.62" cy="771.65" r="4.3"/>
<circle cx="1096.97" cy="783.82" r="4.3"/>
<circle cx="1066.01" cy="771.36" r="4.3"/>
<circle cx="1144.12" cy="727.61" r="4.3"/>
<circle cx="1083.18" cy="697.55" r="4.3"/>
<circle cx="1079.85" cy="810.38" r="4.3"/>
<circle cx="1127.24" cy="666.92" r="4.3"/>
<circle cx="1101.01" cy="808.03" r="4.3"/>
<circle cx="1130.82" cy="686.12" r="4.3"/>
<circle cx="1118.29" cy="762.91" r="4.3"/>
<circle cx="1101.71" cy="822.65" r="4.3"/>
<circle cx="1111.28" cy="803.47" r="4.3"/>
<circle cx="1077.56" cy="720.3" r="4.3"/>
<circle cx="1116.09" cy="831.53" r="4.3"/>
<circle cx="1105.52" cy="796.44" r="4.3"/>
<circle cx="1087.61" cy="797.91" r="4.3"/>
<circle cx="1092.84" cy="785.41" r="4.3"/>
<circle cx="1090.11" cy="767.05" r="4.3"/>
<circle cx="1070.92" cy="809.78" r="4.3"/>
<circle cx="1056.77" cy="739.88" r="4.3"/>
<circle cx="1188.83" cy="774.59" r="4.3"/>
<circle cx="1054.85" cy="651.48" r="4.3"/>
<circle cx="1114.12" cy="834.33" r="4.3"/>
<circle cx="1102.75" cy="736.22" r="4.3"/>
<circle cx="1061.1" cy="736.14" r="4.3"/>
<circle cx="1193.28" cy="784.18" r="4.3"/>
<circle cx="1034.9" cy="786.36" r="4.3"/>
<circle cx="1129.03" cy="771.19" r="4.3"/>
<circle cx="1123.51" cy="811.9" r="4.3"/>
<circle cx="1075.55" cy="761.85" r="4.3"/>
<circle cx="1087.95" cy="797.48" r="4.3"/>
<circle cx="1120.56" cy="789.74" r="4.3"/>
<circle cx="1097.51" cy="703.95" r="4.3"/>
<circle cx="1111.33" cy="803.78" r="4.3"/>
<circle cx="1046.3" cy="852.11" r="4.3"/>
<circle cx="1136.68" cy="761.35" r="4.3"/>
<circle cx="1092.88" cy="767.7" r="4.3"/>
<circle cx="1090.28" cy="771.14" r="4.3"/>
<circle cx="1085.26" cy="739.94" r="4.3"/>
<circle cx="1089.84" cy="867.2" r="4.3"/>
<circle cx="1023.32" cy="792.9" r="4.3"/>
<circle cx="1102.03" cy="798.83" r="4.3"/>
<circle cx="1078.57" cy="852.66" r="4.3"/>
<circle cx="1040.58" cy="685.4" r="4.3"/>
<circle cx="1060.23" cy="787.95" r="4.3"/>
<circle cx="1114.38" cy="771.07" r="4.3"/>
<circle cx="1109.08" cy="754.02" r="4.3"/>
<circle cx="1115.45" cy="750.13" r="4.3"/>
<circle cx="1062.03" cy="778.4" r="4.3"/>
<circle cx="1086.15" cy="771.36" r="4.3"/>
<circle cx="1099.91" cy="746.59" r="4.3"/>
<circle cx="1069.52" cy="794.82" r="4.3"/>
<circle cx="1076.43" cy="769.95" r="4.3"/>
<circle cx="1233.05" cy="837.88" r="4.3"/>
<circle cx="1079.23" cy="767.37" r="4.3"/>
<circle cx="1139.8" cy="721.48" r="4.3"/>
<circle cx="1076.7" cy="773.89" r="4.3"/>
<circle cx="1102.85" cy="808.67" r="4.3"/>
<circle cx="1171.26" cy="787.73" r="4.3"/>
<circle cx="994.92" cy="825.74" r="4.3"/>
<circle cx="1102.28" cy="796.05" r="4.3"/>
<circle cx="1043.77" cy="852.46" r="4.3"/>
<circle cx="1130.77" cy="766.07" r="4.3"/>
<circle cx="1073.27" cy="804.57" r="4.3"/>
<circle cx="1090.51" cy="802.56" r="4.3"/>
<circle cx="1095.76" cy="686.61" r="4.3"/>
<circle cx="1117.66" cy="757.14" r="4.3"/>
<circle cx="1129.29" cy="748.54" r="4.3"/>
<circle cx="1111.75" cy="687.55" r="4.3"/>
<circle cx="1061.5" cy="814.38" r="4.3"/>
<circle cx="1095.41" cy="690.73" r="4.3"/>
<circle cx="1159.42" cy="777.91" r="4.3"/>
<circle cx="1097.15" cy="772.81" r="4.3"/>
<circle cx="1066.7" cy="792.99" r="4.3"/>
<circle cx="1089.99" cy="798.11" r="4.3"/>
<circle cx="1066.48" cy="739.54" r="4.3"/>
<circle cx="1089.29" cy="734.14" r="4.3"/>
<circle cx="1120.2" cy="755.79" r="4.3"/>
<circle cx="1085.95" cy="845.91" r="4.3"/>
<circle cx="1106.11" cy="747.4" r="4.3"/>
<circle cx="1164.67" cy="744.93" r="4.3"/>
<circle cx="1082.78" cy="736.02" r="4.3"/>
<circle cx="1092.5" cy="751.45" r="4.3"/>
<circle cx="1131.35" cy="735.85" r="4.3"/>
<circle cx="1091.28" cy="650.44" r="4.3"/>
<circle cx="1107.24" cy="840.17" r="4.3"/>
<circle cx="1113.72" cy="797.53" r="4.3"/>
<circle cx="1059.29" cy="790" r="4.3"/>
<circle cx="1119.35" cy="644.11" r="4.3"/>
<circle cx="1071.92" cy="702.59" r="4.3"/>
<circle cx="1105.34" cy="710.65" r="4.3"/>
<circle cx="1086.92" cy="801.68" r="4.3"/>
<circle cx="1134.73" cy="679.55" r="4.3"/>
<circle cx="1078.76" cy="800.09" r="4.3"/>
<circle cx="1064.34" cy="710.51" r="4.3"/>
<circle cx="1112.71" cy="749.74" r="4.3"/>
<circle cx="1107.35" cy="728.82" r="4.3"/>
<circle cx="1169.97" cy="707.75" r="4.3"/>
<circle cx="1060.23" cy="760.54" r="4.3"/>
<circle cx="1076.07" cy="781.33" r="4.3"/>
<circle cx="1095.83" cy="692.68" r="4.3"/>
<circle cx="1079.42" cy="806.16" r="4.3"/>
<circle cx="1091.15" cy="795.66" r="4.3"/>
<circle cx="1100.87" cy="686.98" r="4.3"/>
<circle cx="1072.99" cy="628.87" r="4.3"/>
<circle cx="1082.12" cy="790.7" r="4.3"/>
<circle cx="1069.25" cy="718.5" r="4.3"/>
<circle cx="1080.88" cy="764.69" r="4.3"/>
<circle cx="1069.97" cy="790.01" r="4.3"/>
<circle cx="1080.03" cy="769.79" r="4.3"/>
<circle cx="1090.6" cy="771.04" r="4.3"/>
<circle cx="1145.15" cy="864" r="4.3"/>
<circle cx="1109.07" cy="799.75" r="4.3"/>
<circle cx="1063" cy="740.56" r="4.3"/>
<circle cx="1096.65" cy="812.35" r="4.3"/>
<circle cx="1148.05" cy="763.84" r="4.3"/>
<circle cx="1068.54" cy="720.58" r="4.3"/>
<circle cx="1102.51" cy="700.2" r="4.3"/>
<circle cx="1077.49" cy="758.23" r="4.3"/>
<circle cx="1146.76" cy="780.78" r="4.3"/>
<circle cx="1059.04" cy="777.89" r="4.3"/>
<circle cx="1047.38" cy="794" r="4.3"/>
<circle cx="1115.91" cy="697.9" r="4.3"/>
<circle cx="1104.16" cy="821.82" r="4.3"/>
<circle cx="1131.03" cy="781.02" r="4.3"/>
<circle cx="1118.15" cy="863.2" r="4.3"/>
<circle cx="1057.1" cy="802.36" r="4.3"/>
<circle cx="1097.85" cy="781.97" r="4.3"/>
<circle cx="1088.76" cy="767.72" r="4.3"/>
<circle cx="1084.56" cy="728.47" r="4.3"/>
<circle cx="1117.26" cy="685.57" r="4.3"/>
<circle cx="1056.67" cy="794.02" r="4.3"/>
<circle cx="1060.63" cy="859.63" r="4.3"/>
<circle cx="1125.5" cy="739.22" r="4.3"/>
<circle cx="1096.03" cy="844.36" r="4.3"/>
<circle cx="1082.41" cy="658.11" r="4.3"/>
<circle cx="1080.95" cy="765.78" r="4.3"/>
<circle cx="1035.94" cy="713.57" r="4.3"/>
<circle cx="1069.9" cy="819.76" r="4.3"/>
<circle cx="1191.56" cy="797.62" r="4.3"/>
<circle cx="1098.64" cy="829.29" r="4.3"/>
<circle cx="1119.4" cy="716.9" r="4.3"/>
<circle cx="1033.34" cy="808.52" r="4.3"/>
<circle cx="1084.24" cy="786.65" r="4.3"/>
<circle cx="1107.65" cy="824.21" r="4.3"/>
<circle cx="1170.14" cy="846.78" r="4.3"/>
<circle cx="1111.74" cy="808.33" r="4.3"/>
<circle cx="1050.3" cy="800.16" r="4.3"/>
<circle cx="1086.19" cy="819.13" r="4.3"/>
<circle cx="1091.45" cy="800.61" r="4.3"/>
<circle cx="1055.67" cy="815.55" r="4.3"/>
<circle cx="1108.65" cy="803.59" r="4.3"/>
<circle cx="1074.66" cy="832.78" r="4.3"/>
<circle cx="1108.29" cy="757.5" r="4.3"/>
<circle cx="1103.93" cy="793.96" r="4.3"/>
<circle cx="1114.72" cy="808.12" r="4.3"/>
<circle cx="1088.23" cy="820.93" r="4.3"/>
<circle cx="1131.2" cy="805.87" r="4.3"/>
<circle cx="1061.36" cy="742.8" r="4.3"/>
<circle cx="1074.75" cy="820.12" r="4.3"/>
<circle cx="1090.32" cy="795.68" r="4.3"/>
<circle cx="1045.66" cy="814.05" r="4.3"/>
<circle cx="1097.33" cy="802.06" r="4.3"/>
<circle cx="1042.74" cy="667.83" r="4.3"/>
<circle cx="1011.12" cy="858.53" r="4.3"/>
<circle cx="1203.25" cy="730.12" r="4.3"/>
<circle cx="1079.26" cy="814.26" r="4.3"/>
<circle cx="1092.56" cy="658.87" r="4.3"/>
<circle cx="1074.04" cy="762.04" r="4.3"/>
<circle cx="1149.17" cy="726.49" r="4.3"/>
<circle cx="1090.89" cy="658.59" r="4.3"/>
<circle cx="1091.82" cy="808.26" r="4.3"/>
<circle cx="1144.7" cy="755.91" r="4.3"/>
<circle cx="1101.24" cy="724.82" r="4.3"/>
<circle cx="1138.28" cy="822.75" r="4.3"/>
<circle cx="1089.1" cy="822.67" r="4.3"/>
<circle cx="1075.15" cy="819.55" r="4.3"/>
<circle cx="1211.8" cy="824.07" r="4.3"/>
<circle cx="1078.33" cy="785.87" r="4.3"/>
<circle cx="1082.98" cy="807.38" r="4.3"/>
<circle cx="1101.21" cy="683.26" r="4.3"/>
<circle cx="1096.78" cy="828.36" r="4.3"/>
<circle cx="1084.3" cy="806.83" r="4.3"/>
<circle cx="1072.59" cy="830.6" r="4.3"/>
<circle cx="1115.19" cy="735.36" r="4.3"/>
<circle cx="1135.66" cy="729.15" r="4.3"/>
<circle cx="1092.08" cy="842.35" r="4.3"/>
<circle cx="1040" cy="772.86" r="4.3"/>
<circle cx="1213.27" cy="716.75" r="4.3"/>
<circle cx="1141.65" cy="759.44" r="4.3"/>
<circle cx="1070.85" cy="735.56" r="4.3"/>
<circle cx="1046.53" cy="828.19" r="4.3"/>
<circle cx="1101.54" cy="663.26" r="4.3"/>
<circle cx="1128.37" cy="785.11" r="4.3"/>
<circle cx="1058.39" cy="626.05" r="4.3"/>
<circle cx="1077.48" cy="715.14" r="4.3"/>
<circle cx="1105.58" cy="816.24" r="4.3"/>
<circle cx="988.29" cy="764.9" r="4.3"/>
<circle cx="1108.74" cy="683.53" r="4.3"/>
<circle cx="1061.96" cy="756.17" r="4.3"/>
<circle cx="1044.33" cy="808.26" r="4.3"/>
<circle cx="1126.87" cy="809.51" r="4.3"/>
<circle cx="1150.34" cy="791.26" r="4.3"/>
<circle cx="1129.59" cy="808.11" r="4.3"/>
<circle cx="1072.19" cy="763.31" r="4.3"/>
<circle cx="1163.47" cy="808.62" r="4.3"/>
<circle cx="1106.16" cy="763.75" r="4.3"/>
<circle cx="1098.14" cy="756.88" r="4.3"/>
<circle cx="1139.55" cy="789.36" r="4.3"/>
<circle cx="1135.23" cy="766.02" r="4.3"/>
<circle cx="1089.68" cy="785.53" r="4.3"/>
<circle cx="1028.11" cy="765.76" r="4.3"/>
<circle cx="1114.79" cy="717.99" r="4.3"/>
<circle cx="1109.74" cy="722.68" r="4.3"/>
<circle cx="1074.16" cy="767.24" r="4.3"/>
<circle cx="1135.93" cy="684" r="4.3"/>
<circle cx="1091.37" cy="752.22" r="4.3"/>
<circle cx="1138.2" cy="670.71" r="4.3"/>
<circle cx="1148.43" cy="778.15" r="4.3"/>
<circle cx="1113.22" cy="783.75" r="4.3"/>
<circle cx="1095.8" cy="822.58" r="4.3"/>
<circle cx="1114.42" cy="606.36" r="4.3"/>
<circle cx="1106.01" cy="857.28" r="4.3"/>
<circle cx="1070.56" cy="754.64" r="4.3"/>
<circle cx="1119.81" cy="810.36" r="4.3"/>
<circle cx="1069.74" cy="770.02" r="4.3"/>
<circle cx="1080.32" cy="749.59" r="4.3"/>
<circle cx="1084.29" cy="793.11" r="4.3"/>
<circle cx="1063.8" cy="783.78" r="4.3"/>
<circle cx="1094.16" cy="770.25" r="4.3"/>
<circle cx="1075.47" cy="783.55" r="4.3"/>
<circle cx="1088.49" cy="809.9" r="4.3"/>
<circle cx="1087.87" cy="813.67" r="4.3"/>
<circle cx="1069.66" cy="773.39" r="4.3"/>
<circle cx="1133.07" cy="760.93" r="4.3"/>
<circle cx="1089.33" cy="756.65" r="4.3"/>
<circle cx="1062.24" cy="670.11" r="4.3"/>
<circle cx="1142.38" cy="802.72" r="4.3"/>
<circle cx="999.87" cy="799.36" r="4.3"/>
<circle cx="1066.42" cy="639.56" r="4.3"/>
<circle cx="1123.99" cy="697.32" r="4.3"/>
<circle cx="1089.96" cy="718.51" r="4.3"/>
<circle cx="1117.62" cy="789.04" r="4.3"/>
<circle cx="1200.1" cy="752.89" r="4.3"/>
<circle cx="1069.12" cy="709.62" r="4.3"/>
<circle cx="1102.59" cy="799.4" r="4.3"/>
<circle cx="1101.2" cy="663.65" r="4.3"/>
<circle cx="1119.03" cy="776.59" r="4.3"/>
<circle cx="1161.46" cy="701.9" r="4.3"/>
<circle cx="1088.68" cy="814.99" r="4.3"/>
<circle cx="1099.63" cy="783.37" r="4.3"/>
<circle cx="1166.88" cy="792.22" r="4.3"/>
<circle cx="1076.09" cy="818.62" r="4.3"/>
<circle cx="1057.78" cy="764.53" r="4.3"/>
<circle cx="1110.92" cy="749.72" r="4.3"/>
<circle cx="1093.39" cy="763.05" r="4.3"/>
<circle cx="1099.74" cy="799.75" r="4.3"/>
<circle cx="1089.89" cy="749.49" r="4.3"/>
<circle cx="1159.57" cy="641.83" r="4.3"/>
<circle cx="1146.99" cy="757.34" r="4.3"/>
<circle cx="1125.27" cy="706.32" r="4.3"/>
<circle cx="1071.2" cy="769.83" r="4.3"/>
<circle cx="1039.12" cy="840.91" r="4.3"/>
<circle cx="1047.23" cy="711.53" r="4.3"/>
<circle cx="1110.8" cy="723.45" r="4.3"/>
<circle cx="1116.97" cy="740.66" r="4.3"/>
<circle cx="1085.02" cy="842.78" r="4.3"/>
<circle cx="1165.72" cy="838.94" r="4.3"/>
<circle cx="1186.66" cy="725.49" r="4.3"/>
<circle cx="1097.92" cy="790.7" r="4.3"/>
<circle cx="1098.93" cy="767.17" r="4.3"/>
<circle cx="1084.77" cy="800.85" r="4.3"/>
<circle cx="1106.45" cy="769.02" r="4.3"/>
<circle cx="1089.43" cy="749.98" r="4.3"/>
<circle cx="1064.33" cy="812.34" r="4.3"/>
<circle cx="1100.42" cy="796.06" r="4.3"/>
<circle cx="1123.31" cy="703.17" r="4.3"/>
<circle cx="1080.57" cy="776.76" r="4.3"/>
<circle cx="1085.38" cy="835.6" r="4.3"/>
<circle cx="1111.47" cy="702.72" r="4.3"/>
<circle cx="1100.14" cy="832.96" r="4.3"/>
<circle cx="1099.61" cy="777.06" r="4.3"/>
<circle cx="1093.19" cy="737.65" r="4.3"/>
<circle cx="1072.68" cy="747.33" r="4.3"/>
<circle cx="1122.86" cy="727.68" r="4.3"/>
<circle cx="1114.28" cy="804.8" r="4.3"/>
<circle cx="1076.48" cy="780.51" r="4.3"/>
<circle cx="1070.09" cy="706.78" r="4.3"/>
<circle cx="1052.07" cy="856.87" r="4.3"/>
<circle cx="1115.12" cy="816.79" r="4.3"/>
<circle cx="1058.35" cy="751.5" r="4.3"/>
<circle cx="1146.36" cy="689.54" r="4.3"/>
<circle cx="1096.83" cy="787.13" r="4.3"/>
<circle cx="1112.55" cy="824.45" r="4.3"/>
<circle cx="1081.76" cy="756.34" r="4.3"/>
<circle cx="1149.97" cy="764.16" r="4.3"/>
<circle cx="1088.93" cy="732.11" r="4.3"/>
<circle cx="1137.44" cy="762.92" r="4.3"/>
<circle cx="1093.12" cy="713.4" r="4.3"/>
<circle cx="1089.89" cy="768.66" r="4.3"/>
<circle cx="1116.17" cy="845.08" r="4.3"/>
<circle cx="1132.15" cy="796.05" r="4.3"/>
<circle cx="1126.87" cy="646.94" r="4.3"/>
<circle cx="1114.65" cy="787.97" r="4.3"/>
<circle cx="1103.21" cy="754.37" r="4.3"/>
<circle cx="1106.33" cy="818.21" r="4.3"/>
<circle cx="1093.62" cy="703.4" r="4.3"/>
<circle cx="1095.59" cy="737.28" r="4.3"/>
<circle cx="1123.44" cy="836.79" r="4.3"/>
<circle cx="1096.93" cy="667.34" r="4.3"/>
<circle cx="1101.6" cy="764.52" r="4.3"/>
<circle cx="1150.47" cy="776.07" r="4.3"/>
<circle cx="1060.1" cy="771.83" r="4.3"/>
<circle cx="1053.01" cy="772.16" r="4.3"/>
<circle cx="1072.31" cy="795.78" r="4.3"/>
<circle cx="1103.21" cy="725.45" r="4.3"/>
<circle cx="1003.23" cy="804.56" r="4.3"/>
<circle cx="1097.36" cy="853.27" r="4.3"/>
<circle cx="1134.9" cy="760.78" r="4.3"/>
<circle cx="1125.6" cy="817.56" r="4.3"/>
<circle cx="1054.74" cy="685.41" r="4.3"/>
<circle cx="1215.87" cy="612.99" r="4.3"/>
<circle cx="1103.37" cy="755.88" r="4.3"/>
<circle cx="1088.65" cy="738.22" r="4.3"/>
<circle cx="1027.66" cy="851.38" r="4.3"/>
<circle cx="1172.59" cy="775.71" r="4.3"/>
<circle cx="1064" cy="734.11" r="4.3"/>
<circle cx="1051" cy="788" r="4.3"/>
<circle cx="1144.15" cy="797.4" r="4.3"/>
<circle cx="1104.35" cy="713.65" r="4.3"/>
<circle cx="1053.76" cy="784.07" r="4.3"/>
<circle cx="1098.61" cy="832.69" r="4.3"/>
<circle cx="1135.25" cy="831.8" r="4.3"/>
<circle cx="1093.64" cy="801.78" r="4.3"/>
<circle cx="1074.37" cy="596.85" r="4.3"/>
<circle cx="1175.08" cy="828.79" r="4.3"/>
<circle cx="1129.78" cy="718.68" r="4.3"/>
<circle cx="1120.77" cy="758.83" r="4.3"/>
<circle cx="1063.57" cy="822.11" r="4.3"/>
<circle cx="1094.61" cy="839.9" r="4.3"/>
<circle cx="1100.11" cy="658.47" r="4.3"/>
<circle cx="1094.71" cy="739.31" r="4.3"/>
<circle cx="1104.92" cy="806.87" r="4.3"/>
<circle cx="1153.73" cy="794.35" r="4.3"/>
<circle cx="1168.15" cy="753.91" r="4.3"/>
<circle cx="1003.09" cy="808.98" r="4.3"/>
<circle cx="1046.25" cy="839.16" r="4.3"/>
<circle cx="1062.52" cy="770.16" r="4.3"/>
<circle cx="1034.26" cy="827.19" r="4.3"/>
<circle cx="1175.38" cy="798.25" r="4.3"/>
<circle cx="1085.35" cy="787.86" r="4.3"/>
<circle cx="1125.73" cy="859.63" r="4.3"/>
<circle cx="997.51" cy="727.22" r="4.3"/>
<circle cx="1079.87" cy="767.4" r="4.3"/>
<circle cx="1102.78" cy="765.86" r="4.3"/>
<circle cx="1069.4" cy="742.5" r="4.3"/>
<circle cx="1018.51" cy="649.26" r="4.3"/>
<circle cx="1082.5" cy="766.02" r="4.3"/>
<circle cx="1103.62" cy="629.53" r="4.3"/>
<circle cx="1085.36" cy="772.73" r="4.3"/>
<circle cx="1131" cy="796.59" r="4.3"/>
<circle cx="1102.77" cy="795.23" r="4.3"/>
<circle cx="1172.48" cy="795.19" r="4.3"/>
<circle cx="1064.19" cy="820.79" r="4.3"/>
<circle cx="1100.75" cy="820.09" r="4.3"/>
<circle cx="1098.23" cy="761.69" r="4.3"/>
<circle cx="1068.8" cy="747.57" r="4.3"/>
<circle cx="1111.97" cy="620" r="4.3"/>
<circle cx="1137.49" cy="802.5" r="4.3"/>
<circle cx="1100.61" cy="714.49" r="4.3"/>
<circle cx="1147.05" cy="803.11" r="4.3"/>
<circle cx="1105.25" cy="723.76" r="4.3"/>
<circle cx="1100.76" cy="724.89" r="4.3"/>
<circle cx="1073.07" cy="656.8" r="4.3"/>
<circle cx="1156.75" cy="798.03" r="4.3"/>
<circle cx="1100.91" cy="672.19" r="4.3"/>
<circle cx="1096.78" cy="759.02" r="4.3"/>
<circle cx="1122.93" cy="769.58" r="4.3"/>
<circle cx="1118.92" cy="715.23" r="4.3"/>
<circle cx="1064.68" cy="743.45" r="4.3"/>
<circle cx="1170.98" cy="805.51" r="4.3"/>
<circle cx="1100.29" cy="815.18" r="4.3"/>
<circle cx="1034.36" cy="630.81" r="4.3"/>
<circle cx="1020.38" cy="855.42" r="4.3"/>
<circle cx="1135.87" cy="691.6" r="4.3"/>
<circle cx="1068.88" cy="781.28" r="4.3"/>
<circle cx="1062.66" cy="785.6" r="4.3"/>
<circle cx="1069.44" cy="778.67" r="4.3"/>
<circle cx="1140.38" cy="782.25" r="4.3"/>
<circle cx="1049.25" cy="725.06" r="4.3"/>
<circle cx="1120.24" cy="751.63" r="4.3"/>
<circle cx="1139.64" cy="811.07" r="4.3"/>
<circle cx="1056.09" cy="772.04" r="4.3"/>
<circle cx="1055.11" cy="687.71" r="4.3"/>
<circle cx="1144.91" cy="818.91" r="4.3"/>
<circle cx="1122.01" cy="836.1" r="4.3"/>
<circle cx="1113.06" cy="676.06" r="4.3"/>
<circle cx="1131.28" cy="834.14" r="4.3"/>
<circle cx="1102.94" cy="787.03" r="4.3"/>
<circle cx="1098.63" cy="764.14" r="4.3"/>
<circle cx="1092.26" cy="656.28" r="4.3"/>
<circle cx="1086.63" cy="720.4" r="4.3"/>
<circle cx="1044.46" cy="718.41" r="4.3"/>
<circle cx="1206.09" cy="781.43" r="4.3"/>
<circle cx="1072.13" cy="704.04" r="4.3"/>
<circle cx="1110.97" cy="732.58" r="4.3"/>
<circle cx="1129.86" cy="819.65" r="4.3"/>
<circle cx="1045.92" cy="653.58" r="4.3"/>
<circle cx="1104.2" cy="829" r="4.3"/>
<circle cx="1123.53" cy="672.83" r="4.3"/>
<circle cx="1098.17" cy="822.82" r="4.3"/>
<circle cx="1122.15" cy="718.86" r="4.3"/>
<circle cx="1083.43" cy="813.84" r="4.3"/>
<circle cx="1132.37" cy="772.23" r="4.3"/>
<circle cx="1133.53" cy="783.59" r="4.3"/>
<circle cx="1061.3" cy="668.76" r="4.3"/>
<circle cx="1108.91" cy="800.67" r="4.3"/>
<circle cx="1083.21" cy="803.38" r="4.3"/>
<circle cx="1072.84" cy="749.26" r="4.3"/>
<circle cx="1113.03" cy="732.46" r="4.3"/>
<circle cx="1113.86" cy="797.84" r="4.3"/>
<circle cx="1133.16" cy="747.9" r="4.3"/>
<circle cx="1097.46" cy="814.38" r="4.3"/>
<circle cx="1106.51" cy="769.48" r="4.3"/>
<circle cx="1101.7" cy="812.01" r="4.3"/>
<circle cx="1120.4" cy="599.07" r="4.3"/>
<circle cx="1083.68" cy="720.29" r="4.3"/>
<circle cx="1152.73" cy="757.41" r="4.3"/>
<circle cx="1124.16" cy="781.69" r="4.3"/>
<circle cx="1088.95" cy="789.58" r="4.3"/>
<circle cx="1051.12" cy="798.99" r="4.3"/>
<circle cx="1002.9" cy="818.45" r="4.3"/>
<circle cx="1183.59" cy="808.01" r="4.3"/>
<circle cx="1188.2" cy="807.61" r="4.3"/>
<circle cx="1177.51" cy="741.23" r="4.3"/>
<circle cx="1077.42" cy="670.75" r="4.3"/>
<circle cx="1090.75" cy="635.55" r="4.3"/>
<circle cx="1066.48" cy="832.51" r="4.3"/>
<circle cx="1100.46" cy="817.9" r="4.3"/>
<circle cx="1098.08" cy="828.19" r="4.3"/>
<circle cx="1135.44" cy="753.81" r="4.3"/>
<circle cx="1101.69" cy="696.56" r="4.3"/>
<circle cx="1109.3" cy="705.79" r="4.3"/>
<circle cx="1103.75" cy="723.49" r="4.3"/>
<circle cx="1139.25" cy="678.41" r="4.3"/>
<circle cx="1177.57" cy="736.92" r="4.3"/>
<circle cx="1116.06" cy="699.64" r="4.3"/>
<circle cx="1113.75" cy="824.06" r="4.3"/>
<circle cx="1057.22" cy="761.4" r="4.3"/>
<circle cx="1054.71" cy="833.72" r="4.3"/>
<circle cx="1055.25" cy="831.7" r="4.3"/>
<circle cx="1099.12" cy="598.28" r="4.3"/>
<circle cx="1118.99" cy="747.79" r="4.3"/>
<circle cx="1082.31" cy="825.76" r="4.3"/>
<circle cx="1079.04" cy="800.48" r="4.3"/>
<circle cx="1055.08" cy="640.59" r="4.3"/>
<circle cx="1027.82" cy="822.31" r="4.3"/>
<circle cx="1078.91" cy="731.47" r="4.3"/>
<circle cx="1067.37" cy="794.68" r="4.3"/>
<circle cx="1048.56" cy="808.12" r="4.3"/>
<circle cx="1117.38" cy="592.2" r="4.3"/>
<circle cx="1158.24" cy="747.48" r="4.3"/>
<circle cx="1065.8" cy="724.33" r="4.3"/>
<circle cx="1120.46" cy="817.94" r="4.3"/>
<circle cx="1067.98" cy="781.35" r="4.3"/>
<circle cx="1101.14" cy="749.54" r="4.3"/>
<circle cx="1129.93" cy="786.05" r="4.3"/>
<circle cx="1073.51" cy="771.36" r="4.3"/>
<circle cx="1109.3" cy="692.44" r="4.3"/>
<circle cx="1079.2" cy="603.86" r="4.3"/>
<circle cx="1102.91" cy="854.57" r="4.3"/>
<circle cx="1067.43" cy="813.08" r="4.3"/>
<circle cx="1079.51" cy="694.38" r="4.3"/>
<circle cx="1137.37" cy="802.13" r="4.3"/>
<circle cx="1101.98" cy="744.6" r="4.3"/>
<circle cx="1092.88" cy="807.48" r="4.3"/>
<circle cx="1079.56" cy="834.3" r="4.3"/>
<circle cx="1108.66" cy="840.38" r="4.3"/>
<circle cx="1110.94" cy="768.93" r="4.3"/>
<circle cx="1084.13" cy="815.38" r="4.3"/>
<circle cx="1125.36" cy="781.73" r="4.3"/>
<circle cx="1060.55" cy="738.99" r="4.3"/>
<circle cx="1072.73" cy="761.69" r="4.3"/>
<circle cx="1125.15" cy="742.84" r="4.3"/>
<circle cx="1122.84" cy="826.83" r="4.3"/>
<circle cx="1136.71" cy="764.6" r="4.3"/>
<circle cx="1166.77" cy="809.34" r="4.3"/>
<circle cx="1100.48" cy="774.77" r="4.3"/>
<circle cx="1118.23" cy="847.19" r="4.3"/>
<circle cx="1033.91" cy="809.5" r="4.3"/>
<circle cx="1103.81" cy="726.09" r="4.3"/>
<circle cx="1113.67" cy="758.55" r="4.3"/>
<circle cx="1128.6" cy="661.15" r="4.3"/>
<circle cx="1094.74" cy="779.52" r="4.3"/>
<circle cx="1119.46" cy="842.52" r="4.3"/>
<circle cx="1082.34" cy="828.58" r="4.3"/>
<circle cx="1130.91" cy="833.05" r="4.3"/>
<circle cx="1122.95" cy="618.54" r="4.3"/>
<circle cx="1177.97" cy="835.41" r="4.3"/>
<circle cx="1090.83" cy="748.57" r="4.3"/>
<circle cx="1051.08" cy="696.43" r="4.3"/>
<circle cx="1089.35" cy="745.53" r="4.3"/>
<circle cx="1109.81" cy="776.89" r="4.3"/>
<circle cx="1054.77" cy="725.81" r="4.3"/>
<circle cx="1107.36" cy="780.56" r="4.3"/>
<circle cx="1105.35" cy="826.32" r="4.3"/>
<circle cx="1091.55" cy="813.75" r="4.3"/>
<circle cx="1095.36" cy="807.26" r="4.3"/>
<circle cx="1121.2" cy="726.05" r="4.3"/>
<circle cx="1172.57" cy="828.81" r="4.3"/>
<circle cx="1100.28" cy="705.11" r="4.3"/>
<circle cx="1088.15" cy="636.99" r="4.3"/>
<circle cx="1042.64" cy="751.8" r="4.3"/>
<circle cx="1098.78" cy="793.77" r="4.3"/>
<circle cx="1119.97" cy="798.44" r="4.3"/>
<circle cx="1079.89" cy="823.4" r="4.3"/>
<circle cx="1082.27" cy="781" r="4.3"/>
<circle cx="1116.08" cy="796.42" r="4.3"/>
<circle cx="1063.71" cy="606.57" r="4.3"/>
<circle cx="1132.32" cy="723.4" r="4.3"/>
<circle cx="1087.91" cy="775.35" r="4.3"/>
<circle cx="1094.16" cy="773.07" r="4.3"/>
<circle cx="1110.33" cy="679.31" r="4.3"/>
<circle cx="1131.42" cy="776.42" r="4.3"/>
<circle cx="1070.59" cy="845.78" r="4.3"/>
<circle cx="1035.56" cy="842.1" r="4.3"/>
<circle cx="1104.85" cy="742.63" r="4.3"/>
<circle cx="1052.36" cy="666.76" r="4.3"/>
<circle cx="1145.16" cy="811.73" r="4.3"/>
<circle cx="1132.7" cy="769.4" r="4.3"/>
<circle cx="1129.63" cy="735.71" r="4.3"/>
<circle cx="1152.74" cy="649.73" r="4.3"/>
<circle cx="1080.41" cy="737.17" r="4.3"/>
<circle cx="1104.18" cy="806.62" r="4.3"/>
<circle cx="1079.48" cy="722.36" r="4.3"/>
<circle cx="1061.28" cy="628.11" r="4.3"/>
<circle cx="1093.42" cy="793.64" r="4.3"/>
<circle cx="1094.22" cy="745.81" r="4.3"/>
<circle cx="1141.65" cy="650.88" r="4.3"/>
<circle cx="1118.61" cy="710.15" r="4.3"/>
<circle cx="1092.77" cy="799.44" r="4.3"/>
<circle cx="1088.15" cy="752.84" r="4.3"/>
<circle cx="1086.83" cy="778.69" r="4.3"/>
<circle cx="1110.82" cy="770.89" r="4.3"/>
<circle cx="1110.97" cy="692.42" r="4.3"/>
<circle cx="1111.19" cy="712.15" r="4.3"/>
<circle cx="1099.96" cy="721.99" r="4.3"/>
<circle cx="1066.9" cy="790.27" r="4.3"/>
<circle cx="1139.71" cy="702.17" r="4.3"/>
<circle cx="1090.55" cy="787.62" r="4.3"/>
<circle cx="1102.09" cy="810.1" r="4.3"/>
<circle cx="1085.45" cy="708.05" r="4.3"/>
<circle cx="1154.45" cy="584.29" r="4.3"/>
<circle cx="1125.8" cy="828.31" r="4.3"/>
<circle cx="1116.55" cy="775.96" r="4.3"/>
<circle cx="1064.8" cy="801.94" r="4.3"/>
<circle cx="1069" cy="701.45" r="4.3"/>
<circle cx="1111.66" cy="714.6" r="4.3"/>
<circle cx="1077.26" cy="706.69" r="4.3"/>
<circle cx="1088.15" cy="712.67" r="4.3"/>
<circle cx="1157.87" cy="814.25" r="4.3"/>
<circle cx="1088.06" cy="824.07" r="4.3"/>
<circle cx="1079.63" cy="699.68" r="4.3"/>
<circle cx="1102.75" cy="679.02" r="4.3"/>
<circle cx="1118.21" cy="749.71" r="4.3"/>
<circle cx="1154.27" cy="759.51" r="4.3"/>
<circle cx="1064.31" cy="760.06" r="4.3"/>
<circle cx="1114.19" cy="755.29" r="4.3"/>
<circle cx="1109.68" cy="812.79" r="4.3"/>
<circle cx="1079.27" cy="736.59" r="4.3"/>
<circle cx="1094.36" cy="799.1" r="4.3"/>
<circle cx="1127.2" cy="849.33" r="4.3"/>
<circle cx="1070.02" cy="712.51" r="4.3"/>
<circle cx="1231.85" cy="806.41" r="4.3"/>
<circle cx="1103.33" cy="815.82" r="4.3"/>
<circle cx="1105.96" cy="757.86" r="4.3"/>
<circle cx="1075.98" cy="806.22" r="4.3"/>
<circle cx="1092.75" cy="711.36" r="4.3"/>
<circle cx="1108.66" cy="776.76" r="4.3"/>
<circle cx="1109.78" cy="821.12" r="4.3"/>
<circle cx="1066.07" cy="807.14" r="4.3"/>
<circle cx="1086.05" cy="646.28" r="4.3"/>
<circle cx="1075.98" cy="743.15" r="4.3"/>
<circle cx="1079.39" cy="821.03" r="4.3"/>
<circle cx="1098.55" cy="831.02" r="4.3"/>
<circle cx="1081.27" cy="796.08" r="4.3"/>
<circle cx="1087.7" cy="750.94" r="4.3"/>
<circle cx="1109.03" cy="766.7" r="4.3"/>
<circle cx="1067.1" cy="731.98" r="4.3"/>
<circle cx="1115.76" cy="766.84" r="4.3"/>
<circle cx="1099.68" cy="823.35" r="4.3"/>
<circle cx="1044.66" cy="820.28" r="4.3"/>
<circle cx="1077.78" cy="644.55" r="4.3"/>
<circle cx="1157.39" cy="819.93" r="4.3"/>
<circle cx="1093.91" cy="808.25" r="4.3"/>
<circle cx="1085.01" cy="794.77" r="4.3"/>
<circle cx="1079.61" cy="767.63" r="4.3"/>
<circle cx="1101.32" cy="646.71" r="4.3"/>
<circle cx="1126.88" cy="778.89" r="4.3"/>
<circle cx="1098.8" cy="652.97" r="4.3"/>
<circle cx="1117.15" cy="774.82" r="4.3"/>
<circle cx="1125.25" cy="811.82" r="4.3"/>
<circle cx="1134.25" cy="802.36" r="4.3"/>
<circle cx="1096.84" cy="814.24" r="4.3"/>
<circle cx="1145.42" cy="833.61" r="4.3"/>
<circle cx="1082.02" cy="862.15" r="4.3"/>
<circle cx="1136.86" cy="725.2" r="4.3"/>
<circle cx="1120.55" cy="827.78" r="4.3"/>
<circle cx="1123.42" cy="770.5" r="4.3"/>
<circle cx="1086.86" cy="777.18" r="4.3"/>
<circle cx="1132.08" cy="735" r="4.3"/>
<circle cx="1130.23" cy="721.87" r="4.3"/>
<circle cx="1098.8" cy="809.3" r="4.3"/>
<circle cx="1079.83" cy="814.24" r="4.3"/>
<circle cx="1089.17" cy="833.09" r="4.3"/>
<circle cx="1088.79" cy="688.16" r="4.3"/>
<circle cx="1066.36" cy="756.02" r="4.3"/>
<circle cx="1080.66" cy="748.95" r="4.3"/>
<circle cx="1064.46" cy="692.79" r="4.3"/>
<circle cx="1056.96" cy="665.52" r="4.3"/>
<circle cx="1155.39" cy="742.49" r="4.3"/>
<circle cx="1090.74" cy="783.61" r="4.3"/>
<circle cx="1051.76" cy="740.72" r="4.3"/>
<circle cx="1082.39" cy="753.18" r="4.3"/>
<circle cx="1053.94" cy="836.81" r="4.3"/>
<circle cx="1150.12" cy="773.02" r="4.3"/>
<circle cx="1111.37" cy="787.18" r="4.3"/>
<circle cx="1143.81" cy="765.99" r="4.3"/>
<circle cx="1105.74" cy="686.53" r="4.3"/>
<circle cx="1136.24" cy="802.25" r="4.3"/>
<circle cx="1100.53" cy="767.15" r="4.3"/>
<circle cx="1097.39" cy="658.2" r="4.3"/>
<circle cx="1053.91" cy="714.51" r="4.3"/>
<circle cx="1054.19" cy="726.23" r="4.3"/>
<circle cx="1068.52" cy="784.86" r="4.3"/>
<circle cx="1118.87" cy="833.88" r="4.3"/>
<circle cx="1100.46" cy="747.58" r="4.3"/>
<circle cx="1075.37" cy="791.32" r="4.3"/>
<circle cx="1117.37" cy="703.36" r="4.3"/>
<circle cx="1154.57" cy="664.15" r="4.3"/>
<circle cx="1133.18" cy="842.13" r="4.3"/>
<circle cx="1090.16" cy="717.16" r="4.3"/>
<circle cx="1057.13" cy="796.73" r="4.3"/>
<circle cx="1046.33" cy="856.29" r="4.3"/>
<circle cx="1082.12" cy="799.65" r="4.3"/>
<circle cx="1091.89" cy="673.19" r="4.3"/>
<circle cx="1133.14" cy="799.12" r="4.3"/>
<circle cx="1039.06" cy="737.31" r="4.3"/>
<circle cx="1114.01" cy="825.72" r="4.3"/>
<circle cx="1087.49" cy="686.61" r="4.3"/>
<circle cx="1040.83" cy="808.62" r="4.3"/>
<circle cx="1142.58" cy="748.73" r="4.3"/>
<circle cx="1072.14" cy="768.25" r="4.3"/>
<circle cx="1062.95" cy="829.28" r="4.3"/>
<circle cx="1110" cy="729.3" r="4.3"/>
<circle cx="1095.61" cy="815.25" r="4.3"/>
<circle cx="1100.1" cy="656.25" r="4.3"/>
<circle cx="1106.42" cy="791.36" r="4.3"/>
<circle cx="1033.29" cy="732.89" r="4.3"/>
<circle cx="1097.07" cy="824.07" r="4.3"/>
<circle cx="1099.18" cy="818.52" r="4.3"/>
<circle cx="1129.89" cy="818.66" r="4.3"/>
<circle cx="1105.46" cy="856.08" r="4.3"/>
<circle cx="1115.28" cy="807" r="4.3"/>
<circle cx="1077.48" cy="703.73" r="4.3"/>
<circle cx="1079.53" cy="731.79" r="4.3"/>
<circle cx="1093.86" cy="695.3" r="4.3"/>
<circle cx="1114.37" cy="814.1" r="4.3"/>
<circle cx="1102.95" cy="700.77" r="4.3"/>
<circle cx="1111.79" cy="769.29" r="4.3"/>
<circle cx="1120.86" cy="723.87" r="4.3"/>
<circle cx="1060.02" cy="803.7" r="4.3"/>
<circle cx="1019.4" cy="757.71" r="4.3"/>
<circle cx="1054.71" cy="774.1" r="4.3"/>
<circle cx="1043.56" cy="706.79" r="4.3"/>
<circle cx="1087.25" cy="772.19" r="4.3"/>
<circle cx="1104.31" cy="852.57" r="4.3"/>
<circle cx="1091.72" cy="693.43" r="4.3"/>
<circle cx="1116.65" cy="824.72" r="4.3"/>
<circle cx="1057.19" cy="805.74" r="4.3"/>
<circle cx="1103.5" cy="839.96" r="4.3"/>
<circle cx="1092.86" cy="718.8" r="4.3"/>
<circle cx="1068.87" cy="820.27" r="4.3"/>
<circle cx="1145.45" cy="643.65" r="4.3"/>
<circle cx="1082.32" cy="742.18" r="4.3"/>
<circle cx="1069.03" cy="710.94" r="4.3"/>
<circle cx="1112.93" cy="609.57" r="4.3"/>
<circle cx="1175.77" cy="839.99" r="4.3"/>
<circle cx="1100.17" cy="829.99" r="4.3"/>
<circle cx="1098.41" cy="770.48" r="4.3"/>
<circle cx="1093.81" cy="732.36" r="4.3"/>
<circle cx="1152.7" cy="791.58" r="4.3"/>
<circle cx="1122.79" cy="757.36" r="4.3"/>
<circle cx="1052.16" cy="710.1" r="4.3"/>
<circle cx="1132.39" cy="798.46" r="4.3"/>
<circle cx="1079.16" cy="824.38" r="4.3"/>
<circle cx="1105.94" cy="837.38" r="4.3"/>
<circle cx="1101.76" cy="740.54" r="4.3"/>
<circle cx="1047.27" cy="800.64" r="4.3"/>
<circle cx="1090.4" cy="721.49" r="4.3"/>
<circle cx="1097.36" cy="743.05" r="4.3"/>
<circle cx="1130.53" cy="850.13" r="4.3"/>
<circle cx="1118.05" cy="710.5" r="4.3"/>
<circle cx="1136.44" cy="735.21" r="4.3"/>
<circle cx="1087.94" cy="790.54" r="4.3"/>
<circle cx="1075.61" cy="640.03" r="4.3"/>
<circle cx="1134.6" cy="728.21" r="4.3"/>
<circle cx="1099.18" cy="769.74" r="4.3"/>
<circle cx="1103.98" cy="732.2" r="4.3"/>
<circle cx="1111.29" cy="862.65" r="4.3"/>
<circle cx="1078.6" cy="798.05" r="4.3"/>
<circle cx="1078.99" cy="795.26" r="4.3"/>
<circle cx="1120.78" cy="751.85" r="4.3"/>
<circle cx="1064.26" cy="795.12" r="4.3"/>
<circle cx="1091.23" cy="786.79" r="4.3"/>
<circle cx="1119.34" cy="714.78" r="4.3"/>
<circle cx="1126.78" cy="721.85" r="4.3"/>
<circle cx="1142.43" cy="670.7" r="4.3"/>
<circle cx="1047.19" cy="796.87" r="4.3"/>
<circle cx="1088.04" cy="665.13" r="4.3"/>
<circle cx="1123.5" cy="796.75" r="4.3"/>
<circle cx="1054.04" cy="801.15" r="4.3"/>
<circle cx="1095.99" cy="739.74" r="4.3"/>
<circle cx="1120.53" cy="721.09" r="4.3"/>
<circle cx="1107.85" cy="787.43" r="4.3"/>
<circle cx="1082.67" cy="700.45" r="4.3"/>
<circle cx="1131.13" cy="797.83" r="4.3"/>
<circle cx="1054.74" cy="834.09" r="4.3"/>
<circle cx="1078.88" cy="760.65" r="4.3"/>
<circle cx="1093.48" cy="741.14" r="4.3"/>
<circle cx="1090.06" cy="758.01" r="4.3"/>
<circle cx="1061.55" cy="801.91" r="4.3"/>
<circle cx="1121.8" cy="856.63" r="4.3"/>
<circle cx="1053.31" cy="817.43" r="4.3"/>
<circle cx="1195.01" cy="830.55" r="4.3"/>
<circle cx="1141.51" cy="764.36" r="4.3"/>
<circle cx="1155.1" cy="807.7" r="4.3"/>
<circle cx="1131.34" cy="797.39" r="4.3"/>
<circle cx="995.98" cy="823.51" r="4.3"/>
<circle cx="1109.73" cy="736.07" r="4.3"/>
<circle cx="1137.69" cy="708.84" r="4.3"/>
<circle cx="1112.52" cy="783.37" r="4.3"/>
<circle cx="1141" cy="770.7" r="4.3"/>
<circle cx="1059.15" cy="673.07" r="4.3"/>
<circle cx="1096.11" cy="802.21" r="4.3"/>
<circle cx="1111.53" cy="832.23" r="4.3"/>
<circle cx="1117.54" cy="810.42" r="4.3"/>
<circle cx="1092.72" cy="778.33" r="4.3"/>
<circle cx="1062.19" cy="765.48" r="4.3"/>
<circle cx="1137.22" cy="627.82" r="4.3"/>
<circle cx="1149.01" cy="772.06" r="4.3"/>
<circle cx="1102.72" cy="807.29" r="4.3"/>
<circle cx="1019.45" cy="817.37" r="4.3"/>
<circle cx="1056.89" cy="836.62" r="4.3"/>
<circle cx="1057.17" cy="828.42" r="4.3"/>
<circle cx="1168.13" cy="729.75" r="4.3"/>
<circle cx="1073.35" cy="693.92" r="4.3"/>
<circle cx="1066.91" cy="825.69" r="4.3"/>
<circle cx="1126.75" cy="813.46" r="4.3"/>
<circle cx="1091.34" cy="820.5" r="4.3"/>
<circle cx="1035.26" cy="792" r="4.3"/>
<circle cx="1111.87" cy="707.08" r="4.3"/>
<circle cx="1082.4" cy="592.04" r="4.3"/>
<circle cx="1063.75" cy="588.39" r="4.3"/>
<circle cx="1073.41" cy="586.54" r="4.3"/>
<circle cx="1091.11" cy="606.77" r="4.3"/>
<circle cx="1050.48" cy="613.72" r="4.3"/>
<circle cx="1095.99" cy="608.7" r="4.3"/>
<circle cx="1093.08" cy="615.19" r="4.3"/>
<circle cx="1126.75" cy="589.59" r="4.3"/>
<circle cx="1109.09" cy="595.06" r="4.3"/>
<circle cx="1135.8" cy="599.08" r="4.3"/>
<circle cx="1065.25" cy="586.28" r="4.3"/>
<circle cx="1168.11" cy="589.53" r="4.3"/>
<circle cx="1068.94" cy="620.37" r="4.3"/>
<circle cx="1041.87" cy="600.6" r="4.3"/>
<circle cx="1093.43" cy="610.85" r="4.3"/>
<circle cx="1140.62" cy="622.03" r="4.3"/>
<circle cx="1078.02" cy="588.21" r="4.3"/>
<circle cx="1064.08" cy="585.19" r="4.3"/>
<circle cx="1071.33" cy="608.57" r="4.3"/>
<circle cx="1155.72" cy="588.77" r="4.3"/>
<circle cx="1071.19" cy="618.79" r="4.3"/>
<circle cx="1114.26" cy="600.18" r="4.3"/>
<circle cx="798" cy="559.1" r="4.3"/>
<circle cx="801" cy="559.1" r="4.3"/>
<circle cx="804" cy="559.1" r="4.3"/>
<circle cx="830" cy="559.1" r="4.3"/>
<circle cx="834" cy="559.1" r="4.3"/>
<circle cx="838" cy="559.1" r="4.3"/>
<circle cx="842" cy="559.1" r="4.3"/>
<circle cx="846" cy="559.1" r="4.3"/>
<circle cx="990.7" cy="559.1" r="4.3"/>
<circle cx="1046" cy="559.1" r="4.3"/>
<circle cx="1050" cy="559.1" r="4.3"/>
<circle cx="1054" cy="559.1" r="4.3"/>
<circle cx="1058" cy="559.1" r="4.3"/>
<circle cx="1077" cy="559.1" r="4.3"/>
<circle cx="1081" cy="559.1" r="4.3"/>
<circle cx="1085" cy="559.1" r="4.3"/>
<circle cx="1089" cy="559.1" r="4.3"/>
<circle cx="1093" cy="559.1" r="4.3"/>
<circle cx="1097.5" cy="559.1" r="4.3"/>
<circle cx="1109.9" cy="559.1" r="4.3"/>
<circle cx="1135.4" cy="559.1" r="4.3"/>
<circle cx="1160.8" cy="559.1" r="4.3"/>
<circle cx="1171.2" cy="559.1" r="4.3"/>
<circle cx="798" cy="570.3" r="4.3"/>
<circle cx="801" cy="570.3" r="4.3"/>
<circle cx="804" cy="570.3" r="4.3"/>
<circle cx="828" cy="570.3" r="4.3"/>
<circle cx="832" cy="570.3" r="4.3"/>
<circle cx="835" cy="570.3" r="4.3"/>
<circle cx="1081" cy="570.3" r="4.3"/>
<circle cx="1087" cy="570.3" r="4.3"/>
<circle cx="1112.2" cy="570.3" r="4.3"/>
<circle cx="1128.4" cy="570.3" r="4.3"/>
<circle cx="1140" cy="570.3" r="4.3"/>
<circle cx="1149.2" cy="570.3" r="4.3"/>
<circle cx="1166.6" cy="570.3" r="4.3"/>
<circle cx="1175.8" cy="570.3" r="4.3"/>
<circle cx="800" cy="582" r="4.3"/>
<circle cx="823" cy="582" r="4.3"/>
<circle cx="827.5" cy="582" r="4.3"/>
<circle cx="832" cy="582" r="4.3"/>
<circle cx="1108.7" cy="582" r="4.3"/>
<circle cx="1130.7" cy="582" r="4.3"/>
<circle cx="1181.6" cy="582" r="4.3"/>
<circle cx="959.1" cy="690" r="4.3"/>
<circle cx="990.7" cy="660.7" r="4.3"/>
<circle cx="1019.9" cy="893.3" r="4.3"/>
<circle cx="1044.8" cy="890.4" r="4.3"/>
<circle cx="1059.4" cy="885" r="4.3"/>
<circle cx="801.6" cy="893.3" r="4.3"/>
<circle cx="839" cy="903.7" r="4.3"/>
<circle cx="826.5" cy="884.2" r="4.3"/>
<circle cx="1274.5" cy="643" r="4.3"/>
<circle cx="1232" cy="705" r="4.3"/>
<circle cx="1217" cy="657" r="4.3"/>
<circle cx="985" cy="790" r="4.3"/>
</g>
<line x1="772.8" y1="541.9" x2="772.8" y2="922" stroke="#000" stroke-width="2.8"/>
<line x1="771.6" y1="920.7" x2="1298" y2="920.7" stroke="#000" stroke-width="2.8"/>
<line x1="764.6" y1="917.78" x2="772" y2="917.78" stroke="#000" stroke-width="2.8"/>
<g transform="translate(704.81,918.48) scale(1,1.1) translate(0,10.7)"><path transform="translate(0,0) scale(0.014648,-0.014648)" d="M65,455L617,455L617,620L65,620Z" fill="#4d4d4d"/><text x="9.99" y="0" font-family='"Liberation Sans", sans-serif' font-size="30" fill="#4d4d4d">3</text><text x="26.67" y="0" font-family='"Liberation Sans", sans-serif' font-size="30" fill="#4d4d4d">.</text><text x="35.01" y="0" font-family='"Liberation Sans", sans-serif' font-size="30" fill="#4d4d4d">0</text></g>
<line x1="764.6" y1="889.25" x2="772" y2="889.25" stroke="#000" stroke-width="2.8"/>
<g transform="translate(704.81,889.95) scale(1,1.1) translate(0,10.7)"><path transform="translate(0,0) scale(0.014648,-0.014648)" d="M65,455L617,455L617,620L65,620Z" fill="#4d4d4d"/><text x="9.99" y="0" font-family='"Liberation Sans", sans-serif' font-size="30" fill="#4d4d4d">2</text><text x="26.67" y="0" font-family='"Liberation Sans", sans-serif' font-size="30" fill="#4d4d4d">.</text><text x="35.01" y="0" font-family='"Liberation Sans", sans-serif' font-size="30" fill="#4d4d4d">5</text></g>
<line x1="764.6" y1="860.72" x2="772" y2="860.72" stroke="#000" stroke-width="2.8"/>
<g transform="translate(704.81,861.42) scale(1,1.1) translate(0,10.7)"><path transform="translate(0,0) scale(0.014648,-0.014648)" d="M65,455L617,455L617,620L65,620Z" fill="#4d4d4d"/><text x="9.99" y="0" font-family='"Liberation Sans", sans-serif' font-size="30" fill="#4d4d4d">2</text><text x="26.67" y="0" font-family='"Liberation Sans", sans-serif' font-size="30" fill="#4d4d4d">.</text><text x="35.01" y="0" font-family='"Liberation Sans", sans-serif' font-size="30" fill="#4d4d4d">0</text></g>
<line x1="764.6" y1="832.19" x2="772" y2="832.19" stroke="#000" stroke-width="2.8"/>
<g transform="translate(704.81,832.89) scale(1,1.1) translate(0,10.7)"><path transform="translate(0,0) scale(0.014648,-0.014648)" d="M65,455L617,455L617,620L65,620Z" fill="#4d4d4d"/><path transform="translate(9.99,0) scale(0.014648,-0.014648)" d="M763,0L583,0L583,1120Q510,1050 390,985Q260,920 120,880L120,1050Q300,1120 460,1250Q590,1360 646,1420L763,1420Z" fill="#4d4d4d"/><text x="26.67" y="0" font-family='"Liberation Sans", sans-serif' font-size="30" fill="#4d4d4d">.</text><text x="35.01" y="0" font-family='"Liberation Sans", sans-serif' font-size="30" fill="#4d4d4d">5</text></g>
<line x1="764.6" y1="803.66" x2="772" y2="803.66" stroke="#000" stroke-width="2.8"/>
<g transform="translate(704.81,804.36) scale(1,1.1) translate(0,10.7)"><path transform="translate(0,0) scale(0.014648,-0.014648)" d="M65,455L617,455L617,620L65,620Z" fill="#4d4d4d"/><path transform="translate(9.99,0) scale(0.014648,-0.014648)" d="M763,0L583,0L583,1120Q510,1050 390,985Q260,920 120,880L120,1050Q300,1120 460,1250Q590,1360 646,1420L763,1420Z" fill="#4d4d4d"/><text x="26.67" y="0" font-family='"Liberation Sans", sans-serif' font-size="30" fill="#4d4d4d">.</text><text x="35.01" y="0" font-family='"Liberation Sans", sans-serif' font-size="30" fill="#4d4d4d">0</text></g>
<line x1="764.6" y1="775.13" x2="772" y2="775.13" stroke="#000" stroke-width="2.8"/>
<g transform="translate(704.81,775.83) scale(1,1.1) translate(0,10.7)"><path transform="translate(0,0) scale(0.014648,-0.014648)" d="M65,455L617,455L617,620L65,620Z" fill="#4d4d4d"/><text x="9.99" y="0" font-family='"Liberation Sans", sans-serif' font-size="30" fill="#4d4d4d">0</text><text x="26.67" y="0" font-family='"Liberation Sans", sans-serif' font-size="30" fill="#4d4d4d">.</text><text x="35.01" y="0" font-family='"Liberation Sans", sans-serif' font-size="30" fill="#4d4d4d">5</text></g>
<line x1="764.6" y1="746.6" x2="772" y2="746.6" stroke="#000" stroke-width="2.8"/>
<g transform="translate(714.8,747.3) scale(1,1.1) translate(0,10.7)"><text x="0" y="0" font-family='"Liberation Sans", sans-serif' font-size="30" fill="#4d4d4d">0</text><text x="16.68" y="0" font-family='"Liberation Sans", sans-serif' font-size="30" fill="#4d4d4d">.</text><text x="25.02" y="0" font-family='"Liberation Sans", sans-serif' font-size="30" fill="#4d4d4d">0</text></g>
<line x1="764.6" y1="718.07" x2="772" y2="718.07" stroke="#000" stroke-width="2.8"/>
<g transform="translate(714.8,718.77) scale(1,1.1) translate(0,10.7)"><text x="0" y="0" font-family='"Liberation Sans", sans-serif' font-size="30" fill="#4d4d4d">0</text><text x="16.68" y="0" font-family='"Liberation Sans", sans-serif' font-size="30" fill="#4d4d4d">.</text><text x="25.02" y="0" font-family='"Liberation Sans", sans-serif' font-size="30" fill="#4d4d4d">5</text></g>
<line x1="764.6" y1="689.54" x2="772" y2="689.54" stroke="#000" stroke-width="2.8"/>
<g transform="translate(714.8,690.24) scale(1,1.1) translate(0,10.7)"><path transform="translate(0,0) scale(0.014648,-0.014648)" d="M763,0L583,0L583,1120Q510,1050 390,985Q260,920 120,880L120,1050Q300,1120 460,1250Q590,1360 646,1420L763,1420Z" fill="#4d4d4d"/><text x="16.68" y="0" font-family='"Liberation Sans", sans-serif' font-size="30" fill="#4d4d4d">.</text><text x="25.02" y="0" font-family='"Liberation Sans", sans-serif' font-size="30" fill="#4d4d4d">0</text></g>
<line x1="764.6" y1="661.01" x2="772" y2="661.01" stroke="#000" stroke-width="2.8"/>
<g transform="translate(714.8,661.71) scale(1,1.1) translate(0,10.7)"><path transform="translate(0,0) scale(0.014648,-0.014648)" d="M763,0L583,0L583,1120Q510,1050 390,985Q260,920 120,880L120,1050Q300,1120 460,1250Q590,1360 646,1420L763,1420Z" fill="#4d4d4d"/><text x="16.68" y="0" font-family='"Liberation Sans", sans-serif' font-size="30" fill="#4d4d4d">.</text><text x="25.02" y="0" font-family='"Liberation Sans", sans-serif' font-size="30" fill="#4d4d4d">5</text></g>
<line x1="764.6" y1="632.48" x2="772" y2="632.48" stroke="#000" stroke-width="2.8"/>
<g transform="translate(714.8,633.18) scale(1,1.1) translate(0,10.7)"><text x="0" y="0" font-family='"Liberation Sans", sans-serif' font-size="30" fill="#4d4d4d">2</text><text x="16.68" y="0" font-family='"Liberation Sans", sans-serif' font-size="30" fill="#4d4d4d">.</text><text x="25.02" y="0" font-family='"Liberation Sans", sans-serif' font-size="30" fill="#4d4d4d">0</text></g>
<line x1="764.6" y1="603.95" x2="772" y2="603.95" stroke="#000" stroke-width="2.8"/>
<g transform="translate(714.8,604.65) scale(1,1.1) translate(0,10.7)"><text x="0" y="0" font-family='"Liberation Sans", sans-serif' font-size="30" fill="#4d4d4d">2</text><text x="16.68" y="0" font-family='"Liberation Sans", sans-serif' font-size="30" fill="#4d4d4d">.</text><text x="25.02" y="0" font-family='"Liberation Sans", sans-serif' font-size="30" fill="#4d4d4d">5</text></g>
<line x1="764.6" y1="575.42" x2="772" y2="575.42" stroke="#000" stroke-width="2.8"/>
<g transform="translate(714.8,576.12) scale(1,1.1) translate(0,10.7)"><text x="0" y="0" font-family='"Liberation Sans", sans-serif' font-size="30" fill="#4d4d4d">3</text><text x="16.68" y="0" font-family='"Liberation Sans", sans-serif' font-size="30" fill="#4d4d4d">.</text><text x="25.02" y="0" font-family='"Liberation Sans", sans-serif' font-size="30" fill="#4d4d4d">0</text></g>
<line x1="764.6" y1="546.89" x2="772" y2="546.89" stroke="#000" stroke-width="2.8"/>
<g transform="translate(714.8,547.59) scale(1,1.1) translate(0,10.7)"><text x="0" y="0" font-family='"Liberation Sans", sans-serif' font-size="30" fill="#4d4d4d">3</text><text x="16.68" y="0" font-family='"Liberation Sans", sans-serif' font-size="30" fill="#4d4d4d">.</text><text x="25.02" y="0" font-family='"Liberation Sans", sans-serif' font-size="30" fill="#4d4d4d">5</text></g>
<line x1="795.3" y1="920" x2="795.3" y2="929" stroke="#000" stroke-width="2.8"/>
<g transform="translate(786.96,960) scale(1,1.1)"><text x="0" y="0" font-family='"Liberation Sans", sans-serif' font-size="30" fill="#4d4d4d">0</text></g>
<line x1="834.28" y1="920" x2="834.28" y2="929" stroke="#000" stroke-width="2.8"/>
<g transform="translate(825.94,960) scale(1,1.1)"><text x="0" y="0" font-family='"Liberation Sans", sans-serif' font-size="30" fill="#4d4d4d">2</text></g>
<line x1="873.26" y1="920" x2="873.26" y2="929" stroke="#000" stroke-width="2.8"/>
<g transform="translate(864.92,960) scale(1,1.1)"><text x="0" y="0" font-family='"Liberation Sans", sans-serif' font-size="30" fill="#4d4d4d">4</text></g>
<line x1="912.24" y1="920" x2="912.24" y2="929" stroke="#000" stroke-width="2.8"/>
<g transform="translate(903.9,960) scale(1,1.1)"><text x="0" y="0" font-family='"Liberation Sans", sans-serif' font-size="30" fill="#4d4d4d">6</text></g>
<line x1="951.22" y1="920" x2="951.22" y2="929" stroke="#000" stroke-width="2.8"/>
<g transform="translate(942.88,960) scale(1,1.1)"><text x="0" y="0" font-family='"Liberation Sans", sans-serif' font-size="30" fill="#4d4d4d">8</text></g>
<line x1="990.2" y1="920" x2="990.2" y2="929" stroke="#000" stroke-width="2.8"/>
<g transform="translate(973.52,960) scale(1,1.1)"><path transform="translate(0,0) scale(0.014648,-0.014648)" d="M763,0L583,0L583,1120Q510,1050 390,985Q260,920 120,880L120,1050Q300,1120 460,1250Q590,1360 646,1420L763,1420Z" fill="#4d4d4d"/><text x="16.68" y="0" font-family='"Liberation Sans", sans-serif' font-size="30" fill="#4d4d4d">0</text></g>
<line x1="1029.18" y1="920" x2="1029.18" y2="929" stroke="#000" stroke-width="2.8"/>
<g transform="translate(1012.5,960) scale(1,1.1)"><path transform="translate(0,0) scale(0.014648,-0.014648)" d="M763,0L583,0L583,1120Q510,1050 390,985Q260,920 120,880L120,1050Q300,1120 460,1250Q590,1360 646,1420L763,1420Z" fill="#4d4d4d"/><text x="16.68" y="0" font-family='"Liberation Sans", sans-serif' font-size="30" fill="#4d4d4d">2</text></g>
<line x1="1068.16" y1="920" x2="1068.16" y2="929" stroke="#000" stroke-width="2.8"/>
<g transform="translate(1051.48,960) scale(1,1.1)"><path transform="translate(0,0) scale(0.014648,-0.014648)" d="M763,0L583,0L583,1120Q510,1050 390,985Q260,920 120,880L120,1050Q300,1120 460,1250Q590,1360 646,1420L763,1420Z" fill="#4d4d4d"/><text x="16.68" y="0" font-family='"Liberation Sans", sans-serif' font-size="30" fill="#4d4d4d">4</text></g>
<line x1="1107.14" y1="920" x2="1107.14" y2="929" stroke="#000" stroke-width="2.8"/>
<g transform="translate(1090.46,960) scale(1,1.1)"><path transform="translate(0,0) scale(0.014648,-0.014648)" d="M763,0L583,0L583,1120Q510,1050 390,985Q260,920 120,880L120,1050Q300,1120 460,1250Q590,1360 646,1420L763,1420Z" fill="#4d4d4d"/><text x="16.68" y="0" font-family='"Liberation Sans", sans-serif' font-size="30" fill="#4d4d4d">6</text></g>
<line x1="1146.12" y1="920" x2="1146.12" y2="929" stroke="#000" stroke-width="2.8"/>
<g transform="translate(1129.44,960) scale(1,1.1)"><path transform="translate(0,0) scale(0.014648,-0.014648)" d="M763,0L583,0L583,1120Q510,1050 390,985Q260,920 120,880L120,1050Q300,1120 460,1250Q590,1360 646,1420L763,1420Z" fill="#4d4d4d"/><text x="16.68" y="0" font-family='"Liberation Sans", sans-serif' font-size="30" fill="#4d4d4d">8</text></g>
<line x1="1185.1" y1="920" x2="1185.1" y2="929" stroke="#000" stroke-width="2.8"/>
<g transform="translate(1168.42,960) scale(1,1.1)"><text x="0" y="0" font-family='"Liberation Sans", sans-serif' font-size="30" fill="#4d4d4d">2</text><text x="16.68" y="0" font-family='"Liberation Sans", sans-serif' font-size="30" fill="#4d4d4d">0</text></g>
<line x1="1224.08" y1="920" x2="1224.08" y2="929" stroke="#000" stroke-width="2.8"/>
<g transform="translate(1207.4,960) scale(1,1.1)"><text x="0" y="0" font-family='"Liberation Sans", sans-serif' font-size="30" fill="#4d4d4d">2</text><text x="16.68" y="0" font-family='"Liberation Sans", sans-serif' font-size="30" fill="#4d4d4d">2</text></g>
<line x1="1263.06" y1="920" x2="1263.06" y2="929" stroke="#000" stroke-width="2.8"/>
<g transform="translate(1246.38,960) scale(1,1.1)"><text x="0" y="0" font-family='"Liberation Sans", sans-serif' font-size="30" fill="#4d4d4d">2</text><text x="16.68" y="0" font-family='"Liberation Sans", sans-serif' font-size="30" fill="#4d4d4d">4</text></g>
<text x="1019.9" y="1001.4" text-anchor="middle" font-family='"Liberation Serif", serif' font-size="34" font-weight="bold" fill="#000">Predicted concentrations (μmol/L)</text>
<text transform="translate(691.6,743) rotate(-90)" text-anchor="middle" font-family='"Liberation Serif", serif' font-size="34" font-weight="bold" fill="#000">NPDE</text>
<text x="740.2" y="521" text-anchor="start" font-family='"Liberation Serif", serif' font-size="31" font-weight="bold" fill="#000">(d)</text>
</svg>
</body></html>
